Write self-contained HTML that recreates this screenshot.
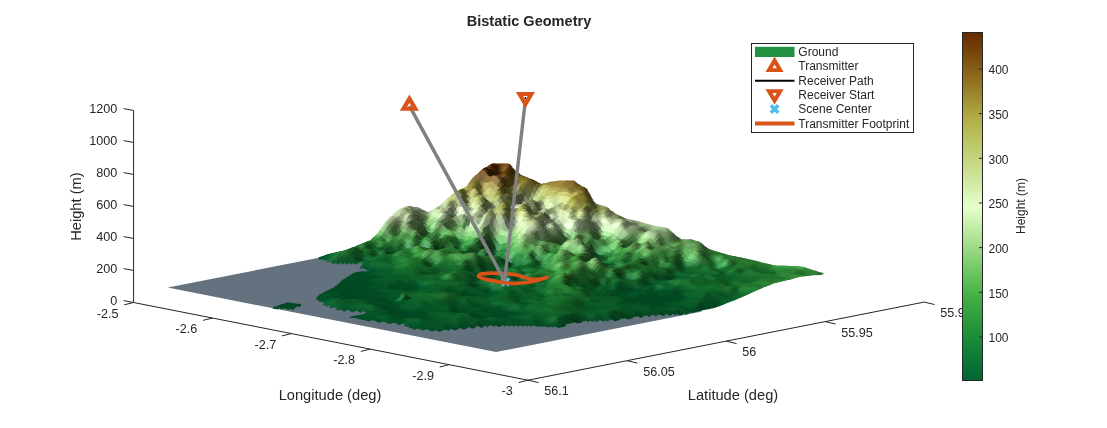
<!DOCTYPE html>
<html><head><meta charset="utf-8"><title>Bistatic Geometry</title>
<style>html,body{margin:0;padding:0;background:#fff}svg{display:block;font-family:"Liberation Sans",sans-serif;will-change:transform;transform:translateZ(0)}</style>
</head><body>
<svg width="1107" height="428" viewBox="0 0 1107 428">
<rect width="1107" height="428" fill="#fff"/>
<g stroke="#262626" stroke-width="1" fill="none">
<path d="M133.6 110.5V302.5"/>
<path d="M133.6 302.5l-10 -1.9"/>
<path d="M133.6 270.5l-10 -1.9"/>
<path d="M133.6 238.5l-10 -1.9"/>
<path d="M133.6 206.5l-10 -1.9"/>
<path d="M133.6 174.5l-10 -1.9"/>
<path d="M133.6 142.5l-10 -1.9"/>
<path d="M133.6 110.5l-10 -1.9"/>
<path d="M133.6 302.5L528.0 380.2"/>
<path d="M133.6 302.5l-9.4 2.3"/>
<path d="M212.48 318.04l-9.4 2.3"/>
<path d="M291.36 333.58l-9.4 2.3"/>
<path d="M370.24 349.12l-9.4 2.3"/>
<path d="M449.12 364.66l-9.4 2.3"/>
<path d="M528 380.2l-9.4 2.3"/>
<path d="M528.0 380.2L924.1 302.1"/>
<path d="M528 380.2l10.5 2.4"/>
<path d="M627.02 360.68l10.5 2.4"/>
<path d="M726.05 341.15l10.5 2.4"/>
<path d="M825.08 321.62l10.5 2.4"/>
<path d="M924.1 302.1l10.5 2.4"/>
</g>
<g font-size="12.6" fill="#262626">
<text x="117.2" y="305.1" text-anchor="end">0</text>
<text x="117.2" y="273.1" text-anchor="end">200</text>
<text x="117.2" y="241.1" text-anchor="end">400</text>
<text x="117.2" y="209.1" text-anchor="end">600</text>
<text x="117.2" y="177.1" text-anchor="end">800</text>
<text x="117.2" y="145.1" text-anchor="end">1000</text>
<text x="117.2" y="113.1" text-anchor="end">1200</text>
<text x="118.4" y="317.6" text-anchor="end">-2.5</text>
<text x="197.28" y="333.14" text-anchor="end">-2.6</text>
<text x="276.16" y="348.68" text-anchor="end">-2.7</text>
<text x="355.04" y="364.22" text-anchor="end">-2.8</text>
<text x="433.92" y="379.76" text-anchor="end">-2.9</text>
<text x="512.8" y="395.3" text-anchor="end">-3</text>
<text x="544.2" y="395.3">56.1</text>
<text x="643.23" y="375.78">56.05</text>
<text x="742.25" y="356.25">56</text>
<text x="841.28" y="336.73">55.95</text>
<text x="940.3" y="317.2">55.9</text>
</g>
<g font-size="14.67" fill="#262626" text-anchor="middle">
<text x="330" y="400.3">Longitude (deg)</text>
<text x="733" y="400.3">Latitude (deg)</text>
<text transform="translate(81.3 206.6) rotate(-90)">Height (m)</text>
</g>
<text x="529" y="25.5" font-size="14.56" font-weight="bold" fill="#262626" text-anchor="middle">Bistatic Geometry</text>
<path d="M167.7 287.6L496.1 352.1L702 311.5L690 305L500 300L380 268L345 258L319 257.8Z" fill="#64717f"/>
<defs><linearGradient id="ul" gradientUnits="userSpaceOnUse" x1="0" y1="163" x2="0" y2="300"><stop offset="0" stop-color="#4a2a10"/><stop offset=".12" stop-color="#6e5a22"/><stop offset=".27" stop-color="#8c8a4a"/><stop offset=".45" stop-color="#8fa07c"/><stop offset=".62" stop-color="#3f8550"/><stop offset=".8" stop-color="#1c6a35"/><stop offset="1" stop-color="#145c2e"/></linearGradient></defs>
<path fill="url(#ul)" d="M319.0 259.5L323.0 257.2L346.7 251.4L370.0 242.1L377.0 236.2L385.3 223.4L398.0 211.7L408.6 207.0L419.0 209.4L428.5 214.1L440.0 207.0L443.4 204.2L455.0 193.8L466.7 187.9L473.7 178.6L483.0 170.4L493.6 164.6L499.4 165.2L510.0 165.2L514.6 171.6L522.8 177.4L532.0 180.9L541.5 185.6L550.8 183.2L560.0 182.1L574.0 182.1L580.0 186.8L586.9 189.8L595.0 204.9L606.7 208.4L616.0 215.5L625.4 220.1L637.0 222.5L653.5 227.2L667.5 229.5L676.8 237.6L681.5 241.2L690.8 240.7L700.0 243.5L708.4 250.5L726.7 256.2L750.0 260.9L773.5 266.8L801.5 267.9L823.7 274.9L796.8 275.5L773.5 281.0L757.0 288.0L738.4 296.5L715.0 305.5L700.0 311.0L689.5 313.2L670.8 314.0L640.5 316.2L610.0 320.2L582.0 321.0L560.0 326.0L527.0 325.0L503.5 325.0L480.0 326.0L456.8 328.6L438.0 330.0L410.0 327.4L405.4 324.0L363.4 319.0L375.0 311.5L340.0 309.5L327.0 305.0L318.5 298.5L322.0 294.6L336.0 287.6L345.4 279.4L357.0 272.6L376.0 272.6L363.0 268.6L365.5 263.5L356.0 263.8L333.0 263.5L325.0 259.5Z"/>
<g transform="scale(.1)">
<path fill="#542e07" d="M4926 1641l27 10 22-1 27 11 22-25-27 0-22-2-27-2z"/>
<path fill="#683e13" d="M4992 1661l32 5 22-30-32 0z"/>
<path fill="#7a4d21" d="M5014 1666l32 3 21-33-31 0z"/>
<path fill="#83552a" d="M5036 1669l32 1 21-34-32 0z"/>
<path fill="#71461f" d="M5058 1670l31-2 22-23-32-9z"/>
<path fill="#46280b" d="M5079 1668l32 1 22 6-32-30z"/>
<path fill="#2c1b05" d="M5101 1669l32 35 22-1-32-28z"/>
<path fill="#39280a" d="M5123 1704l32 31 22-17-32-15z"/>
<path fill="#4e3b10" d="M5145 1735l32 11 22-12-32-16z"/>
<path fill="#564616" d="M5167 1746l27 14 22 6 22 4 27 8 21 0-26-8-22-8-22-13-27-15z"/>
<path fill="#4a4116" d="M5298 1798l27 6 27 11 22 2-27-11-27-10z"/>
<path fill="#4c461a" d="M5364 1825l32 14 22 0-32-11z"/>
<path fill="#686226" d="M5386 1839l32 14 22-18-32 4z"/>
<path fill="#897c2e" d="M5408 1853l27-6 22-7 26 0 22-22-27 6-21 5-27 6z"/>
<path fill="#938035" d="M5473 1840l27 4 27 2 22-34-27 2-27 4z"/>
<path fill="#9d843c" d="M5517 1846l27-4 22-3 27 2 22-36-27 1-22 3-27 3z"/>
<path fill="#a38643" d="M5583 1841l27 2 27 0 22-38-27 0-27 0z"/>
<path fill="#9a7a39" d="M5627 1843l32-4 21-34-31 0z"/>
<path fill="#8b682d" d="M5649 1839l27-5 21 2 27 2 22-32-27-1-22 0-27 0z"/>
<path fill="#7a5b28" d="M5714 1838l32 3 22-18-32-17z"/>
<path fill="#604918" d="M5736 1841l27 18 27 16 22-20-27-15-27-17z"/>
<path fill="#6e5a1f" d="M5780 1875l27 11 27 2 22-14-27-9-27-10z"/>
<path fill="#544415" d="M5824 1888l32 4 22-3-32-15z"/>
<path fill="#363112" d="M5846 1892l27 17 26 41 22 20-27-41-26-40z"/>
<path fill="#38391b" d="M5889 1950l32 45 22 16-32-41z"/>
<path fill="#3e4325" d="M5911 1995l32 40 22 1-32-25z"/>
<path fill="#59623b" d="M5933 2035l32 21 22-13-32-7z"/>
<path fill="#7c8955" d="M5955 2056l32 10 22-17-32-6z"/>
<path fill="#909f65" d="M5977 2066l27 8 22 6 27 4 22-14-27-8-22-6-27-7z"/>
<path fill="#768355" d="M6043 2084l32 7 21-4-31-17z"/>
<path fill="#67735b" d="M6174 2159l27 8 22 11 27 11 22-1-27-8-22-10-27-11z"/>
<path fill="#748466" d="M6240 2189l32 9 21-6-31-4z"/>
<path fill="#809370" d="M6262 2198l32 9 21-10-32-5z"/>
<path fill="#8ba079" d="M6284 2207l26 6 22 4 22 6 27 11 22-17-27-6-22-5-22-5-27-4z"/>
<path fill="#94ad81" d="M6371 2234l32 9 22-20-32-6z"/>
<path fill="#9ab786" d="M6393 2243l27 6 22 5 22 7 22 10 26 8 22-25-27-6-21-6-22-6-22-7-27-6z"/>
<path fill="#a8ca93" d="M6502 2279l27 5 22 4 22 1 27 1 22-21-27-3-22-4-22-3-27-5z"/>
<path fill="#9dbd89" d="M6590 2290l27 3 27 4 22-20-27-4-27-4z"/>
<path fill="#92af7f" d="M6634 2297l32 1 22-12-32-9z"/>
<path fill="#6d845e" d="M6656 2298l32 4 21 3-31-19z"/>
<path fill="#4b5f41" d="M6678 2302l32 18 21 4-32-19z"/>
<path fill="#3e5235" d="M6700 2320l31 17 22 6-32-19z"/>
<path fill="#2d4627" d="M6743 2351l27 22 27 18 22 4-27-17-27-16z"/>
<path fill="#3e6937" d="M6787 2391l32 16 22-12-32 0z"/>
<path fill="#548d4a" d="M6809 2407l32-2 22-11-32 1z"/>
<path fill="#629b55" d="M6831 2405l27 2 22 1 27 0 21-12-26-5-22 2-27 1z"/>
<path fill="#56884b" d="M6897 2408l26 5 22 8 27 6 22-11-27-7-22-7-27-6z"/>
<path fill="#497740" d="M6962 2427l32 5 22-4-32-12z"/>
<path fill="#365c2f" d="M6984 2432l32 10 22 4-32-18z"/>
<path fill="#22451f" d="M7006 2442l27 17 22 18 27 19 22-2-27-11-22-18-27-19z"/>
<path fill="#265d25" d="M7072 2496l32 8 21-4-31-6z"/>
<path fill="#256327" d="M7115 2509l27 7 22 9 22 7 22 6 22 5 22 7 22 7 27 4 21-5-26-4-22-5-22-6-22-7-22-6-22-7-22-7-27-7z"/>
<path fill="#256829" d="M7313 2568l31 3 22-6-32-4z"/>
<path fill="#256728" d="M7356 2573l27 5 22 4 27 9 22-8-27-5-22-4-27-5z"/>
<path fill="#28742e" d="M7422 2591l27 7 22 6 22 7 22 7 21 6 22 5 27 7 22-17-27-6-22-5-22-6-21-5-22-5-22-5-27-4z"/>
<path fill="#297c33" d="M7575 2636l27 7 22 6 22 6 22 5 22 7 27 7 21-22-26-6-22-5-22-6-22-5-22-6-27-5z"/>
<path fill="#338c3f" d="M7707 2674l32 7 21-28-32-1z"/>
<path fill="#409b46" d="M7729 2681l26 2 22 1 22 0 22 0 22 0 22 1 22 1 22 0 22 1 26 2 22-28-27 0-22-1-21-1-22-1-22-1-22-1-22-1-22 0-22-1-27-1z"/>
<path fill="#4ba34c" d="M7947 2689l27 2 22 3 27 2 22-25-27-7-22-2-27-1z"/>
<path fill="#3f913f" d="M8013 2696l32 4 22-22-32-7z"/>
<path fill="#368436" d="M8035 2700l27 3 27 5 22-16-27-7-27-7z"/>
<path fill="#2f7a31" d="M8079 2708l27 5 22 6 26 5 22-12-27-7-21-6-27-7z"/>
<path fill="#296f2c" d="M8144 2724l27 5 22 7 27 7 22-10-27-7-22-7-27-7z"/>
<path fill="#512c06" d="M4904 1653l27-4 27 4 22-11-27 1-27-10z"/>
<path fill="#472705" d="M4948 1653l32 7 22-7-32-11z"/>
<path fill="#52320c" d="M4970 1660l32 21 22-23-32-5z"/>
<path fill="#724e20" d="M4992 1681l32 13 22-33-32-3z"/>
<path fill="#89602d" d="M5014 1694l27 3 27-2 21-35-26 2-27-1z"/>
<path fill="#694216" d="M5058 1695l31-8 22-26-32-1z"/>
<path fill="#402609" d="M5079 1687l32 4 22 5-32-35z"/>
<path fill="#2f1f07" d="M5101 1691l32 35 22 1-32-31z"/>
<path fill="#40310d" d="M5123 1726l32 32 22-20-32-11z"/>
<path fill="#604e1a" d="M5145 1758l32 18 22-24-32-14z"/>
<path fill="#6f5b1e" d="M5167 1776l27 0 27-4 22-10-27-4-27-6z"/>
<path fill="#5d4b16" d="M5211 1772l32 3 22-5-32-8z"/>
<path fill="#514214" d="M5233 1775l27 3 27 10 21 2-27-11-26-9z"/>
<path fill="#483d14" d="M5298 1795l32 9 22 3-32-11z"/>
<path fill="#423a14" d="M5342 1815l32 11 22 5-32-14z"/>
<path fill="#4d471a" d="M5364 1826l32 20 22-1-32-14z"/>
<path fill="#746d2b" d="M5386 1846l32 16 22-23-32 6z"/>
<path fill="#9b9040" d="M5408 1862l32 1 22-31-32 7z"/>
<path fill="#a19444" d="M5430 1863l27-3 27-1 21-23-27-4-26 0z"/>
<path fill="#9c8b3e" d="M5474 1859l26 1 22 3 27 3 22-35-27 3-22 4-27-2z"/>
<path fill="#a28e43" d="M5539 1866l27 1 27-3 22-29-27-2-27-2z"/>
<path fill="#9c843b" d="M5583 1864l27 2 27-5 22-30-27 4-27 0z"/>
<path fill="#8f7332" d="M5627 1861l27-6 22 3 21 6 27 6 22-37-27-3-22-2-21-2-27 5z"/>
<path fill="#7d652c" d="M5714 1870l32 6 22-25-32-18z"/>
<path fill="#715e26" d="M5736 1876l32 18 22-27-32-16z"/>
<path fill="#7d6927" d="M5758 1894l27 10 27-4 22-20-27-2-27-11z"/>
<path fill="#69551b" d="M5802 1900l32-9 22-7-32-4z"/>
<path fill="#483b12" d="M5824 1891l32 12 22-2-32-17z"/>
<path fill="#353113" d="M5846 1903l27 23 27 51 21 10-27-45-26-41z"/>
<path fill="#383b1d" d="M5890 1977l31 38 22 12-32-40z"/>
<path fill="#414628" d="M5911 2015l32 26 22 7-32-21z"/>
<path fill="#565f39" d="M5933 2041l32 25 22-8-32-10z"/>
<path fill="#748151" d="M5955 2066l32 15 22-15-32-8z"/>
<path fill="#8c9c65" d="M5977 2081l32 11 22-20-32-6z"/>
<path fill="#95a76d" d="M5999 2092l32 4 22-20-32-4z"/>
<path fill="#616d53" d="M6174 2157l32 11 22 2-32-11z"/>
<path fill="#738266" d="M6240 2189l32 12 22-2-32-9z"/>
<path fill="#7d906e" d="M6262 2201l27 6 21 5 22 8 22 16 27 17 22-18-27-9-22-11-22-6-22-4-26-6z"/>
<path fill="#8ca97a" d="M6371 2253l32 11 22-23-32-6z"/>
<path fill="#93b27f" d="M6393 2264l27 3 27 1 22-15-27-7-27-5z"/>
<path fill="#86a574" d="M6437 2268l27 14 27 12 21-23-26-8-27-10z"/>
<path fill="#93b87f" d="M6481 2294l32 8 21-26-32-5z"/>
<path fill="#a0c88b" d="M6503 2302l26 5 22 1 27-3 22-23-27-1-22-1-27-4z"/>
<path fill="#97b882" d="M6568 2305l27-3 22 7 27 3 22-22-27-1-22-4-27-3z"/>
<path fill="#8eac7b" d="M6634 2312l32-4 22-14-32-4z"/>
<path fill="#6f8860" d="M6656 2308l32 10 22-6-32-18z"/>
<path fill="#576e4b" d="M6678 2318l32 12 21-1-31-17z"/>
<path fill="#465b3c" d="M6700 2330l31 8 22 5-32-14z"/>
<path fill="#33472b" d="M6721 2338l27 18 27 21 22 6-27-18-27-22z"/>
<path fill="#36552f" d="M6765 2377l32 19 22 3-32-16z"/>
<path fill="#49773f" d="M6787 2396l32 17 22-16-32 2z"/>
<path fill="#5c9751" d="M6809 2413l32 2 22-16-32-2z"/>
<path fill="#65a058" d="M6831 2415l27-1 27-1 22-13-27 0-27-1z"/>
<path fill="#5e9252" d="M6875 2413l32 2 21-10-31-5z"/>
<path fill="#55864a" d="M6897 2415l27 7 21 8 27 4 22-10-27-5-22-6-27-8z"/>
<path fill="#49753f" d="M6962 2434l32 3 22-3-32-10z"/>
<path fill="#375b30" d="M6984 2437l32 9 22 5-32-17z"/>
<path fill="#254521" d="M7006 2446l27 17 27 21 22 4-27-19-27-18z"/>
<path fill="#265424" d="M7050 2484l32 16 22-4-32-8z"/>
<path fill="#2b692b" d="M7072 2500l27 7 22 7 21 11 22 7 27 5 22-7-27-6-22-7-22-9-22-7-26-5z"/>
<path fill="#296d2b" d="M7181 2537l27 9 22 7 22 5 27 4 22-9-27-4-22-7-22-7-27-5z"/>
<path fill="#286e2c" d="M7291 2564l27 2 21 5 22 8 22 10 22 9 27 7 22-15-27-7-22-9-22-4-22-5-22-2-26-3z"/>
<path fill="#26752f" d="M7422 2605l27 9 22 8 22 3 22 3 22 5 21 11 22 9 22 6 22 6 22 8 22 8 27 9 22-24-27-7-22-7-22-5-22-6-22-6-22-7-22-7-22-5-21-6-22-7-22-7-27-6z"/>
<path fill="#2c843b" d="M7685 2690l27 7 27 4 21-26-26-2-27-7z"/>
<path fill="#358f3d" d="M7729 2701l26 2 22 4 22-2 22-5 22-3 22 1 22 0 22 1 22 4 21 2 22 4 22 1 27-3 22-15-27-4-22-2-22-3-22-2-21-2-22-1-22 0-22-1-22-1-22 0-22 0-22 0-27-1z"/>
<path fill="#318033" d="M8013 2707l27 3 22 7 22 4 22 5 22 4 27 3 21-12-27-5-21-5-22-6-22-5-22-5-27-3z"/>
<path fill="#2a702c" d="M8145 2733l26 3 27 9 22-10-27-7-27-7z"/>
<path fill="#371e04" d="M4926 1644l27 11 27 34 22-16-27-21-27-7z"/>
<path fill="#4e3612" d="M4970 1689l32 24 22-27-32-13z"/>
<path fill="#735623" d="M4992 1713l32 12 22-36-32-3z"/>
<path fill="#846126" d="M5014 1725l32-3 22-35-32 2z"/>
<path fill="#7c541b" d="M5036 1722l32-14 21-29-31 8z"/>
<path fill="#5b370d" d="M5058 1708l32-13 21-12-32-4z"/>
<path fill="#332208" d="M5080 1695l26 22 27 44 22-11-27-32-27-35z"/>
<path fill="#524518" d="M5123 1761l32 32 22-25-32-18z"/>
<path fill="#7e6a25" d="M5145 1793l27 1 27-13 22-17-27 4-27 0z"/>
<path fill="#735d1d" d="M5189 1781l32-2 22-12-32-3z"/>
<path fill="#67521a" d="M5211 1779l27 4 27 6 22-9-27-10-27-3z"/>
<path fill="#534314" d="M5277 1787l31 8 22 1-32-9z"/>
<path fill="#453a13" d="M5298 1795l27 9 22 11 27 29 22-6-27-20-22-11-27-11z"/>
<path fill="#625c27" d="M5364 1844l32 34 22-24-32-16z"/>
<path fill="#a9a55a" d="M5386 1878l32 23 22-46-32-1z"/>
<path fill="#ccc771" d="M5408 1901l32-5 22-44-32 3z"/>
<path fill="#bcb45e" d="M5430 1896l32-7 22-38-32 1z"/>
<path fill="#b0a553" d="M5452 1889l27-5 26-2 22-27-27-3-26-1z"/>
<path fill="#a59848" d="M5495 1882l27 5 27-3 22-25-27-1-27-3z"/>
<path fill="#a39244" d="M5539 1884l27 0 22 5 27-3 22-33-27 5-22-2-27 3z"/>
<path fill="#9b8538" d="M5605 1886l32-9 22-30-32 6z"/>
<path fill="#917a36" d="M5627 1877l27-2 22 8 27 5 21-26-27-6-21-6-27-3z"/>
<path fill="#837231" d="M5693 1888l26 13 22 9 27 9 22-23-27-10-22-18-27-6z"/>
<path fill="#5b4916" d="M5802 1890l32 13 22-8-32-12z"/>
<path fill="#433812" d="M5824 1903l32 11 22 4-32-23z"/>
<path fill="#363414" d="M5846 1914l27 35 27 38 21 20-26-38-27-51z"/>
<path fill="#3d4224" d="M5911 2011l32 39 22 8-32-25z"/>
<path fill="#4e5635" d="M5933 2050l32 34 22-11-32-15z"/>
<path fill="#6c784e" d="M5955 2084l32 11 22-11-32-11z"/>
<path fill="#5e6a50" d="M6196 2168l32 10 22 3-32-11z"/>
<path fill="#667259" d="M6218 2178l32 19 22-4-32-12z"/>
<path fill="#7f8d71" d="M6240 2197l32 9 22-7-32-6z"/>
<path fill="#90a180" d="M6262 2206l32 2 21-4-31-5z"/>
<path fill="#879778" d="M6284 2208l32 7 21-3-32-8z"/>
<path fill="#6e7e61" d="M6306 2215l31 19 22-6-32-16z"/>
<path fill="#637556" d="M6327 2234l32 20 22-9-32-17z"/>
<path fill="#708860" d="M6349 2254l32 16 22-14-32-11z"/>
<path fill="#85a473" d="M6371 2270l27 6 27-4 22-12-27-1-27-3z"/>
<path fill="#6f8c60" d="M6415 2272l27 16 27 15 22-17-27-12-27-14z"/>
<path fill="#789d68" d="M6459 2303l32 12 22-21-32-8z"/>
<path fill="#8ab477" d="M6481 2315l32 7 21-23-31-5z"/>
<path fill="#90b47b" d="M6546 2317l32-10 22-13-32 3z"/>
<path fill="#88a975" d="M6568 2307l27 9 27 6 22-18-27-3-27-7z"/>
<path fill="#93b67f" d="M6612 2322l32-2 22-20-32 4z"/>
<path fill="#89a977" d="M6634 2320l32 7 22-17-32-10z"/>
<path fill="#749164" d="M6656 2327l32-2 22-3-32-12z"/>
<path fill="#475a3d" d="M6700 2326l32 19 21 3-32-18z"/>
<path fill="#374e30" d="M6722 2345l26 22 27 23 22-2-27-19-27-21z"/>
<path fill="#3d6035" d="M6765 2390l32 24 22-9-32-17z"/>
<path fill="#508647" d="M6787 2414l32 18 22-25-32-2z"/>
<path fill="#65a258" d="M6809 2432l27-4 22-8 27 2 22-15-27-2-22 1-27 1z"/>
<path fill="#588a4d" d="M6875 2422l27 2 22 9 21 4 27 0 22-8-27-3-22-4-21-8-27-7z"/>
<path fill="#4c7842" d="M6962 2437l32 4 22-3-32-9z"/>
<path fill="#385b31" d="M6984 2441l32 12 22 2-32-17z"/>
<path fill="#284a24" d="M7006 2453l27 20 27 19 22 0-27-16-27-21z"/>
<path fill="#2b5c29" d="M7050 2492l32 14 22-7-32-7z"/>
<path fill="#2d6b2c" d="M7072 2506l27 10 22 13 26 7 22-12-27-7-21-11-27-7z"/>
<path fill="#2c742e" d="M7137 2536l27 9 22 9 22 4 27 1 22-9-27-5-22-7-22-9-27-5z"/>
<path fill="#2b752f" d="M7247 2560l27 4 22 4 22 9 22 10 21 12 22 11 22 6 22 7 27 9 22-18-27-8-22-9-22-7-22-9-22-10-22-8-21-5-22-2-27-2z"/>
<path fill="#297b31" d="M7444 2632l27 3 22 1 27 3 22-14-27-5-22-3-27-3z"/>
<path fill="#216f2d" d="M7510 2639l27 12 21 12 22 7 22 5 22 7 22 9 22 11 27 10 22-23-27-7-22-9-22-8-22-8-22-6-22-6-22-9-26-11z"/>
<path fill="#227934" d="M7685 2712l27 3 27 5 21-25-26-2-27-4z"/>
<path fill="#2b8436" d="M7729 2720l27 5 21-3 22-7 22-8 22-1 22 2 22 3 22 2 27-3 21-13-26-2-22-4-22-1-22 0-22-1-22 3-22 5-22 2-27-4z"/>
<path fill="#2e7b31" d="M7948 2711l26 0 22 1 22 4 22 11 27 8 22-22-27-4-22-7-22-3-22 3-27-1z"/>
<path fill="#318335" d="M8057 2735l27 5 22 3 22-1 27-1 21-13-26-3-22-3-22-4-27-5z"/>
<path fill="#2b732d" d="M8145 2741l31 6 22-10-32-9z"/>
<path fill="#2b1804" d="M4926 1641l27 23 27 31 22 10-27-24-27-34z"/>
<path fill="#45300d" d="M4970 1695l32 29 22-7-32-12z"/>
<path fill="#664b16" d="M4992 1724l32 13 22-23-32 3z"/>
<path fill="#6a440f" d="M5036 1727l32-20 22-20-32 13z"/>
<path fill="#4a2e0a" d="M5058 1707l32 17 21-15-31-22z"/>
<path fill="#302208" d="M5080 1724l31 30 22-1-32-44z"/>
<path fill="#382e0e" d="M5101 1754l32 37 22-6-32-32z"/>
<path fill="#61551e" d="M5123 1791l32 16 22-21-32-1z"/>
<path fill="#846f29" d="M5145 1807l27-5 22-2 22 5 22 2 27-1 22-27-27 2-22-6-22-4-22 2-27 13z"/>
<path fill="#705a1d" d="M5255 1806l32-5 21-14-31-8z"/>
<path fill="#5c4916" d="M5277 1801l32-1 21-4-32-9z"/>
<path fill="#4e4318" d="M5299 1800l26 27 27 43 22-34-27-29-27-11z"/>
<path fill="#64622f" d="M5342 1870l32 45 22-45-32-34z"/>
<path fill="#adb16e" d="M5364 1915l32 29 22-51-32-23z"/>
<path fill="#dbe18f" d="M5386 1944l32-3 22-53-32 5z"/>
<path fill="#d1d378" d="M5408 1941l27-13 27 2 22-54-27 5-27 7z"/>
<path fill="#cbc96f" d="M5452 1930l32-11 21-45-31 2z"/>
<path fill="#b8b05c" d="M5474 1919l27-12 21 0 22 6 27 5 22-37-27-5-22 0-22 3-27-5z"/>
<path fill="#b4a954" d="M5561 1918l32-2 22-38-32 3z"/>
<path fill="#a59543" d="M5583 1916l27-14 27-1 22-34-27 2-27 9z"/>
<path fill="#a08e44" d="M5627 1901l32 3 22-29-32-8z"/>
<path fill="#94823b" d="M5649 1904l32 0 22-24-32-5z"/>
<path fill="#847631" d="M5671 1904l27 7 21 16 27 1 22-17-27-9-22-9-26-13z"/>
<path fill="#745f23" d="M5780 1897l32 18 22-20-32-13z"/>
<path fill="#695924" d="M5802 1915l32 11 22-20-32-11z"/>
<path fill="#53481b" d="M5824 1926l32 3 22 12-32-35z"/>
<path fill="#586348" d="M6152 2146l27 11 22 11 27 21 22 0-27-19-22-10-27-11z"/>
<path fill="#6d7a60" d="M6218 2189l32 24 22-15-32-9z"/>
<path fill="#99ab88" d="M6240 2213l32 16 22-29-32-2z"/>
<path fill="#a8bc95" d="M6262 2229l32 2 22-24-32-7z"/>
<path fill="#869776" d="M6284 2231l32 0 21-5-31-19z"/>
<path fill="#5c6c50" d="M6306 2231l26 14 27 16 22 1-27-16-27-20z"/>
<path fill="#6c855d" d="M6349 2261l32 12 22-5-32-6z"/>
<path fill="#6c845d" d="M6393 2272l32 7 22 1-32-16z"/>
<path fill="#576e4b" d="M6415 2279l32 18 22-2-32-15z"/>
<path fill="#5c7a4f" d="M6437 2297l32 27 22-17-32-12z"/>
<path fill="#749f64" d="M6459 2324l32 15 22-25-32-7z"/>
<path fill="#799768" d="M6546 2304l27 12 27 8 22-10-27-6-27-9z"/>
<path fill="#758d65" d="M6656 2321l32 2 22-5-32-1z"/>
<path fill="#5a6f4e" d="M6678 2323l32 21 22-7-32-19z"/>
<path fill="#465b3c" d="M6700 2344l32 21 21-6-31-22z"/>
<path fill="#3b5733" d="M6722 2365l26 26 27 27 22-12-27-24-27-23z"/>
<path fill="#42713a" d="M6765 2418l32 19 22-13-32-18z"/>
<path fill="#65a458" d="M6809 2441l27-12 27 1 22-16-27-2-27 8z"/>
<path fill="#5f9452" d="M6853 2430l27-2 22 6 22 6 27 2 21-13-27 0-21-4-22-9-27-2z"/>
<path fill="#5c8e50" d="M6941 2442l31 1 22-10-32-4z"/>
<path fill="#4c7642" d="M6962 2443l32 9 22-7-32-12z"/>
<path fill="#375a30" d="M6984 2452l32 12 22 1-32-20z"/>
<path fill="#294d25" d="M7006 2464l27 20 27 17 22-3-27-14-27-19z"/>
<path fill="#2b6029" d="M7050 2501l27 15 27 11 22-6-27-13-27-10z"/>
<path fill="#2b6d2c" d="M7094 2527l27 12 27 12 21-14-27-9-26-7z"/>
<path fill="#2d782f" d="M7138 2551l26 7 27-1 22-7-27-4-27-9z"/>
<path fill="#2e7630" d="M7203 2557l27 2 22 9 22 13 27 12 22-24-27-9-22-4-22-4-27-1z"/>
<path fill="#328036" d="M7291 2593l32 7 22-21-32-10z"/>
<path fill="#2b7630" d="M7313 2600l32 3 21-12-31-12z"/>
<path fill="#26702d" d="M7335 2603l26 17 27 10 22-22-27-6-27-11z"/>
<path fill="#277931" d="M7378 2630l27 3 22 8 22 9 22 4 22-1 27 6 22-16-27-12-22-3-22-1-22-3-22-9-27-7z"/>
<path fill="#1d6628" d="M7510 2659l27 9 27 12 21-18-27-7-26-12z"/>
<path fill="#1f6f2d" d="M7554 2680l26 9 22 5 27 3 22-14-27-9-22-7-27-5z"/>
<path fill="#186629" d="M7619 2697l27 6 22 13 22 6 22 5 27 5 22-15-27-5-22-5-22-3-22-10-27-11z"/>
<path fill="#1b732f" d="M7729 2732l32 1 21-19-31 3z"/>
<path fill="#258033" d="M7751 2733l26-5 22-11 22-3 27 2 22-16-27-2-22 1-22 8-27 7z"/>
<path fill="#2b8234" d="M7838 2716l27 7 22 1 27-10 22-12-27 3-22-2-27-3z"/>
<path fill="#296e2c" d="M7948 2700l26 8 22 14 22 13 27 12 22-20-27-8-22-11-22-4-27-1z"/>
<path fill="#2e8033" d="M8035 2747l27 4 22-3 22-1 22 1 27 2 21-11-26-6-22 1-22 1-22-3-27-5z"/>
<path fill="#241302" d="M4926 1643l32 59 22-15-32-31z"/>
<path fill="#302107" d="M4948 1702l32 26 22-12-32-29z"/>
<path fill="#48340d" d="M4970 1728l32 4 22-3-32-13z"/>
<path fill="#634712" d="M4992 1732l32 5 22-18-32 10z"/>
<path fill="#5a3b0f" d="M5036 1720l32 17 22-21-32-17z"/>
<path fill="#3d2c0b" d="M5058 1737l32 16 21-7-31-30z"/>
<path fill="#32270b" d="M5080 1753l32 25 21 5-32-37z"/>
<path fill="#5e531d" d="M5123 1800l32 10 22-16-32 5z"/>
<path fill="#746526" d="M5145 1810l32 6 22-24-32 2z"/>
<path fill="#847530" d="M5167 1816l32 11 22-30-32-5z"/>
<path fill="#928035" d="M5189 1827l27 2 27-3 22-28-27 1-27-2z"/>
<path fill="#887229" d="M5233 1826l32-10 22-23-32 5z"/>
<path fill="#756024" d="M5255 1816l32 6 22-30-32 1z"/>
<path fill="#5e5627" d="M5277 1822l27 46 26 52 22-58-27-43-26-27z"/>
<path fill="#777b47" d="M5320 1920l32 44 22-57-32-45z"/>
<path fill="#b8c387" d="M5342 1964l32 22 22-50-32-29z"/>
<path fill="#d9e89d" d="M5364 1986l32-11 22-42-32 3z"/>
<path fill="#cbd581" d="M5386 1975l27-16 22 9 27-5 22-52-27 11-22-2-27 13z"/>
<path fill="#c6c76d" d="M5452 1963l27-9 22-8 21-1 27 0 22-35-27-5-22-6-21 0-27 12z"/>
<path fill="#b5b258" d="M5539 1945l32-4 22-33-32 2z"/>
<path fill="#ada74d" d="M5561 1941l32-12 22-35-32 14z"/>
<path fill="#b6ab58" d="M5583 1929l27 1 22-1 27 0 22-33-27 0-22-3-27 1z"/>
<path fill="#a5984e" d="M5649 1929l32-3 22-23-32-7z"/>
<path fill="#998e44" d="M5671 1926l27 17 27 6 21-29-27-1-26-16z"/>
<path fill="#988a37" d="M5715 1949l31-19 22-20-32 10z"/>
<path fill="#948136" d="M5736 1930l32-8 22-33-32 21z"/>
<path fill="#988743" d="M5758 1922l27 25 27 2 22-31-27-11-27-18z"/>
<path fill="#7a6c2a" d="M5802 1949l32-3 22-25-32-3z"/>
<path fill="#544a19" d="M5824 1946l32 5 22-11-32-19z"/>
<path fill="#3c3714" d="M5846 1951l32 14 22 10-32-35z"/>
<path fill="#55603f" d="M6131 2129l31 19 22 1-32-11z"/>
<path fill="#5f6b49" d="M6152 2148l32 12 22 0-32-11z"/>
<path fill="#525b44" d="M6174 2160l27 18 27 35 22-8-27-24-27-21z"/>
<path fill="#6c795f" d="M6284 2224l32 9 21 4-31-14z"/>
<path fill="#55614a" d="M6306 2233l32 17 21 3-32-16z"/>
<path fill="#657858" d="M6328 2250l31 18 22-3-32-12z"/>
<path fill="#6e8460" d="M6371 2269l32 6 22-4-32-7z"/>
<path fill="#4e6044" d="M6393 2275l32 21 22-7-32-18z"/>
<path fill="#425739" d="M6415 2296l32 34 22-14-32-27z"/>
<path fill="#567b4a" d="M6437 2330l32 19 22-18-32-15z"/>
<path fill="#809c6f" d="M6525 2305l31 10 22-7-32-12z"/>
<path fill="#759165" d="M6546 2315l32 7 22-6-32-8z"/>
<path fill="#7f976f" d="M6634 2319l32 11 22-15-32-2z"/>
<path fill="#677d59" d="M6656 2330l32 16 22-10-32-21z"/>
<path fill="#516846" d="M6678 2346l32 23 22-12-32-21z"/>
<path fill="#3f5b36" d="M6700 2369l27 25 27 28 21-12-27-27-26-26z"/>
<path fill="#3e6a37" d="M6744 2422l31 18 22-11-32-19z"/>
<path fill="#5c9750" d="M6787 2439l27-2 27-3 22-12-27-1-27 12z"/>
<path fill="#669d59" d="M6831 2434l27 1 27 15 22-24-27-6-27 2z"/>
<path fill="#68a25b" d="M6875 2450l27 3 22-2 27-4 21-12-26-1-22-2-27-6z"/>
<path fill="#59884d" d="M6941 2447l31 7 22-10-32-9z"/>
<path fill="#476f3e" d="M6962 2454l32 5 22-3-32-12z"/>
<path fill="#35562e" d="M6984 2459l32 11 22 6-32-20z"/>
<path fill="#294d25" d="M7006 2470l27 20 27 21 22-3-27-15-27-17z"/>
<path fill="#285826" d="M7050 2511l32 19 22-11-32-11z"/>
<path fill="#296529" d="M7072 2530l27 12 27 10 22-9-27-12-27-12z"/>
<path fill="#2d762f" d="M7116 2552l32 12 21-14-31-7z"/>
<path fill="#358637" d="M7138 2564l26 1 22-2 27 1 22-13-27-2-22 0-27 1z"/>
<path fill="#317932" d="M7203 2564l32 8 22-12-32-9z"/>
<path fill="#29702e" d="M7225 2572l27 18 22 18 22 9 27-4 22-18-27-3-22-7-22-12-27-13z"/>
<path fill="#206327" d="M7313 2613l27 10 27 16 21-17-27-10-26-17z"/>
<path fill="#22722e" d="M7357 2639l26 8 22 0 22 11 22 7 22-1 27 0 22-13-27-6-22 1-22-4-22-9-22-8-27-3z"/>
<path fill="#186327" d="M7488 2664l27 8 22 13 22 13 21 5 22 2 22 7 22 9 22 5 22 1 22 3 27 6 22-11-27-1-22-5-22-5-22-6-22-13-22-6-22-3-22-5-21-9-22-12-27-9z"/>
<path fill="#1a712d" d="M7729 2736l32 0 21-16-31 5z"/>
<path fill="#258134" d="M7751 2736l27-8 26-2 22-20-27 3-27 11z"/>
<path fill="#2b8435" d="M7794 2726l27 2 22 5 22-2 22-6 27-5 22-24-27 10-22 10-22-1-22-7-27-2z"/>
<path fill="#358a37" d="M7904 2720l32-6 22-22-32 4z"/>
<path fill="#327d32" d="M7926 2714l32-3 21-11-31-8z"/>
<path fill="#256929" d="M7948 2711l27 11 21 16 22 10 27 9 22-14-27-4-22-12-22-13-27-14z"/>
<path fill="#2e8032" d="M8035 2757l27 1 22-9 22 2 27 1 22-10-27-2-22-1-22 1-27 3z"/>
<path fill="#4a2102" d="M4883 1665l32-12 21-18-32 10z"/>
<path fill="#2f1703" d="M4905 1653l31 25 22 16-32-59z"/>
<path fill="#47310b" d="M4970 1715l32 20 22-6-32-5z"/>
<path fill="#654614" d="M4992 1735l27 4 27 3 22-13-27-17-27 17z"/>
<path fill="#4a350d" d="M5036 1742l32 10 22-7-32-16z"/>
<path fill="#3c2e0c" d="M5058 1752l32 22 22-4-32-25z"/>
<path fill="#5b501d" d="M5145 1805l32 27 22-13-32-11z"/>
<path fill="#847832" d="M5167 1832l32 14 22-25-32-2z"/>
<path fill="#928235" d="M5189 1846l27-13 27 4 22-29-27 10-27 3z"/>
<path fill="#827437" d="M5233 1837l32 19 22-42-32-6z"/>
<path fill="#625d2d" d="M5255 1856l32 59 22-55-32-46z"/>
<path fill="#626538" d="M5277 1915l32 61 21-64-31-52z"/>
<path fill="#8f9b6b" d="M5299 1976l32 33 21-53-32-44z"/>
<path fill="#c9daa2" d="M5321 2009l31 7 22-38-32-22z"/>
<path fill="#d1e6a1" d="M5342 2016l32-13 22-36-32 11z"/>
<path fill="#c0d182" d="M5364 2003l27-23 27-2 22-18-27-9-27 16z"/>
<path fill="#b6c474" d="M5408 1978l32-8 22-15-32 5z"/>
<path fill="#b6c06b" d="M5430 1970l27-7 27 1 22-26-27 8-27 9z"/>
<path fill="#c5ca73" d="M5474 1964l27 2 27-5 21-24-27 0-26 1z"/>
<path fill="#babb61" d="M5518 1961l26-8 27 2 22-34-27 12-27 4z"/>
<path fill="#d0ce78" d="M5561 1955l32 8 22-41-32-1z"/>
<path fill="#d7d47f" d="M5583 1963l27 6 22 2 27 3 22-56-27 3-22 0-27 1z"/>
<path fill="#cbc676" d="M5649 1974l32-2 22-37-32-17z"/>
<path fill="#c4c16c" d="M5671 1972l32 10 22-41-32-6z"/>
<path fill="#b7ad58" d="M5693 1982l27-20 26-7 22-41-27 8-26 19z"/>
<path fill="#bdb267" d="M5736 1955l32 20 22-36-32-25z"/>
<path fill="#6b5d20" d="M5802 1940l32 2 22 1-32-5z"/>
<path fill="#514719" d="M5824 1942l32 12 22 3-32-14z"/>
<path fill="#3e3814" d="M5846 1954l32 8 22 19-32-24z"/>
<path fill="#383b1d" d="M5912 2007l32 38 21 21-32-33z"/>
<path fill="#727b44" d="M6021 2084l32 1 22 3-32-5z"/>
<path fill="#4b5331" d="M6087 2096l32 31 22-6-32-16z"/>
<path fill="#5c6642" d="M6109 2127l32 28 21-15-31-19z"/>
<path fill="#738157" d="M6131 2155l31 12 22-15-32-12z"/>
<path fill="#6b7854" d="M6152 2167l32 12 22-9-32-18z"/>
<path fill="#505a43" d="M6174 2179l32 25 22 1-32-35z"/>
<path fill="#6f7c60" d="M6262 2213l32 3 22 9-32-9z"/>
<path fill="#5a6450" d="M6284 2216l32 33 22-7-32-17z"/>
<path fill="#6c7d5e" d="M6306 2249l32 24 21-13-31-18z"/>
<path fill="#879f75" d="M6328 2273l31-4 22-8-32-1z"/>
<path fill="#5a6b4e" d="M6371 2267l32 17 22 4-32-21z"/>
<path fill="#405137" d="M6393 2284l32 27 22 11-32-34z"/>
<path fill="#435c39" d="M6415 2311l32 22 22 8-32-19z"/>
<path fill="#9bbe86" d="M6481 2319l32-3 22-19-32 9z"/>
<path fill="#93b27f" d="M6503 2316l32 7 21-16-31-10z"/>
<path fill="#87a574" d="M6525 2323l32 1 21-10-32-7z"/>
<path fill="#839a72" d="M6612 2318l32 17 22-13-32-11z"/>
<path fill="#728b63" d="M6634 2335l32 18 22-15-32-16z"/>
<path fill="#5f7a52" d="M6656 2353l32 22 22-14-32-23z"/>
<path fill="#4c6841" d="M6678 2375l32 25 22-14-32-25z"/>
<path fill="#406338" d="M6700 2400l32 25 22-11-32-28z"/>
<path fill="#44733c" d="M6722 2425l32 16 21-9-31-18z"/>
<path fill="#5b8e4f" d="M6787 2428l27 5 27 22 22-28-27-1-27 3z"/>
<path fill="#6ba661" d="M6831 2455l32 19 22-32-32-15z"/>
<path fill="#6db262" d="M6853 2474l27-1 27-11 22-19-27 2-27-3z"/>
<path fill="#6ca95d" d="M6897 2462l32-9 22-14-32 4z"/>
<path fill="#669b58" d="M6919 2453l32-1 21-6-31-7z"/>
<path fill="#5c8a4f" d="M6941 2452l32 2 21-3-32-5z"/>
<path fill="#4b7341" d="M6963 2454l31 11 22-3-32-11z"/>
<path fill="#395c31" d="M6984 2465l32 21 22-4-32-20z"/>
<path fill="#295226" d="M7006 2486l27 15 22 21 27 13 22-1-27-12-22-19-27-21z"/>
<path fill="#265f26" d="M7072 2535l32 27 22-18-32-10z"/>
<path fill="#2d7330" d="M7094 2562l32 19 22-25-32-12z"/>
<path fill="#388d3d" d="M7116 2581l32 4 21-28-31-1z"/>
<path fill="#449d47" d="M7138 2585l27-3 26 2 22-28-27-1-27 2z"/>
<path fill="#4b9e4e" d="M7181 2584l32 7 22-27-32-8z"/>
<path fill="#3b873e" d="M7203 2591l32 5 22-14-32-18z"/>
<path fill="#286f2d" d="M7225 2596l32 3 22 1-32-18z"/>
<path fill="#1b5320" d="M7291 2599l27 19 27 23 22-10-27-16-27-10z"/>
<path fill="#1c6227" d="M7335 2641l32 13 21-15-31-8z"/>
<path fill="#21722d" d="M7357 2654l26 3 27-2 22-5-27-11-27 0z"/>
<path fill="#1e6a29" d="M7422 2657l27 5 22 6 27 7 22-11-27-8-22 0-27 1z"/>
<path fill="#185f25" d="M7488 2675l27 11 22 14 27 6 21-11-26-5-22-13-27-13z"/>
<path fill="#186629" d="M7554 2706l27 3 21 5 22 11 27 2 22-9-27-5-22-9-22-7-27-2z"/>
<path fill="#176427" d="M7663 2727l27 4 22 5 27 4 22-12-27 0-22-6-27-3z"/>
<path fill="#1e762f" d="M7729 2740l32 2 22-22-32 8z"/>
<path fill="#288437" d="M7751 2742l27 4 21 1 22-3 27-5 22-16-27 2-22-5-22-2-26 2z"/>
<path fill="#338b37" d="M7860 2733l27-8 22-2 27 2 22-22-27 3-22 6-27 5z"/>
<path fill="#317d33" d="M7926 2725l32 6 22-17-32-11z"/>
<path fill="#256829" d="M7948 2731l27 10 21 7 27 8 22-7-27-9-22-10-26-16z"/>
<path fill="#2f8133" d="M8035 2764l27-3 22-4 27-2 22-11-27-1-22-2-27 9z"/>
<path fill="#5d2d05" d="M4861 1677l32-12 22-20-32 12z"/>
<path fill="#482103" d="M4883 1665l32-8 21 13-31-25z"/>
<path fill="#2e1d06" d="M4948 1702l32 27 22-2-32-20z"/>
<path fill="#49340e" d="M4970 1729l32 23 22-21-32-4z"/>
<path fill="#624613" d="M4992 1752l32 3 22-21-32-3z"/>
<path fill="#563d0f" d="M5014 1755l32-8 22-3-32-10z"/>
<path fill="#43310c" d="M5036 1747l32 24 22-5-32-22z"/>
<path fill="#34280c" d="M5102 1769l32 28 21 0-32-19z"/>
<path fill="#3d3512" d="M5124 1797l31 44 22-17-32-27z"/>
<path fill="#7b7335" d="M5145 1841l32 28 22-31-32-14z"/>
<path fill="#a79d4b" d="M5167 1869l32-14 22-30-32 13z"/>
<path fill="#958a42" d="M5189 1855l32 10 22-36-32-4z"/>
<path fill="#777239" d="M5211 1865l32 41 22-58-32-19z"/>
<path fill="#5d5f32" d="M5233 1906l32 52 22-51-32-59z"/>
<path fill="#626b45" d="M5255 1958l32 63 22-53-32-61z"/>
<path fill="#a1b187" d="M5277 2021l32 20 22-40-32-33z"/>
<path fill="#c7dea1" d="M5321 2037l31-9 22-33-32 13z"/>
<path fill="#c4da94" d="M5342 2028l32-12 22-44-32 23z"/>
<path fill="#bed286" d="M5364 2016l32-14 22-32-32 2z"/>
<path fill="#b2c172" d="M5386 2002l27-11 27-7 22-29-27 7-27 8z"/>
<path fill="#c2ce80" d="M5430 1984l32 8 22-36-32-1z"/>
<path fill="#d9e597" d="M5452 1992l27 15 27-3 22-51-27 5-27-2z"/>
<path fill="#ced582" d="M5496 2004l27-13 26 3 22-47-27-2-26 8z"/>
<path fill="#d1d991" d="M5539 1994l32 35 22-74-32-8z"/>
<path fill="#dce7a0" d="M5561 2029l32 22 22-90-32-6z"/>
<path fill="#e5f0a2" d="M5583 2051l27-15 27 4 22-74-27-3-27-2z"/>
<path fill="#e2ea99" d="M5627 2040l27-13 27 7 22-60-27-10-27 2z"/>
<path fill="#cfd47c" d="M5671 2034l32-20 22-60-32 20z"/>
<path fill="#c8c76d" d="M5693 2014l32-17 21-50-31 7z"/>
<path fill="#c1be66" d="M5715 1997l32 3 21-33-32-20z"/>
<path fill="#7f6e29" d="M5780 1941l32 25 22-32-32-2z"/>
<path fill="#726426" d="M5802 1966l32-16 22-4-32-12z"/>
<path fill="#5d501b" d="M5824 1950l32 10 22-6-32-8z"/>
<path fill="#373415" d="M5868 1953l27 41 27 43 22 0-27-38-27-34z"/>
<path fill="#393c1e" d="M5912 2037l32 36 21-5-31-31z"/>
<path fill="#4d532e" d="M5934 2073l31 17 22-11-32-11z"/>
<path fill="#858e4e" d="M5977 2086l27-1 22 8 27 7 22-22-27-1-22-1-27 3z"/>
<path fill="#767e46" d="M6043 2100l32 7 22-19-32-10z"/>
<path fill="#596139" d="M6065 2107l32 33 22-21-32-31z"/>
<path fill="#626e48" d="M6087 2140l32 31 22-24-32-28z"/>
<path fill="#849468" d="M6109 2171l27 12 27 5 21-17-27-12-26-12z"/>
<path fill="#72805d" d="M6153 2188l31 7 22 1-32-25z"/>
<path fill="#5f6a50" d="M6174 2195l32 7 22 16-32-22z"/>
<path fill="#687456" d="M6240 2205l32 15 22-12-32-3z"/>
<path fill="#555e4a" d="M6262 2220l32 39 22-18-32-33z"/>
<path fill="#657658" d="M6284 2259l32 24 22-18-32-24z"/>
<path fill="#8ea67b" d="M6306 2283l27-7 27-6 21-11-27 2-26 4z"/>
<path fill="#718462" d="M6350 2270l31 27 22-21-32-17z"/>
<path fill="#536948" d="M6371 2297l27 20 27 4 22 4-27-22-27-27z"/>
<path fill="#607e52" d="M6415 2321l32 5 22-2-32 1z"/>
<path fill="#82a66f" d="M6437 2326l32 6 22-21-32 13z"/>
<path fill="#96bb81" d="M6459 2332l27 3 27 2 22-22-27-7-27 3z"/>
<path fill="#859b74" d="M6568 2315l32 17 22-22-32 0z"/>
<path fill="#758e65" d="M6590 2332l27 24 27 23 22-34-27-18-27-17z"/>
<path fill="#698a5b" d="M6634 2379l32 17 22-29-32-22z"/>
<path fill="#5a7e4e" d="M6656 2396l32 17 22-21-32-25z"/>
<path fill="#4e7744" d="M6678 2413l32 25 22-21-32-25z"/>
<path fill="#4f8646" d="M6700 2438l32 13 22-18-32-16z"/>
<path fill="#5c9d51" d="M6722 2451l32-6 21-16-31 4z"/>
<path fill="#66a359" d="M6744 2445l32-11 21-14-32 9z"/>
<path fill="#5b8d50" d="M6766 2434l31 13 22-22-32-5z"/>
<path fill="#4d7e45" d="M6787 2447l32 34 22-34-32-22z"/>
<path fill="#55944f" d="M6809 2481l32 16 22-31-32-19z"/>
<path fill="#60ad57" d="M6831 2497l27-6 27-16 22-21-27 11-27 1z"/>
<path fill="#6cab5e" d="M6875 2475l27-10 27 1 22-22-27 1-27 9z"/>
<path fill="#6ba15d" d="M6919 2466l32 8 22-28-32-2z"/>
<path fill="#609254" d="M6941 2474l32 10 21-27-31-11z"/>
<path fill="#4b7941" d="M6963 2484l31 8 22-14-32-21z"/>
<path fill="#3b6634" d="M6984 2492l32 11 22-10-32-15z"/>
<path fill="#2f582b" d="M7006 2503l32 13 22-2-32-21z"/>
<path fill="#234f22" d="M7028 2516l27 24 27 33 22-19-27-27-27-13z"/>
<path fill="#236028" d="M7072 2573l32 23 22-23-32-19z"/>
<path fill="#2e7e36" d="M7094 2596l32 8 22-27-32-4z"/>
<path fill="#399242" d="M7116 2604l32 2 22-32-32 3z"/>
<path fill="#4ca554" d="M7138 2606l32 12 21-42-31-2z"/>
<path fill="#5ab463" d="M7160 2618l31 6 22-41-32-7z"/>
<path fill="#4ba754" d="M7181 2624l32-4 22-32-32-5z"/>
<path fill="#36903e" d="M7203 2620l32-11 22-18-32-3z"/>
<path fill="#318436" d="M7225 2609l32-7 22-13-32 2z"/>
<path fill="#2f7831" d="M7247 2602l32 2 22-13-32-2z"/>
<path fill="#246127" d="M7269 2604l32 9 22-3-32-19z"/>
<path fill="#195220" d="M7291 2613l27 26 27 18 22-11-27-13-27-23z"/>
<path fill="#1e6c2b" d="M7335 2657l32 11 21-19-31-3z"/>
<path fill="#247931" d="M7357 2668l27 3 21-2 27-5 22-10-27-5-22-2-27 2z"/>
<path fill="#1e692a" d="M7422 2664l27 11 22 12 27 7 22-16-27-11-22-7-27-6z"/>
<path fill="#176227" d="M7488 2694l27 13 22 5 22 5 22 13 21 6 22-3 22-1 22 6 22 2 27 5 22-13-27-4-22-5-22-4-22 0-22-2-22-11-21-5-22-3-22-6-27-14z"/>
<path fill="#19672a" d="M7707 2745l32 9 22-20-32-2z"/>
<path fill="#1f7431" d="M7729 2754l27 8 27-1 21-22-26-1-27-4z"/>
<path fill="#207a31" d="M7773 2761l32-7 21-18-32 3z"/>
<path fill="#2f8234" d="M7838 2741l27-11 22 1 22 8 27 2 22-18-27-6-22-2-22 2-27 8z"/>
<path fill="#28712c" d="M7926 2741l27 7 27 2 21-10-26-7-27-10z"/>
<path fill="#236728" d="M7970 2750l27 7 26 6 22-7-27-8-27-8z"/>
<path fill="#27732d" d="M8013 2763l32 0 22-10-32 3z"/>
<path fill="#2f7d31" d="M8035 2763l27-6 27 0 22-10-27 2-27 4z"/>
<path fill="#693b0d" d="M4817 1703l27-13 22 2 27-3 22-40-27 8-22 12-27 12z"/>
<path fill="#532b0c" d="M4883 1689l32 0 21-32-31-8z"/>
<path fill="#3d2108" d="M4905 1689l32 8 21-3-32-37z"/>
<path fill="#2e1c05" d="M4927 1697l26 19 27 23 22 5-27-23-27-27z"/>
<path fill="#48330c" d="M4970 1739l32 14 22-6-32-3z"/>
<path fill="#5d4110" d="M4992 1753l32 2 22-16-32 8z"/>
<path fill="#46320d" d="M5058 1761l32 19 22-19-32 0z"/>
<path fill="#3c3110" d="M5080 1780l27 26 27 53 21-26-26-44-27-28z"/>
<path fill="#757239" d="M5124 1859l31 37 22-35-32-28z"/>
<path fill="#b8b662" d="M5145 1896l32-6 22-43-32 14z"/>
<path fill="#a19c52" d="M5167 1890l32-5 22-28-32-10z"/>
<path fill="#676735" d="M5189 1885l32 52 22-39-32-41z"/>
<path fill="#515834" d="M5211 1937l32 73 22-60-32-52z"/>
<path fill="#7b8866" d="M5233 2010l32 43 22-40-32-63z"/>
<path fill="#c3d5af" d="M5255 2053l32 5 22-25-32-20z"/>
<path fill="#cce39f" d="M5343 2039l31-13 22-32-32 14z"/>
<path fill="#bcd086" d="M5364 2026l32-17 22-26-32 11z"/>
<path fill="#afbf78" d="M5386 2009l32 2 22-35-32 7z"/>
<path fill="#b7c68a" d="M5408 2011l32 36 22-63-32-8z"/>
<path fill="#dff0b7" d="M5430 2047l32 24 22-72-32-15z"/>
<path fill="#e7fbba" d="M5452 2071l32-12 22-63-32 3z"/>
<path fill="#d7e8a0" d="M5474 2059l27-33 27 22 21-62-26-3-27 13z"/>
<path fill="#c9daa3" d="M5518 2048l27 26 26 11 22-42-27-22-27-35z"/>
<path fill="#e0f4b6" d="M5561 2085l32-10 22-47-32 15z"/>
<path fill="#ecffbd" d="M5605 2097l32-15 22-63-32 13z"/>
<path fill="#e4f6af" d="M5627 2082l32 0 22-56-32-7z"/>
<path fill="#8b7d32" d="M5758 1962l32 21 22-25-32-25z"/>
<path fill="#7e6d26" d="M5802 1963l32 6 22-17-32-10z"/>
<path fill="#6a5b1f" d="M5824 1969l32-6 22-18-32 7z"/>
<path fill="#484017" d="M5846 1963l32 19 22 4-32-41z"/>
<path fill="#363517" d="M5868 1982l27 31 27 34 22 18-27-36-27-43z"/>
<path fill="#444825" d="M5912 2047l32 28 21 7-31-17z"/>
<path fill="#7c8548" d="M5956 2087l31 6 22-16-32 1z"/>
<path fill="#889251" d="M5977 2093l32 15 22-23-32-8z"/>
<path fill="#9ca867" d="M5999 2108l27 13 27 1 22-23-27-7-27-7z"/>
<path fill="#707b4d" d="M6043 2122l32 30 22-20-32-33z"/>
<path fill="#67734d" d="M6065 2152l32 25 22-14-32-31z"/>
<path fill="#7f8f65" d="M6087 2177l32 4 22-6-32-12z"/>
<path fill="#8fa174" d="M6109 2181l27 8 27 13 21-15-26-7-27-5z"/>
<path fill="#95a77b" d="M6153 2202l31-1 22-7-32-7z"/>
<path fill="#7e8d64" d="M6196 2194l32 8 22-5-32-2z"/>
<path fill="#667353" d="M6218 2202l32 15 22-5-32-15z"/>
<path fill="#4f5844" d="M6240 2217l32 31 22 3-32-39z"/>
<path fill="#59674e" d="M6262 2248l32 20 22 7-32-24z"/>
<path fill="#91a87f" d="M6306 2269l32 15 22-22-32 6z"/>
<path fill="#778c67" d="M6328 2284l32 17 21-12-31-27z"/>
<path fill="#637c55" d="M6350 2301l26 10 27 6 22-4-27-4-27-20z"/>
<path fill="#6b885c" d="M6393 2317l32 12 22-11-32-5z"/>
<path fill="#7ca06b" d="M6415 2329l32 15 22-20-32-6z"/>
<path fill="#96ae83" d="M6525 2318l32 7 21-18-31 7z"/>
<path fill="#819771" d="M6547 2325l32 15 21-16-32-17z"/>
<path fill="#637955" d="M6569 2340l31 24 22-16-32-24z"/>
<path fill="#59784d" d="M6590 2364l27 22 27 20 22-18-27-17-27-23z"/>
<path fill="#58864e" d="M6634 2406l27 32 27 20 22-28-27-25-27-17z"/>
<path fill="#589850" d="M6678 2458l32 9 22-24-32-13z"/>
<path fill="#60aa57" d="M6700 2467l32-3 22-27-32 6z"/>
<path fill="#70b664" d="M6722 2464l32-10 22-28-32 11z"/>
<path fill="#659e5a" d="M6744 2454l32 15 21-30-31-13z"/>
<path fill="#43773d" d="M6766 2469l31 22 22-18-32-34z"/>
<path fill="#40813c" d="M6787 2491l32 12 22-14-32-16z"/>
<path fill="#4d9f49" d="M6809 2503l32-1 22-19-32 6z"/>
<path fill="#66a75a" d="M6853 2487l27-15 27 7 22-21-27-1-27 10z"/>
<path fill="#649f58" d="M6897 2479l27 8 27 2 22-13-27-10-27-8z"/>
<path fill="#5a934f" d="M6941 2489l32 1 21-6-31-8z"/>
<path fill="#497c41" d="M6963 2490l32 10 21-5-32-11z"/>
<path fill="#366130" d="M6985 2500l31 17 22-9-32-13z"/>
<path fill="#274e24" d="M7006 2517l32 27 22-12-32-24z"/>
<path fill="#1a481d" d="M7028 2544l27 29 27 24 22-9-27-23-27-33z"/>
<path fill="#1e5e25" d="M7072 2597l32 11 22-12-32-8z"/>
<path fill="#246f2e" d="M7094 2608l32 8 22-18-32-2z"/>
<path fill="#2f7c3b" d="M7116 2616l32 22 22-28-32-12z"/>
<path fill="#3c914b" d="M7138 2638l32 11 21-33-31-6z"/>
<path fill="#40a24d" d="M7160 2649l27-2 21-9 27-8 22-36-27 7-22 11-27 4z"/>
<path fill="#4ea954" d="M7225 2630l32-6 22-28-32-2z"/>
<path fill="#4a994f" d="M7247 2624l32 12 22-31-32-9z"/>
<path fill="#2f7135" d="M7269 2636l32 14 22-19-32-26z"/>
<path fill="#1c5d26" d="M7291 2650l32 21 22-22-32-18z"/>
<path fill="#1d682b" d="M7313 2671l32 9 22-20-32-11z"/>
<path fill="#227931" d="M7335 2680l27 7 22-1 21-7 27 7 22-19-27-11-22 5-21 2-27-3z"/>
<path fill="#1c6a2b" d="M7422 2686l27 14 22 3 22 3 27 1 22-3-27-5-22-13-22-7-27-12z"/>
<path fill="#165b24" d="M7510 2707l32 7 22-5-32-5z"/>
<path fill="#176126" d="M7598 2725l26 4 22 10 22 5 27 2 22-9-27-5-22-2-22-6-27 1z"/>
<path fill="#2d8032" d="M7816 2742l27-8 22 1 27 5 22-9-27-8-22-1-27 11z"/>
<path fill="#2a752e" d="M7882 2740l27 2 22 4 27 3 22-7-27-2-22-7-27-2z"/>
<path fill="#276d2b" d="M7948 2749l32 3 22-3-32-7z"/>
<path fill="#2f7930" d="M8035 2756l32 4 22-11-32 0z"/>
<path fill="#653b10" d="M4839 1706l27-6 27 4 22-23-27 0-27 3z"/>
<path fill="#5a330c" d="M4883 1704l32 10 22-25-32-8z"/>
<path fill="#422405" d="M4905 1714l32-16 21 10-31-19z"/>
<path fill="#2d1c05" d="M4927 1698l26 20 27 29 22-2-27-14-27-23z"/>
<path fill="#4c350d" d="M4970 1747l32 22 22-22-32-2z"/>
<path fill="#755824" d="M4992 1769l27 20 27-13 22-23-27-19-27 13z"/>
<path fill="#4f3a11" d="M5036 1776l32 14 22-18-32-19z"/>
<path fill="#3c3412" d="M5058 1790l27 46 27 43 22-28-27-53-27-26z"/>
<path fill="#656532" d="M5102 1879l32 37 21-28-31-37z"/>
<path fill="#a7ac61" d="M5124 1916l32 10 21-44-32 6z"/>
<path fill="#babd6e" d="M5146 1926l31-4 22-45-32 5z"/>
<path fill="#747847" d="M5167 1922l32 27 22-20-32-52z"/>
<path fill="#434b30" d="M5189 1949l32 99 22-46-32-73z"/>
<path fill="#859278" d="M5211 2048l32 60 22-63-32-43z"/>
<path fill="#94a46a" d="M5364 2024l32 2 22-23-32-2z"/>
<path fill="#75815d" d="M5386 2026l32 49 22-36-32-36z"/>
<path fill="#a8b894" d="M5408 2075l32 31 22-43-32-24z"/>
<path fill="#d7edbd" d="M5430 2106l32-12 22-43-32 12z"/>
<path fill="#e1f8be" d="M5452 2094l32-6 22-70-32 33z"/>
<path fill="#edffcc" d="M5474 2088l32 23 22-71-32-22z"/>
<path fill="#def2c2" d="M5496 2111l32-9 22-36-32-26z"/>
<path fill="#918635" d="M5715 1985l32-15 21-16-31 11z"/>
<path fill="#85782d" d="M5737 1970l27 16 21-1 22-4 27-2 22-24-27 6-22-6-22 20-27-21z"/>
<path fill="#6d6024" d="M5824 1979l32-2 22-3-32-19z"/>
<path fill="#4b441b" d="M5846 1977l32 25 22 3-32-31z"/>
<path fill="#3d3d1b" d="M5868 2002l27 35 27 18 22 12-27-28-27-34z"/>
<path fill="#474a25" d="M5912 2055l32 21 22 3-32-12z"/>
<path fill="#5b6134" d="M5934 2076l32 25 21-16-31-6z"/>
<path fill="#717a47" d="M5956 2101l31 24 22-25-32-15z"/>
<path fill="#94a267" d="M5977 2125l32 20 22-32-32-13z"/>
<path fill="#b2c283" d="M5999 2145l32 5 22-36-32-1z"/>
<path fill="#96a570" d="M6021 2150l32 9 22-15-32-30z"/>
<path fill="#7a885d" d="M6043 2159l32 22 22-12-32-25z"/>
<path fill="#859569" d="M6065 2181l32 1 22-9-32-4z"/>
<path fill="#8d9e72" d="M6087 2182l32 23 22-24-32-8z"/>
<path fill="#a0b288" d="M6109 2205l32 19 22-30-32-13z"/>
<path fill="#c3d8a6" d="M6131 2224l27 12 27-11 21-39-27 7-26 1z"/>
<path fill="#acc08b" d="M6175 2225l31-12 22-19-32-8z"/>
<path fill="#8b9c71" d="M6196 2213l32 5 22-9-32-15z"/>
<path fill="#5f6a4f" d="M6218 2218l32 12 22 10-32-31z"/>
<path fill="#555e4b" d="M6240 2230l32 40 22-10-32-20z"/>
<path fill="#788a69" d="M6262 2270l32 22 22-31-32-1z"/>
<path fill="#8fa87d" d="M6284 2292l32 4 22-20-32-15z"/>
<path fill="#7e966e" d="M6306 2296l32 1 22-4-32-17z"/>
<path fill="#6c855d" d="M6328 2297l27 4 22 19 26 23 22-22-27-12-22-6-26-10z"/>
<path fill="#7fa66e" d="M6393 2343l32 12 22-19-32-15z"/>
<path fill="#92bf7e" d="M6415 2355l32-9 22-13-32 3z"/>
<path fill="#9ab287" d="M6481 2317l32 13 22-20-32 3z"/>
<path fill="#a1bb8e" d="M6503 2330l32 12 22-25-32-7z"/>
<path fill="#93ad81" d="M6525 2342l32 2 22-12-32-15z"/>
<path fill="#6c835d" d="M6547 2344l32 13 21-1-31-24z"/>
<path fill="#4e6543" d="M6569 2357l31 24 22-3-32-22z"/>
<path fill="#425d38" d="M6590 2381l32 44 22-27-32-20z"/>
<path fill="#41683a" d="M6612 2425l32 37 22-32-32-32z"/>
<path fill="#498244" d="M6634 2462l32 18 22-30-32-20z"/>
<path fill="#4f974a" d="M6656 2480l32 4 22-25-32-9z"/>
<path fill="#53a34e" d="M6678 2484l32 1 22-29-32 3z"/>
<path fill="#62b05b" d="M6700 2485l32-6 22-33-32 10z"/>
<path fill="#5c9f54" d="M6722 2479l32 8 22-26-32-15z"/>
<path fill="#3d7638" d="M6744 2487l32 8 21-12-31-22z"/>
<path fill="#347232" d="M6766 2495l32 32 21-32-32-12z"/>
<path fill="#3e903d" d="M6788 2527l31-4 22-29-32 1z"/>
<path fill="#64a65a" d="M6831 2498l27-16 22 8 22 5 27 12 22-26-27-2-22-8-22-7-27 15z"/>
<path fill="#6aac60" d="M6919 2507l32 7 22-32-32-1z"/>
<path fill="#5c9952" d="M6941 2514l32-4 22-18-32-10z"/>
<path fill="#407139" d="M6963 2510l32 8 21-9-31-17z"/>
<path fill="#295125" d="M6985 2518l31 28 22-10-32-27z"/>
<path fill="#1b461c" d="M7006 2546l27 24 27 18 22 1-27-24-27-29z"/>
<path fill="#1a5320" d="M7050 2588l27 13 27 21 22-14-27-8-27-11z"/>
<path fill="#195924" d="M7094 2622l32 21 22-13-32-22z"/>
<path fill="#1f682f" d="M7116 2643l32 19 22-21-32-11z"/>
<path fill="#318946" d="M7138 2662l32 13 22-36-32 2z"/>
<path fill="#41a257" d="M7160 2675l32 0 21-45-31 9z"/>
<path fill="#4db060" d="M7182 2675l31-2 22-51-32 8z"/>
<path fill="#5cb96b" d="M7203 2673l27-2 27 1 22-44-27-12-27 6z"/>
<path fill="#3b8f49" d="M7247 2672l32-4 22-26-32-14z"/>
<path fill="#1c6a2c" d="M7269 2668l27 14 22 9 27 2 22-14-27-7-22-9-27-21z"/>
<path fill="#1e732d" d="M7335 2693l27-3 22-6 27 5 21-11-27-7-21 7-27 1z"/>
<path fill="#195f26" d="M7401 2689l31 19 22-16-32-14z"/>
<path fill="#1e6c2f" d="M7422 2708l32 16 22-29-32-3z"/>
<path fill="#1f7832" d="M7444 2724l27 2 27-10 22-17-27-1-27-3z"/>
<path fill="#165722" d="M7510 2707l27 2 22 7 22 4 22 12 26 9 22-10-27-10-21-4-22 2-22-5-27-8z"/>
<path fill="#176026" d="M7619 2741l32 4 22-9-32-5z"/>
<path fill="#1a5f25" d="M7707 2744l27 1 27 4 22-6-27 2-27 1z"/>
<path fill="#1f6d2a" d="M7751 2749l32 2 22-9-32 1z"/>
<path fill="#25792f" d="M7773 2751l32-3 21-14-31 8z"/>
<path fill="#2f8234" d="M7795 2748l27-3 21 0 22 4 22 2 22 2 22 1 27 1 22-11-27-3-22-3-22-4-22-2-22-5-22-1-27 8z"/>
<path fill="#2d782f" d="M7948 2755l32-2 22-6-32-3z"/>
<path fill="#2f7730" d="M7992 2754l27 3 26 6 22-11-27-4-27-1z"/>
<path fill="#341a02" d="M4905 1698l32 3 21 9-31-20z"/>
<path fill="#261603" d="M4927 1701l32 45 21-7-32-29z"/>
<path fill="#322308" d="M4949 1746l31 29 22-14-32-22z"/>
<path fill="#81692c" d="M4992 1810l32-15 22-27-32 13z"/>
<path fill="#584214" d="M5014 1795l32-9 22-4-32-14z"/>
<path fill="#352f10" d="M5036 1786l27 42 27 61 22-18-27-43-27-46z"/>
<path fill="#4b4d25" d="M5080 1889l32 44 22-25-32-37z"/>
<path fill="#787f46" d="M5102 1933l32 4 22-19-32-10z"/>
<path fill="#a1a964" d="M5124 1937l32 12 21-35-31 4z"/>
<path fill="#727949" d="M5146 1949l31 11 22-19-32-27z"/>
<path fill="#3e452f" d="M5167 1960l32 98 22-18-32-99z"/>
<path fill="#505a3e" d="M5365 2021l31 42 22 4-32-49z"/>
<path fill="#5f6a53" d="M5386 2063l32 38 22-3-32-31z"/>
<path fill="#c0d3ae" d="M5430 2103l32 37 22-60-32 6z"/>
<path fill="#e2fccf" d="M5452 2140l32 24 22-61-32-23z"/>
<path fill="#aaa24a" d="M5693 2008l32-12 22-34-32 15z"/>
<path fill="#918839" d="M5715 1996l32-6 22-12-32-16z"/>
<path fill="#847930" d="M5737 1990l27-4 21 1 22 7 27 21 22-46-27 2-22 2-22 4-26 1z"/>
<path fill="#726b30" d="M5824 2015l32 16 22-37-32-25z"/>
<path fill="#565524" d="M5846 2031l27 12 27 13 22-9-27-18-27-35z"/>
<path fill="#494c25" d="M5890 2056l27 12 27 27 22-2-27-25-27-21z"/>
<path fill="#575f36" d="M5934 2095l32 36 21-14-31-24z"/>
<path fill="#788556" d="M5956 2131l32 29 21-23-32-20z"/>
<path fill="#abbc87" d="M5978 2160l31 17 22-35-32-5z"/>
<path fill="#c3d69e" d="M5999 2177l32 7 22-33-32-9z"/>
<path fill="#b4c69a" d="M6021 2184l27 6 22 18 22 22 27 17 22-31-27-19-22-23-22-1-27-22z"/>
<path fill="#c7ddb3" d="M6109 2247l32 2 22-21-32-12z"/>
<path fill="#d9f0be" d="M6131 2249l27-17 27 6 21-33-26 12-27 11z"/>
<path fill="#d1e6b3" d="M6175 2238l31-1 22-27-32-5z"/>
<path fill="#92a27b" d="M6196 2237l32-2 22-13-32-12z"/>
<path fill="#5b6550" d="M6218 2235l32 42 22-15-32-40z"/>
<path fill="#657659" d="M6240 2277l32 19 22-12-32-22z"/>
<path fill="#87a175" d="M6262 2296l32 0 22-8-32-4z"/>
<path fill="#7c936c" d="M6306 2293l32 24 22-24-32-4z"/>
<path fill="#6d885e" d="M6328 2317l27 19 27 20 21-21-26-23-27-19z"/>
<path fill="#82ad73" d="M6372 2356l31 27 22-36-32-12z"/>
<path fill="#9cd189" d="M6393 2383l32-12 22-33-32 9z"/>
<path fill="#bfdfa9" d="M6437 2347l27-3 27 11 22-33-27-13-27 8z"/>
<path fill="#b1d39c" d="M6481 2355l27 10 27 2 22-31-27-2-27-12z"/>
<path fill="#97b785" d="M6525 2367l32 7 22-25-32-13z"/>
<path fill="#67835a" d="M6547 2374l32 28 21-29-31-24z"/>
<path fill="#3e5a36" d="M6569 2402l32 36 21-21-32-44z"/>
<path fill="#2e5129" d="M6591 2438l31 31 22-15-32-37z"/>
<path fill="#5ba453" d="M6809 2505l32-5 22-26-32 16z"/>
<path fill="#6baf63" d="M6831 2500l27 11 27 16 22-40-27-5-27-8z"/>
<path fill="#71b96a" d="M6875 2527l32 8 22-36-32-12z"/>
<path fill="#65b15d" d="M6897 2535l27-3 27-11 22-19-27 4-27-7z"/>
<path fill="#599851" d="M6941 2521l32 0 22-11-32-8z"/>
<path fill="#3c6d37" d="M6963 2521l32 25 21-8-31-28z"/>
<path fill="#215724" d="M6985 2546l27 23 21 19 22 21 27 27 22-22-27-21-22-13-22-18-27-24z"/>
<path fill="#175625" d="M7072 2636l27 22 27 26 22-30-27-19-27-21z"/>
<path fill="#1e6934" d="M7116 2684l32 14 22-31-32-13z"/>
<path fill="#2a8144" d="M7138 2698l32 4 22-35-32 0z"/>
<path fill="#35944e" d="M7160 2702l27 1 22-4 26-8 22-27-27-1-22 2-26 2z"/>
<path fill="#29863d" d="M7225 2691l32-8 22-23-32 4z"/>
<path fill="#1d6f2e" d="M7247 2683l32 3 22-12-32-14z"/>
<path fill="#176729" d="M7269 2686l27 11 27 2 22-14-27-2-27-9z"/>
<path fill="#1c722d" d="M7313 2699l27-3 27-6 22-14-27 6-27 3z"/>
<path fill="#1c6728" d="M7357 2690l32 5 22-14-32-5z"/>
<path fill="#165824" d="M7379 2695l27 21 26 20 22-20-27-16-26-19z"/>
<path fill="#1a6e30" d="M7422 2736l32 3 22-21-32-2z"/>
<path fill="#1f782f" d="M7466 2724l32-16 22-9-32 9z"/>
<path fill="#1f6d2a" d="M7488 2708l32 3 22-10-32-2z"/>
<path fill="#1a6026" d="M7510 2711l27 5 22 8 22 10 22 7 27 3 21-7-27-4-21-9-22-12-22-4-27-7z"/>
<path fill="#1f6c2a" d="M7663 2744l27 0 22 4 22 5 27 4 22-14-27-2-22-4-22-1-27 0z"/>
<path fill="#287e32" d="M7751 2757l27 0 27 0 22-20-27 3-27 3z"/>
<path fill="#338837" d="M7795 2757l27 3 21 4 22 5 22 1 22-2 22-3 22-2 22 0 22 2 27 1 21-11-26-6-22-3-22-1-22 2-22-1-22-1-22-2-22-2-22-4-26 0z"/>
<path fill="#361801" d="M4883 1696l32 5 22-8-32-3z"/>
<path fill="#271704" d="M4905 1701l27 36 27 31 21-1-26-29-27-45z"/>
<path fill="#342b0e" d="M5014 1778l27 33 27 52 22 18-27-61-27-42z"/>
<path fill="#393a19" d="M5058 1863l32 41 22 21-32-44z"/>
<path fill="#626837" d="M5102 1926l32 20 22-5-32-12z"/>
<path fill="#575f35" d="M5124 1946l32 28 21-22-31-11z"/>
<path fill="#404934" d="M5146 1974l27 66 26 53 22 21-27-64-27-98z"/>
<path fill="#505939" d="M5343 2013l32 19 21 23-31-42z"/>
<path fill="#535c48" d="M5386 2063l32 53 22-21-32-2z"/>
<path fill="#aeb76f" d="M5627 2029l32 37 22-53-32 36z"/>
<path fill="#c4cc78" d="M5649 2066l32-3 22-63-32 13z"/>
<path fill="#bcbf62" d="M5671 2063l32-32 22-43-32 12z"/>
<path fill="#a6a247" d="M5693 2031l32-24 22-25-32 6z"/>
<path fill="#968d3a" d="M5715 2007l32-7 22-22-32 4z"/>
<path fill="#8a8034" d="M5737 2000l32 3 21-24-31-1z"/>
<path fill="#817b36" d="M5759 2003l27 10 21 15 27-4 22-1-27-16-22-21-27-7z"/>
<path fill="#727131" d="M5824 2024l27 18 27 7 22-1-27-13-27-12z"/>
<path fill="#555627" d="M5868 2049l32 18 22-7-32-12z"/>
<path fill="#474b26" d="M5890 2067l32 49 22-29-32-27z"/>
<path fill="#5f6740" d="M5912 2116l32 40 22-33-32-36z"/>
<path fill="#839065" d="M5934 2156l32 23 22-27-32-29z"/>
<path fill="#9dae82" d="M5956 2179l32 19 21-29-31-17z"/>
<path fill="#bfd2a6" d="M5978 2198l31 28 22-50-32-7z"/>
<path fill="#e3f6cc" d="M5999 2226l32 22 22-66-32-6z"/>
<path fill="#f0ffdd" d="M6021 2248l32 16 22-64-32-18z"/>
<path fill="#e5fbd2" d="M6043 2264l32 5 22-47-32-22z"/>
<path fill="#d9f3c4" d="M6065 2269l27-8 27 9 22-29-27-2-27-17z"/>
<path fill="#e7ffd1" d="M6109 2270l32 10 22-56-32 17z"/>
<path fill="#f6ffe0" d="M6131 2280l27 8 27-10 21-49-26 1-27-6z"/>
<path fill="#d3e8bc" d="M6175 2278l32-21 21-30-32 2z"/>
<path fill="#8d9c7d" d="M6197 2257l31 8 22 4-32-42z"/>
<path fill="#627156" d="M6218 2265l32 22 22 1-32-19z"/>
<path fill="#778b68" d="M6240 2287l32 8 22-7-32 0z"/>
<path fill="#89a078" d="M6262 2295l32 14 22-24-32 3z"/>
<path fill="#7d966d" d="M6284 2309l32 24 22-24-32-24z"/>
<path fill="#6c895e" d="M6306 2333l32 18 22-23-32-19z"/>
<path fill="#5f8052" d="M6328 2351l32 27 22-30-32-20z"/>
<path fill="#6e9b62" d="M6350 2378l32 32 21-35-31-27z"/>
<path fill="#89c77b" d="M6372 2410l32 1 21-48-32 12z"/>
<path fill="#a3de90" d="M6394 2411l31-18 22-54-32 24z"/>
<path fill="#c4f5af" d="M6415 2393l32 0 22-57-32 3z"/>
<path fill="#cdfab9" d="M6437 2393l32-7 22-39-32-11z"/>
<path fill="#bdeaaa" d="M6459 2386l32 4 22-33-32-10z"/>
<path fill="#afdc9c" d="M6481 2390l32 4 22-35-32-2z"/>
<path fill="#a3cd92" d="M6503 2394l32 19 22-47-32-7z"/>
<path fill="#81ab74" d="M6525 2413l32 19 22-38-32-28z"/>
<path fill="#4f7846" d="M6547 2432l32 12 22-14-32-36z"/>
<path fill="#2f5329" d="M6569 2444l32 11 21 6-31-31z"/>
<path fill="#4a8744" d="M6788 2498l32 21 21-27-32 5z"/>
<path fill="#5da058" d="M6810 2519l31 20 22-36-32-11z"/>
<path fill="#68b866" d="M6831 2539l27 17 27-2 22-27-27-8-27-16z"/>
<path fill="#5db55a" d="M6875 2554l32-8 22-22-32 3z"/>
<path fill="#6fc26a" d="M6897 2546l32 6 22-39-32 11z"/>
<path fill="#7cc877" d="M6919 2552l32 9 22-48-32 0z"/>
<path fill="#64a861" d="M6941 2561l32 11 22-34-32-25z"/>
<path fill="#428342" d="M6963 2572l32 20 22-31-32-23z"/>
<path fill="#347638" d="M6985 2592l32 21 21-33-31-19z"/>
<path fill="#26672f" d="M7007 2613l26 21 27 27 22-33-27-27-27-21z"/>
<path fill="#1d602c" d="M7050 2661l32 14 22-25-32-22z"/>
<path fill="#125424" d="M7072 2675l32 9 22-8-32-26z"/>
<path fill="#1b742f" d="M7204 2695l26-5 27 2 22-14-27-3-27 8z"/>
<path fill="#196b2c" d="M7247 2692l27 13 27 3 22-17-27-2-27-11z"/>
<path fill="#1d772f" d="M7291 2708l27-6 27-11 22-9-27 6-27 3z"/>
<path fill="#1d692a" d="M7335 2691l32 12 22-16-32-5z"/>
<path fill="#135221" d="M7357 2703l27 18 27 16 21-9-26-20-27-21z"/>
<path fill="#227a31" d="M7444 2730l27-8 22 1 27 2 22-17-27-5-22-3-27 16z"/>
<path fill="#1f6f2c" d="M7510 2725l27 8 22 6 22 3 22 4 22 2 21 2 22 3 22 3 22 4 27 5 22-16-27-4-22-5-22-4-22 0-22 1-21-1-22-3-22-7-22-10-27-8z"/>
<path fill="#277d32" d="M7729 2765l27 1 22 3 27 4 22-21-27-3-22 0-27 0z"/>
<path fill="#2d8536" d="M7795 2773l27 5 22 3 21 0 27-2 22-19-27 2-22-1-22-5-26-4z"/>
<path fill="#358c38" d="M7882 2779l27-2 22-1 22-1 22-2 27-3 22-12-27-1-22-2-22 0-22 2-27 3z"/>
<path fill="#261503" d="M4883 1692l27 32 27 40 22-4-27-31-27-36z"/>
<path fill="#363616" d="M5058 1850l32 59 22 9-32-22z"/>
<path fill="#434724" d="M5080 1909l32 56 22-27-32-20z"/>
<path fill="#505837" d="M5102 1965l27 30 27 19 22 18-27-66-27-28z"/>
<path fill="#424a38" d="M5146 2014l32 33 21 38-31-53z"/>
<path fill="#535b36" d="M5321 1995l32 42 22-13-32-19z"/>
<path fill="#3e452f" d="M5343 2037l32 48 21-30-31-31z"/>
<path fill="#444c3b" d="M5365 2085l32 53 21-30-32-53z"/>
<path fill="#a3af70" d="M5562 2063l32 14 21-50-32 19z"/>
<path fill="#aeba7d" d="M5584 2077l31 33 22-89-32 6z"/>
<path fill="#cedea0" d="M5605 2110l32 18 22-70-32-37z"/>
<path fill="#acac4f" d="M5671 2059l27-22 27-9 22-36-27 7-27 24z"/>
<path fill="#aaa34f" d="M5715 2028l32-15 22-18-32-3z"/>
<path fill="#90893f" d="M5737 2013l32 10 22-18-32-10z"/>
<path fill="#7c7833" d="M5759 2023l27 10 26 9 22-26-27 4-26-15z"/>
<path fill="#82813c" d="M5802 2042l32 29 22-37-32-18z"/>
<path fill="#919247" d="M5824 2071l32 1 22-31-32-7z"/>
<path fill="#65662f" d="M5846 2072l32-8 22-5-32-18z"/>
<path fill="#404424" d="M5868 2064l32 84 22-40-32-49z"/>
<path fill="#5e6847" d="M5890 2148l32 53 22-53-32-40z"/>
<path fill="#9aaa84" d="M5912 2201l32 21 22-51-32-23z"/>
<path fill="#a5b691" d="M5934 2222l32-2 22-30-32-19z"/>
<path fill="#92a183" d="M5956 2220l32 43 21-45-31-28z"/>
<path fill="#a1b991" d="M5978 2263l32 36 21-59-32-22z"/>
<path fill="#c6e9b4" d="M6000 2299l31 22 22-65-32-16z"/>
<path fill="#ddffc9" d="M6021 2321l27 1 22 0 22 8 22 9 27 8 22-67-27-8-22-10-22-9-22 8-27-5z"/>
<path fill="#c9f1b1" d="M6131 2347l27-14 27-29 22-55-27 21-27 10z"/>
<path fill="#bfd8aa" d="M6175 2304l32-25 21-22-31-8z"/>
<path fill="#95a784" d="M6197 2279l31 2 22-2-32-22z"/>
<path fill="#889c79" d="M6218 2281l32 26 22-20-32-8z"/>
<path fill="#90a97f" d="M6240 2307l32 25 22-31-32-14z"/>
<path fill="#84a273" d="M6262 2332l32 17 22-24-32-24z"/>
<path fill="#69895a" d="M6284 2349l32 14 22-20-32-18z"/>
<path fill="#4f7746" d="M6306 2363l27 35 27 29 22-25-27-32-27-27z"/>
<path fill="#6bab63" d="M6350 2427l32 13 22-37-32-1z"/>
<path fill="#94dc89" d="M6372 2440l32 6 21-61-31 18z"/>
<path fill="#a4e695" d="M6394 2446l26-3 22-9 27-11 22-41-27-4-22 7-27 0z"/>
<path fill="#92c881" d="M6459 2423l32-9 22-28-32-4z"/>
<path fill="#7aab6d" d="M6481 2414l32 28 22-37-32-19z"/>
<path fill="#6da362" d="M6503 2442l32 5 22-23-32-19z"/>
<path fill="#5b9150" d="M6525 2447l32-7 22-4-32-12z"/>
<path fill="#497f40" d="M6634 2462l32 14 22-14-32 10z"/>
<path fill="#56914c" d="M6656 2476l32-2 22-18-32 6z"/>
<path fill="#4e7f44" d="M6678 2474l32-4 22-3-32-11z"/>
<path fill="#436f3b" d="M6700 2470l32 23 22-17-32-9z"/>
<path fill="#467a3f" d="M6722 2493l27 8 27 3 22-14-27-9-27-5z"/>
<path fill="#356631" d="M6766 2504l32 33 22-26-32-21z"/>
<path fill="#397438" d="M6788 2537l32 35 21-41-31-20z"/>
<path fill="#4a974e" d="M6810 2572l31 10 22-34-32-17z"/>
<path fill="#53ad58" d="M6831 2582l32-6 22-30-32 2z"/>
<path fill="#66c069" d="M6853 2576l32 16 22-54-32 8z"/>
<path fill="#7ed581" d="M6875 2592l27 3 27 11 22-53-27-9-27-6z"/>
<path fill="#72c577" d="M6919 2606l32 2 22-44-32-11z"/>
<path fill="#5aa861" d="M6941 2608l32 18 22-42-32-20z"/>
<path fill="#448f4e" d="M6963 2626l32 13 22-34-32-21z"/>
<path fill="#2d7339" d="M6985 2639l32 15 21-28-31-21z"/>
<path fill="#1d652f" d="M7007 2654l27 26 26 8 22-21-27-14-27-27z"/>
<path fill="#125f26" d="M7160 2695l32 5 22-13-32 10z"/>
<path fill="#1a6f30" d="M7182 2700l27 7 22 7 21 6 27 3 22-23-27-3-22-13-22-2-26 5z"/>
<path fill="#227d35" d="M7269 2723l27-4 22-9 27 5 22-20-27-12-22 11-27 6z"/>
<path fill="#185f27" d="M7335 2715l32 12 22-14-32-18z"/>
<path fill="#125422" d="M7357 2727l32 7 22-5-32-16z"/>
<path fill="#176a2a" d="M7401 2737l32-1 21-14-31 10z"/>
<path fill="#237c34" d="M7423 2736l26-1 22 1 22 4 27 5 22-20-27-8-22-2-22-1-27 8z"/>
<path fill="#21742e" d="M7510 2745l27 4 22 2 22 1 22 6 22 4 22 3 21 2 22 1 22 2 22 4 22 5 22 4 27 4 22-17-27-5-22-4-22-3-22-1-22-5-22-4-22-3-22-3-21-2-22-2-22-4-22-3-27-6z"/>
<path fill="#247930" d="M7795 2787l27 3 27 1 21-18-26 0-27-3z"/>
<path fill="#2a8334" d="M7839 2791l26 0 27-1 22-21-27 2-27 2z"/>
<path fill="#338b38" d="M7882 2790l27-1 22-3 22-6 27-5 22-13-27 3-22 2-22 1-27 1z"/>
<path fill="#5d2d04" d="M4795 1723l32-19 22-22-32 14z"/>
<path fill="#251302" d="M4861 1678l27 48 27 47 22-17-27-40-27-32z"/>
<path fill="#492c08" d="M4949 1768l32-9 21 12-31-24z"/>
<path fill="#312c0f" d="M5036 1805l32 85 22 11-32-59z"/>
<path fill="#3b3d1e" d="M5058 1890l32 86 22-19-32-56z"/>
<path fill="#59623c" d="M5080 1976l32 29 22-18-32-30z"/>
<path fill="#434b36" d="M5124 1992l27 39 27 38 21 17-26-47-27-33z"/>
<path fill="#6e7847" d="M5299 2001l32 30 22-2-32-42z"/>
<path fill="#464e39" d="M5321 2031l27 35 27 71 22-7-27-53-27-48z"/>
<path fill="#9cab73" d="M5518 2082l32 26 22-53-32 11z"/>
<path fill="#b9ca95" d="M5540 2108l32 31 22-70-32-14z"/>
<path fill="#ccdfae" d="M5562 2139l32 14 21-51-31-33z"/>
<path fill="#bcc06b" d="M5671 2051l32 21 22-52-32 9z"/>
<path fill="#ced178" d="M5693 2072l32-5 22-62-32 15z"/>
<path fill="#b0ad58" d="M5715 2067l32-35 22-17-32-10z"/>
<path fill="#949144" d="M5737 2032l32 19 22-26-32-10z"/>
<path fill="#868643" d="M5759 2051l27 1 27 35 21-24-27-29-26-9z"/>
<path fill="#9aa054" d="M5803 2087l31 0 22-23-32-1z"/>
<path fill="#797c3c" d="M5824 2087l32-7 22-24-32 8z"/>
<path fill="#434827" d="M5846 2080l32 66 22-6-32-84z"/>
<path fill="#474f37" d="M5868 2146l32 52 22-5-32-53z"/>
<path fill="#727f65" d="M5890 2198l32 27 22-11-32-21z"/>
<path fill="#839075" d="M5912 2225l32 4 22-17-32 2z"/>
<path fill="#596d4e" d="M5934 2229l27 53 27 41 22-32-27-36-27-43z"/>
<path fill="#749c68" d="M5978 2323l32 27 21-37-31-22z"/>
<path fill="#9cd590" d="M6000 2350l31 15 22-51-32-1z"/>
<path fill="#baf6ac" d="M6021 2365l27 1 22 1 27 16 22-52-27-9-22-8-27 0z"/>
<path fill="#a5e798" d="M6087 2383l32 2 22-46-32-8z"/>
<path fill="#c6e7af" d="M6153 2331l27-19 27 14 21-53-26-2-27 25z"/>
<path fill="#adcd9c" d="M6197 2326l27 30 26 13 22-45-27-25-27-26z"/>
<path fill="#9ac489" d="M6240 2369l32-4 22-24-32-17z"/>
<path fill="#6d945f" d="M6262 2365l32 23 22-33-32-14z"/>
<path fill="#4c7343" d="M6284 2388l32 28 22-26-32-35z"/>
<path fill="#3e6b37" d="M6306 2416l32 22 22-19-32-29z"/>
<path fill="#508c4c" d="M6328 2438l32 32 22-38-32-13z"/>
<path fill="#6dc065" d="M6394 2476l27-17 26-9 22-35-27 11-27 9z"/>
<path fill="#76b868" d="M6437 2450l32-28 22-16-32 9z"/>
<path fill="#5c8f50" d="M6459 2422l32 16 22-4-32-28z"/>
<path fill="#4c7f43" d="M6481 2438l32 8 22-7-32-5z"/>
<path fill="#5c9250" d="M6503 2446l27-5 27 3 22-14-27 2-27 7z"/>
<path fill="#528048" d="M6547 2444l32 14 22-14-32-14z"/>
<path fill="#497a40" d="M6569 2458l27 8 27 6 21-18-26 3-27-13z"/>
<path fill="#4e8746" d="M6613 2472l31 21 22-25-32-14z"/>
<path fill="#5a9b50" d="M6634 2493l27 1 27-5 22-27-27 4-27 2z"/>
<path fill="#4d8545" d="M6678 2489l32 31 22-35-32-23z"/>
<path fill="#4c8e46" d="M6700 2520l27 3 27-6 22-21-27-3-27-8z"/>
<path fill="#2e5f2b" d="M6744 2517l32 28 22-16-32-33z"/>
<path fill="#1e4d20" d="M6766 2545l32 28 22-9-32-35z"/>
<path fill="#246329" d="M6788 2573l32 18 21-17-31-10z"/>
<path fill="#3b8944" d="M6810 2591l32 19 21-42-32 6z"/>
<path fill="#5aae65" d="M6832 2610l31 19 22-45-32-16z"/>
<path fill="#61bc6f" d="M6853 2629l27 1 27-4 22-28-27-11-27-3z"/>
<path fill="#58b065" d="M6897 2626l32 8 22-34-32-2z"/>
<path fill="#4ea05c" d="M6919 2634l32 17 22-33-32-18z"/>
<path fill="#3a8c4b" d="M6941 2651l32 10 22-30-32-13z"/>
<path fill="#267137" d="M6963 2661l32 3 22-18-32-15z"/>
<path fill="#175d2a" d="M6985 2664l32 31 22-23-32-26z"/>
<path fill="#0f461c" d="M7116 2676l32 17 22-6-32-2z"/>
<path fill="#105321" d="M7138 2693l32 15 22-16-32-5z"/>
<path fill="#146129" d="M7160 2708l27 8 22 4 27 9 21-17-26-6-22-7-27-7z"/>
<path fill="#15682d" d="M7226 2729l31 11 22-25-32-3z"/>
<path fill="#1c7836" d="M7247 2740l32 2 22-31-32 4z"/>
<path fill="#23823a" d="M7269 2742l27-11 27-1 22-23-27-5-27 9z"/>
<path fill="#1a6d2d" d="M7313 2730l32 4 22-15-32-12z"/>
<path fill="#166428" d="M7335 2734l27 1 22 3 27 7 22-17-27 1-22-3-27-7z"/>
<path fill="#1c7330" d="M7401 2745l32 6 21-24-31 1z"/>
<path fill="#207933" d="M7423 2751l27 4 21 1 22 1 22 1 27 1 22-16-27-2-22-4-22-5-22-4-27-1z"/>
<path fill="#1f712d" d="M7532 2759l27 2 22 5 22 6 22 3 22 1 21-1 22 1 22 5 22 6 22 3 22 1 22 1 27 2 22-11-27-1-22-3-22-4-22-4-22-5-22-4-22-2-22-1-21-2-22-3-22-4-22-6-27-1z"/>
<path fill="#25792f" d="M7817 2794l27 2 27 2 21-16-27 1-26 0z"/>
<path fill="#2b8333" d="M7861 2798l26-1 27-4 22-15-27 3-27 1z"/>
<path fill="#368c38" d="M7926 2787l32-7 22-13-32 5z"/>
<path fill="#7f5d19" d="M4730 1782l32-20 22-28-32 20z"/>
<path fill="#4e2202" d="M4817 1704l32-14 22-20-32 12z"/>
<path fill="#2f1502" d="M4839 1690l32 29 22-1-32-48z"/>
<path fill="#231403" d="M4861 1719l32 45 22 1-32-47z"/>
<path fill="#3d2a0a" d="M4883 1764l32 29 22-9-32-19z"/>
<path fill="#5c380a" d="M4927 1785l32-24 22-10-32 9z"/>
<path fill="#472806" d="M4949 1761l32 2 21 1-31-13z"/>
<path fill="#2d2008" d="M4993 1761l26 29 27 82 22 10-27-85-27-29z"/>
<path fill="#38391a" d="M5036 1872l32 91 22 5-32-86z"/>
<path fill="#525b39" d="M5102 1994l32 6 22 23-32-39z"/>
<path fill="#3e4630" d="M5124 2000l32 37 22 24-32-38z"/>
<path fill="#444c3c" d="M5146 2037l32 54 22 15-32-45z"/>
<path fill="#909d5f" d="M5255 2025l32 3 22-35-32 28z"/>
<path fill="#7b8756" d="M5277 2028l32 51 22-56-32-30z"/>
<path fill="#798563" d="M5299 2079l32 33 22-54-32-35z"/>
<path fill="#99aa73" d="M5474 2098l32 5 22-29-32 8z"/>
<path fill="#8d9c6d" d="M5496 2103l32 16 22-19-32-26z"/>
<path fill="#8f9e7a" d="M5518 2119l32 38 22-26-32-31z"/>
<path fill="#959b51" d="M5627 2058l32 9 22-24-32 7z"/>
<path fill="#a2ab6c" d="M5649 2067l32 52 22-55-32-21z"/>
<path fill="#c1ce88" d="M5671 2119l32 11 22-71-32 5z"/>
<path fill="#bec770" d="M5693 2130l32-47 22-59-32 35z"/>
<path fill="#a9ab56" d="M5715 2083l32-12 22-28-32-19z"/>
<path fill="#92964f" d="M5737 2071l27 16 27 13 22-21-27-35-27-1z"/>
<path fill="#9fa85c" d="M5781 2100l32 2 21-23-31 0z"/>
<path fill="#929851" d="M5803 2102l31-8 22-22-32 7z"/>
<path fill="#585e35" d="M5824 2094l32 39 22 5-32-66z"/>
<path fill="#3d442c" d="M5846 2133l32 34 22 23-32-52z"/>
<path fill="#4d5643" d="M5890 2198l32 32 22-9-32-4z"/>
<path fill="#434f3a" d="M5912 2230l32 51 22-7-32-53z"/>
<path fill="#36492e" d="M5934 2281l32 44 22-10-32-41z"/>
<path fill="#375530" d="M5956 2325l32 30 22-13-32-27z"/>
<path fill="#4b7845" d="M5978 2355l32 33 21-31-31-15z"/>
<path fill="#67a664" d="M6000 2388l32 39 21-69-32-1z"/>
<path fill="#7fcc7d" d="M6022 2427l31 21 22-89-32-1z"/>
<path fill="#81d57f" d="M6043 2448l32-21 22-52-32-16z"/>
<path fill="#bdeaaa" d="M6131 2346l27 18 27 5 22-51-27-14-27 19z"/>
<path fill="#9ed190" d="M6175 2369l27 38 27 5 21-51-26-13-27-30z"/>
<path fill="#91cc81" d="M6219 2412l31-26 22-29-32 4z"/>
<path fill="#67975a" d="M6240 2386l32 18 22-24-32-23z"/>
<path fill="#416b3a" d="M6262 2404l32 23 22-19-32-28z"/>
<path fill="#2f5b2b" d="M6284 2427l32 42 22-39-32-22z"/>
<path fill="#4d7b43" d="M6459 2431l27 9 27 13 22-20-27 5-27-8z"/>
<path fill="#568e4c" d="M6503 2453l27 14 22 11 27-2 22-18-27-8-22-14-27-3z"/>
<path fill="#4a8743" d="M6569 2476l27 10 22 14 27 2 21-16-27-1-21-21-27-6z"/>
<path fill="#509048" d="M6635 2502l31-7 22-14-32 5z"/>
<path fill="#417a3b" d="M6656 2495l32 26 22-9-32-31z"/>
<path fill="#458940" d="M6700 2520l32 2 22-13-32 6z"/>
<path fill="#32692f" d="M6722 2522l32 21 22-6-32-28z"/>
<path fill="#19451b" d="M6744 2543l27 22 27 27 22-9-27-18-27-28z"/>
<path fill="#1e5526" d="M6788 2592l32 35 22-25-32-19z"/>
<path fill="#2c733b" d="M6810 2627l32 22 21-28-31-19z"/>
<path fill="#378d4b" d="M6832 2649l31 6 22-33-32-1z"/>
<path fill="#409c54" d="M6853 2655l27 1 27 6 22-36-27-8-27 4z"/>
<path fill="#378c4b" d="M6897 2662l32 10 22-29-32-17z"/>
<path fill="#287c3d" d="M6919 2672l32 1 22-20-32-10z"/>
<path fill="#206f35" d="M6941 2673l32 15 22-32-32-3z"/>
<path fill="#155e2b" d="M6963 2688l32 14 22-15-32-31z"/>
<path fill="#1a6829" d="M7051 2672l31 0 22-10-32 2z"/>
<path fill="#185e25" d="M7072 2672l32 8 22-12-32-6z"/>
<path fill="#115623" d="M7094 2680l27 16 22 12 22 7 22 5 22 11 27 18 21-17-26-11-22-9-22-4-22-8-22-15-27-17z"/>
<path fill="#12662e" d="M7226 2749l32 8 21-23-32-2z"/>
<path fill="#197633" d="M7248 2757l26-10 22-3 27-2 22-16-27-4-22 1-27 11z"/>
<path fill="#186b2c" d="M7313 2742l27 7 22 3 22 2 22 8 27 6 22-21-27-4-22-6-22-7-22-3-27-1z"/>
<path fill="#1c722f" d="M7423 2768l27 1 21-1 22 1 22 1 22-1 27 3 22-14-27-5-22-2-22-1-22-1-22-1-26-1z"/>
<path fill="#1b6d2b" d="M7554 2772l27 5 22 5 27 1 22-15-27-1-22-3-27-6z"/>
<path fill="#1f722d" d="M7620 2783l27-2 22 0 26 4 22-12-27-5-22-1-26 1z"/>
<path fill="#1e6c2a" d="M7685 2785l27 4 22 3 27-1 22-8-27-1-22-3-27-6z"/>
<path fill="#216e2b" d="M7773 2792l27 3 22 4 27 2 22-11-27-2-22-2-27-2z"/>
<path fill="#287b30" d="M7839 2801l27 0 26-3 22-13-27 4-26 1z"/>
<path fill="#358c38" d="M7904 2793l32-7 22-14-32 7z"/>
<path fill="#968530" d="M4686 1840l32-29 22-37-32 29z"/>
<path fill="#603a1f" d="M4817 1704l32 15 22-8-32-29z"/>
<path fill="#472e17" d="M4839 1719l32 32 22 5-32-45z"/>
<path fill="#503817" d="M4861 1751l32 23 22 11-32-29z"/>
<path fill="#714c24" d="M4927 1760l27 11 27 15 22-33-27 2-27-2z"/>
<path fill="#583f1f" d="M4971 1786l32 27 21-31-31-29z"/>
<path fill="#383114" d="M4993 1813l26 50 27 89 22 3-27-91-27-82z"/>
<path fill="#3b4127" d="M5102 1964l32 43 22 22-32-37z"/>
<path fill="#3f4732" d="M5124 2007l32 51 22 25-32-54z"/>
<path fill="#808d56" d="M5233 2024l32 20 22-24-32-3z"/>
<path fill="#5e6848" d="M5255 2044l32 60 22-33-32-51z"/>
<path fill="#95a385" d="M5277 2104l32 44 22-44-32-33z"/>
<path fill="#808f65" d="M5452 2092l27 24 27 25 22-30-27-16-27-5z"/>
<path fill="#869672" d="M5496 2141l32 15 22-7-32-38z"/>
<path fill="#c0d083" d="M5584 2121l32-18 21-53-31 36z"/>
<path fill="#b7c27d" d="M5606 2103l31 9 22-53-32-9z"/>
<path fill="#96a26f" d="M5627 2112l32 35 22-36-32-52z"/>
<path fill="#a2ab58" d="M5693 2107l32-32 22-12-32 12z"/>
<path fill="#8c914a" d="M5715 2075l32 15 22-11-32-16z"/>
<path fill="#8a9254" d="M5737 2090l32 33 22-31-32-13z"/>
<path fill="#b4c078" d="M5759 2123l32 11 22-40-32-2z"/>
<path fill="#c4cf82" d="M5781 2134l32-16 21-32-31 8z"/>
<path fill="#919a61" d="M5803 2118l32 18 21-11-32-39z"/>
<path fill="#59613d" d="M5825 2136l31 17 22 6-32-34z"/>
<path fill="#424b36" d="M5846 2153l27 39 22 45 27 33 22 3-27-51-22-32-27-31z"/>
<path fill="#34442d" d="M5912 2270l32 43 22 4-32-44z"/>
<path fill="#274123" d="M5934 2313l27 32 27 39 22-4-27-33-27-30z"/>
<path fill="#244e24" d="M5978 2384l32 61 22-26-32-39z"/>
<path fill="#87c278" d="M6087 2369l32 14 22-45-32 20z"/>
<path fill="#a0d993" d="M6109 2383l27 17 27 4 22-43-27-5-27-18z"/>
<path fill="#77b06e" d="M6153 2404l32 24 22-29-32-38z"/>
<path fill="#588a4d" d="M6219 2396l32 15 21-15-32-18z"/>
<path fill="#375f30" d="M6241 2411l31 27 22-19-32-23z"/>
<path fill="#265825" d="M6262 2438l27 22 27 22 22 10-27-31-27-42z"/>
<path fill="#5c8c4f" d="M6438 2434l31 5 22-7-32-9z"/>
<path fill="#47703e" d="M6459 2439l32 9 22-3-32-13z"/>
<path fill="#3e6836" d="M6481 2448l27 13 27 13 22-4-27-11-27-14z"/>
<path fill="#488341" d="M6525 2474l27 5 22 7 22 11 22 4 27 0 21-14-26 7-22-2-22-14-22-10-27 2z"/>
<path fill="#3b7436" d="M6635 2501l26 21 27 3 22-13-27 1-27-26z"/>
<path fill="#488b44" d="M6678 2525l32 19 22-30-32-2z"/>
<path fill="#3f803d" d="M6700 2544l32 10 22-19-32-21z"/>
<path fill="#265b26" d="M6722 2554l32 10 22-7-32-22z"/>
<path fill="#13421a" d="M6744 2564l27 36 22 31 27 24 22-14-27-22-22-35-27-27z"/>
<path fill="#17602b" d="M6810 2655l32 14 21-22-31-6z"/>
<path fill="#257a3d" d="M6832 2669l32 8 21-29-32-1z"/>
<path fill="#2d8546" d="M6854 2677l31 5 22-28-32-6z"/>
<path fill="#23793b" d="M6875 2682l32 2 22-20-32-10z"/>
<path fill="#196c32" d="M6897 2684l27 11 27 4 22-19-27-15-27-1z"/>
<path fill="#115e29" d="M6941 2699l32 3 22-8-32-14z"/>
<path fill="#227934" d="M7007 2683l27 9 22-1 26 6 22-25-27-8-21 0-27 1z"/>
<path fill="#17642a" d="M7072 2697l27 13 22 10 22 2 27 6 22-16-27-5-22-7-22-12-27-16z"/>
<path fill="#125a26" d="M7160 2728l32 10 22-15-32-11z"/>
<path fill="#0c5424" d="M7182 2738l27 15 27 11 22-15-27-8-27-18z"/>
<path fill="#156a2c" d="M7226 2764l27-3 21-6 22-4 22 6 22 3 22-2 22 7 22 8 22 4 22 0 27 2 21-18-27-1-21 1-22-1-22-6-22-8-22-2-22-3-22-7-22 2-22 3-26 10z"/>
<path fill="#1a6f2c" d="M7467 2779l26-1 22-3 27 0 22-11-27-3-22 1-27-1z"/>
<path fill="#196728" d="M7532 2775l27 5 27 8 22-14-27-5-27-5z"/>
<path fill="#1e712c" d="M7576 2788l27 3 22-1 22-1 22 1 21 1 27 1 22-8-27-3-22-4-21-4-22 0-22 2-27-1z"/>
<path fill="#216b29" d="M7751 2793l27 2 27 3 22-7-27-4-27-3z"/>
<path fill="#348a36" d="M7883 2798l31-6 22-14-32 7z"/>
<path fill="#885c32" d="M4774 1743l32 24 21-71-31 19z"/>
<path fill="#896840" d="M4796 1767l26 32 27 27 22-83-27-32-27-15z"/>
<path fill="#937845" d="M4839 1826l32 13 22-73-32-23z"/>
<path fill="#9d7d40" d="M4861 1839l27-5 27-12 22-70-27 13-27 1z"/>
<path fill="#a38552" d="M4905 1822l27 4 27 30 22-78-27-15-27-11z"/>
<path fill="#9a8551" d="M4949 1856l32 22 22-73-32-27z"/>
<path fill="#6a5e31" d="M4971 1878l32 5 21-28-31-50z"/>
<path fill="#3e3c19" d="M4993 1883l32 65 21-4-32-89z"/>
<path fill="#424726" d="M5015 1948l31 38 22 8-32-50z"/>
<path fill="#3e4325" d="M5080 1937l27 37 27 48 22 28-27-51-27-43z"/>
<path fill="#a2b17a" d="M5212 2049l31 19 22-32-32-20z"/>
<path fill="#7a885c" d="M5431 2089l31 21 22-2-32-24z"/>
<path fill="#6c7959" d="M5452 2110l32 43 22-20-32-25z"/>
<path fill="#9cad89" d="M5474 2153l32 18 22-23-32-15z"/>
<path fill="#adc18a" d="M5540 2136l32 18 22-41-32 16z"/>
<path fill="#d4e9b0" d="M5562 2154l32 24 22-83-32 18z"/>
<path fill="#e4f8bf" d="M5584 2178l32-7 21-67-31-9z"/>
<path fill="#959c59" d="M5693 2095l32 20 22-33-32-15z"/>
<path fill="#77814e" d="M5715 2115l32 36 22-36-32-33z"/>
<path fill="#aab980" d="M5737 2151l32 23 22-48-32-11z"/>
<path fill="#e2f4af" d="M5759 2174l32-3 22-61-32 16z"/>
<path fill="#d3e3a1" d="M5781 2171l32 5 22-48-32-18z"/>
<path fill="#9dac76" d="M5803 2176l32 7 21-38-31-17z"/>
<path fill="#687450" d="M5825 2183l31 18 22-17-32-39z"/>
<path fill="#49533f" d="M5846 2201l27 39 27 47 22-25-27-33-27-45z"/>
<path fill="#3f5036" d="M5890 2287l32 17 22 1-32-43z"/>
<path fill="#2b4526" d="M5912 2304l27 61 27 47 22-36-27-39-27-32z"/>
<path fill="#1a401b" d="M5956 2412l32 12 22 13-32-61z"/>
<path fill="#79b86d" d="M6065 2386l32 23 22-34-32-14z"/>
<path fill="#80c378" d="M6087 2409l27 15 27 4 22-32-27-4-27-17z"/>
<path fill="#5ca055" d="M6131 2428l32-3 22-5-32-24z"/>
<path fill="#507d45" d="M6197 2397l32 8 22-2-32-15z"/>
<path fill="#2f522a" d="M6219 2405l32 42 21-17-31-27z"/>
<path fill="#265324" d="M6241 2447l31 42 22-37-32-22z"/>
<path fill="#2d6a2f" d="M6262 2489l32 28 22-43-32-22z"/>
<path fill="#659d58" d="M6394 2438l32 12 22-24-32 14z"/>
<path fill="#70aa62" d="M6416 2450l32-3 21-16-31-5z"/>
<path fill="#3b6534" d="M6503 2459l32 37 22-25-32-5z"/>
<path fill="#498541" d="M6525 2496l27 11 22-5 22-1 27 6 22-14-27 0-22-4-22-11-27-7z"/>
<path fill="#386e34" d="M6613 2507l27 13 27 23 21-26-27-3-26-21z"/>
<path fill="#3c7e3b" d="M6657 2543l31 23 22-30-32-19z"/>
<path fill="#3d883d" d="M6678 2566l32 5 22-25-32-10z"/>
<path fill="#2f7330" d="M6700 2571l32 6 22-21-32-10z"/>
<path fill="#1b4d1f" d="M6722 2577l32 25 22-10-32-36z"/>
<path fill="#0f3b17" d="M6744 2602l27 25 27 27 22-7-27-24-27-31z"/>
<path fill="#0d471d" d="M6788 2654l32 20 22-13-32-14z"/>
<path fill="#115827" d="M6810 2674l32 15 22-20-32-8z"/>
<path fill="#13642d" d="M6832 2689l27 6 21-2 27 9 22-15-27-11-22-2-26-5z"/>
<path fill="#0f5d28" d="M6897 2702l32-1 22-10-32-4z"/>
<path fill="#116228" d="M6941 2699l32-4 22-11-32 10z"/>
<path fill="#1b7231" d="M6963 2695l27 3 27 9 22-23-27-9-27 9z"/>
<path fill="#227a38" d="M7007 2707l27 2 27 6 21-26-26-6-27 1z"/>
<path fill="#196b31" d="M7051 2715l27 8 21 8 22 10 22 6 27 2 22-19-27-10-22-6-22-2-22-10-27-13z"/>
<path fill="#0c5525" d="M7160 2749l27 11 27 10 22-14-27-11-27-15z"/>
<path fill="#12682b" d="M7226 2770l27-8 22-3 26-1 22-9-27-6-22 4-26 6z"/>
<path fill="#14652a" d="M7291 2758l27 3 22 11 22 9 22 1 22 0 27 3 22-16-27 0-22-4-22-8-22-7-22 2-27-3z"/>
<path fill="#186b2a" d="M7423 2785l27 1 22-3 21-5 22 0 22 7 22 11 27 5 22-18-27-3-22-8-22-5-22 0-22 3-21 1-27-2z"/>
<path fill="#1f762f" d="M7576 2801l27 0 22-2 22-4 27-2 21-10-26-1-22-1-22 1-27 1z"/>
<path fill="#23702c" d="M7686 2793l26 1 22 2 27 0 22-9-27-2-22-1-27 0z"/>
<path fill="#246c2a" d="M7773 2796l32 2 22-6-32-2z"/>
<path fill="#28752e" d="M7817 2801l32 1 22-9-32 0z"/>
<path fill="#338735" d="M7861 2802l32-4 21-14-31 6z"/>
<path fill="#8a6a23" d="M4708 1811l32-16 22-41-32 20z"/>
<path fill="#977238" d="M4730 1795l32-7 22-53-32 19z"/>
<path fill="#8b6f3f" d="M4752 1788l32 29 22-58-32-24z"/>
<path fill="#715f33" d="M4774 1817l32 34 21-60-31-32z"/>
<path fill="#857944" d="M4796 1851l32 37 21-70-32-27z"/>
<path fill="#b7ae6b" d="M4818 1888l31 27 22-84-32-13z"/>
<path fill="#c9c071" d="M4839 1915l32-6 22-83-32 5z"/>
<path fill="#bdad63" d="M4861 1909l27-21 27-2 22-68-27-4-27 12z"/>
<path fill="#b4a868" d="M4905 1886l32 26 22-64-32-30z"/>
<path fill="#beb770" d="M4927 1912l32 22 22-64-32-22z"/>
<path fill="#b1aa62" d="M4949 1934l32-23 22-36-32-5z"/>
<path fill="#656331" d="M4971 1911l32 23 22 6-32-65z"/>
<path fill="#565727" d="M5058 1939l32 22 22 5-32-37z"/>
<path fill="#393d21" d="M5080 1961l32 48 22 5-32-48z"/>
<path fill="#464e31" d="M5102 2009l32 35 22-4-32-26z"/>
<path fill="#77835d" d="M5124 2044l32 20 22-23-32-1z"/>
<path fill="#afc08e" d="M5146 2064l32 12 22-28-32-7z"/>
<path fill="#cee1ab" d="M5168 2076l32 15 22-50-32 7z"/>
<path fill="#bdcea2" d="M5190 2091l32 32 21-63-31-19z"/>
<path fill="#b4c794" d="M5387 2119l27 17 27 6 21-40-26-21-27 21z"/>
<path fill="#8c9a7a" d="M5431 2142l31 40 22-37-32-43z"/>
<path fill="#abc099" d="M5452 2182l32 12 22-31-32-18z"/>
<path fill="#a3b58a" d="M5518 2144l32 33 22-31-32-18z"/>
<path fill="#aebe9e" d="M5540 2177l32 45 22-52-32-24z"/>
<path fill="#d1e8bc" d="M5562 2222l32-2 22-57-32 7z"/>
<path fill="#c7d390" d="M5649 2113l27 21 27 11 22-38-27-20-27 2z"/>
<path fill="#909d6b" d="M5693 2145l32 19 22-21-32-36z"/>
<path fill="#859468" d="M5715 2164l32 24 22-22-32-23z"/>
<path fill="#b5c794" d="M5737 2188l32 15 22-40-32 3z"/>
<path fill="#c7dba2" d="M5759 2203l32-9 22-26-32-5z"/>
<path fill="#b1c38d" d="M5781 2194l32 3 22-22-32-7z"/>
<path fill="#819067" d="M5803 2197l32 13 21-17-31-18z"/>
<path fill="#525e47" d="M5825 2210l27 42 26 52 22-25-27-47-27-39z"/>
<path fill="#4a5f3f" d="M5868 2304l32 21 22-29-32-17z"/>
<path fill="#31492b" d="M5890 2325l32 44 22-12-32-61z"/>
<path fill="#224420" d="M5912 2369l32 57 22-22-32-47z"/>
<path fill="#5c9b55" d="M6044 2405l31 36 22-40-32-23z"/>
<path fill="#5ca459" d="M6065 2441l32 14 22-39-32-15z"/>
<path fill="#5baf58" d="M6087 2455l32-10 22-25-32-4z"/>
<path fill="#629256" d="M6175 2405l32 11 22-19-32-8z"/>
<path fill="#2f522a" d="M6197 2416l32 40 22-17-32-42z"/>
<path fill="#1a3e19" d="M6219 2456l32 43 21-18-31-42z"/>
<path fill="#54824a" d="M6372 2430l32 41 22-29-32-12z"/>
<path fill="#69a95d" d="M6394 2471l32 1 22-33-32 3z"/>
<path fill="#3e5936" d="M6460 2424l31 38 22-11-32-28z"/>
<path fill="#2d4d28" d="M6481 2462l32 40 22-14-32-37z"/>
<path fill="#3b7236" d="M6503 2502l32 10 22-13-32-11z"/>
<path fill="#47803f" d="M6569 2501l32 10 22-12-32-6z"/>
<path fill="#3c7036" d="M6591 2511l32 16 22-15-32-13z"/>
<path fill="#2b622a" d="M6613 2527l27 24 27 20 21-13-26-23-27-23z"/>
<path fill="#2d7530" d="M6657 2571l26 9 27 5 22-16-27-6-27-5z"/>
<path fill="#246128" d="M6700 2585l32 16 22-7-32-25z"/>
<path fill="#14441b" d="M6722 2601l32 30 22-12-32-25z"/>
<path fill="#0c3e19" d="M6744 2631l27 27 22 12 27 20 22-9-27-15-22-20-27-27z"/>
<path fill="#0b5022" d="M6810 2690l32 9 22-12-32-6z"/>
<path fill="#0e5e27" d="M6832 2699l27 1 22-3 26 1 22-5-27 1-22-9-26 2z"/>
<path fill="#16692d" d="M6919 2699l27 5 22 8 27 7 22-20-27-9-22-3-27 4z"/>
<path fill="#1a6e32" d="M6985 2719l27 2 22 6 27 9 22-21-27-8-22-6-27-2z"/>
<path fill="#13642e" d="M7051 2736l27 11 21 7 22 10 27-3 22-20-27-2-22-6-22-10-26-8z"/>
<path fill="#0c5725" d="M7138 2761l27 6 27 8 22-13-27-10-27-11z"/>
<path fill="#126329" d="M7204 2772l27-7 22-1 22-2 21 4 22 13 22 13 22-1 22-5 22 3 22 1 27-3 22-12-27 3-22-1-22-3-22 0-22-1-22-9-22-11-22-3-21 1-22 3-27 8z"/>
<path fill="#1a6d2b" d="M7445 2787l27-3 22 1 26 8 22-16-27-7-22 0-26 5z"/>
<path fill="#18672a" d="M7510 2793l27 12 27 6 22-18-27-5-27-11z"/>
<path fill="#1f772f" d="M7554 2811l27 0 22-3 22-5 22-4 27-1 22-13-27 0-22 2-22 4-22 2-27 0z"/>
<path fill="#27752e" d="M7664 2798l27 0 21 1 22-1 22 0 22 2 22 3 27 2 22-11-27-1-22-3-22-2-22 0-22 0-22-2-26-1z"/>
<path fill="#2f8133" d="M7817 2805l27 1 27-3 22-13-27 4-27 0z"/>
<path fill="#a0943c" d="M4664 1869l32-14 22-52-32 29z"/>
<path fill="#9b8338" d="M4686 1855l27-22 27-25 22-28-27 7-27 16z"/>
<path fill="#826b33" d="M4730 1808l32 10 22-9-32-29z"/>
<path fill="#544b20" d="M4752 1818l27 25 27 58 22-21-27-37-27-34z"/>
<path fill="#83844d" d="M4796 1901l32 49 21-43-31-27z"/>
<path fill="#bac076" d="M4818 1950l31 2 22-51-32 6z"/>
<path fill="#d5d884" d="M4839 1952l27 2 27 9 22-85-27 2-27 21z"/>
<path fill="#c9cb7a" d="M4883 1963l27-27 27 16 22-26-27-22-27-26z"/>
<path fill="#c7c971" d="M4927 1952l32-6 22-43-32 23z"/>
<path fill="#696a31" d="M5037 1957l31 15 22-19-32-22z"/>
<path fill="#444826" d="M5058 1972l32 47 22-18-32-48z"/>
<path fill="#4c5435" d="M5080 2019l32 57 22-40-32-35z"/>
<path fill="#95a37e" d="M5102 2076l32 43 22-63-32-20z"/>
<path fill="#e3f6cd" d="M5124 2119l32 17 22-68-32-12z"/>
<path fill="#f1ffdd" d="M5146 2136l32 2 22-55-32-15z"/>
<path fill="#616b44" d="M5321 2077l32 11 22 13-32-45z"/>
<path fill="#50593d" d="M5343 2088l32 25 22-2-32-10z"/>
<path fill="#7e8b6b" d="M5365 2113l32 48 22-33-32-17z"/>
<path fill="#d4f4bc" d="M5453 2224l31-17 22-51-32 30z"/>
<path fill="#e8ffd1" d="M5474 2207l32-15 22-56-32 20z"/>
<path fill="#c3d5b0" d="M5496 2192l32 16 22-39-32-33z"/>
<path fill="#819472" d="M5518 2208l32 11 22-5-32-45z"/>
<path fill="#d7e9a9" d="M5606 2161l32 24 21-80-31 0z"/>
<path fill="#e4f7c1" d="M5628 2185l27 29 26-5 22-72-27-11-27-21z"/>
<path fill="#bbcf96" d="M5671 2209l32-32 22-21-32-19z"/>
<path fill="#869668" d="M5693 2177l27 5 27 9 22 4-27-15-27-24z"/>
<path fill="#8fa06f" d="M5759 2187l32 12 22-10-32-3z"/>
<path fill="#75835e" d="M5781 2199l32 26 22-23-32-13z"/>
<path fill="#5f6a54" d="M5803 2225l32 50 22-31-32-42z"/>
<path fill="#4e5f43" d="M5825 2275l32 47 21-26-31-52z"/>
<path fill="#557349" d="M5847 2322l31 16 22-21-32-21z"/>
<path fill="#45653b" d="M5868 2338l32 4 22 19-32-44z"/>
<path fill="#467a3f" d="M6000 2387l32 47 22-37-32-6z"/>
<path fill="#3b7639" d="M6022 2434l32 25 21-26-31-36z"/>
<path fill="#3b893d" d="M6044 2459l32 4 21-16-32-14z"/>
<path fill="#44a044" d="M6066 2463l31-8 22-18-32 10z"/>
<path fill="#74c16b" d="M6109 2442l32-1 22-41-32 16z"/>
<path fill="#91d887" d="M6131 2441l32 7 22-51-32 3z"/>
<path fill="#8bca82" d="M6153 2448l32 1 22-41-32-11z"/>
<path fill="#50844b" d="M6175 2449l32 16 22-17-32-40z"/>
<path fill="#1d461d" d="M6197 2465l32 21 22 5-32-43z"/>
<path fill="#5d8a50" d="M6328 2440l32-5 22-13-32 3z"/>
<path fill="#416839" d="M6350 2435l32 48 22-20-32-41z"/>
<path fill="#4e8c46" d="M6372 2483l32 11 22-30-32-1z"/>
<path fill="#8bc47a" d="M6416 2471l32-19 22-36-32 18z"/>
<path fill="#68905b" d="M6438 2452l32 20 21-18-31-38z"/>
<path fill="#34572e" d="M6460 2472l31 24 22-2-32-40z"/>
<path fill="#366530" d="M6481 2496l32 8 22 0-32-10z"/>
<path fill="#488741" d="M6503 2504l32 6 22-17-32 11z"/>
<path fill="#529349" d="M6525 2510l32 2 22-19-32 0z"/>
<path fill="#4b8543" d="M6547 2512l32 5 22-14-32-10z"/>
<path fill="#3f773a" d="M6569 2517l32 27 22-25-32-16z"/>
<path fill="#326b30" d="M6591 2544l32 8 22-9-32-24z"/>
<path fill="#266428" d="M6613 2552l27 17 22 7 27 30 21-29-27-5-21-9-27-20z"/>
<path fill="#2a6e32" d="M6679 2606l31 23 22-36-32-16z"/>
<path fill="#205f2a" d="M6700 2629l32 8 22-14-32-30z"/>
<path fill="#11461b" d="M6722 2637l32 7 22 6-32-27z"/>
<path fill="#0b3e19" d="M6744 2644l27 20 22 17 27 14 22-4-27-9-22-20-27-12z"/>
<path fill="#0b5122" d="M6810 2695l32 11 22-14-32-1z"/>
<path fill="#10642b" d="M6832 2706l27 6 27 1 21-23-26-1-27 3z"/>
<path fill="#15682f" d="M6876 2713l26 0 22 5 22 7 22 3 22 9 22 11 27 3 22-23-27-9-22-6-22-2-22-7-22-8-22-5-27-1z"/>
<path fill="#0d5927" d="M7029 2751l27 0 27 7 21-12-26-7-27-11z"/>
<path fill="#126128" d="M7204 2766l27 1 22 4 22 4 27 7 21-11-27-13-21-4-22 2-27 1z"/>
<path fill="#0e5624" d="M7292 2782l31 6 22-4-32-13z"/>
<path fill="#136629" d="M7335 2790l27 0 22 1 22 1 27-1 22-12-27 3-22-1-22-3-27 5z"/>
<path fill="#1a6d2c" d="M7423 2791l27 2 22 4 27 8 21-20-26-8-22-1-27 3z"/>
<path fill="#17682a" d="M7489 2805l26 9 22 5 27-1 22-15-27 0-22-6-27-12z"/>
<path fill="#1c762f" d="M7554 2818l27-3 27-3 22-17-27 5-27 3z"/>
<path fill="#267a30" d="M7598 2812l27-2 22-3 22-3 22-1 22 0 21 2 27 2 22-15-27-2-22 0-22 1-21-1-22 0-22 1-27 4z"/>
<path fill="#2c7d31" d="M7751 2807l27 3 22 1 27 0 22-13-27-1-22-2-27-3z"/>
<path fill="#318434" d="M7817 2811l32-2 22-14-32 3z"/>
<path fill="#a6a348" d="M4643 1882l31 6 22-41-32 14z"/>
<path fill="#a3993f" d="M4664 1888l32-28 22-35-32 22z"/>
<path fill="#a08d3c" d="M4686 1860l32-22 22-38-32 25z"/>
<path fill="#917e3d" d="M4708 1838l32 22 22-50-32-10z"/>
<path fill="#6d632f" d="M4730 1860l32 32 22-57-32-25z"/>
<path fill="#4e4e25" d="M4752 1892l27 20 27 40 22-10-27-49-27-58z"/>
<path fill="#757c49" d="M4796 1952l32 12 21-20-31-2z"/>
<path fill="#9da76c" d="M4818 1964l32 27 21-45-32-2z"/>
<path fill="#afbc7f" d="M4840 1991l31 27 22-63-32-9z"/>
<path fill="#c6d48b" d="M4861 2018l32-4 22-86-32 27z"/>
<path fill="#c6d27f" d="M4883 2014l32-32 22-38-32-16z"/>
<path fill="#bec872" d="M4905 1982l32-4 22-40-32 6z"/>
<path fill="#babe63" d="M4927 1978l32-8 22-65-32 33z"/>
<path fill="#939140" d="M4949 1970l32-34 22-22-32-9z"/>
<path fill="#565525" d="M4993 1920l32 48 22-19-32-18z"/>
<path fill="#606333" d="M5015 1968l32 37 21-41-31-15z"/>
<path fill="#515832" d="M5037 2005l31 24 22-18-32-47z"/>
<path fill="#434b33" d="M5058 2029l32 79 22-40-32-57z"/>
<path fill="#738067" d="M5080 2108l32 64 22-61-32-43z"/>
<path fill="#889760" d="M5299 2094l32 2 22-16-32-11z"/>
<path fill="#566140" d="M5321 2096l32 27 22-18-32-25z"/>
<path fill="#4a533e" d="M5343 2123l32 46 22-16-32-48z"/>
<path fill="#d8ecbf" d="M5562 2198l27 6 27 30 22-57-27-24-27 22z"/>
<path fill="#d1e5bf" d="M5606 2234l32 21 22-49-32-29z"/>
<path fill="#daf3c4" d="M5628 2255l32-15 21-39-31 5z"/>
<path fill="#b4c88e" d="M5671 2199l32-12 22-13-32-5z"/>
<path fill="#a9bc88" d="M5693 2187l32 20 22-24-32-9z"/>
<path fill="#b3c691" d="M5715 2207l32 0 22-28-32 4z"/>
<path fill="#97a87a" d="M5737 2207l32 6 22-22-32-12z"/>
<path fill="#707d5f" d="M5759 2213l32 52 22-48-32-26z"/>
<path fill="#627157" d="M5781 2265l32 38 22-36-32-50z"/>
<path fill="#566f4a" d="M5803 2303l32 34 22-23-32-47z"/>
<path fill="#608a53" d="M5825 2337l27 11 27 0 21-14-27-4-26-16z"/>
<path fill="#4d7143" d="M5869 2348l31 2 22 4-32-20z"/>
<path fill="#36532e" d="M5890 2350l32 20 22 3-32-19z"/>
<path fill="#274523" d="M5912 2370l32 28 22 9-32-34z"/>
<path fill="#43793e" d="M5956 2397l27 24 27 35 22-30-27-47-27 23z"/>
<path fill="#3b7d3c" d="M6000 2456l32 8 22-13-32-25z"/>
<path fill="#48994c" d="M6022 2464l32 19 22-28-32-4z"/>
<path fill="#53ae57" d="M6044 2483l32 0 21-36-31 8z"/>
<path fill="#63c064" d="M6066 2483l31-7 22-42-32 13z"/>
<path fill="#7dd27d" d="M6087 2476l32 28 22-71-32 1z"/>
<path fill="#87dc88" d="M6109 2504l32 3 22-67-32-7z"/>
<path fill="#7bd57c" d="M6131 2507l32-5 22-61-32-1z"/>
<path fill="#57aa56" d="M6153 2502l32-23 22-22-32-16z"/>
<path fill="#347733" d="M6175 2479l32 1 22-2-32-21z"/>
<path fill="#265e26" d="M6197 2480l32 3 22 14-32-19z"/>
<path fill="#6ca35e" d="M6306 2461l32-11 22-23-32 5z"/>
<path fill="#446e3c" d="M6328 2450l32 40 22-15-32-48z"/>
<path fill="#3d7738" d="M6350 2490l32 16 22-20-32-11z"/>
<path fill="#5aa852" d="M6372 2506l32-10 22-33-32 23z"/>
<path fill="#86cd79" d="M6394 2496l32-9 22-43-32 19z"/>
<path fill="#80bc74" d="M6416 2487l32 3 22-26-32-20z"/>
<path fill="#528649" d="M6438 2490l32 3 21-5-31-24z"/>
<path fill="#477c3f" d="M6460 2493l32 15 21-12-32-8z"/>
<path fill="#4b8844" d="M6482 2508l31 10 22-16-32-6z"/>
<path fill="#4f9147" d="M6503 2518l32 5 22-19-32-2z"/>
<path fill="#4a8843" d="M6525 2523l32 14 22-28-32-5z"/>
<path fill="#3e7d3b" d="M6547 2537l32 22 22-23-32-27z"/>
<path fill="#327531" d="M6569 2559l27 4 27 18 22-20-27-17-27-8z"/>
<path fill="#29692b" d="M6613 2581l32 3 22-16-32-7z"/>
<path fill="#1e5523" d="M6635 2584l32 36 22-22-32-30z"/>
<path fill="#205e2a" d="M6657 2620l32 26 21-25-31-23z"/>
<path fill="#216b2e" d="M6679 2646l31-9 22-8-32-8z"/>
<path fill="#175822" d="M6700 2637l32 6 22-7-32-7z"/>
<path fill="#0d411a" d="M6722 2643l27 16 22 18 22 11 27 20 22-10-27-11-22-14-22-17-27-20z"/>
<path fill="#0c5224" d="M6810 2708l32 14 22-18-32-6z"/>
<path fill="#10622b" d="M6832 2722l27 6 22 1 22 3 21 3 22-1 27 17 22-22-27-9-22-3-22-7-22-5-21 0-27-1z"/>
<path fill="#105c26" d="M7160 2763l27 4 22 2 22 9 22 5 22 3 22 8 26 3 22-15-27-2-21-6-22-7-22-4-22-4-22-1-27 3z"/>
<path fill="#16682a" d="M7313 2797l27-1 22 1 22 1 22 0 22 4 22 5 22 8 22 6 22 4 26-1 22-14-27 1-22-5-21-9-22-8-22-4-22-2-22 1-22-1-22-1-27 0z"/>
<path fill="#1c742e" d="M7532 2824l27-2 22-1 27-1 22-18-27 2-22 3-27 3z"/>
<path fill="#26792f" d="M7598 2820l27-5 22-5 22-4 22 1 22 4 21 4 27 2 22-15-27-3-22-2-21-2-22 0-22 1-22 3-27 3z"/>
<path fill="#2e8133" d="M7751 2817l27 1 22-2 27-2 22-13-27 2-22 0-27-1z"/>
<path fill="#a3a852" d="M4577 1915l27-11 27-11 22-19-27 11-27 11z"/>
<path fill="#a5a64c" d="M4621 1893l32 1 21-14-31-6z"/>
<path fill="#b5aa54" d="M4664 1886l32-13 22-43-32 22z"/>
<path fill="#9e944d" d="M4686 1873l32 9 22-30-32-22z"/>
<path fill="#706c33" d="M4708 1882l32 18 22-16-32-32z"/>
<path fill="#565628" d="M4730 1900l32 18 22-14-32-20z"/>
<path fill="#414320" d="M4752 1918l32 19 22 7-32-40z"/>
<path fill="#4b512e" d="M4796 1956l32 20 22 7-32-27z"/>
<path fill="#cada89" d="M4883 2013l27 2 27-6 22-47-27 8-27 4z"/>
<path fill="#b9c269" d="M4927 2009l32-18 22-63-32 34z"/>
<path fill="#a7a750" d="M4949 1991l32-28 22-51-32 16z"/>
<path fill="#78783a" d="M4971 1963l32-3 22 0-32-48z"/>
<path fill="#535933" d="M4993 1960l27 61 27 27 21-27-26-24-27-37z"/>
<path fill="#444c36" d="M5037 2048l32 74 21-22-32-79z"/>
<path fill="#879660" d="M5277 2089l32 18 22-19-32-2z"/>
<path fill="#606b49" d="M5299 2107l32 27 22-19-32-27z"/>
<path fill="#4a533f" d="M5321 2134l32 34 22-7-32-46z"/>
<path fill="#7f8e6f" d="M5496 2191l32 7 22-5-32-1z"/>
<path fill="#90a080" d="M5518 2198l32 24 22-32-32 3z"/>
<path fill="#b9cca7" d="M5540 2222l32 16 22-42-32-6z"/>
<path fill="#acc19a" d="M5562 2238l32 14 22-26-32-30z"/>
<path fill="#9cb889" d="M5584 2252l32 5 22-10-32-21z"/>
<path fill="#e2f9c4" d="M5650 2230l32 1 21-52-32 12z"/>
<path fill="#edffd2" d="M5672 2231l26 8 27 4 22-44-27 0-27-20z"/>
<path fill="#cde0b5" d="M5715 2243l32 0 22-38-32-6z"/>
<path fill="#88957b" d="M5737 2243l32 45 22-31-32-52z"/>
<path fill="#5f7553" d="M5759 2288l32 45 22-38-32-38z"/>
<path fill="#5e8051" d="M5781 2333l32 16 22-20-32-34z"/>
<path fill="#5d8951" d="M5803 2349l32 6 22-15-32-11z"/>
<path fill="#689a5a" d="M5825 2355l27 8 27 7 21-28-26-2-27 0z"/>
<path fill="#58854d" d="M5869 2370l31 8 22-16-32-20z"/>
<path fill="#3d6736" d="M5890 2378l27 14 27 25 22-28-27 1-27-28z"/>
<path fill="#457f43" d="M5934 2417l27 32 27 33 22-34-27-35-27-24z"/>
<path fill="#4f9755" d="M5978 2482l32 27 22-53-32-8z"/>
<path fill="#62b46c" d="M6000 2509l32 14 22-48-32-19z"/>
<path fill="#6ac476" d="M6022 2523l27 3 22-4 27 19 21-45-27-28-21 7-27 0z"/>
<path fill="#55b163" d="M6088 2541l31-10 22-32-32-3z"/>
<path fill="#42a44d" d="M6109 2531l32-16 22-21-32 5z"/>
<path fill="#50a651" d="M6153 2498l27 10 27 7 22-40-27-3-27-1z"/>
<path fill="#3f903e" d="M6197 2515l27-6 27-23 22-14-27 13-27-10z"/>
<path fill="#4c9846" d="M6241 2486l32 3 22-20-32 3z"/>
<path fill="#5eac55" d="M6263 2489l32-7 21-29-31 16z"/>
<path fill="#72b667" d="M6285 2482l31-8 22-32-32 11z"/>
<path fill="#53884b" d="M6306 2474l32 23 22-15-32-40z"/>
<path fill="#3b7636" d="M6328 2497l32 12 22-11-32-16z"/>
<path fill="#529e4c" d="M6350 2509l32-7 22-14-32 10z"/>
<path fill="#73bf6b" d="M6372 2502l27 14 27-8 22-26-27-3-27 9z"/>
<path fill="#6aaf63" d="M6416 2508l27 15 22 9 27 2 21-24-26-10-22-15-27-3z"/>
<path fill="#559c4f" d="M6482 2534l31 2 22-21-32-5z"/>
<path fill="#43843f" d="M6503 2536l32 15 22-22-32-14z"/>
<path fill="#317632" d="M6525 2551l27 17 22 3 27 21 22-19-27-18-22-4-27-22z"/>
<path fill="#38813d" d="M6591 2592l32 13 22-29-32-3z"/>
<path fill="#2f7035" d="M6613 2605l32 11 22-4-32-36z"/>
<path fill="#1c5e26" d="M6635 2616l32 23 22-1-32-26z"/>
<path fill="#1f6a2b" d="M6679 2631l32 15 21-11-32-6z"/>
<path fill="#185a24" d="M6701 2646l31 11 22-6-32-16z"/>
<path fill="#104a1e" d="M6722 2657l27 13 27 18 22-8-27-11-27-18z"/>
<path fill="#0a431c" d="M6766 2688l27 20 27 16 22-10-27-14-27-20z"/>
<path fill="#0a4f22" d="M6810 2724l32 6 22-10-32-6z"/>
<path fill="#0c5b27" d="M6832 2730l27 5 22 4 22 1 26-4 22-10-27 1-21-3-22-3-27-1z"/>
<path fill="#0a4d21" d="M6919 2736l32 17 22-10-32-17z"/>
<path fill="#0d5121" d="M7007 2743l32 5 22-3-32-3z"/>
<path fill="#0f5422" d="M7073 2750l32 2 21 0-31-1z"/>
<path fill="#0f5121" d="M7117 2752l26 6 27 11 22-10-27-4-27-3z"/>
<path fill="#105a25" d="M7160 2769l27 4 22 1 22 8 22 9 22 11 27 4 21-17-26-3-22-8-22-3-22-5-22-9-27-2z"/>
<path fill="#15682b" d="M7292 2806l27 0 21 0 22 0 22 0 22 2 22 4 27 6 22-11-27-8-22-5-22-4-22 0-22-1-22-1-27 1z"/>
<path fill="#135f26" d="M7445 2818l27 7 27 4 22-12-27-4-27-6z"/>
<path fill="#166b2b" d="M7489 2829l27 1 26 0 22-16-27 2-26 1z"/>
<path fill="#26762e" d="M7620 2813l27-3 22-1 27 2 22-8-27-4-22-1-27 4z"/>
<path fill="#26702c" d="M7686 2811l27 5 27 5 21-12-27-2-26-4z"/>
<path fill="#2b7c31" d="M7730 2821l26 2 27-2 22-13-27 2-27-1z"/>
<path fill="#308334" d="M7773 2821l32-1 22-14-32 2z"/>
<path fill="#aab867" d="M4533 1941l32-15 22-19-32 10z"/>
<path fill="#a8b25e" d="M4555 1926l32-7 22-23-32 11z"/>
<path fill="#b6bb63" d="M4577 1919l27 2 22-4 27-1 21-38-26 8-22-1-27 11z"/>
<path fill="#bab85b" d="M4643 1916l32-13 21-38-32 13z"/>
<path fill="#a09b47" d="M4665 1903l31-17 22-12-32-9z"/>
<path fill="#3a3e23" d="M4796 1947l32 43 22-1-32-21z"/>
<path fill="#82905f" d="M4840 2015l32 18 21-28-32 8z"/>
<path fill="#adbe81" d="M4862 2033l31 4 22-30-32-2z"/>
<path fill="#b7c984" d="M4883 2037l32-6 22-30-32 6z"/>
<path fill="#b7c87a" d="M4905 2031l32-10 22-38-32 18z"/>
<path fill="#c8d482" d="M4927 2021l32-1 22-65-32 28z"/>
<path fill="#c3cb81" d="M4949 2020l32 1 22-69-32 3z"/>
<path fill="#8d9562" d="M4971 2021l32 20 22-28-32-61z"/>
<path fill="#66714c" d="M4993 2041l32 45 22-46-32-27z"/>
<path fill="#5f6a55" d="M5496 2193l32 35 22-14-32-24z"/>
<path fill="#748666" d="M5518 2228l32 16 22-14-32-16z"/>
<path fill="#7e956e" d="M5540 2244l27 2 27 14 22-11-27-5-27-14z"/>
<path fill="#91ac7e" d="M5584 2260l32-7 22-11-32 7z"/>
<path fill="#bdd7a7" d="M5606 2253l32 14 22-45-32 20z"/>
<path fill="#e3fdce" d="M5628 2267l32 22 22-66-32-1z"/>
<path fill="#f8ffe2" d="M5650 2289l27 10 26-5 22-59-27-4-26-8z"/>
<path fill="#eaffd6" d="M5693 2294l32 10 22-69-32 0z"/>
<path fill="#aac49a" d="M5715 2304l32 23 22-47-32-45z"/>
<path fill="#739565" d="M5737 2327l32 30 22-32-32-45z"/>
<path fill="#4f7644" d="M5803 2350l32 17 22-12-32-8z"/>
<path fill="#5b8b50" d="M5825 2367l32 18 22-23-32-7z"/>
<path fill="#649b58" d="M5847 2385l32 8 21-23-31-8z"/>
<path fill="#508147" d="M5869 2393l32 14 21-23-32-14z"/>
<path fill="#326330" d="M5891 2407l26 39 27 55 22-60-27-32-27-25z"/>
<path fill="#397641" d="M5934 2501l32 42 22-69-32-33z"/>
<path fill="#4f9a5e" d="M5956 2543l32 14 22-56-32-27z"/>
<path fill="#53aa68" d="M5978 2557l32 0 22-42-32-14z"/>
<path fill="#47a55d" d="M6000 2557l27 1 27-8 22-36-27 4-27-3z"/>
<path fill="#3e9952" d="M6044 2550l32 5 22-22-32-19z"/>
<path fill="#3b9844" d="M6109 2523l32 2 22-35-32 17z"/>
<path fill="#57b15f" d="M6131 2525l27 17 27-3 22-32-27-7-27-10z"/>
<path fill="#46a74a" d="M6175 2539l27-14 27-11 22-36-27 23-27 6z"/>
<path fill="#53aa4f" d="M6219 2514l27-7 27-5 22-28-27 7-27-3z"/>
<path fill="#6cba64" d="M6263 2502l32-5 21-31-31 8z"/>
<path fill="#5c9e56" d="M6285 2497l32 10 21-18-32-23z"/>
<path fill="#40813c" d="M6307 2507l31 16 22-22-32-12z"/>
<path fill="#529e4f" d="M6328 2523l32 13 22-42-32 7z"/>
<path fill="#5eb05b" d="M6350 2536l27 1 27-12 22-25-27 8-27-14z"/>
<path fill="#5fa85c" d="M6394 2525l32 32 22-42-32-15z"/>
<path fill="#6abf6a" d="M6416 2557l27 14 27-4 22-41-27-2-27-9z"/>
<path fill="#57ad55" d="M6460 2567l32-13 21-26-31-2z"/>
<path fill="#448e41" d="M6482 2554l32 5 21-16-32-15z"/>
<path fill="#2d6e2d" d="M6504 2559l26 8 27 14 22-18-27-3-27-17z"/>
<path fill="#29682c" d="M6547 2581l32 33 22-30-32-21z"/>
<path fill="#397f41" d="M6569 2614l32 25 22-42-32-13z"/>
<path fill="#469452" d="M6591 2639l32 15 22-46-32-11z"/>
<path fill="#358a45" d="M6613 2654l27 7 22 2 27 6 22-31-27-15-22 8-27-23z"/>
<path fill="#247234" d="M6679 2669l32 10 21-30-31-11z"/>
<path fill="#1a642b" d="M6701 2679l31 11 22-28-32-13z"/>
<path fill="#135724" d="M6722 2690l32 10 22-20-32-18z"/>
<path fill="#0a4b20" d="M6744 2700l27 9 22 9 22 9 22 7 27 5 22-8-27-4-22-5-22-6-22-16-27-20z"/>
<path fill="#0b4e21" d="M6898 2736l32 14 21-5-32-17z"/>
<path fill="#105824" d="M6963 2734l27 4 22 9 27 13 22-19-27-1-22-5-27 1z"/>
<path fill="#13662a" d="M7029 2760l27 4 27-6 22-14-27-2-27-1z"/>
<path fill="#105824" d="M7095 2749l27 10 21 15 22 5 22-2 22 4 22 12 22 14 27 6 22-15-27-4-22-11-22-9-22-8-22-1-22-4-22-11-26-6z"/>
<path fill="#12682c" d="M7270 2813l27 3 22 0 26 1 22-19-27 0-21 0-27 0z"/>
<path fill="#166a2b" d="M7335 2817l27-1 22-2 27 0 22-10-27-4-22-2-27 0z"/>
<path fill="#135c25" d="M7401 2814l27 4 22 6 22 8 27 4 22-14-27-1-22-4-22-7-27-6z"/>
<path fill="#166a2a" d="M7489 2836l32 0 21-14-31 0z"/>
<path fill="#26792f" d="M7598 2816l32-3 22-11-32 3z"/>
<path fill="#27702c" d="M7642 2810l27-1 22 5 22 8 27 5 21-12-26-2-22-5-22-5-27-2z"/>
<path fill="#2e7f32" d="M7730 2827l26-1 27-1 22-13-27 1-27 2z"/>
<path fill="#b9ce85" d="M4489 1980l32-19 22-28-32 20z"/>
<path fill="#9d9a45" d="M4643 1918l27-13 26 15 22-48-27 6-26 17z"/>
<path fill="#9e9a4e" d="M4686 1920l32-5 22-34-32-9z"/>
<path fill="#847f3e" d="M4708 1915l32-20 22 4-32-18z"/>
<path fill="#58572c" d="M4752 1896l32 35 22 8-32-30z"/>
<path fill="#3a3d1f" d="M4774 1931l32 51 22 0-32-43z"/>
<path fill="#8d9c61" d="M4883 2027l32 4 22-18-32 10z"/>
<path fill="#a5b476" d="M4905 2031l32 14 22-33-32 1z"/>
<path fill="#bbca95" d="M4927 2045l27 30 27 30 22-72-27-20-27-1z"/>
<path fill="#b4c49d" d="M4971 2105l32 24 22-51-32-45z"/>
<path fill="#748865" d="M5562 2241l32 25 22-21-32 7z"/>
<path fill="#89a278" d="M5584 2266l32 29 22-36-32-14z"/>
<path fill="#96b686" d="M5606 2295l32 25 22-39-32-22z"/>
<path fill="#b0da9e" d="M5628 2320l32 7 22-36-32-10z"/>
<path fill="#caf8b8" d="M5650 2327l32 10 21-51-31 5z"/>
<path fill="#bce8ac" d="M5672 2337l32 20 21-61-32-10z"/>
<path fill="#a7d79a" d="M5694 2357l31 31 22-69-32-23z"/>
<path fill="#8bc57e" d="M5715 2388l32-20 22-19-32-30z"/>
<path fill="#3f5936" d="M5781 2327l32 30 22 2-32-17z"/>
<path fill="#406438" d="M5803 2357l32 40 22-20-32-18z"/>
<path fill="#568c4e" d="M5825 2397l27 18 27 14 22-30-27-14-27-8z"/>
<path fill="#2a5728" d="M5869 2429l32 41 21-32-31-39z"/>
<path fill="#153d19" d="M5891 2470l31 58 22-35-32-55z"/>
<path fill="#1a4d27" d="M5912 2528l32 40 22-33-32-42z"/>
<path fill="#25783f" d="M5956 2573l32-5 22-19-32 0z"/>
<path fill="#1c7534" d="M5978 2568l27 0 22-4 27-10 22-7-27-5-22 8-27-1z"/>
<path fill="#2b8b3b" d="M6066 2546l32-6 21-25-31 17z"/>
<path fill="#399245" d="M6088 2540l32 3 21-26-32-2z"/>
<path fill="#439a51" d="M6110 2543l26 19 27 9 22-40-27 3-27-17z"/>
<path fill="#3a9e45" d="M6153 2571l27-12 27-19 22-34-27 11-27 14z"/>
<path fill="#46a447" d="M6197 2540l27-14 27-5 22-27-27 5-27 7z"/>
<path fill="#57ad54" d="M6241 2521l32 2 22-34-32 5z"/>
<path fill="#519e4e" d="M6263 2523l32 5 22-29-32-10z"/>
<path fill="#3b823b" d="M6285 2528l27 11 26 14 22-25-27-13-26-16z"/>
<path fill="#489e49" d="M6328 2553l27-1 27-4 22-31-27 12-27-1z"/>
<path fill="#438d46" d="M6372 2548l27 31 27 13 22-29-27-14-27-32z"/>
<path fill="#44a249" d="M6416 2592l27-5 27-7 22-34-27 13-27 4z"/>
<path fill="#429a42" d="M6460 2580l32-11 22-18-32-5z"/>
<path fill="#347d34" d="M6482 2569l32 1 21-11-31-8z"/>
<path fill="#29652a" d="M6504 2570l31 29 22-26-32-14z"/>
<path fill="#215c29" d="M6525 2599l27 34 27 29 22-31-27-25-27-33z"/>
<path fill="#307941" d="M6569 2662l32 18 22-34-32-15z"/>
<path fill="#2e8544" d="M6591 2680l27 7 22 1 27-2 22-25-27-6-22-2-27-7z"/>
<path fill="#1f7334" d="M6657 2686l32 4 22-19-32-10z"/>
<path fill="#17632b" d="M6679 2690l32 7 21-15-31-11z"/>
<path fill="#0f5523" d="M6701 2697l27 5 21 4 27 12 22-8-27-9-22-9-27-10z"/>
<path fill="#0c5021" d="M6766 2718l27 3 22 9 27 5 22-4-27-5-22-7-27-9z"/>
<path fill="#0e5a26" d="M6854 2735l27 8 27 7 22-8-27-14-27 3z"/>
<path fill="#156229" d="M6941 2737l27 11 27 13 22-22-27-9-27-4z"/>
<path fill="#115f28" d="M6985 2761l27 10 27 3 22-18-27-4-27-13z"/>
<path fill="#176e2e" d="M7029 2774l27-5 22-6 27 2 22-14-27-10-22 9-27 6z"/>
<path fill="#105925" d="M7095 2765l27 7 22 6 21 2 22 6 22 13 22 13 22 5 22 4 27 3 22-16-27 0-22-3-22-6-22-14-22-12-22-4-22 2-22-5-26-15z"/>
<path fill="#146a2b" d="M7292 2824l27 3 22-1 21-5 22-4 27 0 22-7-27-4-22 0-22 2-22 1-26-1z"/>
<path fill="#135924" d="M7401 2817l27 6 22 8 27 5 22-8-27-4-22-8-27-6z"/>
<path fill="#25792f" d="M7533 2826l26-5 22-1 22-3 27-3 22-12-27 3-22 3-22 2-27 5z"/>
<path fill="#2a772f" d="M7620 2814l27-2 27 5 22-11-27-5-27 1z"/>
<path fill="#28722d" d="M7664 2817l27 9 27 5 22-12-27-5-27-8z"/>
<path fill="#2d7e32" d="M7708 2831l27 0 27 0 21-14-27 1-26 1z"/>
<path fill="#c9e1a9" d="M4446 2019l32-14 21-33-31 19z"/>
<path fill="#c1d895" d="M4468 2005l31-22 22-30-32 19z"/>
<path fill="#7c7c40" d="M4643 1898l32 49 21-35-31-15z"/>
<path fill="#a7ab68" d="M4665 1947l32 29 21-69-32 5z"/>
<path fill="#ccd07f" d="M4687 1976l26 11 27-3 22-96-27-1-27 20z"/>
<path fill="#a4a761" d="M4730 1984l32-10 22-51-32-35z"/>
<path fill="#73783f" d="M4752 1974l32-13 22 13-32-51z"/>
<path fill="#565e37" d="M4862 2003l32 21 21-1-32-4z"/>
<path fill="#616b43" d="M4884 2024l31 28 22-15-32-14z"/>
<path fill="#697554" d="M4905 2052l32 49 22-34-32-30z"/>
<path fill="#8e9c80" d="M4927 2101l32 63 22-67-32-30z"/>
<path fill="#3d452d" d="M5453 2129l32 74 22-29-32-31z"/>
<path fill="#5a654f" d="M5475 2203l32 50 21-36-31-43z"/>
<path fill="#7c8e6d" d="M5497 2253l31-11 22-4-32-21z"/>
<path fill="#5a704e" d="M5540 2237l27 46 22 22 27 10 22-3-27-25-22-29-27-25z"/>
<path fill="#638757" d="M5606 2315l32 38 22-34-32-7z"/>
<path fill="#83b577" d="M5628 2353l32 24 22-48-32-10z"/>
<path fill="#75a76b" d="M5650 2377l32 5 22-33-32-20z"/>
<path fill="#6ba764" d="M5672 2382l32 48 21-50-31-31z"/>
<path fill="#5c7551" d="M5759 2325l32 24 22 0-32-30z"/>
<path fill="#304b2a" d="M5781 2349l32 63 22-23-32-40z"/>
<path fill="#487a44" d="M5803 2412l32 32 22-37-32-18z"/>
<path fill="#539350" d="M5825 2444l32 12 22-35-32-14z"/>
<path fill="#2d632f" d="M5847 2456l32 26 22-20-32-41z"/>
<path fill="#103716" d="M5869 2482l32 40 21-2-31-58z"/>
<path fill="#146629" d="M6000 2562l32-1 22-15-32 10z"/>
<path fill="#1f7733" d="M6022 2561l32 11 22-34-32 8z"/>
<path fill="#308c42" d="M6044 2572l27-4 27-4 22-29-27-3-27 6z"/>
<path fill="#318142" d="M6088 2564l32 26 21-36-31-19z"/>
<path fill="#34943b" d="M6175 2550l32-9 22-23-32 14z"/>
<path fill="#3f9a41" d="M6197 2541l27-4 27-3 22-19-27-2-27 5z"/>
<path fill="#3d8e3d" d="M6241 2534l32-2 22-12-32-5z"/>
<path fill="#2f722f" d="M6263 2532l32-1 22 0-32-11z"/>
<path fill="#276528" d="M6285 2531l32 23 21-9-31-14z"/>
<path fill="#307c34" d="M6307 2554l32 13 21-23-32 1z"/>
<path fill="#459748" d="M6329 2567l31 6 22-33-32 4z"/>
<path fill="#3c8641" d="M6350 2573l32 18 22-20-32-31z"/>
<path fill="#287631" d="M6372 2591l32 5 22-12-32-13z"/>
<path fill="#2b8234" d="M6394 2596l32-3 22-14-32 5z"/>
<path fill="#35913a" d="M6416 2593l27 3 27-16 22-19-27 11-27 7z"/>
<path fill="#368438" d="M6460 2580l32 12 22-30-32-1z"/>
<path fill="#2a682e" d="M6482 2592l32 32 21-33-31-29z"/>
<path fill="#1b5826" d="M6504 2624l27 29 26 18 22-17-27-29-27-34z"/>
<path fill="#135f28" d="M6547 2671l27 8 27 5 22-5-27-7-27-18z"/>
<path fill="#14672a" d="M6613 2689l27 3 27-2 22-8-27-4-27 2z"/>
<path fill="#125a24" d="M6657 2690l32-2 22 1-32-7z"/>
<path fill="#0f5221" d="M6679 2688l27 11 22 18 26 12 22-19-27-12-21-4-27-5z"/>
<path fill="#11602a" d="M6744 2729l27 4 22 3 22 9 27 7 22-25-27 0-22-5-22-9-27-3z"/>
<path fill="#11642c" d="M6832 2752l27 5 22-1 27-1 22-17-27 4-22-7-27-8z"/>
<path fill="#1b7034" d="M6898 2755l27 5 22 7 26 2 22-16-27-13-22-11-26 9z"/>
<path fill="#106128" d="M6963 2769l27 1 22 3 27 5 22-17-27 5-22-3-27-10z"/>
<path fill="#187030" d="M7029 2778l27 4 22-3 27-6 22-9-27-7-22-2-27 6z"/>
<path fill="#145e26" d="M7095 2773l27-1 22 9 26 12 22-15-27-6-21-2-27-6z"/>
<path fill="#0e5724" d="M7160 2793l27 12 22 12 22 3 22 1 22 5 27 9 22-16-27-3-22-3-22-4-22-5-22-13-27-13z"/>
<path fill="#126b2c" d="M7292 2835l27 2 27-6 21-18-26 5-27 1z"/>
<path fill="#176f2c" d="M7336 2831l26-8 27-2 22-12-27 0-27 4z"/>
<path fill="#155f26" d="M7379 2821l27 3 22 5 22 4 27 1 22-5-27-1-22-5-22-8-27-6z"/>
<path fill="#20762e" d="M7489 2834l27-2 27-3 21-16-26 5-27 6z"/>
<path fill="#287e31" d="M7533 2829l27-3 21-3 27-2 22-15-27 3-22 3-27 1z"/>
<path fill="#2d7e32" d="M7598 2821l27 0 22 6 22 6 22 4 22 0 27-1 22-13-27 0-22 0-22-5-22-9-22-5-27 2z"/>
<path fill="#d1e9b9" d="M4424 2038l32-11 22-30-32 14z"/>
<path fill="#4e4e21" d="M4621 1893l32 36 22 10-32-49z"/>
<path fill="#5b603a" d="M4643 1929l32 64 22-25-32-29z"/>
<path fill="#9fab78" d="M4665 1993l32 43 21-57-31-11z"/>
<path fill="#ccdd9d" d="M4687 2036l31 4 22-64-32 3z"/>
<path fill="#ccdd90" d="M4708 2040l32-31 22-43-32 10z"/>
<path fill="#b3bf6c" d="M4730 2009l32-28 22-28-32 13z"/>
<path fill="#9da358" d="M4752 1981l32 0 22-35-32 7z"/>
<path fill="#858848" d="M4774 1981l32-18 22-1-32-16z"/>
<path fill="#606330" d="M4796 1963l32 4 22 5-32-10z"/>
<path fill="#3f4323" d="M4818 1967l27 16 27 43 22-10-27-21-27-23z"/>
<path fill="#495133" d="M4862 2026l32 44 21-26-31-28z"/>
<path fill="#4a533c" d="M4884 2070l31 48 22-25-32-49z"/>
<path fill="#3d442c" d="M5300 2081l26 50 27 36 22 11-27-27-27-35z"/>
<path fill="#616a3e" d="M5409 2128l32 13 22-20-32 12z"/>
<path fill="#3f472f" d="M5431 2141l32 67 22-13-32-74z"/>
<path fill="#5c6752" d="M5453 2208l32 53 22-16-32-50z"/>
<path fill="#536048" d="M5519 2237l31 49 22-11-32-46z"/>
<path fill="#475b3d" d="M5540 2286l27 10 27 13 22-2-27-10-27-22z"/>
<path fill="#364e2f" d="M5584 2309l32 59 22-23-32-38z"/>
<path fill="#3f6839" d="M5606 2368l27 15 27-5 22-4-27-5-27-24z"/>
<path fill="#2f5c2d" d="M5650 2378l32 53 22-9-32-48z"/>
<path fill="#abe198" d="M5716 2375l31 13 22-71-32 7z"/>
<path fill="#89b17b" d="M5737 2388l32-24 22-23-32-24z"/>
<path fill="#3b5a34" d="M5759 2364l32 76 22-36-32-63z"/>
<path fill="#18612a" d="M6000 2561l32 26 22-23-32-11z"/>
<path fill="#1e7133" d="M6022 2587l27-6 22 3 27 16 22-18-27-26-22 4-27 4z"/>
<path fill="#338e39" d="M6153 2556l27-3 22-3 27-8 22-16-27 3-22 4-27 9z"/>
<path fill="#245a24" d="M6263 2527l32 30 22-11-32-23z"/>
<path fill="#28662b" d="M6285 2557l32 26 22-24-32-13z"/>
<path fill="#378940" d="M6307 2583l27 12 21 12 27-2 22-17-27-5-22-18-26-6z"/>
<path fill="#2c712f" d="M6438 2587l32 26 22-29-32-12z"/>
<path fill="#215e2b" d="M6460 2613l27 36 27 26 22-30-27-29-27-32z"/>
<path fill="#19642d" d="M6504 2675l27 7 26 11 22-22-27-8-26-18z"/>
<path fill="#116128" d="M6547 2693l32 9 22-26-32-5z"/>
<path fill="#0e491e" d="M6657 2690l27 10 22 16 27 16 21-11-26-12-22-18-27-11z"/>
<path fill="#0e5726" d="M6723 2732l32 13 21-20-32-4z"/>
<path fill="#12662f" d="M6745 2745l26 12 22 8 22 4 22-1 22-2 27 2 22-21-27 1-22 1-22-5-22-7-22-9-27-3z"/>
<path fill="#196f36" d="M6876 2768l27 11 22 5 27-3 21-20-26-2-22-7-27-5z"/>
<path fill="#10632a" d="M6942 2781l26 2 22 0 22 0 22 10 27-1 22-21-27 3-22-4-22-5-22-3-27-1z"/>
<path fill="#196e2f" d="M7051 2792l27-6 22 4 22 9 27 3 21-17-26-12-22-9-22 1-27 6z"/>
<path fill="#0e5624" d="M7139 2802l27 7 21 9 22 1 22 1 22 7 22 12 27 5 22-15-27-2-22-9-22-5-22-1-22-3-22-12-27-12z"/>
<path fill="#146e2d" d="M7292 2844l27-4 27-7 21-18-26 8-27 6z"/>
<path fill="#19712d" d="M7336 2833l27-3 26 1 22-15-27-3-27 2z"/>
<path fill="#186829" d="M7379 2831l27 3 22 0 27 1 22-9-27-1-22-4-27-5z"/>
<path fill="#1f742d" d="M7467 2837l27 2 27-2 22-16-27 3-27 2z"/>
<path fill="#288032" d="M7511 2837l27-3 22-2 26 0 22-19-27 2-21 3-27 3z"/>
<path fill="#2e8435" d="M7576 2832l27 3 22 6 22 5 22 2 22-2 27-1 22-17-27 1-22 0-22-4-22-6-22-6-27 0z"/>
<path fill="#c7e2af" d="M4402 2056l32-11 22-26-32 11z"/>
<path fill="#5c5923" d="M4599 1904l32-4 22 21-32-36z"/>
<path fill="#383a1c" d="M4621 1900l32 73 22 12-32-64z"/>
<path fill="#545c3d" d="M4643 1973l32 72 22-17-32-43z"/>
<path fill="#a0b184" d="M4665 2045l32 24 21-37-31-4z"/>
<path fill="#cae0a0" d="M4687 2069l32-17 21-51-32 31z"/>
<path fill="#cbde92" d="M4709 2052l31-21 22-58-32 28z"/>
<path fill="#d8e799" d="M4730 2031l32 11 22-69-32 0z"/>
<path fill="#c7d482" d="M4752 2042l32-27 22-60-32 18z"/>
<path fill="#9ca150" d="M4774 2015l32-48 22-8-32-4z"/>
<path fill="#64662e" d="M4796 1967l32 4 22 4-32-16z"/>
<path fill="#3f4222" d="M4818 1971l32 55 22-8-32-43z"/>
<path fill="#434b31" d="M4840 2026l32 82 22-46-32-44z"/>
<path fill="#4e5743" d="M4862 2108l32 26 21-24-31-48z"/>
<path fill="#828e55" d="M5168 2082l32 26 22-16-32-12z"/>
<path fill="#3e4121" d="M5256 2045l27 42 27 47 21-11-26-50-27-13z"/>
<path fill="#424a30" d="M5300 2134l32 24 21 1-32-36z"/>
<path fill="#7c8750" d="M5387 2142l32 6 22-15-32-13z"/>
<path fill="#49513a" d="M5409 2148l27 34 27 51 22 20-27-53-27-67z"/>
<path fill="#adbf9c" d="M5475 2246l32 0 22-17-32 4z"/>
<path fill="#879778" d="M5497 2246l32 17 21 15-31-49z"/>
<path fill="#31432a" d="M5562 2296l32 29 22 35-32-59z"/>
<path fill="#213b1d" d="M5628 2358l32 37 22 28-32-53z"/>
<path fill="#6aae63" d="M5672 2399l32 26 22-58-32 38z"/>
<path fill="#8dd783" d="M5694 2425l32-4 21-41-31-13z"/>
<path fill="#81bd76" d="M5716 2421l31-9 22-56-32 24z"/>
<path fill="#457340" d="M5737 2412l32 64 22-44-32-76z"/>
<path fill="#125924" d="M6022 2572l27 10 27 10 22 0-27-16-27-3z"/>
<path fill="#2c843c" d="M6088 2573l32 4 22-29-32 31z"/>
<path fill="#379544" d="M6110 2577l32-2 21-27-31 0z"/>
<path fill="#2f8937" d="M6132 2575l26-16 22-1 27-6 22-18-27 8-22 3-27 3z"/>
<path fill="#429742" d="M6197 2552l27 0 27-8 22-25-27 2-27 13z"/>
<path fill="#2d692d" d="M6241 2544l32 26 22-21-32-30z"/>
<path fill="#235d28" d="M6263 2570l32 33 22-28-32-26z"/>
<path fill="#297133" d="M6285 2603l32 9 22-25-32-12z"/>
<path fill="#378845" d="M6307 2612l32 24 21-37-31-12z"/>
<path fill="#389649" d="M6329 2636l32-4 21-35-32 2z"/>
<path fill="#1d5421" d="M6416 2590l32 35 22-20-32-26z"/>
<path fill="#13421b" d="M6438 2625l32 41 22-25-32-36z"/>
<path fill="#175326" d="M6460 2666l32 30 22-29-32-26z"/>
<path fill="#124f1f" d="M6635 2679l32 11 22 2-32-10z"/>
<path fill="#0c441c" d="M6657 2690l27 21 22 24 27 20 22-18-27-13-22-16-27-16z"/>
<path fill="#0d5729" d="M6723 2755l27 13 26 6 22-17-27-8-26-12z"/>
<path fill="#0e602b" d="M6766 2774l27 1 22-1 22 0 22 11 22 8 22 1 22-6 22-3 22 0 21-1 27 7 22-6-27-10-22 0-22 0-21-2-22 3-22-5-22-11-22-2-22 2-22 1-27-4z"/>
<path fill="#166a2f" d="M7029 2790l27 6 22 10 22 11 22 1 27-8 22-9-27-7-22-3-22-9-22-4-27 6z"/>
<path fill="#0f5523" d="M7139 2810l27 1 21 4 22 3 27 10 22-9-27-7-22-1-22-1-26-9z"/>
<path fill="#0d5322" d="M7226 2828l27 13 27 6 22-11-27-5-27-12z"/>
<path fill="#0f6229" d="M7270 2847l32-1 22-14-32 4z"/>
<path fill="#1a712e" d="M7292 2846l27-3 22 0 22 2 21 1 22-2 22-3 22 0 27 1 22-11-27-2-22-2-22-1-22 0-22-3-21-1-22 3-27 7z"/>
<path fill="#20762e" d="M7467 2842l27 1 27 0 22-17-27 3-27 2z"/>
<path fill="#2b8234" d="M7511 2843l27 0 22 1 22 3 21 7 22 5 22 1 22-4 27-2 22-17-27 1-22 2-22-2-22-5-22-6-22-3-21 0-27 2z"/>
<path fill="#99963e" d="M4555 1926l32-11 22-19-32 11z"/>
<path fill="#6e682a" d="M4577 1915l32-6 22-17-32 4z"/>
<path fill="#42421d" d="M4599 1909l32 57 22-1-32-73z"/>
<path fill="#3b4127" d="M4621 1966l32 70 22 1-32-72z"/>
<path fill="#626e51" d="M4643 2036l32 44 22-19-32-24z"/>
<path fill="#a8bb8f" d="M4665 2080l32 6 22-42-32 17z"/>
<path fill="#d1e8ad" d="M4687 2086l32-13 21-50-31 21z"/>
<path fill="#e6fbc1" d="M4709 2073l31 25 22-64-32-11z"/>
<path fill="#d5ebab" d="M4730 2098l32-18 22-73-32 27z"/>
<path fill="#b5c574" d="M4752 2080l32-55 22-66-32 48z"/>
<path fill="#a2a85d" d="M4774 2025l32-24 22-38-32-4z"/>
<path fill="#686e43" d="M4796 2001l32 47 22-30-32-55z"/>
<path fill="#3f4630" d="M4818 2048l32 63 22-11-32-82z"/>
<path fill="#4d5645" d="M4840 2111l32 31 22-16-32-26z"/>
<path fill="#8e9b62" d="M5146 2089l32 57 22-46-32-26z"/>
<path fill="#505126" d="M5234 2039l32 52 22-12-32-42z"/>
<path fill="#3a3f23" d="M5256 2091l32 41 22-6-32-47z"/>
<path fill="#444c30" d="M5278 2132l32 19 22-1-32-24z"/>
<path fill="#9aaa6a" d="M5343 2156l27 5 27-4 22-17-27-6-27 20z"/>
<path fill="#626d44" d="M5387 2157l32 1 22 16-32-34z"/>
<path fill="#404731" d="M5409 2158l32 47 22 20-32-51z"/>
<path fill="#5d6751" d="M5431 2205l32 54 22-21-32-13z"/>
<path fill="#9db28d" d="M5453 2259l32 41 22-62-32 0z"/>
<path fill="#bbd7a8" d="M5475 2300l32 13 22-58-32-17z"/>
<path fill="#9bb988" d="M5497 2313l32-10 21-29-31-19z"/>
<path fill="#2b4025" d="M5584 2317l27 37 27 38 22-5-27-37-27-8z"/>
<path fill="#2b5027" d="M5628 2392l32 35 22-36-32-4z"/>
<path fill="#4f8f4b" d="M5650 2427l32 20 22-30-32-26z"/>
<path fill="#125020" d="M6000 2559l27 19 27 15 22-9-27-10-27-10z"/>
<path fill="#1d6d30" d="M6044 2593l32 8 22-36-32 19z"/>
<path fill="#36954b" d="M6066 2601l27 16 27-13 22-37-27 2-27-4z"/>
<path fill="#2e8434" d="M6132 2566l27-7 26 1 22-16-27 6-27 1z"/>
<path fill="#3c9441" d="M6175 2560l32 16 22-32-32 0z"/>
<path fill="#4ba34e" d="M6197 2576l32-12 22-28-32 8z"/>
<path fill="#357938" d="M6219 2564l32 23 22-25-32-26z"/>
<path fill="#1d5c26" d="M6241 2587l27 32 27 6 22-21-27-9-27-33z"/>
<path fill="#236a32" d="M6285 2625l32 34 22-31-32-24z"/>
<path fill="#2c772f" d="M6372 2601l32-8 22-11-32 4z"/>
<path fill="#1a4a1d" d="M6394 2593l32 34 22-10-32-35z"/>
<path fill="#0d3113" d="M6416 2627l32 42 22-11-32-41z"/>
<path fill="#1a6628" d="M6591 2681l32 5 22-15-32 5z"/>
<path fill="#185c25" d="M6613 2686l32 13 22-17-32-11z"/>
<path fill="#124c1f" d="M6635 2699l32 21 22-17-32-21z"/>
<path fill="#09441d" d="M6657 2720l27 21 22 18 27 11 22-10-27-13-22-20-27-24z"/>
<path fill="#075124" d="M6723 2770l27 6 27 3 21-12-27-1-26-6z"/>
<path fill="#0c5d2b" d="M6767 2779l26 3 22 9 22 6 27 2 22-14-27-8-22-11-22 0-27 1z"/>
<path fill="#105d27" d="M6964 2784l26 5 22 12 27 5 22-18-27-6-22 1-27-7z"/>
<path fill="#116328" d="M7095 2824l27-4 22-4 27-1 21-8-26-4-22-1-27 8z"/>
<path fill="#105623" d="M7161 2815l27 4 26 11 22-10-27-10-27-3z"/>
<path fill="#0d5121" d="M7204 2830l27 12 27 5 22-8-27-6-27-13z"/>
<path fill="#105e27" d="M7248 2847l27 1 27 2 22-15-27 3-27 1z"/>
<path fill="#156a2c" d="M7292 2850l27 3 27 5 22-21-27-2-27 0z"/>
<path fill="#1c732e" d="M7336 2858l27 1 22-3 21-6 22-3 22-1 22 2 27 3 22-16-27 0-22-1-22-1-22 0-22 3-22 2-26-1z"/>
<path fill="#247830" d="M7489 2851l27 2 22 1 22 3 22 6 21 6 27 0 22-17-27-1-22-5-21-7-22-3-22-1-27 0z"/>
<path fill="#2a8333" d="M7620 2869l27-4 27-3 22-16-27 2-27 4z"/>
<path fill="#b0d498" d="M4358 2085l32-4 22-29-32 11z"/>
<path fill="#a6a549" d="M4533 1942l32-16 22-19-32 11z"/>
<path fill="#989448" d="M4555 1926l32 2 22-27-32 6z"/>
<path fill="#676837" d="M4577 1928l32 30 22 0-32-57z"/>
<path fill="#3c4125" d="M4599 1958l32 51 22 19-32-70z"/>
<path fill="#3f4730" d="M4621 2009l32 44 22 19-32-44z"/>
<path fill="#92a27c" d="M4665 2078l32 1 22-14-32 13z"/>
<path fill="#adbe97" d="M4687 2079l32 28 21-17-31-25z"/>
<path fill="#c1d5a9" d="M4709 2107l32-2 21-33-32 18z"/>
<path fill="#cdde93" d="M4752 2076l32-30 22-53-32 24z"/>
<path fill="#a4b079" d="M4774 2046l32 20 22-26-32-47z"/>
<path fill="#596446" d="M4796 2066l32 24 22 13-32-63z"/>
<path fill="#889457" d="M4971 2073l32 7 22-13-32-12z"/>
<path fill="#60693c" d="M5103 2093l32 7 21-19-31 14z"/>
<path fill="#677149" d="M5125 2100l31 50 22-12-32-57z"/>
<path fill="#a8aa57" d="M5190 2077l32-2 22-44-32 24z"/>
<path fill="#7c7f46" d="M5212 2075l32 16 22-8-32-52z"/>
<path fill="#424726" d="M5234 2091l32 24 22 9-32-41z"/>
<path fill="#606a41" d="M5300 2138l32 20 21-10-31 0z"/>
<path fill="#87965f" d="M5322 2158l32 15 21-20-32-5z"/>
<path fill="#a6b875" d="M5344 2173l31-1 22-23-32 4z"/>
<path fill="#829059" d="M5365 2172l32-7 22-15-32-1z"/>
<path fill="#4e5739" d="M5387 2165l32 44 22-12-32-47z"/>
<path fill="#444c3c" d="M5409 2209l32 67 22-25-32-54z"/>
<path fill="#5c6f51" d="M5431 2276l32 53 22-37-32-41z"/>
<path fill="#7a8c6b" d="M5519 2275l32 9 21-9-31-2z"/>
<path fill="#4f5e44" d="M5541 2284l31 45 22-20-32-34z"/>
<path fill="#3b5033" d="M5562 2329l32 33 22-16-32-37z"/>
<path fill="#2d4c28" d="M5584 2362l27 26 27 33 22-2-27-35-27-38z"/>
<path fill="#326b30" d="M5628 2421l32 38 22-20-32-20z"/>
<path fill="#13441a" d="M5957 2541l31 24 22-14-32-5z"/>
<path fill="#135020" d="M5978 2565l27 25 27 9 22-14-27-15-27-19z"/>
<path fill="#195f2b" d="M6022 2599l32 19 22-25-32-8z"/>
<path fill="#217038" d="M6044 2618l32 8 22-17-32-16z"/>
<path fill="#358f3d" d="M6110 2584l27-16 27 7 21-23-26-1-27 7z"/>
<path fill="#3b8f43" d="M6154 2575l31 16 22-23-32-16z"/>
<path fill="#439b4b" d="M6175 2591l32-2 22-33-32 12z"/>
<path fill="#347e3b" d="M6197 2589l32 11 22-21-32-23z"/>
<path fill="#175522" d="M6219 2600l27 26 27 5 22-14-27-6-27-32z"/>
<path fill="#114d1f" d="M6263 2631l32 28 22-8-32-34z"/>
<path fill="#308334" d="M6351 2611l32-8 21-18-32 8z"/>
<path fill="#1e5622" d="M6373 2603l31 19 22-3-32-34z"/>
<path fill="#0e3213" d="M6394 2622l32 31 22 8-32-42z"/>
<path fill="#195f28" d="M6548 2672l27 15 21 12 22 16 27 19 22-22-27-21-22-13-22-5-27 1z"/>
<path fill="#0c4b20" d="M6635 2734l27 13 27 10 22-6-27-18-27-21z"/>
<path fill="#07461f" d="M6679 2757l27 8 27 11 22-8-27-6-27-11z"/>
<path fill="#085024" d="M6723 2776l32 14 22-19-32-3z"/>
<path fill="#0e5f2f" d="M6745 2790l27 9 21 4 27 1 22-15-27-6-22-9-26-3z"/>
<path fill="#116129" d="M6898 2789l27-1 22 8 22 8 27 6 21-17-27-12-21-5-22 2-27 3z"/>
<path fill="#125e26" d="M7095 2817l27 4 22 0 22 2 27 9 21-10-26-11-22-4-22 1-27 4z"/>
<path fill="#0e5121" d="M7183 2832l31 9 22-7-32-12z"/>
<path fill="#115c26" d="M7270 2849l27 8 27 7 22-14-27-5-27-3z"/>
<path fill="#146a2b" d="M7314 2864l27 3 27-3 22-16-27 3-27-1z"/>
<path fill="#1e712c" d="M7358 2864l27-6 21-4 22-1 22 0 22 2 22 2 22 3 22 3 22 5 22 3 27 1 21-11-27 0-21-6-22-6-22-3-22-1-22-2-22-3-22-2-22 1-22 3-26 6z"/>
<path fill="#277d31" d="M7599 2872l26-1 27 0 22-17-27 3-27 4z"/>
<path fill="#a1ca8c" d="M4336 2098l32 2 22-27-32 4z"/>
<path fill="#bbbf67" d="M4512 1961l32 0 21-43-32 16z"/>
<path fill="#c9cc7d" d="M4534 1961l31 19 22-60-32-2z"/>
<path fill="#acb171" d="M4555 1980l32 13 22-43-32-30z"/>
<path fill="#838b58" d="M4577 1993l32 5 22 3-32-51z"/>
<path fill="#656f48" d="M4599 1998l32 23 22 24-32-44z"/>
<path fill="#687457" d="M4665 2073l32 22 22 4-32-28z"/>
<path fill="#8d9d7b" d="M4687 2095l32 14 22-12-32 2z"/>
<path fill="#c7ddac" d="M4709 2109l32 6 21-47-31 29z"/>
<path fill="#e4fbc0" d="M4731 2115l31-4 22-73-32 30z"/>
<path fill="#d3e7ad" d="M4752 2111l32-14 22-39-32-20z"/>
<path fill="#97a77c" d="M4774 2097l32 15 22-30-32-24z"/>
<path fill="#6d7a5b" d="M4796 2112l32 20 22-27-32-23z"/>
<path fill="#748167" d="M4818 2132l32 25 22-26-32-26z"/>
<path fill="#b5c67e" d="M4949 2091l32 25 22-44-32-7z"/>
<path fill="#434a2b" d="M5081 2075l27 23 27 30 21 14-26-50-27-7z"/>
<path fill="#c4cd78" d="M5168 2118l32-7 22-44-32 2z"/>
<path fill="#a5ac61" d="M5190 2111l32-18 22-10-32-16z"/>
<path fill="#6d723a" d="M5212 2093l32 8 22 6-32-24z"/>
<path fill="#4c522f" d="M5256 2104l27 30 27 20 22-4-27-20-27-13z"/>
<path fill="#6d794d" d="M5300 2154l32 31 22-20-32-15z"/>
<path fill="#96a76e" d="M5322 2185l32 1 21-22-31 1z"/>
<path fill="#8b9b63" d="M5344 2186l31-1 22-28-32 7z"/>
<path fill="#596444" d="M5365 2185l32 41 22-25-32-44z"/>
<path fill="#454c3d" d="M5387 2226l32 59 22-17-32-67z"/>
<path fill="#819671" d="M5497 2287l32 35 22-46-32-9z"/>
<path fill="#5c734f" d="M5519 2322l32 34 21-35-31-45z"/>
<path fill="#44603b" d="M5541 2356l32 14 21-16-32-33z"/>
<path fill="#324e2b" d="M5563 2370l31 36 22-26-32-26z"/>
<path fill="#254822" d="M5584 2406l32 52 22-45-32-33z"/>
<path fill="#255c27" d="M5606 2458l32 31 22-38-32-38z"/>
<path fill="#123816" d="M5913 2511l27 24 27 38 21-16-26-24-27-11z"/>
<path fill="#10431b" d="M5957 2573l31 26 22-17-32-25z"/>
<path fill="#105221" d="M5978 2599l27 7 27 4 22 0-27-19-27-9z"/>
<path fill="#389a47" d="M6088 2603l32-3 22-40-32 16z"/>
<path fill="#46a152" d="M6110 2600l32 6 22-39-32-7z"/>
<path fill="#368f43" d="M6132 2606l27 5 27-4 21-26-27 2-26-16z"/>
<path fill="#2f803a" d="M6176 2607l31 5 22-20-32-11z"/>
<path fill="#1d6429" d="M6197 2612l32 17 22-11-32-26z"/>
<path fill="#165a24" d="M6219 2629l32 4 22-10-32-5z"/>
<path fill="#114d1f" d="M6241 2633l32 15 22 3-32-28z"/>
<path fill="#308936" d="M6329 2622l32-8 22-19-32 8z"/>
<path fill="#246729" d="M6351 2614l32 11 21-11-31-19z"/>
<path fill="#144019" d="M6373 2625l31 18 22 2-32-31z"/>
<path fill="#195d27" d="M6504 2663l27 17 22 17 22 14 21 22 27 16 22-23-27-19-22-16-21-12-22-15-27-6z"/>
<path fill="#0d5324" d="M6613 2749l27 5 27 1 22-6-27-10-27-13z"/>
<path fill="#08451f" d="M6657 2755l27 15 22 9 27 24 22-21-27-14-22-11-27-8z"/>
<path fill="#0b532a" d="M6723 2803l32 15 22-27-32-9z"/>
<path fill="#0f5f28" d="M6854 2803l27-10 22 3 22 11 27 9 22-20-27-8-22-8-22 1-27 4z"/>
<path fill="#0f4f1f" d="M7073 2805l32 13 22-5-32-4z"/>
<path fill="#125b25" d="M7095 2818l27 7 22 5 22 4 22 5 27 2 21-5-27-3-21-9-22-9-22-2-27 0z"/>
<path fill="#105321" d="M7226 2841l27 4 22 9 27 10 22-8-27-7-22-8-27-4z"/>
<path fill="#1a702c" d="M7336 2867l27-4 22-2 27 1 21-17-27 1-21 4-27 6z"/>
<path fill="#20722d" d="M7402 2862l26-1 22-1 22 0 22 4 22 4 27 2 22-10-27-5-22-3-22-3-22-2-22-2-27 0z"/>
<path fill="#22702c" d="M7555 2870l27 3 27 4 21-14-26 1-27-1z"/>
<path fill="#277b30" d="M7599 2877l31 3 22-17-32 0z"/>
<path fill="#bcce7e" d="M4446 2025l27-18 27-17 22-37-27 20-27 19z"/>
<path fill="#c7d287" d="M4490 1990l27 7 27 11 21-36-26-19-27 0z"/>
<path fill="#b5c182" d="M4534 2008l31 15 22-38-32-13z"/>
<path fill="#b7c68e" d="M4555 2023l27 42 27 12 22-64-27-23-27-5z"/>
<path fill="#a7b688" d="M4599 2077l32-5 22-31-32-28z"/>
<path fill="#93a279" d="M4621 2072l32 10 22-17-32-24z"/>
<path fill="#7e8d6a" d="M4643 2082l32 19 22-14-32-22z"/>
<path fill="#8c9b7a" d="M4665 2101l32 20 22-20-32-14z"/>
<path fill="#c7d9b4" d="M4687 2121l32 19 22-33-32-6z"/>
<path fill="#eaffd4" d="M4709 2140l32 6 21-43-31 4z"/>
<path fill="#e5fccb" d="M4731 2146l32-20 21-37-32 14z"/>
<path fill="#bcd0a1" d="M4753 2126l31-4 22-18-32-15z"/>
<path fill="#8a9a78" d="M4774 2122l32 21 22-19-32-20z"/>
<path fill="#7d8d6f" d="M4796 2143l32 36 22-30-32-25z"/>
<path fill="#9eba8d" d="M4818 2179l32 23 22-31-32-22z"/>
<path fill="#91a167" d="M4906 2087l32 22 21-26-31 4z"/>
<path fill="#a7ba7f" d="M4928 2109l32 35 21-36-32-25z"/>
<path fill="#42431e" d="M5037 2039l32 15 22 13-32-37z"/>
<path fill="#393d20" d="M5059 2054l27 27 27 20 22 19-27-30-27-23z"/>
<path fill="#96a365" d="M5125 2120l32 12 21-22-31 5z"/>
<path fill="#b7c679" d="M5147 2132l31 0 22-29-32 7z"/>
<path fill="#b3be6d" d="M5168 2132l27-15 27 3 22-27-27-8-27 18z"/>
<path fill="#a6ad6a" d="M5212 2120l32 1 22-25-32-3z"/>
<path fill="#868d57" d="M5234 2121l32 12 22-7-32-30z"/>
<path fill="#636d43" d="M5256 2133l27 26 27 27 22-9-27-31-27-20z"/>
<path fill="#576142" d="M5344 2179l32 41 21-2-32-41z"/>
<path fill="#7c906c" d="M5453 2286l32 17 22-24-32 2z"/>
<path fill="#677c59" d="M5475 2303l32 22 22-11-32-35z"/>
<path fill="#516b46" d="M5497 2325l32 32 22-9-32-34z"/>
<path fill="#435e39" d="M5519 2357l32 2 22 3-32-14z"/>
<path fill="#2c4526" d="M5541 2359l32 50 21-11-31-36z"/>
<path fill="#1c3c1b" d="M5563 2409l31 45 22-4-32-52z"/>
<path fill="#1a471c" d="M5584 2454l32 26 22 1-32-31z"/>
<path fill="#143615" d="M5891 2498l27 18 27 34 22 15-27-38-27-24z"/>
<path fill="#0d3414" d="M5935 2550l32 35 21 6-31-26z"/>
<path fill="#0e421a" d="M5957 2585l32 18 21-5-32-7z"/>
<path fill="#115321" d="M5979 2603l26 6 27 1 22-4-27-4-27-4z"/>
<path fill="#17662a" d="M6022 2610l32 10 22-18-32 4z"/>
<path fill="#247f39" d="M6044 2620l32 4 22-29-32 7z"/>
<path fill="#36954a" d="M6066 2624l27 0 27-2 22-24-27-6-27 3z"/>
<path fill="#2c833c" d="M6110 2622l27-2 22 1 22 11 26 11 22-22-27-17-21-5-22 4-27-5z"/>
<path fill="#287b39" d="M6197 2643l32 2 22-20-32-4z"/>
<path fill="#1e6b2f" d="M6219 2645l32 5 22-10-32-15z"/>
<path fill="#2d8635" d="M6307 2630l32-7 22-17-32 8z"/>
<path fill="#27722d" d="M6329 2623l32 3 22-9-32-11z"/>
<path fill="#1c5621" d="M6351 2626l32 5 21 4-31-18z"/>
<path fill="#16451b" d="M6373 2631l32 5 21 13-32-14z"/>
<path fill="#1b6229" d="M6460 2663l27 17 22 20 22 13 27 12 22-22-27-14-22-17-22-17-27 4z"/>
<path fill="#0f5223" d="M6548 2725l27 17 27 12 21-13-27-16-26-22z"/>
<path fill="#09431c" d="M6635 2751l27 16 27 12 22-8-27-9-27-15z"/>
<path fill="#043f1e" d="M6679 2779l27 32 27 12 22-13-27-15-27-24z"/>
<path fill="#0e6028" d="M6832 2809l27-15 27 6 22-12-27-3-27 10z"/>
<path fill="#125321" d="M7029 2791l27 12 22 16 27 12 22-14-27-7-22-13-27-11z"/>
<path fill="#135f26" d="M7095 2831l27 4 22 0 22 4 27 3 22-9-27-2-22-5-22-4-27-5z"/>
<path fill="#145d25" d="M7205 2842l31 2 22-7-32-4z"/>
<path fill="#115321" d="M7226 2844l27 8 22 10 27 6 22-7-27-5-22-10-27-9z"/>
<path fill="#196c2b" d="M7336 2864l27 2 27 4 22-16-27-1-27 2z"/>
<path fill="#22772f" d="M7380 2870l27 2 21-2 22 0 22 3 22 2 22 0 22 0 22 4 22 7 27 3 21-17-26-3-22-4-22-3-22 0-22-2-22-4-22-4-22 0-22 1-26 1z"/>
<path fill="#c9df9c" d="M4424 2042l32 1 22-44-32 18z"/>
<path fill="#d4e8a0" d="M4446 2043l32-12 22-49-32 17z"/>
<path fill="#cadb90" d="M4468 2031l32-18 22-24-32-7z"/>
<path fill="#a5b372" d="M4490 2013l32 3 22-16-32-11z"/>
<path fill="#7f8b5c" d="M4512 2016l32 43 21-44-31-15z"/>
<path fill="#8b9974" d="M4534 2059l32 49 21-51-32-42z"/>
<path fill="#d6e8c2" d="M4556 2108l31 22 22-61-32-12z"/>
<path fill="#ffffec" d="M4577 2130l32-4 22-62-32 5z"/>
<path fill="#eeffd5" d="M4599 2126l32-7 22-45-32-10z"/>
<path fill="#c9dcb5" d="M4621 2119l32 8 22-34-32-19z"/>
<path fill="#b7caa6" d="M4643 2127l32 33 22-47-32-20z"/>
<path fill="#c1dbae" d="M4665 2160l32 11 22-39-32-19z"/>
<path fill="#c8e8b2" d="M4687 2171l32-8 22-25-32-6z"/>
<path fill="#c8ddb1" d="M4731 2143l32-5 21-24-31 4z"/>
<path fill="#9dad8d" d="M4753 2138l31 25 22-28-32-21z"/>
<path fill="#718564" d="M4774 2163l32 45 22-37-32-36z"/>
<path fill="#95b884" d="M4796 2208l32 28 22-42-32-23z"/>
<path fill="#9bac73" d="M4884 2112l32 18 22-29-32-22z"/>
<path fill="#9eb17e" d="M4906 2130l32 21 22-15-32-35z"/>
<path fill="#b3c472" d="M4950 2131l31-33 22-39-32 14z"/>
<path fill="#3a3a19" d="M5037 2028l32 32 22 13-32-27z"/>
<path fill="#444928" d="M5081 2083l32 43 22-14-32-19z"/>
<path fill="#788452" d="M5103 2126l32 29 22-31-32-12z"/>
<path fill="#a3b36f" d="M5125 2155l32-16 21-15-31 0z"/>
<path fill="#bccb83" d="M5147 2139l32 16 21-46-32 15z"/>
<path fill="#ddeca5" d="M5169 2155l31 14 22-57-32-3z"/>
<path fill="#eaf9b3" d="M5190 2169l32 8 22-64-32-1z"/>
<path fill="#d8e6a4" d="M5212 2177l32 2 22-54-32-12z"/>
<path fill="#aab97d" d="M5234 2179l32 3 22-31-32-26z"/>
<path fill="#84925f" d="M5256 2182l32-1 22-3-32-27z"/>
<path fill="#788555" d="M5300 2174l32 23 22-26-32 8z"/>
<path fill="#64704c" d="M5322 2197l32 25 22-10-32-41z"/>
<path fill="#546349" d="M5431 2266l27 37 27 30 22-16-27-22-27-17z"/>
<path fill="#4a643f" d="M5475 2333l27 21 27 8 22-11-27-2-27-32z"/>
<path fill="#37502f" d="M5519 2362l32 11 22 28-32-50z"/>
<path fill="#223b1e" d="M5541 2373l32 41 21 32-31-45z"/>
<path fill="#173716" d="M5563 2414l32 49 21 9-32-26z"/>
<path fill="#84b074" d="M5738 2405l32 31 21-41-31-13z"/>
<path fill="#1d401c" d="M5847 2454l27 39 22 32 27 7 22 10-27-34-22-18-27-24z"/>
<path fill="#0e3314" d="M5935 2549l32 40 22 6-32-18z"/>
<path fill="#0f4019" d="M5957 2589l32 14 21-2-31-6z"/>
<path fill="#115020" d="M5979 2603l31 18 22-19-32-1z"/>
<path fill="#1a662e" d="M6000 2621l32 21 22-30-32-10z"/>
<path fill="#227d3a" d="M6022 2642l27 1 27-2 22-25-27 0-27-4z"/>
<path fill="#217f36" d="M6066 2641l27-4 27-8 22-17-27 2-27 2z"/>
<path fill="#217632" d="M6110 2629l32 10 22-26-32-1z"/>
<path fill="#2e7e40" d="M6132 2639l32 20 22-35-32-11z"/>
<path fill="#3c9352" d="M6154 2659l27 15 27 2 21-39-27-2-26-11z"/>
<path fill="#298641" d="M6198 2676l31-7 22-27-32-5z"/>
<path fill="#236427" d="M6329 2622l27 6 27 12 22-12-27-5-27-5z"/>
<path fill="#1c5c25" d="M6373 2640l27 10 21 11 22 13 22 19 27 15 22-16-27-20-22-17-22-7-22-9-26-11z"/>
<path fill="#125322" d="M6482 2708l27 9 27 15 22-15-27-12-27-13z"/>
<path fill="#0b481e" d="M6613 2749l32 16 22-6-32-16z"/>
<path fill="#063919" d="M6635 2765l27 22 27 25 22-9-27-32-27-12z"/>
<path fill="#145b25" d="M7008 2793l26 19 22 18 22 8 27 1 22-12-27-4-22-12-22-16-27-12z"/>
<path fill="#156428" d="M7095 2839l27 2 22 2 22 4 22 2 22-2 27 6 21-9-27-8-21-2-22 0-22-3-22-4-27 0z"/>
<path fill="#125723" d="M7227 2853l26 9 27 4 22-6-27-6-27-10z"/>
<path fill="#196729" d="M7314 2864l27 4 22 8 27 7 22-19-27-2-22-4-27-2z"/>
<path fill="#217933" d="M7380 2883l32 4 21-25-31 2z"/>
<path fill="#278035" d="M7402 2887l27 1 21 0 22-2 22 0 22 2 22 5 27 5 22-20-27-7-22-4-22 0-22 0-22-2-22-3-27 0z"/>
<path fill="#247a31" d="M7555 2898l32 1 22-18-32-3z"/>
<path fill="#cae0ab" d="M4402 2057l32 28 22-50-32-1z"/>
<path fill="#d7eeb5" d="M4424 2085l32-11 22-51-32 12z"/>
<path fill="#c7dd98" d="M4446 2074l32-32 22-37-32 18z"/>
<path fill="#9eaf72" d="M4468 2042l32 2 22-36-32-3z"/>
<path fill="#67734f" d="M4490 2044l32 38 22-31-32-43z"/>
<path fill="#5e6953" d="M4512 2082l32 48 22-30-32-49z"/>
<path fill="#93a884" d="M4534 2130l32 34 21-42-31-22z"/>
<path fill="#d2f3be" d="M4556 2164l31 16 22-62-32 4z"/>
<path fill="#e8ffd3" d="M4577 2180l27 1 27 1 22-63-27-8-27 7z"/>
<path fill="#c2e4af" d="M4621 2182l32 18 22-48-32-33z"/>
<path fill="#a7ce93" d="M4643 2200l27-7 27-13 22-25-27 8-27-11z"/>
<path fill="#c3dbae" d="M4709 2162l32 9 22-41-32 5z"/>
<path fill="#98ae88" d="M4731 2171l32 35 21-51-31-25z"/>
<path fill="#6d8960" d="M4753 2206l32 38 21-44-32-45z"/>
<path fill="#aaae51" d="M4972 2094l31-28 22-53-32 38z"/>
<path fill="#8e893c" d="M4993 2066l32-31 22-15-32-7z"/>
<path fill="#64602a" d="M5015 2035l32 2 22 15-32-32z"/>
<path fill="#45451e" d="M5037 2037l32 33 22 5-32-23z"/>
<path fill="#393c1f" d="M5059 2070l32 47 22 1-32-43z"/>
<path fill="#515936" d="M5081 2117l32 37 22-7-32-29z"/>
<path fill="#9dac77" d="M5125 2152l32 43 22-48-32-16z"/>
<path fill="#ccddad" d="M5147 2195l32 31 21-65-31-14z"/>
<path fill="#f3ffd1" d="M5169 2226l26 6 27-11 22-50-27-2-27-8z"/>
<path fill="#d4eaaa" d="M5212 2221l32-20 22-27-32-3z"/>
<path fill="#96a56a" d="M5256 2177l32 14 22-25-32 7z"/>
<path fill="#829162" d="M5278 2191l27 22 27 6 22-5-27-25-27-23z"/>
<path fill="#424e39" d="M5409 2237l27 44 22 41 27 26 22-2-27-21-22-30-27-37z"/>
<path fill="#445c3a" d="M5475 2348l27 6 27 34 22-23-27-11-27-8z"/>
<path fill="#294224" d="M5519 2388l32 48 22-30-32-41z"/>
<path fill="#1b3b1a" d="M5541 2436l32 42 22-23-32-49z"/>
<path fill="#6c975e" d="M5694 2407l32 33 22-43-32-1z"/>
<path fill="#6fa163" d="M5716 2440l32 19 22-31-32-31z"/>
<path fill="#304229" d="M5803 2395l32 42 22 9-32-30z"/>
<path fill="#243d20" d="M5825 2437l32 52 22-4-32-39z"/>
<path fill="#103214" d="M5913 2519l27 47 27 25 22 4-27-14-27-40z"/>
<path fill="#187230" d="M6044 2660l27-8 27-9 22-22-27 8-27 4z"/>
<path fill="#1b642e" d="M6088 2643l27 12 27 29 22-33-27-20-27-10z"/>
<path fill="#32804b" d="M6132 2684l32 18 22-36-32-15z"/>
<path fill="#379256" d="M6154 2702l32-3 22-31-32-2z"/>
<path fill="#2c7d31" d="M6285 2630l32-4 22-12-32 4z"/>
<path fill="#256929" d="M6307 2626l27 9 27 12 22-15-27-12-27-6z"/>
<path fill="#1f6328" d="M6351 2647l27 5 22 13 22 23 26 8 22-11-27-19-22-13-21-11-27-10z"/>
<path fill="#165a23" d="M6438 2696l32 3 22 1-32-15z"/>
<path fill="#104a1d" d="M6460 2699l27 10 27 13 22 2-27-15-27-9z"/>
<path fill="#0d4d20" d="M6570 2741l27 16 27 15 21-15-27-16-26 0z"/>
<path fill="#063f1c" d="M6614 2772l26 19 22 16 27 11 22-4-27-10-22-25-27-22z"/>
<path fill="#105221" d="M6854 2792l32 5 22-2-32-1z"/>
<path fill="#196528" d="M6942 2799l27 5 22-1 27 15 21-14-26-19-22 3-27 7z"/>
<path fill="#125723" d="M7008 2818l27 19 26 6 22-13-27-8-27-18z"/>
<path fill="#166428" d="M7051 2843l27 2 22 4 22-3 22 6 22 3 22-1 22 2 22 7 21 4 22 0 22 1 22 3 27 9 22-12-27-8-22-4-22 2-22 0-22-4-21-9-22-6-22 2-22-2-22-4-22-2-22-2-27-1z"/>
<path fill="#166026" d="M7336 2880l32 12 22-17-32-7z"/>
<path fill="#1b6d2e" d="M7358 2892l32 11 22-24-32-4z"/>
<path fill="#278239" d="M7380 2903l27 5 22-2 21-4 22 0 22 5 22 3 22 0 27-2 22-17-27-1-22-5-22-5-22-2-22 0-22 2-21 0-27-1z"/>
<path fill="#afc299" d="M4380 2072l32 17 22-12-32-28z"/>
<path fill="#b3c78a" d="M4446 2062l32-11 22-15-32-2z"/>
<path fill="#778460" d="M4468 2051l32 29 22-6-32-38z"/>
<path fill="#4c5544" d="M4490 2080l32 59 22-17-32-48z"/>
<path fill="#546749" d="M4512 2139l32 48 22-31-32-34z"/>
<path fill="#85ab77" d="M4534 2187l32 24 21-39-31-16z"/>
<path fill="#8ba679" d="M4665 2165l32 11 22-22-32 18z"/>
<path fill="#9cb78a" d="M4687 2176l32 26 22-39-32-9z"/>
<path fill="#7e9a6f" d="M4709 2202l32 27 22-31-32-35z"/>
<path fill="#b9ce9c" d="M4840 2149l32 27 22-36-32-11z"/>
<path fill="#bcd086" d="M4928 2147l32-10 22-51-32 37z"/>
<path fill="#becd7a" d="M4950 2137l32-14 21-65-31 28z"/>
<path fill="#bdc46a" d="M4972 2123l31-21 22-75-32 31z"/>
<path fill="#abab56" d="M4993 2102l32-20 22-53-32-2z"/>
<path fill="#83833e" d="M5015 2082l32-6 22-14-32-33z"/>
<path fill="#535529" d="M5037 2076l32 4 22 29-32-47z"/>
<path fill="#4c5334" d="M5081 2117l32 56 22-29-32 2z"/>
<path fill="#64704f" d="M5103 2173l32 54 22-40-32-43z"/>
<path fill="#99a789" d="M5125 2227l32 34 22-43-32-31z"/>
<path fill="#d7edc3" d="M5147 2261l32 7 21-44-31-6z"/>
<path fill="#e8ffd2" d="M5169 2268l32-13 21-42-32 11z"/>
<path fill="#d4ecb5" d="M5191 2255l31-25 22-37-32 20z"/>
<path fill="#cee3a4" d="M5212 2230l27-8 27-2 22-37-27-14-27 24z"/>
<path fill="#aec089" d="M5256 2220l32 3 22-18-32-22z"/>
<path fill="#9aac77" d="M5278 2223l32-7 22-5-32-6z"/>
<path fill="#68744a" d="M5322 2196l32 6 22 14-32-20z"/>
<path fill="#464e37" d="M5388 2221l31 23 22 29-32-44z"/>
<path fill="#394b31" d="M5453 2312l27 39 27 51 22-22-27-34-27-6z"/>
<path fill="#274323" d="M5497 2402l32 38 22-12-32-48z"/>
<path fill="#1d411c" d="M5519 2440l32 25 22 5-32-42z"/>
<path fill="#5d8950" d="M5672 2420l32 12 22 0-32-33z"/>
<path fill="#435639" d="M5782 2394l32 42 21-7-32-42z"/>
<path fill="#283f23" d="M5804 2436l31 43 22 2-32-52z"/>
<path fill="#143415" d="M5891 2492l27 48 27 40 22 3-27-25-27-47z"/>
<path fill="#0b2e12" d="M5935 2580l32 43 22-2-32-38z"/>
<path fill="#115020" d="M6066 2641l32 20 22-14-32-12z"/>
<path fill="#0c421d" d="M6088 2661l32 38 22-23-32-29z"/>
<path fill="#2f8735" d="M6263 2638l32-8 22-12-32 4z"/>
<path fill="#2b762f" d="M6285 2630l32 1 22-4-32-9z"/>
<path fill="#226327" d="M6307 2631l27 9 27 11 22-7-27-5-27-12z"/>
<path fill="#1c5b25" d="M6351 2651l27 32 27 21 22-24-27-23-27-13z"/>
<path fill="#1b682a" d="M6395 2704l27 3 26-3 22-13-27-3-26-8z"/>
<path fill="#175c24" d="M6438 2704l32 3 22-6-32-10z"/>
<path fill="#104c1f" d="M6460 2707l27 7 22 9 22 10 22 16 22 13 27 20 22-18-27-15-22-16-22-14-22 1-22-6-27-13z"/>
<path fill="#07461f" d="M6592 2782l27 20 21 15 27 8 22-15-27-11-22-16-26-19z"/>
<path fill="#156026" d="M6833 2794l31 6 22-11-32-5z"/>
<path fill="#156027" d="M6920 2796l27 10 22 9 22 10 22 13 22 9 21 4 27 3 22-13-27-4-22-2-21-6-22-19-22-15-22 1-27-5z"/>
<path fill="#176729" d="M7073 2854l27-1 22 1 22 2 22 0 22 3 22 7 22 6 22 3 21 2 22 1 27 5 22-11-27-9-22-3-22-1-22 0-21-4-22-7-22-2-22 1-22-3-22-6-27 3z"/>
<path fill="#145924" d="M7314 2883l27 13 27 18 22-19-27-11-27-12z"/>
<path fill="#1a6c30" d="M7358 2914l32 10 22-24-32-5z"/>
<path fill="#238038" d="M7380 2924l27 0 22-3 22 0 21 3 22 2 22-4 27-4 22-18-27 2-22 0-22-3-22-5-22 0-21 4-27 2z"/>
<path fill="#a3b68e" d="M4359 2086l32-4 21-1-32-17z"/>
<path fill="#95a782" d="M4381 2082l31 7 22-7-32-1z"/>
<path fill="#cbe1ab" d="M4424 2088l32 5 22-50-32 11z"/>
<path fill="#a2b28c" d="M4446 2093l32 22 22-43-32-29z"/>
<path fill="#5d6952" d="M4468 2115l32 37 22-21-32-59z"/>
<path fill="#3d4e35" d="M4490 2152l32 34 22-7-32-48z"/>
<path fill="#647957" d="M4643 2148l27 40 27 52 22-46-27-26-27-11z"/>
<path fill="#5b7d50" d="M4687 2240l32 28 22-47-32-27z"/>
<path fill="#d3e8bf" d="M4818 2201l32-3 22-30-32-27z"/>
<path fill="#c2d792" d="M4928 2162l32 1 22-48-32 14z"/>
<path fill="#c1d488" d="M4950 2163l32-18 21-51-31 21z"/>
<path fill="#bfcc77" d="M4972 2145l32-23 21-48-32 20z"/>
<path fill="#b3bb62" d="M4994 2122l31-20 22-34-32 6z"/>
<path fill="#7b7e3b" d="M5015 2102l32-16 22-14-32-4z"/>
<path fill="#404425" d="M5037 2086l27 45 27 62 22-28-27-56-27-37z"/>
<path fill="#47503b" d="M5081 2193l32 48 22-22-32-54z"/>
<path fill="#707f64" d="M5103 2241l32 28 22-16-32-34z"/>
<path fill="#a8c595" d="M5125 2269l32 16 22-25-32-7z"/>
<path fill="#c6e8af" d="M5147 2285l32-4 22-34-32 13z"/>
<path fill="#daf5c2" d="M5169 2281l32-7 21-52-31 25z"/>
<path fill="#efffd5" d="M5191 2274l31-8 22-52-32 8z"/>
<path fill="#e9ffca" d="M5212 2266l32-14 22-40-32 2z"/>
<path fill="#cee5ab" d="M5234 2252l32-18 22-19-32-3z"/>
<path fill="#bad092" d="M5256 2234l32-10 22-16-32 7z"/>
<path fill="#b7cb88" d="M5278 2224l32-5 22-31-32 20z"/>
<path fill="#a0b071" d="M5300 2219l32-9 22-16-32-6z"/>
<path fill="#7e8c57" d="M5322 2210l32 2 22-7-32-11z"/>
<path fill="#6d794d" d="M5344 2212l32 12 22-11-32-8z"/>
<path fill="#5a6544" d="M5366 2224l32 28 21-16-31-23z"/>
<path fill="#4c5641" d="M5388 2252l27 39 26 41 22-28-27-34-27-34z"/>
<path fill="#425139" d="M5431 2332l32 34 22-23-32-39z"/>
<path fill="#344a2d" d="M5453 2366l32 35 22-7-32-51z"/>
<path fill="#2a4725" d="M5475 2401l32 40 22-9-32-38z"/>
<path fill="#3d7a38" d="M5585 2456l32 8 21-6-31 1z"/>
<path fill="#4f9647" d="M5607 2464l31 0 22-18-32 12z"/>
<path fill="#87ab75" d="M5716 2398l32 20 22-28-32 16z"/>
<path fill="#92b580" d="M5738 2418l32 4 22-36-32 4z"/>
<path fill="#68865b" d="M5760 2422l32 28 22-22-32-42z"/>
<path fill="#3f5d36" d="M5782 2450l32 10 21 11-31-43z"/>
<path fill="#2e4828" d="M5847 2468l32 19 22-3-32-13z"/>
<path fill="#203b1d" d="M5869 2487l32 28 22 17-32-48z"/>
<path fill="#113214" d="M5891 2515l27 52 27 52 22-4-27-43-27-40z"/>
<path fill="#135321" d="M6023 2631l31 6 22-4-32 5z"/>
<path fill="#0e421a" d="M6044 2637l32 28 22-12-32-20z"/>
<path fill="#308e38" d="M6241 2652l32-9 22-21-32 8z"/>
<path fill="#2f8233" d="M6263 2643l32-3 22-17-32-1z"/>
<path fill="#286e2b" d="M6285 2640l32 9 22-17-32-9z"/>
<path fill="#205c24" d="M6307 2649l32 20 22-26-32-11z"/>
<path fill="#175020" d="M6329 2669l27 23 27 12 22-8-27-21-27-32z"/>
<path fill="#175b24" d="M6439 2705l26 12 27 5 22-7-27-9-27-7z"/>
<path fill="#114e1f" d="M6482 2722l27 11 27 18 22-10-27-16-27-10z"/>
<path fill="#09421d" d="M6526 2751l27 11 22 26 22 22 27 12 21-13-26-15-22-20-22-20-27-13z"/>
<path fill="#176d2c" d="M6789 2813l27-5 27-4 21-12-26-6-27 1z"/>
<path fill="#145f26" d="M6898 2793l27 14 22 17 22 15 22 11 22 5 22 2 27 4 21-15-27-3-21-4-22-9-22-13-22-10-22-9-27-10z"/>
<path fill="#15692a" d="M7052 2861l26-1 27-3 22-11-27-1-27 1z"/>
<path fill="#176428" d="M7117 2855l27 3 22 6 22 7 22 9 27 6 22-19-27-3-22-6-22-7-22-3-27 0z"/>
<path fill="#1b712e" d="M7227 2886l27 3 21 0 27 1 22-15-27-5-22-1-26-2z"/>
<path fill="#155c25" d="M7292 2890l32 12 22-14-32-13z"/>
<path fill="#115222" d="M7314 2902l32 20 22-16-32-18z"/>
<path fill="#125b28" d="M7336 2922l32 15 22-21-32-10z"/>
<path fill="#166c31" d="M7358 2937l32 3 22-24-32 0z"/>
<path fill="#1d7934" d="M7380 2940l27-1 22-1 22 1 21-1 22-5 27-6 22-17-27 4-22 4-22-2-21-3-22 0-27 3z"/>
<path fill="#8f9f7a" d="M4381 2083l31 14 22-17-32 1z"/>
<path fill="#a3b490" d="M4402 2097l32 20 22-32-32-5z"/>
<path fill="#99a98a" d="M4424 2117l32 24 22-34-32-22z"/>
<path fill="#6b7e5e" d="M4446 2141l32 20 22-17-32-37z"/>
<path fill="#9aad89" d="M4600 2150l31 32 22-42-32 2z"/>
<path fill="#718564" d="M4621 2182l32 29 22-31-32-40z"/>
<path fill="#4a6240" d="M4643 2211l32 30 22-9-32-52z"/>
<path fill="#6c7040" d="M5015 2086l32 49 22-12-32-45z"/>
<path fill="#3c4329" d="M5037 2135l32 58 22-8-32-62z"/>
<path fill="#424a38" d="M5059 2193l32 44 22-4-32-48z"/>
<path fill="#5a684f" d="M5081 2237l32 67 22-43-32-28z"/>
<path fill="#84a473" d="M5103 2304l32 9 22-36-32-16z"/>
<path fill="#abd496" d="M5125 2313l32-11 22-29-32 4z"/>
<path fill="#caefb2" d="M5147 2302l32 2 22-38-32 7z"/>
<path fill="#ddfdc5" d="M5169 2304l27 2 27-20 21-42-27 14-26 8z"/>
<path fill="#e7fece" d="M5213 2286l31-5 22-55-32 18z"/>
<path fill="#def6bf" d="M5234 2281l32-12 22-53-32 10z"/>
<path fill="#d1e9aa" d="M5256 2269l32-19 22-39-32 5z"/>
<path fill="#c3d995" d="M5278 2250l32-17 22-31-32 9z"/>
<path fill="#b6c987" d="M5300 2233l32 0 22-29-32-2z"/>
<path fill="#a0b07a" d="M5322 2233l32 15 22-32-32-12z"/>
<path fill="#7e8b64" d="M5344 2248l32 28 22-32-32-28z"/>
<path fill="#647056" d="M5366 2276l32 33 22-26-32-39z"/>
<path fill="#5a684f" d="M5388 2309l32 30 21-15-31-41z"/>
<path fill="#4e6243" d="M5410 2339l31 34 22-15-32-34z"/>
<path fill="#3a5432" d="M5431 2373l32 51 22-31-32-35z"/>
<path fill="#2e5129" d="M5453 2424l32 28 22-19-32-40z"/>
<path fill="#3f7238" d="M5563 2443l32 16 22-3-32-8z"/>
<path fill="#4e9046" d="M5585 2459l32 10 21-13-31 0z"/>
<path fill="#99c887" d="M5650 2426l32 6 22-29-32 1z"/>
<path fill="#a2cc90" d="M5672 2432l27-5 27 9 22-26-27-20-27 13z"/>
<path fill="#98c187" d="M5716 2436l32 8 22-30-32-4z"/>
<path fill="#8ab67b" d="M5738 2444l32 21 22-23-32-28z"/>
<path fill="#6d9d5f" d="M5760 2465l32-4 22-9-32-10z"/>
<path fill="#4d6d42" d="M5804 2442l32 19 21-1-32-10z"/>
<path fill="#3d5a34" d="M5826 2461l31 11 22 7-32-19z"/>
<path fill="#2c4726" d="M5847 2472l32 21 22 14-32-28z"/>
<path fill="#1c391a" d="M5869 2493l32 58 22 8-32-52z"/>
<path fill="#103113" d="M5891 2551l32 62 22-2-32-52z"/>
<path fill="#175823" d="M6001 2631l32 16 21-18-31-6z"/>
<path fill="#0f431b" d="M6023 2647l31 27 22-17-32-28z"/>
<path fill="#2e8334" d="M6242 2651l31-7 22-12-32 3z"/>
<path fill="#266b2a" d="M6263 2644l32 8 22-11-32-9z"/>
<path fill="#185220" d="M6285 2652l27 15 22 17 22 7 27 6 22 2-27-3-22-12-22-23-27-20z"/>
<path fill="#1a6226" d="M6373 2697l27 4 22 6 22 16 26 3 22-12-27-5-21-12-22 5-27-3z"/>
<path fill="#165722" d="M6460 2726l32-1 22 0-32-11z"/>
<path fill="#0e431b" d="M6482 2725l27 23 27 14 22-8-27-11-27-18z"/>
<path fill="#073919" d="M6526 2762l27 26 22 18 27 8 22 0-27-12-22-22-27-26z"/>
<path fill="#1b6a2a" d="M6811 2804l27-2 22-1 21 0 27 13 22-15-27-14-22 4-22 3-26 4z"/>
<path fill="#135a25" d="M6898 2814l27 20 22 14 22 7 27 3 22-11-27-5-22-11-22-15-27-17z"/>
<path fill="#126329" d="M6986 2858l27 4 22 3 27 0 21-13-26 1-22-4-27-2z"/>
<path fill="#18692a" d="M7052 2865l26-1 22-3 22 2 22 8 27 8 22-16-27-7-22-6-22-3-22 2-27 3z"/>
<path fill="#166429" d="M7161 2879l27 9 27 9 22-19-27-6-27-9z"/>
<path fill="#1b6f2f" d="M7205 2897l27 4 22 1 22 2 26 11 22-21-27-12-22-1-21 0-27-3z"/>
<path fill="#105927" d="M7292 2915l27 17 22 13 27 5 22-18-27-3-22-15-27-20z"/>
<path fill="#146d2f" d="M7358 2950l27 0 22 0 22 0 27-3 21-17-26 1-22-1-22 1-27 1z"/>
<path fill="#19762f" d="M7446 2947l27-5 26-5 22-18-27 6-27 5z"/>
<path fill="#536348" d="M4205 2096l32 11 22 3-32-11z"/>
<path fill="#9ebf89" d="M4271 2129l32-3 22-22-32 14z"/>
<path fill="#cee5b8" d="M4315 2113l32-14 22-21-32 13z"/>
<path fill="#b4c99a" d="M4337 2099l32-13 22-11-32 3z"/>
<path fill="#8a9b75" d="M4359 2086l32 2 21 1-31-14z"/>
<path fill="#69755b" d="M4381 2088l32 23 21-2-32-20z"/>
<path fill="#9aba86" d="M4534 2185l32-12 22-10-32 0z"/>
<path fill="#a7c294" d="M4556 2173l27 18 27 37 21-54-26-32-27 21z"/>
<path fill="#91b581" d="M4600 2228l31 16 22-41-32-29z"/>
<path fill="#759e67" d="M4621 2244l32-7 22-4-32-30z"/>
<path fill="#4e7145" d="M4687 2238l32 33 22-2-32-18z"/>
<path fill="#cdd88b" d="M4972 2139l32 10 21-71-31 32z"/>
<path fill="#a4ad75" d="M4994 2149l32 21 21-43-32-49z"/>
<path fill="#646e4d" d="M5016 2170l31 46 22-31-32-58z"/>
<path fill="#59634e" d="M5037 2216l32 62 22-49-32-44z"/>
<path fill="#5a6e4e" d="M5059 2278l32 33 22-15-32-67z"/>
<path fill="#6f925f" d="M5081 2311l32-5 22-1-32-9z"/>
<path fill="#92bb7f" d="M5103 2306l32 17 22-29-32 11z"/>
<path fill="#b6e1a2" d="M5125 2323l32 14 22-41-32-2z"/>
<path fill="#caf5b4" d="M5147 2337l27 2 22-8 27-13 21-45-26 5-22 20-27-2z"/>
<path fill="#d5f0bc" d="M5213 2318l26-19 27-23 22-34-27 19-27 12z"/>
<path fill="#cee4a9" d="M5256 2276l27-16 27 5 22-40-27 0-27 17z"/>
<path fill="#c2d4a3" d="M5300 2265l32 17 22-42-32-15z"/>
<path fill="#a3b48d" d="M5322 2282l32 18 22-32-32-28z"/>
<path fill="#7a876d" d="M5344 2300l32 14 22-13-32-33z"/>
<path fill="#546949" d="M5366 2314l27 59 27 41 21-49-26-34-27-30z"/>
<path fill="#43673b" d="M5410 2414l32 20 21-18-32-51z"/>
<path fill="#45773d" d="M5519 2437l27 20 27 25 22-31-27-16-27-2z"/>
<path fill="#4e9549" d="M5563 2482l32 13 22-34-32-10z"/>
<path fill="#66b65d" d="M5585 2495l32-19 22-39-32 24z"/>
<path fill="#91d683" d="M5607 2476l32 3 21-61-31 19z"/>
<path fill="#afee9f" d="M5629 2479l26 7 27-13 22-54-27 5-27-6z"/>
<path fill="#a2db91" d="M5672 2473l32-14 22-31-32-9z"/>
<path fill="#96cf87" d="M5694 2459l27 21 22 14 27-10 22-31-27 4-22-21-27-8z"/>
<path fill="#8ec77c" d="M5760 2484l32-16 22-34-32 19z"/>
<path fill="#87b477" d="M5782 2468l32-4 22-11-32-19z"/>
<path fill="#6b915e" d="M5804 2464l32 17 21-17-31-11z"/>
<path fill="#46693e" d="M5826 2481l31 23 22-19-32-21z"/>
<path fill="#254421" d="M5847 2504l32 37 22 2-32-58z"/>
<path fill="#133314" d="M5869 2541l32 51 22 13-32-62z"/>
<path fill="#1b4e1e" d="M6263 2639l27 15 27 31 22-9-27-17-27-15z"/>
<path fill="#1c5c25" d="M6307 2685l32 15 22-17-32-7z"/>
<path fill="#1f6a2b" d="M6329 2700l27 5 22 6 27 8 22-20-27-6-22-4-27-6z"/>
<path fill="#196327" d="M6395 2719l27 8 27 1 21-10-26-3-27-16z"/>
<path fill="#12491d" d="M6461 2725l31 16 22-1-32-23z"/>
<path fill="#093c19" d="M6482 2741l27 21 22 21 22 11 27 7 22 5-27-8-22-18-22-26-27-14z"/>
<path fill="#084b20" d="M6570 2801l27 10 27 5 22-7-27-3-27 0z"/>
<path fill="#1b6c2b" d="M6789 2799l27 4 27 7 22-17-27 1-27 2z"/>
<path fill="#227632" d="M6833 2810l32 5 21-22-31 0z"/>
<path fill="#206c2e" d="M6855 2815l31 11 22-20-32-13z"/>
<path fill="#135f27" d="M6876 2826l27 18 22 8 22 2 22 7 22 6 27 5 22-15-27-3-22-4-22-3-22-7-22-14-27-20z"/>
<path fill="#176a2d" d="M7008 2872l27 2 22-1 22-3 21 5 22 8 22 6 22 8 22 8 22 6 22 5 22 7 27 9 21-25-26-11-22-2-22-1-22-4-22-9-22-9-22-8-22-8-22-2-22 3-21 1-27 0z"/>
<path fill="#0f5e29" d="M7271 2932l26 11 22 9 22 4 22 1 27 1 22-16-27 0-22 0-22-5-22-13-27-17z"/>
<path fill="#136b2c" d="M7380 2958l27-1 22-2 27-4 22-17-27 5-22 3-27 0z"/>
<path fill="#19752f" d="M7446 2951l32-4 21-18-31 5z"/>
<path fill="#6c7b5f" d="M4162 2081l32 5 21 2-31-10z"/>
<path fill="#627555" d="M4227 2108l32 11 22 2-32-11z"/>
<path fill="#829d71" d="M4249 2119l32 21 22-22-32 3z"/>
<path fill="#adce97" d="M4271 2140l32 5 22-40-32 13z"/>
<path fill="#cbe9b2" d="M4293 2145l32-13 22-41-32 14z"/>
<path fill="#d8efc1" d="M4315 2132l32-19 22-35-32 13z"/>
<path fill="#b9ce9e" d="M4337 2113l32-13 22-20-32-2z"/>
<path fill="#8fa07a" d="M4359 2100l32-2 22 5-32-23z"/>
<path fill="#657158" d="M4381 2098l32 6 21 26-31-27z"/>
<path fill="#424d39" d="M4468 2121l32 50 22 8-32-37z"/>
<path fill="#5c724f" d="M4490 2171l32 16 22-10-32 2z"/>
<path fill="#81a272" d="M4512 2187l27 17 22 31 27 25 22-40-27-37-22-18-27 12z"/>
<path fill="#86bd76" d="M4578 2260l27 8 27-15 21-24-27 7-26-16z"/>
<path fill="#5e7d52" d="M4643 2221l32 68 22-59-32-13z"/>
<path fill="#527e4b" d="M4665 2289l32 68 22-94-32-33z"/>
<path fill="#7a8456" d="M4928 2117l32 67 22-53-32 3z"/>
<path fill="#b5c591" d="M4950 2184l32 43 22-86-32-10z"/>
<path fill="#bccca2" d="M4972 2227l32 40 22-105-32-21z"/>
<path fill="#b1c0a1" d="M4994 2267l32 33 21-92-31-46z"/>
<path fill="#99b789" d="M5016 2300l26 18 27 6 22-21-27-33-27-62z"/>
<path fill="#96c086" d="M5059 2324l27 5 27 23 22-37-27-17-27 5z"/>
<path fill="#9dce8e" d="M5103 2352l32 19 22-42-32-14z"/>
<path fill="#a9e498" d="M5125 2371l27 6 27-11 22-43-27 8-27-2z"/>
<path fill="#a6da90" d="M5169 2366l32-26 22-30-32 13z"/>
<path fill="#e1f8c6" d="M5235 2290l31-7 22-31-32 16z"/>
<path fill="#d9efbd" d="M5256 2283l32 3 22-29-32-5z"/>
<path fill="#bdcfa7" d="M5278 2286l32 19 22-31-32-17z"/>
<path fill="#a8b997" d="M5300 2305l32 11 22-24-32-18z"/>
<path fill="#728164" d="M5322 2316l32 21 22-31-32-14z"/>
<path fill="#415138" d="M5344 2337l32 63 22-35-32-59z"/>
<path fill="#3f5d37" d="M5366 2400l32 28 22-22-32-41z"/>
<path fill="#45713d" d="M5388 2428l32 1 22-3-32-20z"/>
<path fill="#446d3b" d="M5453 2418l32 23 22-16-32-4z"/>
<path fill="#518448" d="M5475 2441l27 16 27 11 22-19-27-20-27-4z"/>
<path fill="#40773b" d="M5519 2468l32 26 22-20-32-25z"/>
<path fill="#3d833b" d="M5541 2494l32 14 22-21-32-13z"/>
<path fill="#52a34e" d="M5563 2508l32-10 22-30-32 19z"/>
<path fill="#73c06e" d="M5585 2498l32 23 22-50-32-3z"/>
<path fill="#80d17d" d="M5607 2521l32 9 21-52-31-7z"/>
<path fill="#75ca6f" d="M5629 2530l32-21 21-44-32 13z"/>
<path fill="#86cf7b" d="M5651 2509l31-24 22-34-32 14z"/>
<path fill="#84c47c" d="M5672 2485l27 29 27 29 22-57-27-14-27-21z"/>
<path fill="#85d37c" d="M5716 2543l27-9 27-15 22-59-27 16-27 10z"/>
<path fill="#9cde8d" d="M5760 2519l32-7 22-56-32 4z"/>
<path fill="#97d18a" d="M5782 2512l32 7 22-46-32-17z"/>
<path fill="#71a767" d="M5804 2519l32 7 21-30-31-23z"/>
<path fill="#3e6a38" d="M5826 2526l32 10 21-3-32-37z"/>
<path fill="#1a3d19" d="M5848 2536l31 31 22 17-32-51z"/>
<path fill="#113213" d="M5869 2567l32 28 22 15-32-26z"/>
<path fill="#339039" d="M6198 2685l27-24 27-14 21-16-26 4-27 15z"/>
<path fill="#266328" d="M6242 2647l32 16 21-17-32-15z"/>
<path fill="#17481c" d="M6264 2663l31 38 22-24-32-31z"/>
<path fill="#1a5a24" d="M6285 2701l32 19 22-28-32-15z"/>
<path fill="#1e6f2d" d="M6307 2720l27 3 27-2 22-18-27-6-27-5z"/>
<path fill="#16511f" d="M6439 2727l32 9 21-3-31-16z"/>
<path fill="#0d431b" d="M6461 2736l26 26 22 20 27 10 22-6-27-11-22-21-27-21z"/>
<path fill="#0b4d21" d="M6526 2792l27 16 27 11 22-16-27-10-27-7z"/>
<path fill="#0b5a27" d="M6570 2819l27 4 27 0 22-15-27 0-27-5z"/>
<path fill="#116329" d="M6614 2823l27-3 22-5 21-3 27 2 22-16-27 2-22 3-21 3-27 2z"/>
<path fill="#1f7232" d="M6701 2814l27 2 22 0 22-2 22 2 22 9 22 9 22 9 27 12 21-19-27-18-21-11-22-5-22-7-22-4-22 0-22 3-27 4z"/>
<path fill="#166a2e" d="M6877 2855l26 7 22 9 22 5 22 3 22 5 27 1 22-19-27-2-22-5-22-6-22-7-22-2-27-8z"/>
<path fill="#176d2d" d="M7008 2885l27-2 22-1 22 6 21 6 27 5 22-18-27-6-22-8-21-5-22 3-27 1z"/>
<path fill="#126029" d="M7117 2899l27 5 22 8 22 7 22 8 22 8 22 9 27 8 21-17-26-11-22-9-22-7-22-5-22-6-22-8-27-8z"/>
<path fill="#0c5b27" d="M7271 2952l27 6 21 5 27 3 22-17-27-1-22-4-27-9z"/>
<path fill="#11682c" d="M7336 2966l27 1 22-2 22-2 27-3 22-17-27 4-22 2-22 1-27-1z"/>
<path fill="#17722e" d="M7424 2960l32-3 22-18-32 4z"/>
<path fill="#7c8a6e" d="M4140 2076l27 5 27 5 22 3-27-11-27-5z"/>
<path fill="#637257" d="M4184 2086l27 11 26 29 22-15-27-11-26-11z"/>
<path fill="#6f8660" d="M4227 2126l32 26 22-20-32-21z"/>
<path fill="#89aa77" d="M4249 2152l32 6 22-21-32-5z"/>
<path fill="#acd296" d="M4271 2158l32 9 22-43-32 13z"/>
<path fill="#c9ecb1" d="M4293 2167l32-14 22-48-32 19z"/>
<path fill="#d8f0c0" d="M4315 2153l27-24 27 7 22-46-27 2-27 13z"/>
<path fill="#b2c69b" d="M4359 2136l32-27 22-13-32-6z"/>
<path fill="#45503d" d="M4446 2112l27 44 27 24 22-1-27-16-27-50z"/>
<path fill="#4f6644" d="M4490 2180l27 25 27 36 22-14-27-31-27-17z"/>
<path fill="#517847" d="M4534 2241l32 28 22-17-32-25z"/>
<path fill="#629c56" d="M4556 2269l32 8 22-17-32-8z"/>
<path fill="#80b071" d="M4600 2255l32 25 21-67-31 32z"/>
<path fill="#4d7545" d="M4622 2280l31 72 22-71-32-68z"/>
<path fill="#b4c996" d="M4797 2181l32 11 21-25-31 15z"/>
<path fill="#9fa75e" d="M4862 2137l32-14 22-43-32 12z"/>
<path fill="#707849" d="M4884 2123l32 64 22-78-32-29z"/>
<path fill="#626c4d" d="M4906 2187l32 74 22-85-32-67z"/>
<path fill="#8f9e82" d="M4928 2261l32 46 22-88-32-43z"/>
<path fill="#a0bd91" d="M4950 2307l32 34 22-82-32-40z"/>
<path fill="#abd49c" d="M4972 2341l32 21 22-70-32-33z"/>
<path fill="#b6eca7" d="M4994 2362l27-5 22 11 26 9 22-56-27-5-22-6-26-18z"/>
<path fill="#a7df9b" d="M5059 2377l32 12 22-45-32-23z"/>
<path fill="#92cf88" d="M5081 2389l32 8 22-34-32-19z"/>
<path fill="#83c979" d="M5103 2397l32 8 22-36-32-6z"/>
<path fill="#7ac36d" d="M5125 2405l32-8 22-39-32 11z"/>
<path fill="#84c572" d="M5147 2397l32-26 22-39-32 26z"/>
<path fill="#cdf1b5" d="M5191 2339l32 5 22-62-32 23z"/>
<path fill="#e1fbca" d="M5213 2344l27 0 26-35 22-31-27-3-26 7z"/>
<path fill="#bcd0a9" d="M5256 2309l32 5 22-17-32-19z"/>
<path fill="#9fb38d" d="M5278 2314l32 9 22-15-32-11z"/>
<path fill="#748566" d="M5300 2323l32 0 22 6-32-21z"/>
<path fill="#3f4f36" d="M5322 2323l32 54 22 15-32-63z"/>
<path fill="#334b2c" d="M5344 2377l32 29 22 14-32-28z"/>
<path fill="#608e54" d="M5410 2418l32 7 21-15-31 3z"/>
<path fill="#517b47" d="M5432 2425l32 20 21-12-32-23z"/>
<path fill="#45753e" d="M5454 2445l31 31 22-27-32-16z"/>
<path fill="#50904c" d="M5475 2476l27 23 27 2 22-15-27-26-27-11z"/>
<path fill="#3d863b" d="M5519 2501l27 3 27 8 22-22-27 10-27-14z"/>
<path fill="#448c44" d="M5563 2512l32 27 22-26-32-23z"/>
<path fill="#71c66c" d="M5629 2531l32-6 21-48-31 24z"/>
<path fill="#6db369" d="M5651 2525l31 24 22-43-32-29z"/>
<path fill="#519b52" d="M5672 2549l32 19 22-33-32-29z"/>
<path fill="#56b156" d="M5694 2568l27-10 27-10 22-37-27 15-27 9z"/>
<path fill="#70c46a" d="M5738 2548l32-6 22-38-32 7z"/>
<path fill="#7ecb77" d="M5760 2542l32 7 22-38-32-7z"/>
<path fill="#71be6b" d="M5782 2549l32 2 22-33-32-7z"/>
<path fill="#50924a" d="M5804 2551l32-9 22-14-32-10z"/>
<path fill="#295526" d="M5826 2542l32 7 21 10-31-31z"/>
<path fill="#133515" d="M5848 2549l26 33 27 31 22 2-27-28-27-28z"/>
<path fill="#34953c" d="M6198 2687l32-19 22-29-32 14z"/>
<path fill="#2b742f" d="M6220 2668l32 2 22-15-32-16z"/>
<path fill="#17471c" d="M6242 2670l32 30 21-7-31-38z"/>
<path fill="#195621" d="M6395 2713l27 11 27 16 22-12-27-9-27-3z"/>
<path fill="#0f451c" d="M6439 2740l27 27 27 30 21-23-27-20-26-26z"/>
<path fill="#0e5828" d="M6483 2797l26 14 22 6 22 11 27 6 22-19-27-4-22-11-22-16-27-10z"/>
<path fill="#0d642c" d="M6570 2834l27 1 27-3 22-20-27 3-27 0z"/>
<path fill="#146d2f" d="M6614 2832l27-5 22-1 27 8 21-28-27-2-21 3-27 5z"/>
<path fill="#1f7b38" d="M6680 2834l26 3 22-5 27 1 22-27-27 2-22 0-27-2z"/>
<path fill="#257d3a" d="M6745 2833l27 2 27 3 22-21-27-9-27-2z"/>
<path fill="#1b6e34" d="M6789 2838l27 9 22 13 22 12 22 10 21 7 22 5 27 1 22-24-27-3-22-5-22-9-21-7-22-12-22-9-27-9z"/>
<path fill="#146a2d" d="M6942 2895l27 1 22-1 22-1 22 0 22 4 22 4 27 4 21-15-27-5-21-6-22-6-22 1-22 2-22-1-27-5z"/>
<path fill="#105d27" d="M7096 2906l26 5 22 8 22 7 27 6 22-13-27-8-22-7-22-8-27-5z"/>
<path fill="#0c5625" d="M7183 2932l27 6 22 9 22 8 22 9 22 8 26 5 22-19-27-3-21-5-22-6-22-8-22-9-27-8z"/>
<path fill="#0f672c" d="M7314 2977l27 1 22-4 22-3 27-3 22-16-27 3-22 2-22 2-27-1z"/>
<path fill="#156f2e" d="M7402 2968l32-1 22-18-32 3z"/>
<path fill="#808f70" d="M4118 2071l27 12 27 8 22-13-27-5-27-5z"/>
<path fill="#758267" d="M4162 2091l32 13 22-15-32-11z"/>
<path fill="#5a684f" d="M4184 2104l32 35 21-21-31-29z"/>
<path fill="#647b56" d="M4206 2139l32 27 21-22-32-26z"/>
<path fill="#7c9e6c" d="M4249 2151l32 35 22-27-32-9z"/>
<path fill="#9cc888" d="M4271 2186l32 1 22-42-32 14z"/>
<path fill="#c6edae" d="M4293 2187l32-28 22-38-32 24z"/>
<path fill="#dcfcc5" d="M4315 2159l27 24 27-6 22-76-27 27-27-7z"/>
<path fill="#dbf2c2" d="M4359 2177l32-28 22-72-32 24z"/>
<path fill="#c4daa4" d="M4381 2149l32-11 22-83-32 22z"/>
<path fill="#a8b98f" d="M4403 2138l32 1 21-35-31-49z"/>
<path fill="#7b886e" d="M4425 2139l31 20 22-11-32-44z"/>
<path fill="#536049" d="M4446 2159l32 8 22 5-32-24z"/>
<path fill="#45543c" d="M4468 2167l32 40 22-10-32-25z"/>
<path fill="#3c5133" d="M4490 2207l32 39 22-13-32-36z"/>
<path fill="#3e6036" d="M4512 2246l32 28 22-13-32-28z"/>
<path fill="#548b4b" d="M4534 2274l32 18 22-23-32-8z"/>
<path fill="#6fad64" d="M4556 2292l32 4 22-49-32 22z"/>
<path fill="#598d51" d="M4578 2296l32 45 22-69-32-25z"/>
<path fill="#275627" d="M4600 2341l32 44 21-41-31-72z"/>
<path fill="#809067" d="M4753 2153l32 47 22-27-32-6z"/>
<path fill="#a5b692" d="M4775 2200l32 47 22-63-32-11z"/>
<path fill="#d7edbf" d="M4797 2247l32-6 22-76-32 19z"/>
<path fill="#c8e0a0" d="M4819 2241l32-43 21-69-31 36z"/>
<path fill="#bbcc8b" d="M4841 2198l31-22 22-61-32 14z"/>
<path fill="#87936d" d="M4862 2176l32 71 22-68-32-64z"/>
<path fill="#58654e" d="M4884 2247l32 73 22-67-32-74z"/>
<path fill="#5c7951" d="M4906 2320l32 47 22-68-32-46z"/>
<path fill="#70a068" d="M4928 2367l32 34 22-68-32-34z"/>
<path fill="#84c47e" d="M4950 2401l32 22 22-69-32-21z"/>
<path fill="#87d485" d="M4972 2423l27 24 22 4 27-17 21-65-26-9-22-11-27 5z"/>
<path fill="#8bdc88" d="M5038 2434l31 9 22-62-32-12z"/>
<path fill="#76ca73" d="M5059 2443l32-19 22-35-32-8z"/>
<path fill="#60b159" d="M5081 2424l27-11 27-6 22-18-27 8-27-8z"/>
<path fill="#a3df92" d="M5147 2389l32 4 22-62-32 32z"/>
<path fill="#c1f7af" d="M5169 2393l32 13 22-70-32-5z"/>
<path fill="#b3e9a0" d="M5191 2406l32-12 22-58-32 0z"/>
<path fill="#bddaa5" d="M5235 2345l32-13 21-26-32-5z"/>
<path fill="#a8c193" d="M5257 2332l31 7 22-24-32-9z"/>
<path fill="#8ba17a" d="M5278 2339l32 17 22-41-32 0z"/>
<path fill="#5f7453" d="M5300 2356l32 21 22-8-32-54z"/>
<path fill="#405837" d="M5322 2377l32 26 22-5-32-29z"/>
<path fill="#4b6f41" d="M5344 2403l32 30 22-27-32-8z"/>
<path fill="#649758" d="M5366 2433l32 9 22-32-32-4z"/>
<path fill="#72aa66" d="M5388 2442l32 15 22-40-32-7z"/>
<path fill="#5f9556" d="M5410 2457l32 12 22-32-32-20z"/>
<path fill="#366733" d="M5432 2469l27 18 26 33 22-29-27-23-26-31z"/>
<path fill="#39863a" d="M5475 2520l27 10 22-4 27 6 22-28-27-8-22-3-27-2z"/>
<path fill="#2c702f" d="M5541 2532l32 15 22-16-32-27z"/>
<path fill="#469644" d="M5716 2559l27-7 27 10 22-21-27-7-27 6z"/>
<path fill="#1e401c" d="M5826 2540l32 35 21-1-31-33z"/>
<path fill="#113414" d="M5848 2575l27 37 26 16 22 0-27-23-27-31z"/>
<path fill="#1a501f" d="M6220 2670l32 20 22 2-32-30z"/>
<path fill="#14451b" d="M6242 2690l32 13 21 5-31-16z"/>
<path fill="#1b5d24" d="M6286 2700l31 16 22-16-32 6z"/>
<path fill="#1f6b2a" d="M6307 2716l32 8 22-21-32-3z"/>
<path fill="#267830" d="M6329 2724l27 0 27-7 22-12-27-6-27 4z"/>
<path fill="#22682a" d="M6373 2717l32 8 22-9-32-11z"/>
<path fill="#195522" d="M6395 2725l32 25 22-18-32-16z"/>
<path fill="#0e431b" d="M6417 2750l27 31 27 29 22-21-27-30-27-27z"/>
<path fill="#0d4f24" d="M6461 2810l32 15 21-22-31-14z"/>
<path fill="#0b5b2a" d="M6483 2825l26 7 22 5 22 5 27 4 22-19-27-1-22-6-22-11-27-6z"/>
<path fill="#10672d" d="M6570 2846l27-3 22-5 22-3 22 11 27 4 21-21-26-3-22-8-22 1-22 5-27 3z"/>
<path fill="#187334" d="M6680 2850l26-5 27 8 22-28-27-1-27 5z"/>
<path fill="#217a3b" d="M6723 2853l27-1 27 9 22-31-27-3-27-2z"/>
<path fill="#1c6f34" d="M6767 2861l32 1 22-23-32-9z"/>
<path fill="#13662f" d="M6789 2862l27 12 22 14 22 9 22 5 22 6 21 1 22-1 22-2 27 0 22-20-27 1-22 1-22-1-22-1-22-5-21-7-22-10-22-12-27-13z"/>
<path fill="#136a2d" d="M6986 2906l27-1 22 1 27 3 22-15-27-4-22-4-27 0z"/>
<path fill="#116028" d="M7052 2909l27 4 22 5 26 6 22-13-27-8-21-5-27-4z"/>
<path fill="#0d5624" d="M7117 2924l27 7 22 4 22 4 27 7 22-7-27-9-22-6-22-6-27-7z"/>
<path fill="#0a4f22" d="M7205 2946l27 12 22 11 27 10 22-15-27-8-22-9-27-8z"/>
<path fill="#0a5a28" d="M7271 2979l27 7 27 0 21-16-27-1-26-5z"/>
<path fill="#0f672c" d="M7315 2986l26-3 22-4 27-2 22-17-27 3-22 3-27 4z"/>
<path fill="#136c2d" d="M7380 2977l32 0 22-18-32 1z"/>
<path fill="#707e5f" d="M4096 2066l32 14 22-5-32-12z"/>
<path fill="#79876a" d="M4118 2080l27 11 27 15 22-10-27-13-27-8z"/>
<path fill="#526247" d="M4162 2106l27 26 27 24 22 2-27-27-27-35z"/>
<path fill="#57714b" d="M4228 2150l31 37 22-9-32-35z"/>
<path fill="#6c945d" d="M4249 2187l32 20 22-28-32-1z"/>
<path fill="#addc98" d="M4271 2207l32-15 22-41-32 28z"/>
<path fill="#bde8a9" d="M4293 2192l32 14 22-31-32-24z"/>
<path fill="#addb99" d="M4315 2206l32 1 22-38-32 6z"/>
<path fill="#bde7a6" d="M4337 2207l32-13 22-53-32 28z"/>
<path fill="#dbfbc3" d="M4359 2194l32-8 22-56-32 11z"/>
<path fill="#e4ffce" d="M4381 2186l32-10 22-45-32-1z"/>
<path fill="#bbd0a7" d="M4403 2176l32-20 21-5-31-20z"/>
<path fill="#78896a" d="M4425 2156l32 27 21-24-32-8z"/>
<path fill="#4e5f43" d="M4447 2183l31 40 22-24-32-40z"/>
<path fill="#3d5434" d="M4468 2223l32 38 22-23-32-39z"/>
<path fill="#3d6035" d="M4490 2261l32 33 22-28-32-28z"/>
<path fill="#4b8244" d="M4512 2294l32 22 22-32-32-18z"/>
<path fill="#52904d" d="M4534 2316l32 2 22-30-32-4z"/>
<path fill="#adbe97" d="M4731 2204l32 27 22-39-32-47z"/>
<path fill="#95a885" d="M4753 2231l32 20 22-12-32-47z"/>
<path fill="#bfd3a0" d="M4819 2214l32 2 21-48-31 22z"/>
<path fill="#818d73" d="M4841 2216l32 54 21-31-32-71z"/>
<path fill="#354c2e" d="M4863 2270l26 63 27 53 22-27-27-47-27-73z"/>
<path fill="#346233" d="M4906 2386l32 50 22-43-32-34z"/>
<path fill="#417c46" d="M4928 2436l32 56 22-77-32-22z"/>
<path fill="#539c61" d="M4950 2492l32 34 22-87-32-24z"/>
<path fill="#56ac6a" d="M4972 2526l32 6 22-89-32-4z"/>
<path fill="#4cac5a" d="M4994 2532l27-28 27-43 21-26-26-9-27 17z"/>
<path fill="#4eaf50" d="M5038 2461l27-11 26-13 22-32-27 11-27 19z"/>
<path fill="#6bc166" d="M5081 2437l32-5 22-33-32 6z"/>
<path fill="#85d57d" d="M5103 2432l32 2 22-53-32 18z"/>
<path fill="#93de89" d="M5125 2434l27 2 27-9 22-29-27-13-27-4z"/>
<path fill="#b1d999" d="M5213 2373l32-23 22-26-32 13z"/>
<path fill="#a5c390" d="M5235 2350l32-4 21-15-31-7z"/>
<path fill="#87a176" d="M5257 2346l31 20 22-18-32-17z"/>
<path fill="#6c885e" d="M5278 2366l32 29 22-26-32-21z"/>
<path fill="#507445" d="M5300 2395l27 31 27 21 22-22-27-30-27-26z"/>
<path fill="#54884b" d="M5344 2447l32 14 22-27-32-9z"/>
<path fill="#579450" d="M5366 2461l27 14 27 5 22-19-27-12-27-15z"/>
<path fill="#21481f" d="M5432 2476l32 13 21 23-31-33z"/>
<path fill="#2e7630" d="M5497 2525l32 9 22-10-32-6z"/>
<path fill="#256528" d="M5519 2534l32 12 22-7-32-15z"/>
<path fill="#4a8843" d="M5782 2546l32-4 22-10-32 3z"/>
<path fill="#2b5327" d="M5804 2542l32 22 22 3-32-35z"/>
<path fill="#143615" d="M5826 2564l27 30 27 38 21-12-26-16-27-37z"/>
<path fill="#2c8032" d="M6176 2682l32-6 22-14-32 8z"/>
<path fill="#236327" d="M6198 2676l32 5 22 1-32-20z"/>
<path fill="#194f1f" d="M6220 2681l32 16 22-2-32-13z"/>
<path fill="#1e5f25" d="M6242 2697l27 7 27 9 21-5-26-16-27 3z"/>
<path fill="#1e6729" d="M6286 2713l31 16 22-13-32-8z"/>
<path fill="#267933" d="M6307 2729l32 10 22-23-32 0z"/>
<path fill="#378e44" d="M6329 2739l27 4 27 8 22-34-27-8-27 7z"/>
<path fill="#2a6f36" d="M6373 2751l32 19 22-28-32-25z"/>
<path fill="#144d21" d="M6395 2770l32 17 22-14-32-31z"/>
<path fill="#093d1a" d="M6417 2787l27 21 27 17 22-8-27-15-27-29z"/>
<path fill="#074820" d="M6461 2825l32 12 21-13-31-7z"/>
<path fill="#085326" d="M6483 2837l27 10 26 6 22-19-27-5-27-5z"/>
<path fill="#0c5e29" d="M6526 2853l27 0 22-1 22-6 22-6 22 7 22 7 27 2 21-19-26 5-22-4-22-11-22 3-22 5-22 3-27-4z"/>
<path fill="#156a31" d="M6680 2856l27 10 21 1 22 5 27-1 22-17-27-1-22-9-22 1-27-8z"/>
<path fill="#0d5e2b" d="M6767 2871l27 17 22 14 22 5 22 7 22 5 22-2 21-1 27 1 22-19-27 2-22 1-21-1-22-6-22-5-22-9-22-14-27-12z"/>
<path fill="#11672c" d="M6942 2917l27 2 22 0 22-2 22 1 22 3 27 3 22-14-27-5-22-4-22-3-22-1-22 1-27 0z"/>
<path fill="#0e5925" d="M7074 2924l27 4 22 6 21 4 22 5 27 7 22-12-27-7-22-4-22-4-22-7-26-6z"/>
<path fill="#094f22" d="M7183 2950l27 11 22 12 22 9 22 6 27 2 22-12-27 0-22-7-22-10-22-11-27-12z"/>
<path fill="#0c602a" d="M7293 2990l27-1 26-2 22-16-27 4-26 3z"/>
<path fill="#11682c" d="M7336 2987l27-1 27 0 22-17-27 0-27 2z"/>
<path fill="#707e60" d="M4074 2065l27 12 22 17 27 13 22-9-27-15-22-11-27-14z"/>
<path fill="#5b6751" d="M4140 2107l32 8 22 9-32-26z"/>
<path fill="#4d5f42" d="M4184 2134l27 19 27 30 21-4-26-37-27 6z"/>
<path fill="#517045" d="M4228 2183l32 28 21-12-32-20z"/>
<path fill="#87b877" d="M4250 2211l31 11 22-38-32 15z"/>
<path fill="#a1d58e" d="M4271 2222l27-5 22 1 27-1 22-31-27 13-22-1-27-14z"/>
<path fill="#b8e4a1" d="M4337 2217l27-6 27-14 22-29-27 10-27 8z"/>
<path fill="#c1e0aa" d="M4381 2197l32-13 22-36-32 20z"/>
<path fill="#91a880" d="M4403 2184l32 20 22-29-32-27z"/>
<path fill="#4f6444" d="M4425 2204l32 34 21-23-31-40z"/>
<path fill="#35532e" d="M4447 2238l26 38 27 33 22-23-27-33-27-38z"/>
<path fill="#376c33" d="M4490 2309l32 15 22-16-32-22z"/>
<path fill="#abd196" d="M4666 2265l31 10 22-78-32 73z"/>
<path fill="#dbf8c6" d="M4687 2275l27 0 27-14 22-38-27-27-27 1z"/>
<path fill="#c3e2ad" d="M4731 2261l27 7 27-7 22-29-27 11-27-20z"/>
<path fill="#d8efc1" d="M4775 2261l27-11 27 0 22-42-27-2-27 26z"/>
<path fill="#8a9a7d" d="M4819 2250l32 23 22-11-32-54z"/>
<path fill="#384a30" d="M4841 2273l32 67 21-15-31-63z"/>
<path fill="#223c1e" d="M4863 2340l31 62 22-24-32-53z"/>
<path fill="#133918" d="M4884 2402l27 52 27 70 22-40-27-56-27-50z"/>
<path fill="#225a36" d="M4928 2524l32 48 22-54-32-34z"/>
<path fill="#1d8337" d="M4994 2561l32-48 22-60-32 43z"/>
<path fill="#32983f" d="M5016 2513l32-42 22-29-32 11z"/>
<path fill="#55b55c" d="M5038 2471l32 18 21-60-31 13z"/>
<path fill="#6ecb73" d="M5060 2489l26 6 27-15 22-54-27-2-27 5z"/>
<path fill="#61ba5d" d="M5103 2480l27-27 22 3 27-3 22-61-27 27-22 9-27-2z"/>
<path fill="#79c06a" d="M5169 2453l32-34 22-54-32 27z"/>
<path fill="#99ce84" d="M5191 2419l32-44 22-33-32 23z"/>
<path fill="#a7cc91" d="M5213 2375l32-14 22-23-32 4z"/>
<path fill="#82a072" d="M5235 2361l32 31 21-34-31-20z"/>
<path fill="#5f7f52" d="M5257 2392l32 34 21-39-32-29z"/>
<path fill="#537b49" d="M5279 2426l31 17 22-25-32-31z"/>
<path fill="#44733c" d="M5300 2443l27 7 27 10 22-7-27-14-27-21z"/>
<path fill="#3e7238" d="M5344 2460l32 11 22-4-32-14z"/>
<path fill="#22411f" d="M5432 2453l32 41 22 10-32-23z"/>
<path fill="#204b1f" d="M5454 2494l32 38 21-15-31-13z"/>
<path fill="#296a2a" d="M5476 2532l26 7 27-3 22 2-27-12-27-9z"/>
<path fill="#205923" d="M5519 2536l32 11 22 9-32-18z"/>
<path fill="#336830" d="M5716 2536l32 31 22-25-32 2z"/>
<path fill="#479042" d="M5738 2567l32 5 22-34-32 4z"/>
<path fill="#539e4c" d="M5760 2572l32-17 22-21-32 4z"/>
<path fill="#3a6e35" d="M5782 2555l32 6 22-5-32-22z"/>
<path fill="#173b18" d="M5804 2561l27 43 27 36 22-16-27-38-27-30z"/>
<path fill="#236a2a" d="M6132 2675l32 13 22-14-32-2z"/>
<path fill="#2b8032" d="M6154 2688l32 0 22-20-32 6z"/>
<path fill="#2a762e" d="M6176 2688l32-7 22-8-32-5z"/>
<path fill="#1e5923" d="M6198 2681l27 14 27 20 22-19-27-7-27-16z"/>
<path fill="#256c2e" d="M6242 2715l32 17 22-27-32-9z"/>
<path fill="#2b7737" d="M6264 2732l32 13 21-24-31-16z"/>
<path fill="#30803f" d="M6286 2745l32 10 21-24-32-10z"/>
<path fill="#3d924e" d="M6308 2755l31 13 22-33-32-4z"/>
<path fill="#499d5b" d="M6329 2768l32 13 22-38-32-8z"/>
<path fill="#37894b" d="M6351 2781l32 8 22-27-32-19z"/>
<path fill="#1a632d" d="M6373 2789l32 1 22-11-32-17z"/>
<path fill="#0c471d" d="M6395 2790l32 11 22-1-32-21z"/>
<path fill="#073b19" d="M6417 2801l27 13 22 17 27 18 22-10-27-10-22-12-27-17z"/>
<path fill="#064a22" d="M6483 2849l32 12 21-16-31-6z"/>
<path fill="#075a29" d="M6505 2861l26 3 27-7 22-13-27 1-27 0z"/>
<path fill="#0d5f28" d="M6570 2851l27-7 27 3 22-8-27-7-27 6z"/>
<path fill="#0d5826" d="M6614 2847l27 9 22 10 27 9 22-17-27-10-22-2-27-7z"/>
<path fill="#0f622c" d="M6680 2875l27 4 21 1 27 2 22-19-27 1-22-5-26-1z"/>
<path fill="#0a5628" d="M6745 2882l27 17 22 14 22 1 22 12 27 2 22-17-27-5-22-7-22-5-22-14-27-17z"/>
<path fill="#0c612c" d="M6855 2928l27-5 22 2 22 3 26 4 22-21-27-2-22-1-21 1-27 2z"/>
<path fill="#10662c" d="M6942 2932l27-2 22-2 22 0 22 1 27 2 22-15-27-3-22-3-22-1-22 2-27 0z"/>
<path fill="#0e5925" d="M7052 2931l27 0 22 4 22 6 21 8 27 9 22-16-27-7-22-5-21-4-22-6-27-4z"/>
<path fill="#0a5324" d="M7161 2958l27 9 22 9 22 7 22 6 22 2 27 2 22-12-27 1-22-2-22-6-22-9-22-12-27-11z"/>
<path fill="#0e632a" d="M7293 2993l27 1 22 1 26 0 22-17-27 0-22 1-26 2z"/>
<path fill="#5a644e" d="M4118 2095l32 11 22 1-32-8z"/>
<path fill="#4b5642" d="M4140 2106l27 16 27 29 22-6-27-19-27-19z"/>
<path fill="#405537" d="M4184 2151l27 42 27 25 22-15-27-28-27-30z"/>
<path fill="#5c8651" d="M4228 2218l32 23 21-27-31-11z"/>
<path fill="#87c17a" d="M4250 2241l31 18 22-50-32 5z"/>
<path fill="#9ad487" d="M4271 2259l27-2 22-12 22-12 27-12 22-32-27 14-22 6-22 1-27-1z"/>
<path fill="#b1d99a" d="M4359 2221l32-15 22-30-32 13z"/>
<path fill="#8fad7d" d="M4381 2206l32 7 22-17-32-20z"/>
<path fill="#4e6643" d="M4403 2213l32 30 22-13-32-34z"/>
<path fill="#32492b" d="M4425 2243l32 30 21-5-31-38z"/>
<path fill="#284624" d="M4447 2273l32 24 21 4-32-33z"/>
<path fill="#2b5528" d="M4469 2297l31 14 22 5-32-15z"/>
<path fill="#739e65" d="M4622 2288l32 29 22-60-32 30z"/>
<path fill="#a8dd98" d="M4644 2317l32 22 21-72-31-10z"/>
<path fill="#b9f0a8" d="M4666 2339l26-6 27-20 22-60-27 14-27 0z"/>
<path fill="#cdfdb8" d="M4709 2313l32 8 22-61-32-7z"/>
<path fill="#c6f1af" d="M4731 2321l27-15 27-31 22-33-27 11-27 7z"/>
<path fill="#d9f6c4" d="M4775 2275l32 7 22-40-32 0z"/>
<path fill="#98b189" d="M4797 2282l32 38 22-55-32-23z"/>
<path fill="#415a39" d="M4819 2320l32 42 22-30-32-67z"/>
<path fill="#203c1d" d="M4841 2362l32 50 21-18-31-62z"/>
<path fill="#113214" d="M4863 2412l32 65 21-31-32-52z"/>
<path fill="#072b14" d="M4885 2477l26 61 27 33 22-7-27-48-27-70z"/>
<path fill="#419d51" d="M5016 2503l27 17 27-4 21-29-26-6-27-18z"/>
<path fill="#4daa4e" d="M5103 2471l32 5 22-28-32-3z"/>
<path fill="#addc98" d="M5191 2403l32-14 22-36-32 14z"/>
<path fill="#8fb47f" d="M5213 2389l32 27 22-32-32-31z"/>
<path fill="#59804e" d="M5235 2416l32 20 22-18-32-34z"/>
<path fill="#508046" d="M5257 2436l27-1 26 13 22-6-27-7-26-17z"/>
<path fill="#41713a" d="M5322 2446l32 22 22-5-32-11z"/>
<path fill="#467e3f" d="M5344 2468l32 3 22-7-32-1z"/>
<path fill="#538249" d="M5388 2458l32 20 22-33-32 8z"/>
<path fill="#385f32" d="M5410 2478l32 30 22-22-32-41z"/>
<path fill="#265424" d="M5432 2508l32 27 22-11-32-38z"/>
<path fill="#2b6f2d" d="M5454 2535l32 13 21-17-31-7z"/>
<path fill="#318033" d="M5476 2548l32-1 21-19-32 3z"/>
<path fill="#2b6e2c" d="M5498 2547l31-8 22 0-32-11z"/>
<path fill="#2e5429" d="M5673 2514l27 24 26 31 22-10-27-31-26-6z"/>
<path fill="#367633" d="M5716 2569l32 9 22-14-32-5z"/>
<path fill="#42803d" d="M5760 2567l32 3 22-17-32-6z"/>
<path fill="#20481f" d="M5782 2570l32 34 22-8-32-43z"/>
<path fill="#133816" d="M5804 2604l32 30 22-2-32-36z"/>
<path fill="#236327" d="M6067 2662l27 6 22 15 26 13 22-16-27-13-22-14-26-3z"/>
<path fill="#236126" d="M6176 2682l32 6 22-1-32-14z"/>
<path fill="#184a1d" d="M6198 2688l32 35 22-16-32-20z"/>
<path fill="#1d5827" d="M6220 2723l32 32 22-31-32-17z"/>
<path fill="#2c763c" d="M6242 2755l32 19 22-37-32-13z"/>
<path fill="#3a8c4f" d="M6264 2774l27 12 27 12 21-38-26-13-27-10z"/>
<path fill="#3c9155" d="M6308 2798l31 9 22-34-32-13z"/>
<path fill="#2c8647" d="M6329 2807l32 1 22-27-32-8z"/>
<path fill="#197132" d="M6351 2808l32-10 22-16-32-1z"/>
<path fill="#105924" d="M6373 2798l32 2 22-7-32-11z"/>
<path fill="#0b441c" d="M6395 2800l32 11 22-5-32-13z"/>
<path fill="#063919" d="M6417 2811l27 14 22 16 27 19 22-7-27-12-22-18-27-17z"/>
<path fill="#054b22" d="M6483 2860l32 8 21-12-31-3z"/>
<path fill="#0c632b" d="M6527 2861l26-5 27-2 22-18-27 7-27 6z"/>
<path fill="#14652f" d="M6570 2854l27 3 22 9 27 8 22-16-27-10-22-9-27-3z"/>
<path fill="#0d5e2b" d="M6636 2874l27 10 22 6 22 1 27 2 21-19-27-2-21-1-22-4-27-9z"/>
<path fill="#085126" d="M6724 2893l26 12 22 14 22 7 22 12 27 1 22-19-27-2-22-12-22-1-22-14-27-17z"/>
<path fill="#0e632d" d="M6833 2939l27-2 22 5 22 0 22 2 21-4 22-5 22 0 22 1 22 0 27-3 22-10-27 0-22-2-22-1-22 0-22 2-22 2-21-4-22-3-22-2-27 5z"/>
<path fill="#0c5926" d="M7052 2933l27 1 22 9 22 12 22 11 21 9 22 8 22 7 22 5 22 2 22 1 22 2 22 3 27 1 21-17-26 0-22-1-22-1-22-2-22-2-22-6-22-7-22-9-22-9-22-9-21-8-22-6-27-4z"/>
<path fill="#a6ba89" d="M4031 2084l32-5 21-11-31-1z"/>
<path fill="#495240" d="M4118 2087l27 32 27 30 22-6-27-29-27-16z"/>
<path fill="#384930" d="M4162 2149l27 35 27 30 22-4-27-25-27-42z"/>
<path fill="#3a5932" d="M4206 2214l32 38 22-19-32-23z"/>
<path fill="#53864c" d="M4228 2252l32 26 21-27-31-18z"/>
<path fill="#6ab062" d="M4250 2278l32 1 21-30-32 2z"/>
<path fill="#74bd67" d="M4272 2279l31-11 22-31-32 12z"/>
<path fill="#80c470" d="M4293 2268l32-11 22-32-32 12z"/>
<path fill="#8dc879" d="M4315 2257l32-21 22-23-32 12z"/>
<path fill="#8caf79" d="M4359 2214l32 6 22-15-32-7z"/>
<path fill="#607d53" d="M4381 2220l32 23 22-8-32-30z"/>
<path fill="#49673f" d="M4403 2243l32 18 22 4-32-30z"/>
<path fill="#3d6436" d="M4425 2261l27 23 27 13 21 6-26-14-27-24z"/>
<path fill="#407239" d="M4469 2297l26 8 27 8 22-8-27-1-27-1z"/>
<path fill="#487f40" d="M4512 2313l32 5 22-14-32 1z"/>
<path fill="#629e57" d="M4534 2318l32 3 22-38-32 21z"/>
<path fill="#87c179" d="M4556 2321l32 7 22-67-32 22z"/>
<path fill="#8fc482" d="M4578 2328l32 7 22-55-32-19z"/>
<path fill="#85ba7b" d="M4600 2335l32 17 22-43-32-29z"/>
<path fill="#8bcd84" d="M4622 2352l32 24 22-45-32-22z"/>
<path fill="#8cda86" d="M4644 2376l32-4 21-47-31 6z"/>
<path fill="#9de592" d="M4666 2372l27-6 26 8 22-61-27-8-27 20z"/>
<path fill="#94d885" d="M4709 2374l32-29 22-47-32 15z"/>
<path fill="#abe398" d="M4731 2345l32-8 22-70-32 31z"/>
<path fill="#c4f1b1" d="M4753 2337l32 11 22-74-32-7z"/>
<path fill="#a0cb91" d="M4775 2348l32 10 22-46-32-38z"/>
<path fill="#557b4c" d="M4797 2358l32 16 22-20-32-42z"/>
<path fill="#20411d" d="M4819 2374l32 58 22-28-32-50z"/>
<path fill="#0b2e13" d="M4841 2432l27 70 27 36 21-8-26-61-27-65z"/>
<path fill="#43a14a" d="M5060 2492l27 14 26-24 22-14-27-5-26 13z"/>
<path fill="#85cc77" d="M5147 2439l32 0 22-44-32 30z"/>
<path fill="#ace99b" d="M5169 2439l32-6 22-52-32 14z"/>
<path fill="#9ad08b" d="M5191 2433l32 2 22-27-32-27z"/>
<path fill="#679b5b" d="M5213 2435l32-1 22-6-32-20z"/>
<path fill="#56884c" d="M5235 2434l27 7 27 29 21-30-26-13-27 1z"/>
<path fill="#63a059" d="M5279 2470l27 8 26-9 22-9-27-22-27 2z"/>
<path fill="#57954e" d="M5322 2469l32 11 22-17-32-3z"/>
<path fill="#73b069" d="M5344 2480l27 2 27 23 22-35-27-20-27 13z"/>
<path fill="#528a4e" d="M5388 2505l32 21 22-26-32-30z"/>
<path fill="#3b7a3b" d="M5410 2526l32 29 22-28-32-27z"/>
<path fill="#3d8b41" d="M5432 2555l32 5 22-20-32-13z"/>
<path fill="#3d843b" d="M5498 2535l26 6 27 12 22-12-27-12-27 2z"/>
<path fill="#466c3d" d="M5629 2499l32 26 22-19-32-6z"/>
<path fill="#396032" d="M5651 2525l32 14 22-9-32-24z"/>
<path fill="#2d5529" d="M5673 2539l32 17 21 5-31-31z"/>
<path fill="#336b30" d="M5695 2556l32 20 21-6-32-9z"/>
<path fill="#468f42" d="M5717 2576l26 0 27 0 22-14-27-3-27 11z"/>
<path fill="#2d5e2a" d="M5760 2576l32 16 22 4-32-34z"/>
<path fill="#173b18" d="M5782 2592l32 22 22 12-32-30z"/>
<path fill="#226226" d="M6045 2657l27 14 22 18 27 11 21-12-26-13-22-15-27-6z"/>
<path fill="#2d7d31" d="M6132 2695l32-11 22-10-32 12z"/>
<path fill="#266729" d="M6154 2684l32 9 22-13-32-6z"/>
<path fill="#14431b" d="M6176 2693l27 32 27 40 22-18-27-32-27-35z"/>
<path fill="#19582a" d="M6220 2765l32 26 22-25-32-19z"/>
<path fill="#22713c" d="M6242 2791l27 14 22 12 27 8 21-26-26-9-22-12-27-12z"/>
<path fill="#126f2f" d="M6330 2822l31-15 22-17-32 10z"/>
<path fill="#126529" d="M6351 2807l32-6 22-9-32-2z"/>
<path fill="#0f5221" d="M6373 2801l32 6 22-4-32-11z"/>
<path fill="#07401b" d="M6395 2807l27 15 22 19 22 16 27 9 22-6-27-8-22-19-22-16-27-14z"/>
<path fill="#085928" d="M6483 2866l27 0 27-2 21-16-26 5-27 7z"/>
<path fill="#10642e" d="M6527 2864l31 7 22-25-32 2z"/>
<path fill="#1f733e" d="M6548 2871l27 13 22 9 27 3 22-30-27-8-22-9-27-3z"/>
<path fill="#0d602d" d="M6614 2896l27-2 22 7 22 5 27-3 22-18-27-2-22-1-22-6-27-10z"/>
<path fill="#095325" d="M6702 2903l32 4 21-10-31-12z"/>
<path fill="#054721" d="M6724 2907l26 13 22 13 27 15 22-18-27-12-22-7-27-14z"/>
<path fill="#055228" d="M6789 2948l32 3 22-20-32-1z"/>
<path fill="#0d622c" d="M6811 2951l27 7 22 4 22-2 22-5 22-6 22-7 21-2 22 1 22-2 22-3 27 0 22-10-27-1-22 3-22 0-22-1-22 0-22 5-21 4-22-2-22 0-22-5-27 2z"/>
<path fill="#0b5525" d="M7052 2936l27 9 22 15 22 13 22 11 21 9 22 9 22 5 27 0 22-18-27-2-22-5-22-7-22-8-21-9-22-11-22-12-27-9z"/>
<path fill="#0c5f29" d="M7227 3007l27-1 22 1 22 4 27 1 22-16-27-1-22-3-22-2-27-1z"/>
<path fill="#b5cb97" d="M4009 2094l32-6 22-17-32 5z"/>
<path fill="#8e9f6e" d="M4053 2075l32 3 21-18-31-1z"/>
<path fill="#73805b" d="M4075 2078l31 20 22-19-32-19z"/>
<path fill="#5f6a50" d="M4096 2098l32 19 22-6-32-32z"/>
<path fill="#4e5846" d="M4118 2117l32 26 22-2-32-30z"/>
<path fill="#3c4834" d="M4140 2143l32 36 22-3-32-35z"/>
<path fill="#2f4329" d="M4162 2179l27 35 27 39 22-9-27-38-27-30z"/>
<path fill="#2f532a" d="M4206 2253l32 23 22-6-32-26z"/>
<path fill="#54994c" d="M4250 2277l32 12 21-29-31 11z"/>
<path fill="#68b35d" d="M4272 2289l31-11 22-29-32 11z"/>
<path fill="#a4d390" d="M4315 2252l27-13 27 4 22-31-27-6-27 22z"/>
<path fill="#789c69" d="M4359 2243l32 30 22-38-32-23z"/>
<path fill="#5f8854" d="M4381 2273l32 34 22-54-32-18z"/>
<path fill="#6da264" d="M4403 2307l32 16 22-47-32-23z"/>
<path fill="#6ead65" d="M4425 2323l32 2 22-36-32-13z"/>
<path fill="#61a358" d="M4447 2325l32-11 21-17-31-8z"/>
<path fill="#5c9a53" d="M4469 2314l27 4 26 12 22-20-27-5-27-8z"/>
<path fill="#66a85e" d="M4512 2330l32 9 22-26-32-3z"/>
<path fill="#6eae67" d="M4534 2339l32 28 22-47-32-7z"/>
<path fill="#75bd72" d="M4556 2367l27 26 27 5 22-54-27-17-27-7z"/>
<path fill="#6bbf6c" d="M4600 2398l27 2 27 18 22-54-27 4-27-24z"/>
<path fill="#78d279" d="M4644 2418l32-6 22-54-32 6z"/>
<path fill="#6bc568" d="M4666 2412l27-1 26-29 22-45-27 29-26-8z"/>
<path fill="#91da87" d="M4709 2382l27 13 27-4 22-51-27-11-27 8z"/>
<path fill="#80c376" d="M4753 2391l32-9 22-32-32-10z"/>
<path fill="#508449" d="M4775 2382l32 18 22-34-32-16z"/>
<path fill="#1b411b" d="M4797 2400l32 64 22-40-32-58z"/>
<path fill="#0c2e12" d="M4819 2464l32 49 22-19-32-70z"/>
<path fill="#2a7b36" d="M5016 2498l32 26 22-40-32 15z"/>
<path fill="#359042" d="M5038 2524l32 4 22-30-32-14z"/>
<path fill="#4aa84c" d="M5082 2492l32 1 21-52-32 33z"/>
<path fill="#6bc468" d="M5104 2493l31 0 22-62-32 10z"/>
<path fill="#7dd277" d="M5125 2493l32-12 22-50-32 0z"/>
<path fill="#89d67f" d="M5147 2481l27-9 27-12 22-33-27-2-27 6z"/>
<path fill="#7bbe6e" d="M5191 2460l32-9 22-25-32 1z"/>
<path fill="#629856" d="M5213 2451l32 6 22-24-32-7z"/>
<path fill="#487a41" d="M5235 2457l32 36 22-31-32-29z"/>
<path fill="#52944d" d="M5257 2493l32 11 22-34-32-8z"/>
<path fill="#64ae5d" d="M5279 2504l27-9 26 13 22-36-27-11-26 9z"/>
<path fill="#5fa05a" d="M5322 2508l32 20 22-54-32-2z"/>
<path fill="#6ab16a" d="M5344 2528l27 40 27-6 22-44-27-21-27-23z"/>
<path fill="#4fa057" d="M5388 2562l27 30 27 4 22-44-27-5-27-29z"/>
<path fill="#49ab51" d="M5432 2596l32-18 22-41-32 15z"/>
<path fill="#56b359" d="M5454 2578l27-1 27-5 21-39-26-6-27 10z"/>
<path fill="#439b43" d="M5498 2572l27-2 26-11 22-25-27 11-27-12z"/>
<path fill="#4fa34a" d="M5541 2559l32-10 22-26-32 11z"/>
<path fill="#71a963" d="M5585 2520l32-11 22-18-32 7z"/>
<path fill="#5a894f" d="M5607 2509l32 23 22-15-32-26z"/>
<path fill="#406a38" d="M5629 2532l32 4 22-5-32-14z"/>
<path fill="#335d2e" d="M5651 2536l32 38 22-26-32-17z"/>
<path fill="#367134" d="M5673 2574l32 25 22-31-32-20z"/>
<path fill="#479644" d="M5695 2599l32-6 21-25-31 0z"/>
<path fill="#51a24d" d="M5717 2593l31 6 22-31-32 0z"/>
<path fill="#42873f" d="M5738 2599l32-6 22-9-32-16z"/>
<path fill="#295e28" d="M5760 2593l32 10 22 3-32-22z"/>
<path fill="#1f4d1f" d="M5782 2603l32 6 22 8-32-11z"/>
<path fill="#1b471c" d="M6023 2641l27 23 27 22 22-5-27-18-27-14z"/>
<path fill="#266428" d="M6133 2686l31 13 22-14-32-9z"/>
<path fill="#154119" d="M6154 2699l32 44 22-26-32-32z"/>
<path fill="#0d3716" d="M6176 2743l32 42 22-28-32-40z"/>
<path fill="#0d441e" d="M6198 2785l32 23 22-25-32-26z"/>
<path fill="#0d5125" d="M6220 2808l32 6 22-17-32-14z"/>
<path fill="#12662a" d="M6330 2812l31-7 22-12-32 6z"/>
<path fill="#115a24" d="M6351 2805l32 4 22-10-32-6z"/>
<path fill="#0d491e" d="M6373 2809l32 13 22-8-32-15z"/>
<path fill="#08401b" d="M6395 2822l27 22 27 18 22-13-27-16-27-19z"/>
<path fill="#064a21" d="M6439 2862l32 10 22-14-32-9z"/>
<path fill="#0a5828" d="M6461 2872l27 0 22 0 27 16 21-25-26-7-22 2-27 0z"/>
<path fill="#135d32" d="M6527 2888l32 15 21-27-32-13z"/>
<path fill="#16673a" d="M6549 2903l26 9 27 1 22-25-27-3-27-9z"/>
<path fill="#0a5e2d" d="M6592 2913l27-5 27 2 22-17-27-7-27 2z"/>
<path fill="#085929" d="M6636 2910l27 6 22-4 27 0 22-13-27-4-22 3-27-5z"/>
<path fill="#074a21" d="M6702 2912l32 10 21-10-31-13z"/>
<path fill="#034420" d="M6724 2922l27 14 21 17 27 5 22-15-27-3-22-15-27-13z"/>
<path fill="#045229" d="M6789 2958l27 6 22 4 27 2 22-18-27 2-22-4-27-7z"/>
<path fill="#075f2c" d="M6855 2970l27-6 22-7 27-4 22-19-27 7-22 6-27 5z"/>
<path fill="#0f662b" d="M6921 2953l27-3 21-2 22-2 22-4 27 0 22-14-27 0-22 3-22 2-22-1-26 2z"/>
<path fill="#115b26" d="M7030 2942l32 8 22-13-32-9z"/>
<path fill="#094f23" d="M7052 2950l27 14 22 14 22 12 22 11 22 10 26 6 22-18-27-5-22-9-21-9-22-11-22-13-27-15z"/>
<path fill="#0b5e2a" d="M7183 3017l27 0 22-2 22 1 22 3 27 2 22-17-27-1-22-4-22-1-22 1-27 0z"/>
<path fill="#bad09c" d="M3987 2104l27-5 27-7 22-25-27 13-27 6z"/>
<path fill="#b1c590" d="M4031 2092l32 8 22-30-32-3z"/>
<path fill="#9bac81" d="M4053 2100l32 14 21-24-31-20z"/>
<path fill="#879673" d="M4075 2114l32 14 21-19-32-19z"/>
<path fill="#636e56" d="M4097 2128l31-3 22 10-32-26z"/>
<path fill="#404a38" d="M4118 2125l32 48 22-2-32-36z"/>
<path fill="#35452e" d="M4140 2173l32 40 22-7-32-35z"/>
<path fill="#3c6e36" d="M4228 2270l32 23 22-12-32-12z"/>
<path fill="#509448" d="M4250 2293l32-4 21-19-31 11z"/>
<path fill="#76bd6a" d="M4272 2289l32 7 21-52-32 26z"/>
<path fill="#a3e594" d="M4294 2296l31-4 22-61-32 13z"/>
<path fill="#b2eca3" d="M4315 2292l32-1 22-56-32-4z"/>
<path fill="#87b97b" d="M4337 2291l32 2 22-28-32-30z"/>
<path fill="#53834c" d="M4359 2293l32 35 22-29-32-34z"/>
<path fill="#62a25f" d="M4381 2328l32 30 22-43-32-16z"/>
<path fill="#74c66f" d="M4403 2358l27 0 22-10 27 3 22-41-27-4-22 11-27-2z"/>
<path fill="#6cb566" d="M4469 2351l32 11 21-40-31-12z"/>
<path fill="#5da659" d="M4491 2362l31 6 22-37-32-9z"/>
<path fill="#428440" d="M4512 2368l32 4 22-13-32-28z"/>
<path fill="#337134" d="M4534 2372l32 16 22-3-32-26z"/>
<path fill="#3c803f" d="M4556 2388l32 19 22-17-32-5z"/>
<path fill="#408d46" d="M4578 2407l32 16 22-31-32-2z"/>
<path fill="#469a4f" d="M4600 2423l32 13 22-26-32-18z"/>
<path fill="#4ca855" d="M4622 2436l32-6 22-26-32 6z"/>
<path fill="#48a94d" d="M4644 2430l27-3 27-10 21-43-26 29-27 1z"/>
<path fill="#65c163" d="M4688 2417l32-15 21-15-32-13z"/>
<path fill="#396e35" d="M4753 2384l32 37 22-29-32-18z"/>
<path fill="#173d19" d="M4775 2421l32 42 22-7-32-64z"/>
<path fill="#0c2e12" d="M4797 2463l32 34 22 8-32-49z"/>
<path fill="#318840" d="M4972 2523l27 1 27 8 22-16-27-26-27 14z"/>
<path fill="#257f36" d="M5016 2532l32-6 22-6-32-4z"/>
<path fill="#49a951" d="M5060 2516l32 0 22-31-32-1z"/>
<path fill="#5bb961" d="M5082 2516l27 1 26 0 22-44-27 12-26 0z"/>
<path fill="#68c567" d="M5125 2517l27-4 27-14 22-47-27 12-27 9z"/>
<path fill="#75c86e" d="M5169 2499l32-14 22-42-32 9z"/>
<path fill="#76bb6c" d="M5191 2485l32-12 22-24-32-6z"/>
<path fill="#54904e" d="M5213 2473l32 18 22-6-32-36z"/>
<path fill="#3f7f3b" d="M5235 2491l32 0 22 5-32-11z"/>
<path fill="#549d51" d="M5257 2491l27 29 27 3 21-23-26-13-27 9z"/>
<path fill="#346f37" d="M5301 2523l27 14 26 60 22-37-27-40-27-20z"/>
<path fill="#509c5b" d="M5344 2597l32-3 22-40-32 6z"/>
<path fill="#469654" d="M5366 2594l32 19 22-29-32-30z"/>
<path fill="#368b48" d="M5388 2613l32 13 22-38-32-4z"/>
<path fill="#47a859" d="M5410 2626l32-4 22-52-32 18z"/>
<path fill="#50b35f" d="M5432 2622l32-5 22-48-32 1z"/>
<path fill="#49ac54" d="M5454 2617l32-20 22-33-32 5z"/>
<path fill="#3d9a40" d="M5476 2597l27-23 27-2 21-21-26 11-27 2z"/>
<path fill="#4eaa4c" d="M5520 2572l31-10 22-21-32 10z"/>
<path fill="#69bd61" d="M5541 2562l32-12 22-38-32 29z"/>
<path fill="#80c773" d="M5563 2550l32-9 22-40-32 11z"/>
<path fill="#71ae65" d="M5585 2541l32-6 22-11-32-23z"/>
<path fill="#4f8146" d="M5607 2535l32 12 22-19-32-4z"/>
<path fill="#30622d" d="M5629 2547l27 38 27 23 22-17-27-25-27-38z"/>
<path fill="#3e8d3f" d="M5673 2608l32 7 22-30-32 6z"/>
<path fill="#48a148" d="M5695 2615l27 2 27-7 21-25-27 6-26-6z"/>
<path fill="#3d883a" d="M5739 2610l31-3 22-12-32-10z"/>
<path fill="#337331" d="M5760 2607l32 3 22-9-32-6z"/>
<path fill="#2b662a" d="M5782 2610l32 9 22-6-32-12z"/>
<path fill="#225723" d="M5804 2619l27 5 27 6 22 1-27-2-27-16z"/>
<path fill="#1a3a19" d="M6001 2617l27 30 27 25 22 6-27-22-27-23z"/>
<path fill="#1b4a1d" d="M6045 2672l32 14 22 2-32-10z"/>
<path fill="#256528" d="M6067 2686l32 2 22-4-32 4z"/>
<path fill="#2d772f" d="M6089 2688l32 1 22-11-32 6z"/>
<path fill="#256227" d="M6111 2689l32 18 21-16-31-13z"/>
<path fill="#133c17" d="M6133 2707l31 35 22-7-32-44z"/>
<path fill="#093214" d="M6154 2742l27 39 27 19 22 0-27-23-27-42z"/>
<path fill="#135f26" d="M6330 2804l32 7 21-10-32-4z"/>
<path fill="#0f5121" d="M6352 2811l31 16 22-13-32-13z"/>
<path fill="#08471f" d="M6373 2827l27 21 22 20 27 10 22-14-27-10-22-18-27-22z"/>
<path fill="#095929" d="M6439 2878l27 3 27 0 22-17-27 0-27 0z"/>
<path fill="#065126" d="M6483 2881l27 12 22 17 22 8 21 2 22-6 22 1 22 3 27-2 22-12-27 4-22-6-22-2-22 5-22-1-21-9-22-15-27-16z"/>
<path fill="#085426" d="M6658 2916l27 6 27 7 22-15-27-10-27 0z"/>
<path fill="#024722" d="M6702 2929l27 9 22 18 21 6 22 6 22 4 27 2 22-12-27-2-22-4-22-6-22-5-21-17-27-14z"/>
<path fill="#05592a" d="M6833 2974l27-4 27-2 22-19-27 7-27 6z"/>
<path fill="#0e682e" d="M6877 2968l27-4 22-2 22-4 22-4 26-2 22-18-27 4-22 2-21 2-22 3-27 4z"/>
<path fill="#13672b" d="M6986 2952l27 2 27 5 22-17-27-8-27 0z"/>
<path fill="#0e5524" d="M7030 2959l32 9 22-12-32-14z"/>
<path fill="#074c22" d="M7052 2968l27 12 22 13 22 12 22 8 22 6 26 4 22-14-27 0-21-6-22-10-22-11-22-12-27-14z"/>
<path fill="#0a5d2a" d="M7183 3023l27 2 22 2 22 2 27 1 22-17-27-2-22-3-22-1-27 2z"/>
<path fill="#c0d6a5" d="M3965 2118l27-7 22 0 27 8 22-27-27-8-22 7-27 5z"/>
<path fill="#474f3f" d="M4097 2114l31 40 22 11-32-48z"/>
<path fill="#2e4f28" d="M4206 2249l32 40 22-4-32-23z"/>
<path fill="#3a6b34" d="M4228 2289l32 2 22-10-32 4z"/>
<path fill="#4e8749" d="M4250 2291l32 32 22-35-32-7z"/>
<path fill="#69ae64" d="M4272 2323l32 15 21-54-31 4z"/>
<path fill="#7ece78" d="M4294 2338l31-4 22-51-32 1z"/>
<path fill="#79c271" d="M4315 2334l32-10 22-39-32-2z"/>
<path fill="#4b8546" d="M4337 2324l32 19 22-23-32-35z"/>
<path fill="#387539" d="M4359 2343l32 38 22-31-32-30z"/>
<path fill="#54a659" d="M4381 2381l32 8 22-39-32 0z"/>
<path fill="#65c469" d="M4403 2389l32-2 22-47-32 10z"/>
<path fill="#5fba60" d="M4425 2387l32-13 22-31-32-3z"/>
<path fill="#4fa24f" d="M4447 2374l32 4 22-24-32-11z"/>
<path fill="#439343" d="M4469 2378l32-3 21-15-31-6z"/>
<path fill="#377e36" d="M4491 2375l32 0 21-11-32-4z"/>
<path fill="#265e26" d="M4513 2375l31 6 22-1-32-16z"/>
<path fill="#1e5020" d="M4534 2381l32 30 22-12-32-19z"/>
<path fill="#205c26" d="M4556 2411l32 23 22-19-32-16z"/>
<path fill="#246e2e" d="M4578 2434l32 13 22-19-32-13z"/>
<path fill="#308a3d" d="M4600 2447l32 5 22-30-32 6z"/>
<path fill="#3fa04b" d="M4622 2452l32-8 22-25-32 3z"/>
<path fill="#49a951" d="M4644 2444l32-3 22-32-32 10z"/>
<path fill="#56b258" d="M4666 2441l27 15 22-7 26-31 22-42-27 1-21 17-27 15z"/>
<path fill="#3e7d3d" d="M4731 2418l32 17 22-22-32-37z"/>
<path fill="#1a481d" d="M4753 2435l32 32 22-12-32-42z"/>
<path fill="#103a17" d="M4775 2467l32 34 22-12-32-34z"/>
<path fill="#11461e" d="M4797 2501l32 25 22-19-32-18z"/>
<path fill="#1f6c31" d="M4929 2527l31 24 22-36-32 5z"/>
<path fill="#39954e" d="M4950 2551l27 5 27-5 22-27-27-8-27-1z"/>
<path fill="#2a893e" d="M4994 2551l32 4 22-37-32 6z"/>
<path fill="#369846" d="M5016 2555l27-10 27-14 22-23-27 0-27 10z"/>
<path fill="#47a553" d="M5060 2531l32 10 22-32-32-1z"/>
<path fill="#5fbb6a" d="M5082 2541l32 5 21-37-31 0z"/>
<path fill="#68c573" d="M5104 2546l32 10 21-51-32 4z"/>
<path fill="#60c069" d="M5126 2556l31-3 22-62-32 14z"/>
<path fill="#58b95c" d="M5147 2553l32-17 22-59-32 14z"/>
<path fill="#6ac568" d="M5169 2536l32-20 22-51-32 12z"/>
<path fill="#67b864" d="M5191 2516l32 5 22-38-32-18z"/>
<path fill="#55a255" d="M5213 2521l27 13 27 9 22-31-27-29-27 0z"/>
<path fill="#499d4b" d="M5257 2543l32-7 22-21-32-3z"/>
<path fill="#2d6b2e" d="M5279 2536l32 1 22-8-32-14z"/>
<path fill="#143d18" d="M5301 2537l32 62 21-10-31-60z"/>
<path fill="#215f2d" d="M5323 2599l31 16 22-29-32 3z"/>
<path fill="#236b32" d="M5344 2615l32 1 22-11-32-19z"/>
<path fill="#195e2a" d="M5366 2616l32 23 22-21-32-13z"/>
<path fill="#297d40" d="M5388 2639l32 13 22-38-32 4z"/>
<path fill="#2d8f45" d="M5410 2652l32-13 22-30-32 5z"/>
<path fill="#3c9540" d="M5476 2583l32 10 22-29-32 2z"/>
<path fill="#50a954" d="M5498 2593l32 20 21-59-31 10z"/>
<path fill="#60bc5e" d="M5520 2613l27-7 26-36 22-37-27 9-27 12z"/>
<path fill="#6ebb65" d="M5563 2570l32-4 22-39-32 6z"/>
<path fill="#64a55d" d="M5585 2566l32 12 22-39-32-12z"/>
<path fill="#427a3e" d="M5607 2578l32 15 22-16-32-38z"/>
<path fill="#286228" d="M5629 2593l32 19 22-12-32-23z"/>
<path fill="#398e3a" d="M5695 2633l27-10 27-5 21-19-26 3-27 7z"/>
<path fill="#378236" d="M5739 2618l26 5 27 3 22-15-27-9-27-3z"/>
<path fill="#2f6c2d" d="M5804 2623l32 5 22-6-32-6z"/>
<path fill="#1e3d1c" d="M5979 2599l27 31 22 26 27 18 22 4-27-14-22-25-27-30z"/>
<path fill="#245c25" d="M6045 2674l32 17 22-11-32-2z"/>
<path fill="#337936" d="M6067 2691l27 15 27 13 22-20-27-18-27-1z"/>
<path fill="#1f5625" d="M6111 2719l32 21 21-6-31-35z"/>
<path fill="#0e3916" d="M6133 2740l32 21 21 12-32-39z"/>
<path fill="#093d19" d="M6198 2794l32 12 22 4-32-12z"/>
<path fill="#105824" d="M6264 2802l32 6 22-9-32 8z"/>
<path fill="#16612a" d="M6286 2808l27 7 22 10 27 18 21-24-26-16-22-7-27 3z"/>
<path fill="#0c5026" d="M6352 2843l26 19 22 15 27 11 22-18-27-10-22-20-27-21z"/>
<path fill="#085628" d="M6417 2888l27 5 22 2 27 2 22-12-27-12-22 0-27-3z"/>
<path fill="#03401e" d="M6483 2897l27 11 27 11 22-9-27-8-27-17z"/>
<path fill="#065125" d="M6549 2919l27-2 21 2 22-1 22 6 22 7 22 6 27 9 22-16-27-9-22-7-22-6-22 2-22-3-22-1-27 6z"/>
<path fill="#024622" d="M6702 2946l27 14 22 7 22 5 26 4 22-12-27-4-22-6-21-6-27-18z"/>
<path fill="#024f26" d="M6789 2976l27 1 27 2 22-17-27 4-27-2z"/>
<path fill="#085e2e" d="M6833 2979l27 4 27 0 22-27-27 4-27 2z"/>
<path fill="#0f692f" d="M6877 2983l27-6 22-6 22-5 22-2 21 3 27 3 22-19-27-5-22-2-21 2-22 4-22 4-27 2z"/>
<path fill="#0f5d28" d="M7008 2970l32 3 22-13-32-9z"/>
<path fill="#074c21" d="M7030 2973l27 10 22 12 22 11 22 6 22 6 22 9 27 7 21-17-27-2-21-4-22-6-22-8-22-12-22-13-27-12z"/>
<path fill="#095c2a" d="M7184 3034l26 4 22 0 27 0 22-16-27-1-22-2-27-2z"/>
<path fill="#cbe1b4" d="M3943 2138l27-11 27 4 22-28-27 0-27 7z"/>
<path fill="#c4d9ad" d="M3987 2131l32 1 22-21-32-8z"/>
<path fill="#48513b" d="M4075 2092l32 26 21 28-31-40z"/>
<path fill="#35442d" d="M4162 2184l32 40 22 17-32-32z"/>
<path fill="#2c4326" d="M4184 2224l32 58 22-1-32-40z"/>
<path fill="#2c582a" d="M4250 2293l32 38 22-1-32-15z"/>
<path fill="#3d833c" d="M4272 2331l32 12 21-17-31 4z"/>
<path fill="#57a654" d="M4294 2343l32-5 21-22-32 10z"/>
<path fill="#478a46" d="M4316 2338l31 27 22-30-32-19z"/>
<path fill="#26602a" d="M4337 2365l32 31 22-23-32-38z"/>
<path fill="#3a8443" d="M4359 2396l32 22 22-37-32-8z"/>
<path fill="#295e28" d="M4491 2364l32 24 21-15-31-6z"/>
<path fill="#1a5120" d="M4513 2388l26 30 22 17 27 17 22-13-27-13-22-23-27-30z"/>
<path fill="#297537" d="M4578 2452l32 27 22-35-32-5z"/>
<path fill="#44a056" d="M4600 2479l32 11 22-54-32 8z"/>
<path fill="#4baa59" d="M4622 2490l27-21 27-5 22-16-27-15-27 3z"/>
<path fill="#3c9a48" d="M4666 2464l32 6 22-29-32 7z"/>
<path fill="#409043" d="M4710 2448l32 7 21-28-32-17z"/>
<path fill="#215a27" d="M4732 2455l31 33 22-29-32-32z"/>
<path fill="#15491f" d="M4753 2488l32 38 22-33-32-34z"/>
<path fill="#1b5a2c" d="M4775 2526l32 27 22-35-32-25z"/>
<path fill="#0f3a17" d="M4885 2491l32 31 22-3-32-10z"/>
<path fill="#144820" d="M4907 2522l32 43 21-22-31-24z"/>
<path fill="#27743e" d="M4929 2565l31 18 22-35-32-5z"/>
<path fill="#2c8b47" d="M4950 2583l27-14 27 11 22-33-27-4-27 5z"/>
<path fill="#26893f" d="M4994 2580l32-16 22-27-32 10z"/>
<path fill="#349547" d="M5016 2564l32-6 22-35-32 14z"/>
<path fill="#4ba45d" d="M5038 2558l32 21 22-46-32-10z"/>
<path fill="#60b673" d="M5060 2579l32 13 22-54-32-5z"/>
<path fill="#68c37d" d="M5082 2592l32 4 22-48-32-10z"/>
<path fill="#57b76c" d="M5104 2596l32-8 21-43-31 3z"/>
<path fill="#47aa54" d="M5126 2588l26-14 27-25 22-41-27 20-27 17z"/>
<path fill="#55b159" d="M5169 2549l32-11 22-25-32-5z"/>
<path fill="#4ba251" d="M5191 2538l27 16 22 11 27-4 22-33-27 7-22-9-27-13z"/>
<path fill="#429045" d="M5257 2561l32-12 22-20-32-1z"/>
<path fill="#215025" d="M5279 2549l32 36 22 6-32-62z"/>
<path fill="#103f19" d="M5301 2585l32 23 21-1-31-16z"/>
<path fill="#0e4019" d="M5345 2609l31 21 22 1-32-23z"/>
<path fill="#0f491f" d="M5366 2630l32 24 22-10-32-13z"/>
<path fill="#146a2d" d="M5388 2654l32-1 22-22-32 13z"/>
<path fill="#379b44" d="M5432 2625l32-11 22-39-32 25z"/>
<path fill="#49a052" d="M5454 2614l27-2 27 15 22-22-27-20-27-10z"/>
<path fill="#5db45a" d="M5542 2590l31-8 22-24-32 4z"/>
<path fill="#5faa5b" d="M5563 2582l32 15 22-27-32-12z"/>
<path fill="#488f47" d="M5585 2597l32 16 22-28-32-15z"/>
<path fill="#387f3a" d="M5607 2613l32 12 22-21-32-19z"/>
<path fill="#327631" d="M5717 2615l32 8 21-8-31-5z"/>
<path fill="#6e9f5e" d="M5914 2596l32-11 21-12-31 12z"/>
<path fill="#557949" d="M5936 2585l32 11 21-5-32-18z"/>
<path fill="#33502d" d="M5958 2596l31 25 22 1-32-31z"/>
<path fill="#254722" d="M5979 2621l27 24 27 24 22-3-27-18-27-26z"/>
<path fill="#235422" d="M6023 2669l32 33 22-19-32-17z"/>
<path fill="#307034" d="M6045 2702l32 30 22-34-32-15z"/>
<path fill="#428d4a" d="M6067 2732l32 19 22-40-32-13z"/>
<path fill="#388443" d="M6089 2751l32 9 22-28-32-21z"/>
<path fill="#1e622a" d="M6111 2760l32 4 22-11-32-21z"/>
<path fill="#10471c" d="M6133 2764l27 6 21 19 27 6 22 3-27-12-22-18-26-15z"/>
<path fill="#115623" d="M6220 2796l27 10 27 12 22-18-27-6-27 4z"/>
<path fill="#155e2e" d="M6264 2818l27 11 22 15 22 22 22 15 27 12 21-24-27-15-21-19-22-18-22-10-27-7z"/>
<path fill="#075529" d="M6374 2893l26 6 22 0 22 3 27 0 22-13-27-2-22-2-22-5-27-11z"/>
<path fill="#054a22" d="M6461 2902l32-1 22-1-32-11z"/>
<path fill="#04411e" d="M6483 2901l27 8 27 3 22-1-27 0-27-11z"/>
<path fill="#054e24" d="M6527 2912l27 6 22 4 26 3 22-15-27 1-21-2-27 2z"/>
<path fill="#065126" d="M6592 2925l27 7 22 5 22 6 27 11 22-16-27-9-22-6-22-7-27-6z"/>
<path fill="#024a24" d="M6680 2954l27 11 22 7 22 5 22 4 21 3 27 4 22-17-27-2-22-1-21-4-22-5-22-7-27-14z"/>
<path fill="#05552a" d="M6811 2988l27 5 27 3 22-21-27 0-27-4z"/>
<path fill="#0d642d" d="M6855 2996l27-4 22-8 22-6 22-3 22 2 22 3 26 1 22-16-27-3-22-3-21-3-22 2-22 5-22 6-27 6z"/>
<path fill="#0c5725" d="M7008 2981l32 7 22-13-32-10z"/>
<path fill="#074c22" d="M7030 2988l27 10 22 9 22 6 22 7 22 10 22 11 27 5 21-16-26-4-22-7-22-9-22-6-22-6-22-11-27-12z"/>
<path fill="#075a29" d="M7184 3046l26 0 27 1 22-17-27 0-27 0z"/>
<path fill="#c5e1ae" d="M3922 2158l26-10 27 0 22-25-27-4-27 11z"/>
<path fill="#5e6946" d="M4053 2080l32 17 22 13-32-26z"/>
<path fill="#3e4936" d="M4140 2158l32 41 22 17-32-40z"/>
<path fill="#304229" d="M4162 2199l32 66 22 9-32-58z"/>
<path fill="#274a23" d="M4228 2268l27 26 27 46 22-5-27-12-27-38z"/>
<path fill="#428644" d="M4272 2340l27 33 27 17 21-33-26-27-27 5z"/>
<path fill="#235e29" d="M4316 2390l31 16 22-18-32-31z"/>
<path fill="#359640" d="M4381 2459l27-16 27-53 22-32-27 8-27 41z"/>
<path fill="#387234" d="M4447 2353l32 16 22-13-32 4z"/>
<path fill="#275925" d="M4469 2369l32 34 22-23-32-24z"/>
<path fill="#194f20" d="M4491 2403l27 23 22 5 21 30 27 42 22-32-27-27-22-17-22-17-26-30z"/>
<path fill="#2d7943" d="M4578 2503l32 26 22-47-32-11z"/>
<path fill="#32924d" d="M4600 2529l32-10 22-58-32 21z"/>
<path fill="#278738" d="M4622 2519l27-37 27-17 22-3-27-6-27 5z"/>
<path fill="#307f38" d="M4688 2465l32 10 22-28-32-7z"/>
<path fill="#1c5525" d="M4710 2475l32 39 21-34-31-33z"/>
<path fill="#11451f" d="M4732 2514l31 39 22-35-32-38z"/>
<path fill="#165a2d" d="M4753 2553l32 20 22-28-32-27z"/>
<path fill="#133d18" d="M4863 2480l32 40 22-6-32-31z"/>
<path fill="#0a2f13" d="M4885 2520l32 50 22-13-32-43z"/>
<path fill="#104b24" d="M4907 2570l32 28 21-23-31-18z"/>
<path fill="#197736" d="M4951 2598l26-14 27 3 22-31-27 16-27-11z"/>
<path fill="#2c8744" d="M4994 2587l32-1 22-36-32 6z"/>
<path fill="#36844c" d="M5016 2586l32 21 22-36-32-21z"/>
<path fill="#3c8655" d="M5038 2607l32 31 22-54-32-13z"/>
<path fill="#4c9e6b" d="M5060 2638l32 17 22-67-32-4z"/>
<path fill="#429f64" d="M5082 2655l32-2 22-73-32 8z"/>
<path fill="#2c8f4b" d="M5104 2653l32-21 21-66-31 14z"/>
<path fill="#2a8f41" d="M5126 2632l32-32 21-59-32 25z"/>
<path fill="#3b9845" d="M5148 2600l26-35 27-7 22-12-27-16-27 11z"/>
<path fill="#378740" d="M5191 2558l32 27 22-28-32-11z"/>
<path fill="#469f52" d="M5213 2585l32 10 22-42-32 4z"/>
<path fill="#54b15e" d="M5235 2595l32-8 22-46-32 12z"/>
<path fill="#37813f" d="M5257 2587l32-8 22-2-32-36z"/>
<path fill="#174e1e" d="M5279 2579l32 13 22 8-32-23z"/>
<path fill="#103f18" d="M5323 2602l32 12 21 8-31-21z"/>
<path fill="#0b3515" d="M5345 2614l31 26 22 6-32-24z"/>
<path fill="#0e4f20" d="M5366 2640l32 17 22-12-32 1z"/>
<path fill="#1c7834" d="M5388 2657l32 1 22-41-32 28z"/>
<path fill="#379b4c" d="M5410 2658l32-7 22-45-32 11z"/>
<path fill="#48a959" d="M5432 2651l32-3 22-44-32 2z"/>
<path fill="#379445" d="M5454 2648l32-17 22-12-32-15z"/>
<path fill="#3b9541" d="M5498 2611l32 3 22-32-32 31z"/>
<path fill="#5db95e" d="M5520 2614l32 3 21-43-31 8z"/>
<path fill="#58aa59" d="M5542 2617l32-7 21-21-32-15z"/>
<path fill="#459048" d="M5564 2610l31 30 22-35-32-16z"/>
<path fill="#327030" d="M5695 2610l27 8 27 7 22-5-27-5-27-8z"/>
<path fill="#82bf72" d="M5892 2615l32-8 22-30-32 11z"/>
<path fill="#7fb170" d="M5914 2607l32 3 22-22-32-11z"/>
<path fill="#5b8450" d="M5936 2610l32 20 21-17-31-25z"/>
<path fill="#3b6334" d="M5958 2630l31 29 22-22-32-24z"/>
<path fill="#2b5628" d="M5979 2659l32 31 22-29-32-24z"/>
<path fill="#205121" d="M6001 2690l32 37 22-33-32-33z"/>
<path fill="#235d2a" d="M6023 2727l32 35 22-38-32-30z"/>
<path fill="#357e42" d="M6045 2762l32 18 22-37-32-19z"/>
<path fill="#358c47" d="M6067 2780l32 0 22-28-32-9z"/>
<path fill="#237a35" d="M6089 2780l32-4 22-20-32-4z"/>
<path fill="#1a692b" d="M6111 2776l32 11 22-25-32-6z"/>
<path fill="#155d25" d="M6133 2787l27 6 27 2 21-8-27-6-26-19z"/>
<path fill="#115526" d="M6198 2797l27 15 22 15 22 16 22 19 27 22 22-26-27-22-22-15-22-11-22-12-27-10z"/>
<path fill="#0a532b" d="M6308 2884l27 14 22 8 27 4 21-19-26-6-22-12-27-15z"/>
<path fill="#055326" d="M6374 2910l26-6 22 3 22 2 22-1 27 1 22-8-27-8-22 1-22 0-22-3-27 0z"/>
<path fill="#064b22" d="M6483 2909l27 4 22 6 22 6 27 10 21-18-26-3-22-4-22-6-27-3z"/>
<path fill="#065127" d="M6571 2935l27 5 21 7 22 8 27 8 22-17-27-11-22-6-22-5-27-7z"/>
<path fill="#024a25" d="M6658 2963l27 9 22 5 22 4 22 5 22 4 22 4 21 4 27 4 22-14-27-3-22-5-22-4-21-3-22-4-22-5-22-7-27-11z"/>
<path fill="#055a2b" d="M6833 3002l27 0 27-7 22-19-27 8-27 4z"/>
<path fill="#0c602a" d="M6877 2995l27-6 22-4 22 0 22 2 22 3 26 5 22-15-27-7-21-1-22-3-22-2-22 3-27 6z"/>
<path fill="#094d21" d="M7008 2995l27 6 22 6 22 7 27 8 22-10-27-7-22-6-22-9-27-10z"/>
<path fill="#054921" d="M7096 3022l27 11 22 12 27 6 22-13-27-5-22-11-27-10z"/>
<path fill="#065527" d="M7162 3051l27 1 27 4 21-17-27-1-26 0z"/>
<path fill="#b6db9e" d="M3900 2178l32-11 21-27-31 10z"/>
<path fill="#869561" d="M4031 2089l32 21 22-21-32-17z"/>
<path fill="#6e7b55" d="M4053 2110l27 15 27-1 22 2-27-23-27-14z"/>
<path fill="#515b42" d="M4097 2124l32 18 21 8-31-24z"/>
<path fill="#454c3d" d="M4119 2142l32 41 21 8-32-41z"/>
<path fill="#394631" d="M4141 2183l31 44 22 30-32-66z"/>
<path fill="#385230" d="M4184 2250l32 25 22-15-32 11z"/>
<path fill="#2e4a28" d="M4206 2275l32 42 22-31-32-26z"/>
<path fill="#1f401d" d="M4228 2317l32 58 22-43-32-46z"/>
<path fill="#2d6531" d="M4250 2375l32 36 22-46-32-33z"/>
<path fill="#35803e" d="M4272 2411l32-5 22-24-32-17z"/>
<path fill="#3f873c" d="M4425 2383l32 5 22-27-32-16z"/>
<path fill="#275e26" d="M4447 2388l32 16 22-9-32-34z"/>
<path fill="#1d5422" d="M4469 2404l27 15 22 25 27 36 21-27-26-30-22-5-27-23z"/>
<path fill="#0d3d19" d="M4535 2480l31 32 22-17-32-42z"/>
<path fill="#2b8637" d="M4644 2482l32-4 22-21-32 0z"/>
<path fill="#236c2d" d="M4666 2478l32 11 22-22-32-10z"/>
<path fill="#11421b" d="M4688 2489l32 33 22-16-32-39z"/>
<path fill="#093416" d="M4710 2522l32 38 21-15-31-39z"/>
<path fill="#1f5425" d="M4841 2492l32 39 22-19-32-40z"/>
<path fill="#0a2f13" d="M4863 2531l32 43 22-12-32-50z"/>
<path fill="#175b2e" d="M4994 2600l32 28 22-29-32-21z"/>
<path fill="#107132" d="M5104 2658l32-21 22-45-32 32z"/>
<path fill="#21873a" d="M5126 2637l32-21 21-59-31 35z"/>
<path fill="#3d9e4e" d="M5148 2616l31-18 22-48-32 7z"/>
<path fill="#3e914e" d="M5169 2598l27 10 27 21 22-42-27-10-27-27z"/>
<path fill="#47a75b" d="M5213 2629l32-7 22-43-32 8z"/>
<path fill="#359645" d="M5235 2622l32-18 22-33-32 8z"/>
<path fill="#2a7e35" d="M5257 2604l32-6 22-14-32-13z"/>
<path fill="#236b2d" d="M5279 2598l32 6 22-10-32-10z"/>
<path fill="#1a5823" d="M5301 2604l32 8 22-6-32-12z"/>
<path fill="#0e411a" d="M5323 2612l27 27 27 24 21-14-27-17-26-26z"/>
<path fill="#145e29" d="M5367 2663l31 6 22-19-32-1z"/>
<path fill="#237c3b" d="M5388 2669l32 6 22-32-32 7z"/>
<path fill="#26883d" d="M5410 2675l27-1 27-21 22-30-27 17-27 3z"/>
<path fill="#42994a" d="M5476 2620l32 21 22-35-32-3z"/>
<path fill="#57b160" d="M5498 2641l27 12 27-12 22-39-27 7-27-3z"/>
<path fill="#3b7c37" d="M5651 2608l27 5 22 7 27 6 22-9-27-7-22-8-27-2z"/>
<path fill="#447d3d" d="M5826 2624l32 5 22-11-32 9z"/>
<path fill="#5d9f53" d="M5848 2629l32 5 22-27-32 11z"/>
<path fill="#7ec271" d="M5870 2634l32 2 22-37-32 8z"/>
<path fill="#92d085" d="M5892 2636l32 12 22-46-32-3z"/>
<path fill="#7bb572" d="M5914 2648l32 17 22-43-32-20z"/>
<path fill="#51894c" d="M5936 2665l32 20 21-34-31-29z"/>
<path fill="#316830" d="M5958 2685l32 25 21-28-32-31z"/>
<path fill="#1b4f21" d="M5980 2710l26 32 27 33 22-21-27-35-27-37z"/>
<path fill="#1a5d2a" d="M6023 2775l32 16 22-19-32-18z"/>
<path fill="#1a6d2d" d="M6045 2791l27-2 22-3 22 7 22 10 22 3 27 0 21-17-26-2-22-2-22-6-22-11-22 4-27 0z"/>
<path fill="#135a25" d="M6177 2806l31 12 22-14-32-15z"/>
<path fill="#0d4d22" d="M6198 2818l27 18 22 20 27 19 22-21-27-19-22-16-27-15z"/>
<path fill="#044723" d="M6264 2875l27 17 22 12 22 6 27 3 22-11-27-4-22-8-22-14-27-22z"/>
<path fill="#055025" d="M6352 2913l27-4 22 3 21 4 22 1 22 0 22 0 22 4 22 8 22 14 22 7 22 9 21 7 27 5 22-16-27-8-22-8-21-7-22-5-22-10-22-6-22-6-22-4-22-1-22 1-22-2-22-3-26 6z"/>
<path fill="#014a24" d="M6636 2971l27 6 22 5 22 4 22 4 22 5 22 4 22 4 21 3 27 2 22-14-27 0-22-4-21-4-22-4-22-4-22-5-22-4-22-5-27-9z"/>
<path fill="#055b2b" d="M6833 3008l27-3 27-7 22-17-27 6-27 7z"/>
<path fill="#0b5d28" d="M6877 2998l27-6 22-2 22 2 22 6 27 3 21-14-26-5-22-3-22-2-22 0-27 4z"/>
<path fill="#0a5323" d="M6987 3001l27 1 26 4 22-7-27-6-27-6z"/>
<path fill="#064a21" d="M7030 3006l27 7 22 10 22 11 22 11 22 8 22 5 27 6 22-16-27-4-22-1-22-6-22-12-22-11-22-8-27-7z"/>
<path fill="#bed495" d="M3987 2128l32-13 22-34-32 25z"/>
<path fill="#a6b980" d="M4009 2115l32 10 22-23-32-21z"/>
<path fill="#96a877" d="M4031 2125l27 12 27 2 22-23-27 1-27-15z"/>
<path fill="#7f8e65" d="M4075 2139l32 4 22-9-32-18z"/>
<path fill="#555f47" d="M4097 2143l32 15 22 17-32-41z"/>
<path fill="#434b3b" d="M4119 2158l32 29 21 32-31-44z"/>
<path fill="#36452e" d="M4141 2187l26 45 27 39 22-4-27-25-27-23z"/>
<path fill="#273f22" d="M4184 2271l32 57 22-19-32-42z"/>
<path fill="#183918" d="M4206 2328l32 56 22-17-32-58z"/>
<path fill="#3c8b3a" d="M4403 2390l32-7 22-3-32-5z"/>
<path fill="#2d6b2d" d="M4425 2383l32 19 22-6-32-16z"/>
<path fill="#265d28" d="M4447 2402l32 40 22-31-32-15z"/>
<path fill="#2b6733" d="M4469 2442l32 42 22-48-32-25z"/>
<path fill="#357743" d="M4491 2484l32 21 22-33-32-36z"/>
<path fill="#226434" d="M4513 2505l32 2 21-3-31-32z"/>
<path fill="#2b8d3c" d="M4622 2509l32-17 22-22-32 4z"/>
<path fill="#287a35" d="M4644 2492l32-3 22-8-32-11z"/>
<path fill="#15491e" d="M4666 2489l32 19 22 6-32-33z"/>
<path fill="#072a11" d="M4688 2508l32 45 22-1-32-38z"/>
<path fill="#3b9145" d="M4797 2512l32 14 22-42-32 7z"/>
<path fill="#30703b" d="M4819 2526l32 29 22-32-32-39z"/>
<path fill="#11441e" d="M4841 2555l32 24 22-13-32-43z"/>
<path fill="#136c30" d="M5104 2638l32 1 22-31-32 21z"/>
<path fill="#2d8f49" d="M5126 2639l32-5 21-44-31 18z"/>
<path fill="#3a9450" d="M5148 2634l32-7 21-27-32-10z"/>
<path fill="#338c4c" d="M5170 2627l26 23 27-6 22-30-27 7-27-21z"/>
<path fill="#2a8f42" d="M5213 2644l32-11 22-37-32 18z"/>
<path fill="#39984a" d="M5235 2633l27-5 27 0 22-32-27-6-27 6z"/>
<path fill="#2f813e" d="M5279 2628l32 6 22-30-32-8z"/>
<path fill="#1a5d28" d="M5301 2634l32 13 22-16-32-27z"/>
<path fill="#0e4a1e" d="M5323 2647l27 9 27 6 21-1-26-6-27-24z"/>
<path fill="#115a26" d="M5367 2662l31 18 22-13-32-6z"/>
<path fill="#379647" d="M5432 2657l32-4 22-41-32 33z"/>
<path fill="#4ca359" d="M5454 2653l32 16 22-36-32-21z"/>
<path fill="#409950" d="M5476 2669l32 4 22-28-32-12z"/>
<path fill="#3f913d" d="M5586 2626l31-13 22-11-32 7z"/>
<path fill="#3f833b" d="M5607 2613l27 1 27 8 22-17-27-5-27 2z"/>
<path fill="#3c8138" d="M5651 2622l27 10 27 6 22-20-27-6-27-7z"/>
<path fill="#418c3d" d="M5695 2638l32-5 22-15-32 0z"/>
<path fill="#3e6936" d="M5804 2609l32 15 22-3-32-5z"/>
<path fill="#467a3e" d="M5826 2624l32 22 22-20-32-5z"/>
<path fill="#5c9a55" d="M5848 2646l32 17 22-35-32-2z"/>
<path fill="#6aaf66" d="M5870 2663l27 19 27 14 22-39-27-17-27-12z"/>
<path fill="#4d934c" d="M5914 2696l32 13 22-32-32-20z"/>
<path fill="#306f33" d="M5936 2709l32 23 22-30-32-25z"/>
<path fill="#1e5826" d="M5958 2732l32 29 21-27-31-32z"/>
<path fill="#135221" d="M5980 2761l26 15 27 7 22 0-27-16-27-33z"/>
<path fill="#145e26" d="M6023 2783l27 2 22 4 27 17 22-21-27-7-22 3-27 2z"/>
<path fill="#1a682f" d="M6089 2806l32 17 22-28-32-10z"/>
<path fill="#1d7635" d="M6111 2823l27-2 27-3 22-20-27 0-27-3z"/>
<path fill="#156129" d="M6155 2818l32 6 21-14-31-12z"/>
<path fill="#0a471f" d="M6177 2824l27 20 21 23 27 16 22-16-27-19-22-20-27-18z"/>
<path fill="#03411f" d="M6242 2883l27 9 22 7 22 7 27 4 22-5-27-3-22-6-22-12-27-17z"/>
<path fill="#045026" d="M6330 2910l27 5 22 3 27 0 21-10-26-4-22-3-27 4z"/>
<path fill="#065024" d="M6417 2918l27-1 22 2 27 5 22-11-27-4-22 0-27 0z"/>
<path fill="#024923" d="M6483 2924l27 9 22 15 22 11 22 6 22 6 22 6 21 4 22 5 22 4 22 5 22 4 22 4 27 4 22-12-27-4-22-4-22-5-22-4-22-4-22-5-22-6-22-5-21-7-22-9-22-7-22-14-27-8z"/>
<path fill="#024d26" d="M6768 3007l27 3 22 1 26 0 22-14-27 3-22-2-26-3z"/>
<path fill="#055b2a" d="M6833 3011l32-4 22-17-32 7z"/>
<path fill="#0b5b27" d="M6877 2998l27-4 22 3 22 6 27 3 22-13-27-3-22-6-22-2-27 2z"/>
<path fill="#0b5022" d="M6987 3003l27 0 26 8 22-6-27-7-26-4z"/>
<path fill="#064720" d="M7030 3011l27 11 22 11 22 10 22 11 22 10 27 9 22-17-27-6-22-5-22-8-22-11-22-11-27-10z"/>
<path fill="#c1d6a9" d="M3922 2159l32-16 21-16-31 14z"/>
<path fill="#bdd3a0" d="M3944 2143l31-3 22-20-32 7z"/>
<path fill="#c7dea5" d="M3965 2140l32-1 22-32-32 13z"/>
<path fill="#bbd098" d="M3987 2139l32-6 22-16-32-10z"/>
<path fill="#9aac7c" d="M4009 2133l32 7 22-11-32-12z"/>
<path fill="#a3b686" d="M4031 2140l32 14 22-23-32-2z"/>
<path fill="#b5ca97" d="M4053 2154l32 0 22-19-32-4z"/>
<path fill="#82916b" d="M4075 2154l32-6 22 2-32-15z"/>
<path fill="#4d5642" d="M4097 2148l32 57 22-26-32-29z"/>
<path fill="#3a4b32" d="M4119 2205l27 58 27 34 21-34-27-39-26-45z"/>
<path fill="#284323" d="M4163 2297l31 32 22-9-32-57z"/>
<path fill="#173617" d="M4184 2329l32 38 22 9-32-56z"/>
<path fill="#397f37" d="M4381 2392l32 6 22-23-32 7z"/>
<path fill="#2c662d" d="M4403 2398l32 49 22-53-32-19z"/>
<path fill="#205427" d="M4425 2447l32 56 22-69-32-40z"/>
<path fill="#2a673a" d="M4447 2503l32 41 22-68-32-42z"/>
<path fill="#309246" d="M4600 2527l27 4 27-8 22-42-27 3-27 17z"/>
<path fill="#216a2f" d="M4644 2523l32-11 22-12-32-19z"/>
<path fill="#0c3817" d="M4666 2512l32 34 22-1-32-45z"/>
<path fill="#39904a" d="M4776 2542l31 21 22-45-32-14z"/>
<path fill="#37814a" d="M4797 2563l32 20 22-36-32-29z"/>
<path fill="#1c6532" d="M4819 2583l32 4 22-16-32-24z"/>
<path fill="#0b4a20" d="M5082 2624l32 19 22-12-32-1z"/>
<path fill="#166831" d="M5104 2643l32 11 22-28-32 5z"/>
<path fill="#30874c" d="M5126 2654l27 1 27 18 21-31-26-23-27 7z"/>
<path fill="#1e7d3d" d="M5170 2673l26-4 27-10 22-34-27 11-27 6z"/>
<path fill="#2e9049" d="M5213 2659l32-2 22-37-32 5z"/>
<path fill="#399951" d="M5235 2657l32 1 22-38-32 0z"/>
<path fill="#2f8c45" d="M5257 2658l32-7 22-25-32-6z"/>
<path fill="#1c6c2f" d="M5279 2651l32-3 22-9-32-13z"/>
<path fill="#105121" d="M5301 2648l27 0 22 19 27 14 21-9-26-18-22-6-27-9z"/>
<path fill="#388f4a" d="M5410 2666l32 21 22-42-32 4z"/>
<path fill="#429a56" d="M5432 2687l32 5 22-31-32-16z"/>
<path fill="#41893d" d="M5586 2620l31-4 22-10-32-1z"/>
<path fill="#387534" d="M5607 2616l27 6 27 10 22-8-27-10-27-8z"/>
<path fill="#4b9245" d="M5695 2630l32 6 22-22-32 11z"/>
<path fill="#5ca553" d="M5717 2636l27 4 27-13 22-20-27 4-27 3z"/>
<path fill="#497640" d="M5783 2611l32 13 21-8-32-15z"/>
<path fill="#366531" d="M5805 2624l26 29 27 22 22-20-27-17-27-22z"/>
<path fill="#357436" d="M5848 2675l27 21 22 14 27 11 22-20-27-13-22-14-27-19z"/>
<path fill="#215b26" d="M5914 2721l32 26 22-23-32-23z"/>
<path fill="#155322" d="M5936 2747l27 28 22 10 27 2 21-12-27-7-21-15-27-29z"/>
<path fill="#165f26" d="M6002 2787l26-1 27 3 22-8-27-4-27-2z"/>
<path fill="#135525" d="M6045 2789l27 24 27 25 22-23-27-17-27-17z"/>
<path fill="#186e34" d="M6089 2838l32 5 22-30-32 2z"/>
<path fill="#1a7735" d="M6111 2843l32-11 22-22-32 3z"/>
<path fill="#16692d" d="M6133 2832l32 1 22-17-32-6z"/>
<path fill="#0e4f21" d="M6155 2833l32 17 22-14-32-20z"/>
<path fill="#05411e" d="M6177 2850l27 21 21 12 22 5 22 5 22 12 27 12 22-15-27-4-22-7-22-7-22-9-22-16-26-23z"/>
<path fill="#045026" d="M6308 2917l27 6 22 2 27-3 22-12-27 0-22-3-27-5z"/>
<path fill="#074c22" d="M6418 2916l26 3 22 6 27 9 22-9-27-9-22-5-27-2z"/>
<path fill="#024723" d="M6483 2934l27 17 22 13 22 6 22 7 22 4 22 5 21 4 22 5 22 4 22 4 22 4 27 4 22-12-27-4-22-4-22-4-22-5-22-4-22-5-21-4-22-6-22-6-22-6-22-11-27-15z"/>
<path fill="#024c25" d="M6746 3011l27 1 22 1 27 3 21-13-26 0-22-1-27-3z"/>
<path fill="#0b5c28" d="M6855 3005l27-6 22 4 22 6 22 1 22-4 27-1 22-10-27 0-22 3-22-3-22-6-22-3-27 4z"/>
<path fill="#0c5323" d="M6987 3005l32 6 21-8-31-8z"/>
<path fill="#074720" d="M7009 3011l27 11 21 12 22 12 22 13 22 13 27 9 22-16-27-9-22-10-22-11-22-10-22-11-27-11z"/>
<path fill="#b8dda0" d="M3878 2203l32-21 22-31-32 21z"/>
<path fill="#cde6b5" d="M3900 2182l27-13 27-8 21-29-26 3-27 16z"/>
<path fill="#c7deaa" d="M3944 2161l27-3 26 1 22-34-27 6-27 1z"/>
<path fill="#acc08e" d="M3987 2159l32-15 22-12-32-7z"/>
<path fill="#9eb086" d="M4009 2144l32 36 22-34-32-14z"/>
<path fill="#cadeb2" d="M4031 2180l27 14 27-18 22-36-27 6-27 0z"/>
<path fill="#76826a" d="M4075 2176l32 42 22-21-32-57z"/>
<path fill="#374b2f" d="M4097 2218l27 53 27 26 22-8-27-34-27-58z"/>
<path fill="#2a4725" d="M4141 2297l32 22 21 2-31-32z"/>
<path fill="#1d3a1b" d="M4163 2319l31 22 22 18-32-38z"/>
<path fill="#327732" d="M4228 2376l27 1 27 4 22-11-27-12-27 10z"/>
<path fill="#235923" d="M4272 2381l32 1 22 8-32-20z"/>
<path fill="#2b652b" d="M4338 2381l27 16 26 37 22-44-27-6-26-3z"/>
<path fill="#1e5023" d="M4381 2434l32 49 22-44-32-49z"/>
<path fill="#103e1c" d="M4403 2483l32 44 22-32-32-56z"/>
<path fill="#207b35" d="M4622 2547l32-21 22-22-32 11z"/>
<path fill="#135222" d="M4644 2526l32 18 22-6-32-34z"/>
<path fill="#25733a" d="M4754 2558l32 30 21-33-31-21z"/>
<path fill="#0a3415" d="M5038 2598l27 14 27 22 22 1-27-19-27-13z"/>
<path fill="#0a401c" d="M5082 2634l32 27 22-15-32-11z"/>
<path fill="#1f673a" d="M5104 2661l32 23 22-37-32-1z"/>
<path fill="#247846" d="M5126 2684l32 5 22-24-32-18z"/>
<path fill="#147135" d="M5148 2689l27-12 22-7 26 3 22-24-27 2-22 10-26 4z"/>
<path fill="#1d7939" d="M5213 2673l32 0 22-23-32-1z"/>
<path fill="#155a23" d="M5279 2639l32 14 22-13-32 0z"/>
<path fill="#105221" d="M5301 2653l27 22 27 13 22-15-27-14-27-19z"/>
<path fill="#15662a" d="M5345 2688l27-10 27 7 21-27-26 8-27 7z"/>
<path fill="#207136" d="M5389 2685l26 19 27 1 22-21-27-5-27-21z"/>
<path fill="#3a7536" d="M5586 2608l27 14 26 5 22-3-27-10-27-6z"/>
<path fill="#3b7636" d="M5651 2627l32 6 22-11-32 7z"/>
<path fill="#41823c" d="M5673 2633l32 19 22-24-32-6z"/>
<path fill="#4b9746" d="M5695 2652l32 4 22-24-32-4z"/>
<path fill="#58a951" d="M5717 2656l32-14 22-23-32 13z"/>
<path fill="#5e9553" d="M5761 2625l32 15 22-24-32-13z"/>
<path fill="#3e6e38" d="M5783 2640l32 20 21-15-31-29z"/>
<path fill="#2e5d2a" d="M5805 2660l31 12 22-5-32-22z"/>
<path fill="#225623" d="M5826 2672l27 13 22 15 27 20 22-7-27-11-22-14-27-21z"/>
<path fill="#16491d" d="M5892 2720l27 24 27 15 22 8-27-28-27-26z"/>
<path fill="#165c25" d="M5980 2778l32 16 21-16-31 1z"/>
<path fill="#216933" d="M6002 2794l26 18 27 14 22-21-27-24-27-3z"/>
<path fill="#115225" d="M6045 2826l32 21 22-17-32-25z"/>
<path fill="#0e5b29" d="M6067 2847l32 6 22-18-32-5z"/>
<path fill="#146f31" d="M6089 2853l27-3 27-3 22-22-27-1-27 11z"/>
<path fill="#105927" d="M6133 2847l32 7 22-12-32-17z"/>
<path fill="#05441f" d="M6155 2854l27 10 22 12 22 12 21 9 22 12 22 11 27 8 22-13-27-6-22-12-22-12-22-5-22-5-21-12-27-21z"/>
<path fill="#035227" d="M6308 2928l27 3 27-2 22-15-27 3-27-2z"/>
<path fill="#085425" d="M6374 2924l27-5 22-1 26 10 22-11-27-6-21-3-27 2z"/>
<path fill="#064821" d="M6439 2928l27 13 27 13 22-11-27-17-27-9z"/>
<path fill="#014723" d="M6483 2954l27 9 22 12 22 6 22 5 22 4 22 5 22 4 21 4 22 4 27 4 22-12-27-4-22-4-22-4-22-5-21-4-22-5-22-4-22-7-22-6-27-13z"/>
<path fill="#024c25" d="M6702 3011l27 3 22 1 22 1 27 4 22-12-27-3-22-1-22-1-27-4z"/>
<path fill="#055829" d="M6790 3020l27 0 27-7 21-16-27 9-26 2z"/>
<path fill="#0c5e29" d="M6834 3013l26-4 22 1 22 4 22 1 22-1 22-1 27 3 22-13-27-6-22 1-22 4-22-1-22-6-22-4-27 6z"/>
<path fill="#0a4d20" d="M6987 3016l27 7 27 14 21-11-26-12-27-11z"/>
<path fill="#054721" d="M7031 3037l26 16 22 14 22 10 27 8 22-12-27-9-22-13-22-13-27-12z"/>
<path fill="#c6e0af" d="M3900 2193l32-20 22-20-32 8z"/>
<path fill="#bdd1a5" d="M3922 2173l27-4 22 10 26-11 22-32-27 15-21-1-27 3z"/>
<path fill="#97a785" d="M3987 2168l32 35 22-31-32-36z"/>
<path fill="#adc49b" d="M4009 2203l32 25 22-42-32-14z"/>
<path fill="#e2fbcc" d="M4031 2228l32-20 22-40-32 18z"/>
<path fill="#98aa88" d="M4053 2208l32 17 22-15-32-42z"/>
<path fill="#3f5036" d="M4075 2225l32 39 22-1-32-53z"/>
<path fill="#354f2e" d="M4097 2264l27 22 27 23 22 2-27-22-27-26z"/>
<path fill="#2b4826" d="M4141 2309l32 4 21 20-31-22z"/>
<path fill="#1f3b1c" d="M4163 2313l32 32 21 14-32-26z"/>
<path fill="#1f471e" d="M4185 2345l31 33 22-10-32-9z"/>
<path fill="#307430" d="M4206 2378l32 17 22-26-32-1z"/>
<path fill="#3c913c" d="M4228 2395l32-6 22-16-32-4z"/>
<path fill="#387b35" d="M4272 2376l27 14 27-3 22-14-27-1-27 2z"/>
<path fill="#2a6029" d="M4316 2387l32 26 22-24-32-16z"/>
<path fill="#19461c" d="M4338 2413l32 46 21-33-31-37z"/>
<path fill="#0d3a18" d="M4360 2459l27 42 26 27 22-9-27-44-27-49z"/>
<path fill="#155f27" d="M4622 2543l32-5 22-2-32-18z"/>
<path fill="#0f3d18" d="M5016 2591l32 9 22 4-32-14z"/>
<path fill="#082d12" d="M5038 2600l27 22 27 38 22-7-27-27-27-22z"/>
<path fill="#0b3e20" d="M5082 2660l32 40 22-24-32-23z"/>
<path fill="#0c6a30" d="M5148 2702l32-23 22-17-32 7z"/>
<path fill="#186227" d="M5257 2648l32 10 22-13-32-14z"/>
<path fill="#0f4f20" d="M5279 2658l27 22 27 12 22-12-27-13-27-22z"/>
<path fill="#125f27" d="M5323 2692l27-9 27 6 22-12-27-7-27 10z"/>
<path fill="#0f5222" d="M5367 2689l32 15 21-8-31-19z"/>
<path fill="#43813d" d="M5564 2607l27 21 22 5 26-4 22-10-27 0-21-5-27-14z"/>
<path fill="#377233" d="M5629 2629l27 9 22 16 27 8 22-14-27-4-22-19-27-6z"/>
<path fill="#499844" d="M5695 2662l32-5 22-23-32 14z"/>
<path fill="#64b05b" d="M5717 2657l32-7 22-33-32 17z"/>
<path fill="#64a75b" d="M5739 2650l32 11 22-29-32-15z"/>
<path fill="#4a8844" d="M5761 2661l32 6 22-15-32-20z"/>
<path fill="#387134" d="M5783 2667l32-2 21-1-31-12z"/>
<path fill="#295626" d="M5805 2665l32 12 21 0-32-13z"/>
<path fill="#1c5120" d="M5827 2677l26 37 22 16 22 18 27 17 22-14-27-15-22-24-22-20-27-15z"/>
<path fill="#144f1f" d="M5914 2765l27 5 22 8 27 36 22-28-27-16-22-10-27-9z"/>
<path fill="#1e6131" d="M5980 2814l32 30 21-40-31-18z"/>
<path fill="#25723e" d="M6002 2844l32 9 21-35-32-14z"/>
<path fill="#166431" d="M6024 2853l31-5 22-9-32-21z"/>
<path fill="#0b5726" d="M6045 2848l32 10 22-13-32-6z"/>
<path fill="#0d602b" d="M6067 2858l32 6 22-22-32 3z"/>
<path fill="#10672d" d="M6089 2864l27-2 27-6 22-10-27-7-27 3z"/>
<path fill="#0c5021" d="M6133 2856l32 1 22-1-32-10z"/>
<path fill="#05441f" d="M6155 2857l27 14 22 19 22 16 21 10 22 8 27 7 22-11-27-8-22-11-22-12-21-9-22-12-27-12z"/>
<path fill="#034d25" d="M6286 2931l32 3 22-11-32-3z"/>
<path fill="#085527" d="M6330 2933l27-3 22-5 22 6 22 13 27 10 21-21-27-13-21-10-22 1-22 5-27 5z"/>
<path fill="#054922" d="M6440 2954l26 6 27 5 22-10-27-9-27-13z"/>
<path fill="#014823" d="M6483 2965l27 14 22 6 22 5 22 5 22 4 22 4 22 5 21 4 22 3 27 3 22-12-27-3-22-4-22-4-21-4-22-4-22-5-22-4-22-5-22-6-27-12z"/>
<path fill="#034e26" d="M6702 3018l27 1 22 3 22 3 27 0 22-13-27 0-22-4-22-1-27-1z"/>
<path fill="#095d29" d="M6790 3025l27-3 22-1 21-1 22 1 22-1 27 3 22-17-27 1-22-1-22-4-22-1-21 4-27 7z"/>
<path fill="#0e632a" d="M6921 3023l27 1 27 0 22-16-27-3-27 1z"/>
<path fill="#0d5826" d="M6965 3024l32 5 22-14-32-7z"/>
<path fill="#064720" d="M6987 3029l27 14 22 19 22 13 21 7 27 7 22-12-27-8-22-10-22-14-21-16-27-14z"/>
<path fill="#a8ba95" d="M3922 2169l27 18 27-4 21-23-26 11-27-10z"/>
<path fill="#7f9370" d="M3966 2183l27 27 26 31 22-21-27-25-27-35z"/>
<path fill="#a9c496" d="M4031 2231l32 6 22-20-32-17z"/>
<path fill="#637a56" d="M4053 2237l32 32 22-13-32-39z"/>
<path fill="#49653f" d="M4075 2269l32 28 22-19-32-22z"/>
<path fill="#4d7743" d="M4097 2297l27 16 27 0 22-8-27-4-27-23z"/>
<path fill="#203d1d" d="M4163 2312l32 48 21 10-31-33z"/>
<path fill="#235523" d="M4185 2360l31 44 22-17-32-17z"/>
<path fill="#368738" d="M4206 2404l32 3 22-26-32 6z"/>
<path fill="#459d44" d="M4228 2407l32-22 22-17-32 13z"/>
<path fill="#408c3e" d="M4250 2385l32 14 22-17-32-14z"/>
<path fill="#3b8239" d="M4272 2399l32 3 22-23-32 3z"/>
<path fill="#2b662b" d="M4294 2402l32 20 22-17-32-26z"/>
<path fill="#143d18" d="M4316 2422l32 38 22-9-32-46z"/>
<path fill="#093215" d="M4338 2460l27 44 27 42 21-26-26-27-27-42z"/>
<path fill="#124019" d="M4995 2572l32 19 21 1-32-9z"/>
<path fill="#0d3414" d="M5017 2591l31 29 22-6-32-22z"/>
<path fill="#062911" d="M5038 2620l27 32 27 39 22 1-27-40-27-38z"/>
<path fill="#1b712f" d="M5214 2664l26-2 27 8 22-20-27-10-27 14z"/>
<path fill="#145825" d="M5257 2670l32 9 22-7-32-22z"/>
<path fill="#125c25" d="M5301 2680l27 2 27 4 22-5-27-6-27 9z"/>
<path fill="#0f5121" d="M5345 2686l27 6 27 6 22 1-27-3-27-15z"/>
<path fill="#5dae58" d="M5520 2633l32 1 22-35-32 22z"/>
<path fill="#59a253" d="M5542 2634l32 8 22-22-32-21z"/>
<path fill="#2f5e2b" d="M5630 2628l26 14 27 15 22-3-27-8-27-16z"/>
<path fill="#3b7d38" d="M5673 2657l32 7 22-15-32 5z"/>
<path fill="#539e4e" d="M5695 2664l27 3 27 6 22-20-27-11-27 7z"/>
<path fill="#4b9345" d="M5739 2673l32-1 22-13-32-6z"/>
<path fill="#33622e" d="M5783 2664l32 13 22-8-32-12z"/>
<path fill="#1c471d" d="M5805 2677l27 33 26 18 22-6-27-16-26-37z"/>
<path fill="#1a5521" d="M5848 2728l27 25 27 13 22-9-27-17-27-18z"/>
<path fill="#1b5f25" d="M5892 2766l32 1 22-5-32-5z"/>
<path fill="#175521" d="M5914 2767l32 22 22-19-32-8z"/>
<path fill="#0e411c" d="M5936 2789l27 35 27 29 22-17-27-30-27-36z"/>
<path fill="#12582c" d="M5980 2853l32 14 22-22-32-9z"/>
<path fill="#0e622d" d="M6002 2867l27 1 26-5 22-13-27-10-26 5z"/>
<path fill="#0b5b28" d="M6045 2863l27 6 27 0 22-15-27 2-27-6z"/>
<path fill="#0f642b" d="M6089 2869l27-5 27 0 22-15-27-1-27 6z"/>
<path fill="#0d5022" d="M6133 2864l32 6 22-7-32-14z"/>
<path fill="#05411e" d="M6155 2870l27 21 22 18 22 12 27 9 21-14-27-8-21-10-22-16-27-19z"/>
<path fill="#034b24" d="M6243 2930l26 8 27 2 22-14-27-3-27-7z"/>
<path fill="#065326" d="M6286 2940l27-5 22-3 22-1 22 5 27 13 22-13-27-13-22-6-22 5-22 3-27 1z"/>
<path fill="#024923" d="M6396 2949l27 12 22 8 21 1 22 12 22 8 22 4 22 5 22 4 22 5 22 4 22 4 22 3 26 3 22-12-27-3-22-3-21-4-22-5-22-4-22-4-22-5-22-5-22-6-22-14-22-5-21-6-27-10z"/>
<path fill="#034f26" d="M6680 3022l27 3 22 3 22 1 22 0 27-1 22-14-27 3-22 0-22-3-22-3-27-1z"/>
<path fill="#0a5c29" d="M6790 3028l27 1 22-1 22-2 21-2 22 5 22 3 22 1 27 5 22-17-27-5-22 0-22-1-22-3-22 1-22-1-21 1-27 1z"/>
<path fill="#0a4f22" d="M6965 3038l32 11 22-14-32-14z"/>
<path fill="#04431f" d="M6987 3049l27 14 22 13 22 9 26 9 22-13-27-7-21-7-22-13-27-19z"/>
<path fill="#bfd6a9" d="M3878 2199l32-20 22-18-32 10z"/>
<path fill="#a3b590" d="M3900 2179l32 5 22-5-32-18z"/>
<path fill="#92a281" d="M3922 2184l32 6 22-15-32 4z"/>
<path fill="#728165" d="M3944 2190l32 18 22-6-32-27z"/>
<path fill="#596b4d" d="M3966 2208l32 30 21-5-31-31z"/>
<path fill="#829f72" d="M3988 2238l31 17 22-32-32 10z"/>
<path fill="#a4c692" d="M4009 2255l32 25 22-51-32-6z"/>
<path fill="#8db17e" d="M4031 2280l32 23 22-42-32-32z"/>
<path fill="#69985d" d="M4053 2303l27 13 27 13 22-24-27-16-27-28z"/>
<path fill="#6fa863" d="M4097 2329l27 3 27 1 22-29-27 1-27 0z"/>
<path fill="#40653a" d="M4141 2333l32 12 22 7-32-48z"/>
<path fill="#1c401b" d="M4163 2345l32 66 21-15-31-44z"/>
<path fill="#2b7030" d="M4185 2411l32 25 21-37-32-3z"/>
<path fill="#45a147" d="M4207 2436l26-20 27-12 22-13-27-14-27 22z"/>
<path fill="#479548" d="M4250 2404l32 16 22-26-32-3z"/>
<path fill="#408543" d="M4272 2420l32 18 22-24-32-20z"/>
<path fill="#235728" d="M4294 2438l32 18 22-4-32-38z"/>
<path fill="#092e13" d="M4316 2456l27 37 27 45 22 0-27-42-27-44z"/>
<path fill="#12451b" d="M4622 2511l27 21 27 29 22-18-27-27-27 6z"/>
<path fill="#1f5e25" d="M4951 2567l32 4 22-7-32 0z"/>
<path fill="#174a1d" d="M4973 2571l32 22 22-10-32-19z"/>
<path fill="#0d3917" d="M4995 2593l27 32 26 22 22-3-27-32-26-29z"/>
<path fill="#062d13" d="M5038 2647l32 17 22 19-32-39z"/>
<path fill="#16662a" d="M5170 2676l27-7 22 7 21 10 22-7 22 3 22 7 22 3 22 10 27 0 22-12-27-6-22-6-22-4-22-2-22-1-22-9-22-8-21 2-27 14z"/>
<path fill="#34963e" d="M5454 2684l32-4 22-34-32 15z"/>
<path fill="#46a74a" d="M5476 2680l32-7 22-48-32 21z"/>
<path fill="#56b456" d="M5498 2673l32-9 22-38-32-1z"/>
<path fill="#51a850" d="M5520 2664l32-9 22-21-32-8z"/>
<path fill="#489a44" d="M5542 2655l32-13 22-13-32 5z"/>
<path fill="#407139" d="M5608 2626l32 6 21 2-31-14z"/>
<path fill="#32612d" d="M5630 2632l26 17 27 17 22-10-27-7-27-15z"/>
<path fill="#3d7e39" d="M5673 2666l32 14 22-21-32-3z"/>
<path fill="#479443" d="M5695 2680l27 3 27-5 22-14-27 1-27-6z"/>
<path fill="#4f9848" d="M5739 2678l32-6 22-16-32 8z"/>
<path fill="#417b3b" d="M5761 2672l32 5 22-8-32-13z"/>
<path fill="#254f23" d="M5783 2677l32 22 22 3-32-33z"/>
<path fill="#19421a" d="M5805 2699l32 33 21-12-31-18z"/>
<path fill="#194d1e" d="M5827 2732l32 25 21-12-32-25z"/>
<path fill="#195823" d="M5849 2757l26 6 22 22 27 21 22-25-27-22-22-1-27-13z"/>
<path fill="#0d401a" d="M5914 2806l32 19 22-9-32-35z"/>
<path fill="#083617" d="M5936 2825l32 27 22-7-32-29z"/>
<path fill="#06421d" d="M5958 2852l32 15 22-8-32-14z"/>
<path fill="#085326" d="M5980 2867l32 8 22-15-32-1z"/>
<path fill="#0a5b28" d="M6002 2875l27-3 27-5 21-6-27-6-26 5z"/>
<path fill="#0d5f29" d="M6067 2868l32 9 22-21-32 5z"/>
<path fill="#146830" d="M6089 2877l27 5 27 1 22-21-27-6-27 0z"/>
<path fill="#0b4e22" d="M6133 2883l32 8 22-8-32-21z"/>
<path fill="#04401e" d="M6155 2891l27 16 22 14 22 10 27 8 21-9-26-8-22-9-22-12-27-18z"/>
<path fill="#034e25" d="M6243 2939l26 4 27-2 22-14-27 5-27-2z"/>
<path fill="#075727" d="M6286 2941l27-4 22 1 27-1 22-9-27-5-22 1-27 3z"/>
<path fill="#024823" d="M6352 2937l27 10 22 16 22 14 22 5 22 1 21 10 22 5 22 5 22 4 22 5 22 4 22 4 27 4 22-13-27-3-22-4-22-4-22-5-22-4-22-5-22-4-22-8-22-12-21-1-22-8-22-12-27-13z"/>
<path fill="#034e25" d="M6637 3024l27 3 21 2 22 2 22 0 22 1 27 0 22-12-27 1-22 0-22-1-22-3-22-3-26-3z"/>
<path fill="#0a5927" d="M6768 3032l27 1 22 0 22-1 22-3 21 3 22 5 22 5 22 5 27 6 22-12-27-11-22-5-22-1-22-3-22-5-21 2-22 2-22 1-27-1z"/>
<path fill="#05411d" d="M6965 3053l27 7 22 11 22 14 27 13 21-12-26-9-22-9-22-13-27-14z"/>
<path fill="#b8cda4" d="M3878 2199l32-14 22-9-32-5z"/>
<path fill="#9aab88" d="M3900 2185l32 10 22-13-32-6z"/>
<path fill="#79896b" d="M3922 2195l32 14 22-9-32-18z"/>
<path fill="#546349" d="M3944 2209l32 27 22-6-32-30z"/>
<path fill="#576d4b" d="M3966 2236l32 45 21-34-31-17z"/>
<path fill="#779c6a" d="M3988 2281l32 44 21-53-32-25z"/>
<path fill="#8bc07f" d="M4010 2325l31 9 22-39-32-23z"/>
<path fill="#7bb670" d="M4031 2334l32 3 22-29-32-13z"/>
<path fill="#61a058" d="M4053 2337l27 12 27 11 22-36-27-3-27-13z"/>
<path fill="#78bd6f" d="M4097 2360l32 4 22-39-32-1z"/>
<path fill="#5c9455" d="M4119 2364l32 12 22-39-32-12z"/>
<path fill="#224921" d="M4141 2376l32 36 22-9-32-66z"/>
<path fill="#1e5323" d="M4163 2412l32 33 22-17-32-25z"/>
<path fill="#33893c" d="M4185 2445l32-2 21-35-31 20z"/>
<path fill="#54b15a" d="M4207 2443l31-2 22-45-32 12z"/>
<path fill="#64b46b" d="M4228 2441l27 17 27 19 22-47-27-18-27-16z"/>
<path fill="#509b5b" d="M4272 2477l32 4 22-33-32-18z"/>
<path fill="#266231" d="M4294 2481l32 9 22-5-32-37z"/>
<path fill="#0a3214" d="M4316 2490l32 27 22 13-32-45z"/>
<path fill="#1b5320" d="M4579 2498l32 16 21-11-31-1z"/>
<path fill="#14431a" d="M4601 2514l32 12 21-2-32-21z"/>
<path fill="#0e3615" d="M4623 2526l31 26 22 1-32-29z"/>
<path fill="#13491d" d="M4798 2562l32 13 21 11-31-25z"/>
<path fill="#256d2b" d="M4907 2569l27 5 27 5 22-16-27-4-27 1z"/>
<path fill="#1b5421" d="M4951 2579l32 23 22-17-32-22z"/>
<path fill="#10481e" d="M4973 2602l27 34 22 24 27 2 21-6-27-17-21-22-27-32z"/>
<path fill="#083b19" d="M5039 2662l31 5 22 9-32-20z"/>
<path fill="#14652a" d="M5148 2676l27 0 22 6 27 15 21-19-26-10-22-7-27 7z"/>
<path fill="#1e7435" d="M5214 2697l27-4 21 7 22 4 22 5 27 9 22-24-27-10-22-3-22-7-22-3-27 7z"/>
<path fill="#1e712c" d="M5389 2695l32 0 22-14-32 6z"/>
<path fill="#257e33" d="M5411 2695l32 4 21-23-31 5z"/>
<path fill="#2d8b3b" d="M5433 2699l31 2 22-29-32 4z"/>
<path fill="#469b43" d="M5520 2659l32-4 22-21-32 13z"/>
<path fill="#5bac54" d="M5542 2655l32-8 22-28-32 15z"/>
<path fill="#6ab461" d="M5564 2647l32 2 22-31-32 1z"/>
<path fill="#65a75c" d="M5586 2649l32-2 22-23-32-6z"/>
<path fill="#4c8445" d="M5608 2647l32 4 21-10-31-17z"/>
<path fill="#346930" d="M5630 2651l27 15 26 15 22-9-27-14-27-17z"/>
<path fill="#387d35" d="M5673 2681l32 13 22-19-32-3z"/>
<path fill="#41903e" d="M5695 2694l32 5 22-29-32 5z"/>
<path fill="#4c9d47" d="M5717 2699l32-10 22-25-32 6z"/>
<path fill="#498e43" d="M5739 2689l32 2 22-22-32-5z"/>
<path fill="#2f642d" d="M5761 2691l32 20 22-20-32-22z"/>
<path fill="#184c1e" d="M5783 2711l27 25 22 21 22 15 26 22 22-17-27-22-21-6-22-25-27-33z"/>
<path fill="#124a1e" d="M5870 2794l32 15 22-11-32-21z"/>
<path fill="#0d411a" d="M5892 2809l32 13 22-5-32-19z"/>
<path fill="#073818" d="M5914 2822l27 34 27 16 22-13-27-15-27-27z"/>
<path fill="#064a21" d="M5958 2872l32 3 22-8-32-8z"/>
<path fill="#085626" d="M5980 2875l32 0 22-11-32 3z"/>
<path fill="#0c5625" d="M6024 2865l27 9 26 15 22-20-27-9-26-1z"/>
<path fill="#10622e" d="M6067 2889l27 10 22 0 27-3 22-13-27-8-22-1-27-5z"/>
<path fill="#044721" d="M6133 2896l27 14 22 14 22 5 22 10 22 5 27 1 21-12-27 2-21-4-22-8-22-10-22-14-27-16z"/>
<path fill="#075627" d="M6265 2945l26-1 22 1 22 5 27 2 22-13-27-10-22 1-22-1-27 4z"/>
<path fill="#024723" d="M6352 2952l27 15 22 15 22 6 22 3 22 5 21 6 22 5 22 4 22 5 22 4 22 4 22 4 27 3 22-12-27-3-22-4-22-4-22-4-22-5-22-4-22-5-22-5-21-10-22-1-22-5-22-14-27-16z"/>
<path fill="#045026" d="M6637 3031l27 3 22 2 21 0 22-1 22 1 27 3 22-14-27-1-22 0-22-1-22 0-22-2-26-2z"/>
<path fill="#0a5927" d="M6768 3039l27 0 22-2 22-1 22 4 22 5 21 6 22 4 22 1 27 3 22-7-27-7-22-6-22-5-22-5-22-5-21-3-22 3-22 1-27 0z"/>
<path fill="#05401d" d="M6965 3059l27 11 22 17 27 15 22-12-27-13-22-14-27-11z"/>
<path fill="#288e39" d="M3725 2388l32-13 22-32-32 18z"/>
<path fill="#c2ddaa" d="M3856 2219l32-16 22-26-32 14z"/>
<path fill="#b0c49c" d="M3878 2203l32 3 22-19-32-10z"/>
<path fill="#8c9e7b" d="M3900 2206l32 16 22-21-32-14z"/>
<path fill="#5e6f52" d="M3922 2222l32 28 22-22-32-27z"/>
<path fill="#405537" d="M3944 2250l32 63 22-40-32-45z"/>
<path fill="#4c7545" d="M3966 2313l32 41 22-37-32-44z"/>
<path fill="#64a95c" d="M3988 2354l27 2 26-10 22-17-27-3-26-9z"/>
<path fill="#4b8944" d="M4031 2346l27 3 27 17 22-14-27-11-27-12z"/>
<path fill="#549950" d="M4075 2366l27 17 27 10 22-25-27-12-27-4z"/>
<path fill="#2d652d" d="M4119 2393l32 13 22-2-32-36z"/>
<path fill="#18451b" d="M4141 2406l32 30 22 1-32-33z"/>
<path fill="#206029" d="M4163 2436l32 22 22-23-32 2z"/>
<path fill="#418e4d" d="M4185 2458l32 28 21-53-31 2z"/>
<path fill="#59a568" d="M4207 2486l32 33 21-69-32-17z"/>
<path fill="#62b377" d="M4229 2519l31 18 22-68-32-19z"/>
<path fill="#57b370" d="M4250 2537l32-11 22-53-32-4z"/>
<path fill="#318946" d="M4272 2526l32-18 22-26-32-9z"/>
<path fill="#226126" d="M4557 2498l32 7 22 1-32-16z"/>
<path fill="#0c2d12" d="M4623 2521l31 34 22 15-32-26z"/>
<path fill="#206e2b" d="M4776 2578l32-9 22-2-32-13z"/>
<path fill="#246a2a" d="M4863 2567l27-3 22 13 27 13 22-19-27-5-22-5-27-3z"/>
<path fill="#1b5623" d="M4929 2590l32 25 22-21-32-23z"/>
<path fill="#11451d" d="M4951 2615l32 41 22-28-32-34z"/>
<path fill="#115224" d="M4973 2656l32 18 22-22-32-24z"/>
<path fill="#116029" d="M4995 2674l27-1 27-1 21-13-26-5-27-2z"/>
<path fill="#0c4d21" d="M5039 2672l26 7 27 2 22 8-27-16-27-14z"/>
<path fill="#126028" d="M5104 2676l27 2 22 5 22 7 27 19 22-20-27-15-22-6-22 0-27 12z"/>
<path fill="#186c32" d="M5192 2709l32 7 22-31-32 4z"/>
<path fill="#237d3f" d="M5214 2716l27 3 21 7 22 6 27-8 22-14-27-9-22-5-22-4-26-7z"/>
<path fill="#1a6829" d="M5345 2692l32 10 22-15-32 2z"/>
<path fill="#1f722e" d="M5367 2702l32 8 22-23-32 0z"/>
<path fill="#237c33" d="M5389 2710l32 2 22-21-32-4z"/>
<path fill="#499d47" d="M5498 2662l32 12 22-27-32 4z"/>
<path fill="#5eb45c" d="M5520 2674l32 3 22-38-32 8z"/>
<path fill="#72c76e" d="M5542 2677l27 2 27-2 22-38-27 2-27-2z"/>
<path fill="#62af5b" d="M5586 2677l32-10 22-24-32-4z"/>
<path fill="#45843f" d="M5608 2667l32 1 22-10-32-15z"/>
<path fill="#336f30" d="M5630 2668l27 20 26 8 22-10-27-13-26-15z"/>
<path fill="#398437" d="M5673 2696l32 0 22-5-32-5z"/>
<path fill="#438f3f" d="M5695 2696l27 1 27 2 22-16-27-2-27 10z"/>
<path fill="#347232" d="M5739 2699l32 12 22-8-32-20z"/>
<path fill="#215321" d="M5761 2711l32 19 22-2-32-25z"/>
<path fill="#15471c" d="M5783 2730l27 20 22 14 22 15 27 21 21 1-27-15-21-22-22-15-27-21z"/>
<path fill="#0a3a18" d="M5871 2800l26 26 22 22 27 14 22 2-27-16-22-34-27-13z"/>
<path fill="#074820" d="M5936 2862l32 11 22-6-32-3z"/>
<path fill="#0a5727" d="M5958 2873l27 2 22 0 22 9 22 15 22 10 21-1 22-2 27 13 22-17-27-14-22 3-22 0-22-10-21-15-22-9-22 10-27 0z"/>
<path fill="#044a22" d="M6133 2919l27 11 22 4 22 6 22 6 27 1 22-10-27-1-22-5-22-10-22-5-27-14z"/>
<path fill="#075327" d="M6243 2947l27-1 21 6 22 8 22 6 27 7 22-14-27-15-22-2-22-5-22-1-26 1z"/>
<path fill="#024823" d="M6352 2973l27 9 22 8 22 6 22 6 22 3 22 2 21 7 22 5 22 4 22 5 22 4 22 3 27 5 22-14-27-3-22-3-22-4-22-4-22-4-22-5-22-4-22-5-21-6-22-5-22-3-22-6-27-15z"/>
<path fill="#045227" d="M6637 3040l27 3 22-1 21-2 22 1 27 5 22-15-27-3-22-1-22 1-21 0-27-2z"/>
<path fill="#0a5b29" d="M6746 3046l27 0 22-2 22 2 22 6 22 6 22 2 21 0 22 1 27 4 22-14-27-3-22-1-22-4-21-6-22-5-22-4-22 1-22 2-27 0z"/>
<path fill="#084d22" d="M6943 3065l32 11 22-14-32-11z"/>
<path fill="#04401e" d="M6965 3076l27 16 27 15 22-13-27-15-27-17z"/>
<path fill="#218637" d="M3703 2406l32-11 22-28-32 13z"/>
<path fill="#b8d2a2" d="M3856 2220l32 3 22-25-32-3z"/>
<path fill="#90a67f" d="M3878 2223l32 21 22-30-32-16z"/>
<path fill="#5c7150" d="M3900 2244l32 35 22-37-32-28z"/>
<path fill="#364f2f" d="M3922 2279l32 60 22-34-32-63z"/>
<path fill="#346030" d="M3944 2339l32 31 22-24-32-41z"/>
<path fill="#448c40" d="M3966 2370l32-4 22-18-32-2z"/>
<path fill="#52a04c" d="M3988 2366l32-15 21-13-31 10z"/>
<path fill="#54954c" d="M4010 2351l32 8 21-18-32-3z"/>
<path fill="#4b8746" d="M4032 2359l31 26 22-27-32-17z"/>
<path fill="#529750" d="M4053 2385l32 18 22-28-32-17z"/>
<path fill="#56a456" d="M4075 2403l32 7 22-25-32-10z"/>
<path fill="#438a44" d="M4097 2410l32 13 22-25-32-13z"/>
<path fill="#28612c" d="M4119 2423l32 20 22-15-32-30z"/>
<path fill="#194f23" d="M4141 2443l27 32 27 45 22-42-27-28-27-22z"/>
<path fill="#2e7a30" d="M4469 2490l32 6 22-30-32-1z"/>
<path fill="#29702c" d="M4491 2496l27 6 22 3 22 10 27 2 22-21-27 1-22-7-22-13-27-11z"/>
<path fill="#225f26" d="M4579 2517l32 1 22-5-32-17z"/>
<path fill="#133d18" d="M4601 2518l32 20 21 9-31-34z"/>
<path fill="#28722d" d="M4842 2566l31 2 22-12-32 3z"/>
<path fill="#246829" d="M4863 2568l32 15 22-14-32-13z"/>
<path fill="#205f27" d="M4885 2583l32 25 22-26-32-13z"/>
<path fill="#185122" d="M4907 2608l32 28 22-29-32-25z"/>
<path fill="#0e421c" d="M4929 2636l32 32 22-20-32-41z"/>
<path fill="#0c4c21" d="M4951 2668l32 17 22-19-32-18z"/>
<path fill="#10632c" d="M4973 2685l32 3 22-23-32 1z"/>
<path fill="#13692e" d="M4995 2688l27-3 22 14 22 7 21-7 22-15 27 2 22-11-27-5-22-2-22 5-22-2-21-7-27 1z"/>
<path fill="#0e5223" d="M5126 2686l27 16 22 19 27 4 22-17-27-7-22-19-27-7z"/>
<path fill="#156230" d="M5192 2725l32 19 22-33-32-3z"/>
<path fill="#186c37" d="M5214 2744l27 3 27 2 21-25-27-6-26-7z"/>
<path fill="#1c752e" d="M5301 2718l32-24 22-10-32 13z"/>
<path fill="#1c6b2c" d="M5323 2694l27 18 27 11 22-21-27-8-27-10z"/>
<path fill="#207a33" d="M5367 2723l32 0 22-19-32-2z"/>
<path fill="#318d38" d="M5433 2699l32-8 21-27-31 18z"/>
<path fill="#439c46" d="M5455 2691l26-2 27 9 22-32-27-12-27 10z"/>
<path fill="#4fa553" d="M5498 2698l32 7 22-36-32-3z"/>
<path fill="#5ab65d" d="M5520 2705l27 6 27-2 22-40-27 2-27-2z"/>
<path fill="#52b051" d="M5564 2709l32-17 22-33-32 10z"/>
<path fill="#4e9c49" d="M5586 2692l32-19 22-13-32-1z"/>
<path fill="#367533" d="M5608 2673l27 19 27 13 21-17-26-8-27-20z"/>
<path fill="#3c873a" d="M5652 2705l27 3 21-6 27 9 22-20-27-2-22-1-27 0z"/>
<path fill="#347632" d="M5717 2711l32 12 22-20-32-12z"/>
<path fill="#286428" d="M5739 2723l32 11 22-12-32-19z"/>
<path fill="#1a4e1e" d="M5761 2734l27 9 22 24 27 23 22-19-27-15-22-14-27-20z"/>
<path fill="#12491d" d="M5827 2790l27 21 27 18 21-11-26-26-27-21z"/>
<path fill="#09421c" d="M5871 2829l26 16 22 22 27 14 22-16-27-11-22-14-27-22z"/>
<path fill="#095526" d="M5936 2881l32 5 22-19-32-2z"/>
<path fill="#0e5f2c" d="M5958 2886l27 2 27 6 22-18-27-9-27 0z"/>
<path fill="#085125" d="M6002 2894l27 10 22 7 22 2 21 3 27 8 22-13-27-13-22 2-21 1-22-10-27-15z"/>
<path fill="#044a22" d="M6111 2924l27 10 22 4 22 2 22 8 27 2 22-11-27-1-22-6-22-6-22-4-27-11z"/>
<path fill="#065026" d="M6221 2950l27 0 22 9 22 11 21 10 22 3 27 8 22-17-27-9-22-7-22-6-22-8-21-6-27 1z"/>
<path fill="#024823" d="M6352 2991l27 4 22 3 22 8 22 4 22 2 22 3 21 6 22 5 22 4 22 3 22 5 22 6 27 4 22-13-27-3-22-5-22-3-22-4-22-5-22-4-22-5-21-7-22-2-22-3-22-6-22-6-27-8z"/>
<path fill="#045327" d="M6637 3048l27 0 22-2 22 3 21 7 27-2 22-16-27 0-22-5-22-1-21 2-27 1z"/>
<path fill="#095a29" d="M6746 3054l27-2 22 4 22 8 22 6 22-1 22-3 22 2 26 7 22-18-27-4-22-1-21 0-22-2-22-6-22-6-22-2-27 2z"/>
<path fill="#095125" d="M6921 3075l32 11 22-18-32-11z"/>
<path fill="#054420" d="M6943 3086l27 13 27 12 22-12-27-15-27-16z"/>
<path fill="#bcdea6" d="M3835 2248l31-2 22-31-32-3z"/>
<path fill="#94b083" d="M3856 2246l32 15 22-25-32-21z"/>
<path fill="#56704b" d="M3878 2261l32 42 22-32-32-35z"/>
<path fill="#2f542a" d="M3900 2303l27 41 27 24 22-6-27-31-27-60z"/>
<path fill="#397e37" d="M3944 2368l32 1 22-11-32 4z"/>
<path fill="#559e50" d="M3966 2369l27 5 27 19 22-42-27-8-27 15z"/>
<path fill="#478946" d="M4010 2393l32 30 21-46-31-26z"/>
<path fill="#549e58" d="M4032 2423l31 21 22-49-32-18z"/>
<path fill="#66ba6c" d="M4053 2444l32-1 22-41-32-7z"/>
<path fill="#5eb065" d="M4075 2443l32 13 22-41-32-13z"/>
<path fill="#458c4e" d="M4097 2456l32 17 22-38-32-20z"/>
<path fill="#256030" d="M4119 2473l32 29 22-35-32-32z"/>
<path fill="#29742e" d="M4469 2485l27 15 22 10 22 9 22 7 27 1 22-17-27-1-22-2-22-10-22-3-27-6z"/>
<path fill="#205d25" d="M4579 2527l32 6 22-3-32-20z"/>
<path fill="#123c17" d="M4601 2533l32 22 22 2-32-27z"/>
<path fill="#286f2c" d="M4820 2561l32 17 21-18-31-2z"/>
<path fill="#236429" d="M4842 2578l32 23 21-26-32-15z"/>
<path fill="#1c5925" d="M4864 2601l31 22 22-23-32-25z"/>
<path fill="#144c1f" d="M4885 2623l32 23 22-18-32-28z"/>
<path fill="#0a401b" d="M4907 2646l27 22 27 20 22-11-27-17-27-32z"/>
<path fill="#0c5627" d="M4951 2688l32 14 22-22-32-3z"/>
<path fill="#126a31" d="M4973 2702l27 2 22 7 22 4 22-2 21-8 27-9 22-18-27-2-22 15-21 7-22-7-22-14-27 3z"/>
<path fill="#1f7230" d="M5301 2713l32 9 22-18-32-18z"/>
<path fill="#19662b" d="M5323 2722l32 16 22-23-32-11z"/>
<path fill="#1b7431" d="M5345 2738l32 2 22-25-32 0z"/>
<path fill="#298836" d="M5389 2726l27-14 27-7 22-22-27 8-27 13z"/>
<path fill="#368d3d" d="M5433 2705l27-1 27 4 21-18-27-9-26 2z"/>
<path fill="#34853b" d="M5477 2708l26 9 27 8 22-22-27-6-27-7z"/>
<path fill="#37923f" d="M5520 2725l32 0 22-24-32 2z"/>
<path fill="#3b9c40" d="M5542 2725l32-12 22-29-32 17z"/>
<path fill="#49a648" d="M5564 2713l32-18 22-30-32 19z"/>
<path fill="#489344" d="M5586 2695l32 0 22-11-32-19z"/>
<path fill="#357e35" d="M5608 2695l27 14 27 7 22-16-27-3-27-13z"/>
<path fill="#3d8f3c" d="M5652 2716l32-4 21-18-31 6z"/>
<path fill="#3a8338" d="M5674 2712l31 0 22-9-32-9z"/>
<path fill="#2c6b2c" d="M5695 2712l27 12 27 11 22-9-27-11-27-12z"/>
<path fill="#246026" d="M5739 2735l32 13 22-13-32-9z"/>
<path fill="#1a4e1f" d="M5761 2748l27 19 27 29 22-14-27-23-27-24z"/>
<path fill="#0f4c20" d="M5805 2796l27 26 22 20 22 17 27 11 21-11-27-22-21-16-22-18-27-21z"/>
<path fill="#084c21" d="M5893 2870l26 11 27 14 22-17-27-5-27-14z"/>
<path fill="#0c5c2c" d="M5936 2895l27 8 22 6 27 2 22-15-27-10-22-6-27-2z"/>
<path fill="#075125" d="M6002 2911l32 0 22-8-32-7z"/>
<path fill="#074b21" d="M6046 2911l27 5 27 7 21-7-27-8-26-3z"/>
<path fill="#054620" d="M6090 2923l26 9 27 5 22-7-27-4-27-10z"/>
<path fill="#054922" d="M6155 2938l27 10 27 6 22-12-27-2-27-8z"/>
<path fill="#044c25" d="M6199 2954l27 7 22 7 22 14 22 6 21-3 22 11 22 4 27-2 22-8-27-3-22-4-22-8-22-3-21-10-22-11-22-9-27 0z"/>
<path fill="#024722" d="M6374 2998l27 8 22 6 22 4 22 5 22 4 22 3 21 2 22 5 22 5 22 6 27 4 22-10-27-4-22-6-22-5-22-3-22-4-22-5-21-6-22-3-22-2-22-4-27-8z"/>
<path fill="#055327" d="M6637 3050l27 1 22 6 22 5 21-2 22-1 22 4 22 8 22 6 27 0 22-16-27 1-22-6-22-8-22-4-22 2-22 2-21-7-22-3-27 2z"/>
<path fill="#095b29" d="M6834 3077l27-1 22 3 27 6 21-18-26-7-22-2-27 3z"/>
<path fill="#074d24" d="M6900 3085l26 9 27 10 22-13-27-13-27-11z"/>
<path fill="#034420" d="M6943 3104l32 11 22-12-32-12z"/>
<path fill="#15712f" d="M3659 2427l32-1 22-20-32 4z"/>
<path fill="#bae8a5" d="M3813 2282l32-3 21-41-31 2z"/>
<path fill="#a2c791" d="M3835 2279l31 16 22-42-32-15z"/>
<path fill="#618556" d="M3856 2295l32 38 22-38-32-42z"/>
<path fill="#436d3c" d="M3878 2333l32 20 22-17-32-41z"/>
<path fill="#356831" d="M3900 2353l32 17 22-10-32-24z"/>
<path fill="#367634" d="M3922 2370l32 18 22-27-32-1z"/>
<path fill="#4a9249" d="M3944 2388l27 12 27 15 22-30-27-19-27-5z"/>
<path fill="#34763a" d="M3988 2415l27 24 27 24 21-27-26-21-27-30z"/>
<path fill="#50a15e" d="M4032 2463l32 16 21-44-32 1z"/>
<path fill="#5fb26f" d="M4054 2479l31 14 22-45-32-13z"/>
<path fill="#54a165" d="M4075 2493l32 20 22-48-32-17z"/>
<path fill="#367e4a" d="M4097 2513l32 16 22-35-32-29z"/>
<path fill="#338336" d="M4426 2491l32 16 21-30-31 5z"/>
<path fill="#2d7731" d="M4448 2507l31 4 22-19-32-15z"/>
<path fill="#266e2b" d="M4469 2511l27 1 22 6 22 11 22 11 27 5 22-20-27-6-22-1-22-7-22-9-27-10z"/>
<path fill="#1e5e25" d="M4579 2545l32 6 22-4-32-22z"/>
<path fill="#236227" d="M4776 2562l27 10 27 20 22-22-27-17-27 9z"/>
<path fill="#1a5522" d="M4820 2592l27 22 27 19 21-18-26-22-27-23z"/>
<path fill="#124e20" d="M4864 2633l31 15 22-10-32-23z"/>
<path fill="#0a431c" d="M4885 2648l27 18 22 23 27 23 22-18-27-14-22-20-27-22z"/>
<path fill="#0c5e2c" d="M4951 2712l27 9 22-3 22 1 27 0 22-14-27 2-22-4-22-7-27-2z"/>
<path fill="#0b4c20" d="M5214 2729l32 5 22-2-32 1z"/>
<path fill="#106128" d="M5236 2734l32 3 21-22-31 17z"/>
<path fill="#1d7733" d="M5258 2737l27-5 26 3 22-21-27-9-27 10z"/>
<path fill="#16632a" d="M5301 2735l32 13 22-18-32-16z"/>
<path fill="#298333" d="M5389 2719l27-9 27-1 22-13-27 1-27 7z"/>
<path fill="#28782f" d="M5433 2709l32 1 22-10-32-4z"/>
<path fill="#236e2b" d="M5455 2710l27 8 21 7 27 4 22-12-27 0-22-8-26-9z"/>
<path fill="#2f8936" d="M5520 2729l32 0 22-24-32 12z"/>
<path fill="#43a247" d="M5542 2729l32-6 22-36-32 18z"/>
<path fill="#4fab50" d="M5564 2723l32 0 22-36-32 0z"/>
<path fill="#449744" d="M5586 2723l32-5 22-17-32-14z"/>
<path fill="#3c8e3c" d="M5608 2718l27 6 22-2 27-9 21-9-26 0-22 4-27-7z"/>
<path fill="#357632" d="M5674 2713l32 9 21-6-32-12z"/>
<path fill="#286128" d="M5696 2722l31 12 22-7-32-11z"/>
<path fill="#1f5421" d="M5717 2734l27 20 27 30 22-25-27-19-27-13z"/>
<path fill="#154d1f" d="M5761 2784l27 24 27 15 22-9-27-26-27-29z"/>
<path fill="#0a4a20" d="M5805 2823l27 26 22 20 22 11 22 7 21 13 27 16 22-21-27-8-22-14-21-11-22-11-22-17-27-20z"/>
<path fill="#09592b" d="M5936 2916l27 6 27-4 22-15-27-2-27-6z"/>
<path fill="#084b21" d="M6024 2910l27 3 27 6 22-4-27-7-27-5z"/>
<path fill="#06461f" d="M6068 2919l27 8 21 7 22 3 22 12 27 10 22-13-27-6-22-10-22-1-22-5-26-9z"/>
<path fill="#054b24" d="M6177 2959l27 9 22 11 27 8 22-13-27-14-22-7-27-7z"/>
<path fill="#024420" d="M6287 2987l27 8 26 6 22-9-27-4-27-11z"/>
<path fill="#024822" d="M6352 3001l27 1 22 10 22 9 22 5 22 3 27 1 22-10-27-3-22-4-22-5-22-4-22-6-27-8z"/>
<path fill="#034a23" d="M6506 3030l26 7 22 4 22 2 22 4 22 4 22 6 22 6 27 3 22-12-27-5-22-6-22-1-22 0-22-4-22-6-22-5-27-5z"/>
<path fill="#065326" d="M6681 3066l27 0 22 1 21 2 22 5 22 5 22 4 22 3 22 3 22 5 27 6 21-14-26-9-22-6-22-3-22 1-22 0-22-6-22-8-22-4-22 1-26 2z"/>
<path fill="#044822" d="M6900 3100l27 10 26 11 22-14-27-11-27-10z"/>
<path fill="#116b2c" d="M3638 2436l31-4 22-14-32 1z"/>
<path fill="#76c169" d="M3769 2349l32-27 22-48-32 33z"/>
<path fill="#a8e597" d="M3791 2322l32-4 22-47-32 3z"/>
<path fill="#9dd090" d="M3813 2318l32 15 21-46-31-16z"/>
<path fill="#689a5f" d="M3835 2333l32 31 21-39-32-38z"/>
<path fill="#5a9b56" d="M3857 2364l26 17 27 5 22-24-27-17-27-20z"/>
<path fill="#3c823e" d="M3900 2386l27 10 22 23 27 16 22-28-27-15-22-12-27-18z"/>
<path fill="#2d6f34" d="M3966 2435l32 16 22-20-32-24z"/>
<path fill="#1d5b28" d="M3988 2451l32 31 22-27-32-24z"/>
<path fill="#2b6f3b" d="M4010 2482l32 27 22-38-32-16z"/>
<path fill="#428f5a" d="M4032 2509l27 24 26 14 22-42-27-20-26-14z"/>
<path fill="#1a5220" d="M4273 2489l31 8 22-10-32-3z"/>
<path fill="#16451b" d="M4316 2485l32 19 22 4-32-15z"/>
<path fill="#1a5822" d="M4338 2504l32 23 22-12-32-7z"/>
<path fill="#318837" d="M4382 2522l27-15 27 10 22-18-27-16-27 16z"/>
<path fill="#236428" d="M4470 2509l26 7 22 12 22 16 27 14 22-21-27-5-22-11-22-11-27-6z"/>
<path fill="#1e4e1f" d="M4754 2549l32 14 22 1-32-10z"/>
<path fill="#14451b" d="M4776 2563l27 23 22 27 22 24 27 23 21-20-26-15-22-19-22-22-27-20z"/>
<path fill="#0e4b21" d="M4864 2660l27 22 26 18 22-19-27-23-27-18z"/>
<path fill="#074721" d="M4907 2700l27 17 27 12 22-16-27-9-27-23z"/>
<path fill="#0a5f2c" d="M4951 2729l27 1 22 1 27-3 22-17-27 0-22-1-27 3z"/>
<path fill="#0c652d" d="M5017 2728l32-3 22-16-32 2z"/>
<path fill="#176b2b" d="M5083 2697l31-5 22-13-32 10z"/>
<path fill="#186228" d="M5104 2692l32 0 22-10-32-3z"/>
<path fill="#145221" d="M5126 2692l32 1 22 11-32-22z"/>
<path fill="#0c421b" d="M5192 2717l32 14 22-5-32-5z"/>
<path fill="#0e5422" d="M5214 2731l32 8 22-10-32-3z"/>
<path fill="#15682c" d="M5236 2739l27 5 22 1 26-1 22-4-27-13-21-3-27 5z"/>
<path fill="#288333" d="M5367 2732l27-16 27 1 22-16-27 1-27 9z"/>
<path fill="#287a30" d="M5411 2717l32-3 22-12-32-1z"/>
<path fill="#256f2c" d="M5433 2714l27 1 22 6 22 10 26 9 22-19-27 0-22-4-21-7-27-8z"/>
<path fill="#368f3e" d="M5520 2740l32 4 22-29-32 6z"/>
<path fill="#45a14a" d="M5542 2744l27 3 22-4 27-1 22-26-27-6-22 5-27 0z"/>
<path fill="#439942" d="M5608 2742l27-3 22-7 27-4 22-14-27-9-22 9-27 2z"/>
<path fill="#367834" d="M5674 2728l32 4 21-6-31-12z"/>
<path fill="#215322" d="M5696 2732l31 16 22-2-32-20z"/>
<path fill="#14421a" d="M5717 2748l27 42 27 32 22-22-27-24-27-30z"/>
<path fill="#114c1f" d="M5761 2822l27 15 27 6 22-2-27-26-27-15z"/>
<path fill="#093f1b" d="M5805 2843l27 21 27 16 22-8-27-11-27-20z"/>
<path fill="#06451f" d="M5849 2880l27 12 22 9 27 18 21-11-27-16-21-13-27-7z"/>
<path fill="#085827" d="M5936 2925l27-2 22-8 22 0 22 1 27 1 22-6-27-6-22-3-22 2-22 6-27 4z"/>
<path fill="#064720" d="M6046 2917l27 8 22 7 22 6 21 13 22 14 22 11 27 7 22-12-27-11-22-9-22-10-22-12-22-3-21-7-27-8z"/>
<path fill="#03421f" d="M6265 2983l32 5 22-1-32-8z"/>
<path fill="#034822" d="M6330 2999l27 6 22 13 22 8 22 4 22 2 22 0 22 4 27 6 21-13-26-7-22 0-22-1-22-3-22-5-22-9-22-10-27-1z"/>
<path fill="#034923" d="M6549 3042l27 6 22 8 22 8 22 5 27 4 22-15-27-3-22-6-22-6-22-4-27-4z"/>
<path fill="#045227" d="M6659 3073l27 1 22 1 27 1 21-15-26-2-22-1-27 0z"/>
<path fill="#044821" d="M6812 3090l27 4 22 5 22 9 22 10 27 10 21-15-26-11-22-10-22-6-22-5-27-3z"/>
<path fill="#116b2c" d="M3616 2445l32-9 21-12-31 4z"/>
<path fill="#5db658" d="M3747 2370l32-10 22-46-32 27z"/>
<path fill="#87d47e" d="M3769 2360l32-3 22-47-32 4z"/>
<path fill="#81c37a" d="M3791 2357l32 6 22-38-32-15z"/>
<path fill="#50924f" d="M3813 2363l27 31 27 21 21-42-26-17-27-31z"/>
<path fill="#5eb362" d="M3857 2415l31 7 22-44-32-5z"/>
<path fill="#4ea051" d="M3878 2422l32-8 22-26-32-10z"/>
<path fill="#32783a" d="M3900 2414l27 23 22 26 27 10 22-30-27-16-22-16-27-23z"/>
<path fill="#1a572a" d="M3966 2473l27 32 27 28 22-32-27-27-27-31z"/>
<path fill="#216126" d="M4251 2480l32 17 21-8-31-8z"/>
<path fill="#26702c" d="M4273 2497l31-5 22-15-32 12z"/>
<path fill="#1f5a23" d="M4294 2492l32 8 22-4-32-19z"/>
<path fill="#184f1f" d="M4316 2500l32 39 22-20-32-23z"/>
<path fill="#276628" d="M4426 2497l27 8 27 11 21-8-26-7-27-3z"/>
<path fill="#205a23" d="M4470 2516l26 15 27 11 22-6-27-16-27-12z"/>
<path fill="#153716" d="M4754 2543l27 24 27 33 22 5-27-27-27-23z"/>
<path fill="#0e3816" d="M4798 2600l27 37 27 34 22-19-27-23-27-24z"/>
<path fill="#094a22" d="M4842 2671l27 28 22 15 21 6 22 11 27 12 22-21-27-1-22-12-22-17-21-18-27-22z"/>
<path fill="#0b6130" d="M4951 2743l27 6 27-3 22-26-27 3-27-1z"/>
<path fill="#0b672f" d="M4995 2746l32-11 22-18-32 3z"/>
<path fill="#177430" d="M5039 2722l27-14 27-3 21-21-26 5-27 16z"/>
<path fill="#247b38" d="M5083 2705l27 11 21 7 27-7 22-23-27-8-22-1-27 0z"/>
<path fill="#175e27" d="M5148 2716l32-10 22 3-32-16z"/>
<path fill="#104d1f" d="M5170 2706l27 17 27 16 22-8-27-8-27-14z"/>
<path fill="#105925" d="M5214 2739l32 10 22-13-32-5z"/>
<path fill="#12652a" d="M5236 2749l32 4 22-16-32-1z"/>
<path fill="#186c2c" d="M5302 2743l31 15 22-24-32 3z"/>
<path fill="#298132" d="M5367 2730l27-6 27-6 22-12-27 3-27-1z"/>
<path fill="#2a7a32" d="M5411 2718l27 6 22 13 22 2 22 9 26 6 22-18-27-4-21-9-22-10-22-6-27-1z"/>
<path fill="#368e40" d="M5520 2754l32 8 22-23-32-3z"/>
<path fill="#3c9a46" d="M5542 2762l27 3 27-4 22-27-27 1-27 4z"/>
<path fill="#49a64b" d="M5630 2757l32-1 22-36-32 4z"/>
<path fill="#419742" d="M5652 2756l32-5 22-27-32-4z"/>
<path fill="#2c6b2c" d="M5674 2751l32-1 21-10-31-16z"/>
<path fill="#163f19" d="M5696 2750l32 26 21 6-32-42z"/>
<path fill="#0f3414" d="M5718 2776l31 36 22 2-32-32z"/>
<path fill="#0e4019" d="M5739 2812l32 23 22-6-32-15z"/>
<path fill="#0e491e" d="M5761 2835l27 13 27 8 22 0-27-21-27-6z"/>
<path fill="#073e1b" d="M5805 2856l27 14 22 21 22 12 27 7 22 1-27-18-22-9-22-12-27-16z"/>
<path fill="#0a5c29" d="M5936 2922l27 6 22 1 22-1 22-2 27-1 22-8-27-8-22-1-22-1-22 0-27 8z"/>
<path fill="#084b21" d="M6046 2925l27 8 22 8 27 13 21-11-26-13-22-6-27-7z"/>
<path fill="#04431f" d="M6112 2954l26 15 27 10 22-11-27-11-27-14z"/>
<path fill="#034620" d="M6243 2977l27 6 22 7 22 4 22 10 21 12 22 8 22 4 22 3 22 3 22 5 27 3 22-8-27-6-22-4-22 0-22-2-22-4-22-8-22-13-22-6-21-3-22-8-27-5z"/>
<path fill="#044a23" d="M6528 3041l26 7 22 8 22 7 22 7 22 4 22 1 27 0 22-8-27-1-22-1-22-4-22-5-22-8-22-8-27-6z"/>
<path fill="#05441e" d="M6747 3070l26 2 22 3 22 4 22 8 22 13 22 12 27 9 22-1-27-10-22-10-22-9-22-5-22-4-22-5-27-5z"/>
<path fill="#49a94a" d="M3725 2389l32-11 22-26-32 10z"/>
<path fill="#5db65b" d="M3747 2378l32 2 22-31-32 3z"/>
<path fill="#5aa758" d="M3769 2380l32 4 22-29-32-6z"/>
<path fill="#397a39" d="M3791 2384l32 19 22-17-32-31z"/>
<path fill="#2a672e" d="M3813 2403l32 25 22-21-32-21z"/>
<path fill="#35813d" d="M3835 2428l32 13 21-27-31-7z"/>
<path fill="#3c9244" d="M3857 2441l32-4 21-31-32 8z"/>
<path fill="#2d7635" d="M3879 2437l31 16 22-24-32-23z"/>
<path fill="#256933" d="M3900 2453l27 32 27 12 22-32-27-10-27-26z"/>
<path fill="#1b5b2d" d="M3944 2497l32 30 22-30-32-32z"/>
<path fill="#114f27" d="M3966 2527l32 24 22-26-32-28z"/>
<path fill="#266729" d="M4207 2473l32 4 22-5-32-3z"/>
<path fill="#215d24" d="M4229 2477l32 19 22-7-32-17z"/>
<path fill="#236628" d="M4251 2496l27 6 27 6 21-16-27-8-26 5z"/>
<path fill="#30722f" d="M4404 2496l32 7 22-6-32-8z"/>
<path fill="#256127" d="M4426 2503l27 16 27 9 21-5-26-15-27-11z"/>
<path fill="#1f5822" d="M4470 2528l32 12 21-6-32-11z"/>
<path fill="#43853e" d="M4667 2539l27-3 26 3 22-16-27 1-26 3z"/>
<path fill="#397035" d="M4710 2539l32 14 22-18-32-12z"/>
<path fill="#275625" d="M4732 2553l32 18 22-12-32-24z"/>
<path fill="#183f19" d="M4754 2571l32 24 22-3-32-33z"/>
<path fill="#0b3315" d="M4776 2595l27 42 22 40 27 29 22-15-27-28-22-34-27-37z"/>
<path fill="#064721" d="M4842 2706l27 12 22 4 22 13 26 17 22-17-27-12-22-11-21-6-27-15z"/>
<path fill="#055028" d="M4929 2752l32 8 22-19-32-6z"/>
<path fill="#065b2d" d="M4951 2760l32-1 22-21-32 3z"/>
<path fill="#177532" d="M5017 2732l27-10 27 1 22-26-27 3-27 14z"/>
<path fill="#207638" d="M5061 2723l27 12 22 9 26-2 22-34-27 7-21-7-27-11z"/>
<path fill="#1f7e37" d="M5126 2742l32-7 22-37-32 10z"/>
<path fill="#1f7132" d="M5148 2735l32 1 22-21-32-17z"/>
<path fill="#14612a" d="M5170 2736l27 10 22 10 27 7 22-18-27-4-22-10-27-16z"/>
<path fill="#15662a" d="M5258 2765l27-10 27 15 21-20-26-15-27 8z"/>
<path fill="#298333" d="M5345 2740l27-12 27-1 22-17-27 6-27 6z"/>
<path fill="#2a7a33" d="M5389 2727l27 10 22 14 22 5 27 9 22-25-27-9-22-2-22-13-27-6z"/>
<path fill="#2d843b" d="M5477 2765l27 13 22 4 26-1 22-24-27-3-22-8-26-6z"/>
<path fill="#1b481c" d="M5674 2747l32 26 22-5-32-26z"/>
<path fill="#0f3715" d="M5696 2773l27 33 26 19 22 2-27-23-26-36z"/>
<path fill="#0c441c" d="M5739 2825l27 23 22 16 22 7 27 10 22 2-27-21-22-14-22-8-27-13z"/>
<path fill="#0a5827" d="M5958 2936l27-3 22-2 22 0 27 7 22-13-27-8-22 1-22 2-27 1z"/>
<path fill="#084c21" d="M6046 2938l27 10 27 9 22-11-27-13-27-8z"/>
<path fill="#04421e" d="M6090 2957l27 13 27 10 21-9-27-10-26-15z"/>
<path fill="#074c22" d="M6199 2983l27-4 27 4 22-8-27-6-27-1z"/>
<path fill="#044821" d="M6243 2983l27 11 22 6 22 6 22 8 21 8 22 5 22 8 22 5 22 2 22 0 22 0 22 2 27 8 21-12-26-7-22-1-22 2-22-3-22-5-22-3-22-3-22-4-22-8-21-12-22-10-22-4-27-7z"/>
<path fill="#044922" d="M6528 3052l27 8 21 8 22 7 22 5 27 2 22-15-27-1-22-4-22-7-22-7-27-8z"/>
<path fill="#085024" d="M6637 3082l27-1 22-3 22-2 22-1 22 0 21 2 22 10 22 12 22 12 22 15 27 10 22-23-27-9-22-12-22-13-22-8-22-4-22-3-21-2-22 0-22 3-22 2-27 0z"/>
<path fill="#3b9c41" d="M3703 2407l32-5 22-32-32 11z"/>
<path fill="#44a147" d="M3725 2402l32-11 22-19-32-2z"/>
<path fill="#429644" d="M3747 2391l32 9 22-24-32-4z"/>
<path fill="#38823b" d="M3769 2400l32 10 22-15-32-19z"/>
<path fill="#24692c" d="M3791 2410l27 6 22 18 22 12 27 24 21-25-26-16-22 4-22-13-27-25z"/>
<path fill="#165527" d="M3879 2470l26 29 22 17 27 30 22-27-27-30-22-12-27-32z"/>
<path fill="#0b4a24" d="M3944 2546l32 18 22-21-32-24z"/>
<path fill="#246227" d="M4185 2465l27 15 22 12 22 2 27 19 22-13-27-6-22-6-22-19-27-4z"/>
<path fill="#368035" d="M4382 2507l32-1 22-11-32-7z"/>
<path fill="#286629" d="M4404 2506l27 15 27 9 22-10-27-9-27-16z"/>
<path fill="#225c24" d="M4448 2530l32 9 22-7-32-12z"/>
<path fill="#1b4e1e" d="M4470 2539l32 13 21-1-31-19z"/>
<path fill="#3e893b" d="M4623 2543l32 3 22-15-32 8z"/>
<path fill="#4b9447" d="M4645 2546l27 5 22 6 27 11 21-23-27-14-21-3-27 3z"/>
<path fill="#387837" d="M4711 2568l31 13 22-18-32-18z"/>
<path fill="#235925" d="M4732 2581l32 25 22-19-32-24z"/>
<path fill="#133d18" d="M4754 2606l32 32 22-9-32-42z"/>
<path fill="#082e13" d="M4776 2638l27 35 27 28 22-3-27-29-27-40z"/>
<path fill="#063a19" d="M4820 2701l32 11 22-2-32-12z"/>
<path fill="#044420" d="M4842 2712l27 18 22 14 22 13 26 6 22-11-27-8-21-17-22-13-27-4z"/>
<path fill="#0b672e" d="M4973 2755l32-10 22-21-32 14z"/>
<path fill="#177535" d="M4995 2745l27-6 27-1 22-23-27-1-27 10z"/>
<path fill="#15692e" d="M5039 2738l32-2 22-9-32-12z"/>
<path fill="#11632a" d="M5083 2737l32 6 21-9-31 2z"/>
<path fill="#1b7034" d="M5105 2743l27 8 21 6 22 10 22 6 27 3 22-21-27-7-22-10-22-10-22-1-27 7z"/>
<path fill="#2a8535" d="M5324 2744l26-4 27 1 22-22-27 1-27 12z"/>
<path fill="#26752f" d="M5367 2741l32 1 22-13-32-10z"/>
<path fill="#20682a" d="M5389 2742l27 14 27 15 22-23-27-5-27-14z"/>
<path fill="#257b35" d="M5433 2771l27 13 22 6 22-4 27 7 21-20-26 1-22-4-22-13-27-9z"/>
<path fill="#1e491e" d="M5652 2731l32 36 22-2-32-26z"/>
<path fill="#123615" d="M5674 2767l32 43 22-12-32-33z"/>
<path fill="#12431a" d="M5696 2810l32 30 21-23-31-19z"/>
<path fill="#0e491e" d="M5718 2840l27 4 21 12 22 10 27 6 22 1-27-10-22-7-22-16-27-23z"/>
<path fill="#0a3d19" d="M5805 2872l32 10 22 6-32-15z"/>
<path fill="#095023" d="M5980 2927l27 8 22 11 22 8 27 4 22-9-27-9-22-10-22-7-27 0z"/>
<path fill="#05421e" d="M6068 2958l27 8 27 10 22-4-27-10-27-13z"/>
<path fill="#054620" d="M6221 2976l27 14 22 10 22 9 22 7 22 6 22 5 21 8 22 5 27 3 22-9-27-2-22-5-22-8-22-5-21-8-22-8-22-6-22-6-27-11z"/>
<path fill="#044922" d="M6484 3043l27 8 22 11 22 9 21 6 22 4 22 1 27-1 22-8-27 1-22-2-22-5-22-7-21-8-22-8-27-8z"/>
<path fill="#095427" d="M6637 3081l27 0 22-1 22 0 22 1 22 5 22 11 21 14 22 14 22 11 27 14 22-22-27-10-22-15-22-12-22-12-22-10-21-2-22 0-22 1-22 2-27 3z"/>
<path fill="#2c8a37" d="M3660 2428l27-9 26-4 22-21-27 5-26 12z"/>
<path fill="#38903d" d="M3703 2415l27 1 27-2 22-22-27-9-27 11z"/>
<path fill="#3a8740" d="M3747 2414l32 29 22-41-32-10z"/>
<path fill="#3f8f49" d="M3769 2443l27 11 27 3 22-31-27-18-27-6z"/>
<path fill="#2a7435" d="M3813 2457l32 7 22-26-32-12z"/>
<path fill="#1d5e29" d="M3835 2464l32 24 22-26-32-24z"/>
<path fill="#124f23" d="M3857 2488l27 28 27 20 21-28-27-17-26-29z"/>
<path fill="#0a4520" d="M3901 2536l31 17 22-15-32-30z"/>
<path fill="#3d8b3c" d="M4141 2474l32-7 22-10-32-2z"/>
<path fill="#317431" d="M4163 2467l32 12 22-7-32-15z"/>
<path fill="#246628" d="M4185 2479l27 15 22 14 22 9 27-4 22 3-27-11-22-19-22-2-27-12z"/>
<path fill="#338034" d="M4338 2518l27-3 27-4 22-13-27 1-27 9z"/>
<path fill="#2e702e" d="M4382 2511l32 10 22-8-32-15z"/>
<path fill="#266126" d="M4404 2521l27 5 27 6 22-1-27-9-27-9z"/>
<path fill="#1f5421" d="M4448 2532l27 9 27 5 21 8-26-10-27-13z"/>
<path fill="#3a7e37" d="M4579 2541l32 3 22-9-32 5z"/>
<path fill="#40883d" d="M4601 2544l32 13 22-19-32-3z"/>
<path fill="#499648" d="M4623 2557l27 11 22 8 27 16 22-32-27-11-22-6-27-5z"/>
<path fill="#3a813c" d="M4689 2592l32 15 21-34-31-13z"/>
<path fill="#2a6a2f" d="M4711 2607l31 21 22-30-32-25z"/>
<path fill="#1a5222" d="M4732 2628l32 19 22-17-32-32z"/>
<path fill="#0f3e19" d="M4754 2647l32 21 22-3-32-35z"/>
<path fill="#073818" d="M4776 2668l27 23 22 22 27 23 22-14-27-18-22-11-27-28z"/>
<path fill="#054f25" d="M4930 2756l31 3 22-12-32 8z"/>
<path fill="#0c632f" d="M4951 2759l32 6 22-28-32 10z"/>
<path fill="#137236" d="M4973 2765l27-3 27-12 22-20-27 1-27 6z"/>
<path fill="#12652d" d="M5017 2750l27-3 22 7 22 3 22 5 22 10 21 11 22 3 27-2 22-16-27-3-22-6-22-10-21-6-22-8-22-6-22-1-27 2z"/>
<path fill="#1e6b2b" d="M5280 2739l32 12 22-15-32 10z"/>
<path fill="#288035" d="M5302 2751l27 10 21-8 27-9 22-10-27-1-22-1-26 4z"/>
<path fill="#1c6027" d="M5367 2744l27 12 22 26 27 16 22-22-27-13-22-15-27-14z"/>
<path fill="#1e7331" d="M5433 2798l27 0 27 8 22-28-27 4-27-6z"/>
<path fill="#227a35" d="M5477 2806l32 3 22-24-32-7z"/>
<path fill="#3e7e3a" d="M5608 2739l32 1 22-17-32 14z"/>
<path fill="#295627" d="M5630 2740l32 21 22-2-32-36z"/>
<path fill="#123314" d="M5652 2761l32 50 22-9-32-43z"/>
<path fill="#103c18" d="M5674 2811l32 35 22-14-32-30z"/>
<path fill="#115020" d="M5696 2846l27 8 22-4 21 11 22 9 27 10 22-6-27-10-22-6-22-10-21-12-27-4z"/>
<path fill="#094c21" d="M5937 2914l27 8 21 15 22 12 22 7 22 3 22 2 27 8 22-1-27-10-22-8-22-4-22-8-22-11-22-8-27-1z"/>
<path fill="#0a5022" d="M6177 2973l32 2 22-7-32 1z"/>
<path fill="#06461f" d="M6199 2975l27 9 22 14 22 11 22 7 22 5 22 7 22 7 26 6 22-9-27-5-21-8-22-5-22-6-22-7-22-9-22-10-27-14z"/>
<path fill="#074e23" d="M6440 3041l27 6 27 6 22-10-27-8-27-1z"/>
<path fill="#044821" d="M6484 3053l27 9 22 10 22 4 22 4 26 1 22-7-27-1-22-4-21-6-22-9-27-11z"/>
<path fill="#0a5828" d="M6637 3084l27 1 22 2 22 3 22 7 27 10 22-18-27-11-22-5-22-1-22 0-27 1z"/>
<path fill="#064923" d="M6747 3107l27 12 21 15 27 16 22-22-27-11-22-14-26-14z"/>
<path fill="#19772f" d="M3594 2454l32-9 22-16-32 8z"/>
<path fill="#2a8133" d="M3660 2428l27-8 27 1 21-13-27-1-26 4z"/>
<path fill="#2a7631" d="M3704 2421l31 10 22-25-32 2z"/>
<path fill="#286c31" d="M3725 2431l32 31 22-27-32-29z"/>
<path fill="#348042" d="M3747 2462l32 16 22-32-32-11z"/>
<path fill="#39914a" d="M3769 2478l32 1 22-30-32-3z"/>
<path fill="#287a38" d="M3791 2479l32 1 22-24-32-7z"/>
<path fill="#195a28" d="M3813 2480l32 29 22-29-32-24z"/>
<path fill="#0d4a21" d="M3835 2509l27 22 27 7 22-10-27-20-27-28z"/>
<path fill="#073e1b" d="M3879 2538l32 5 21 2-31-17z"/>
<path fill="#3a933f" d="M4098 2496l32 6 21-36-32 6z"/>
<path fill="#4da54f" d="M4120 2502l26-3 27-1 22-27-27-12-27 7z"/>
<path fill="#3e8b41" d="M4163 2498l32 4 22-16-32-15z"/>
<path fill="#317d35" d="M4185 2502l32 3 22-5-32-14z"/>
<path fill="#29712d" d="M4207 2505l32 7 22-3-32-9z"/>
<path fill="#2c6a2b" d="M4295 2498l32 3 21 9-31-11z"/>
<path fill="#235723" d="M4426 2522l32 13 22-2-32-9z"/>
<path fill="#266127" d="M4448 2535l32 12 22-9-32-5z"/>
<path fill="#2e742f" d="M4470 2547l32 0 22-13-32 4z"/>
<path fill="#398137" d="M4492 2547l27-3 26 5 22-16-27-1-26 2z"/>
<path fill="#458f43" d="M4535 2549l32 5 22-21-32 0z"/>
<path fill="#4d9b4d" d="M4557 2554l27 13 22 12 22 9 27 10 22-30-27-8-22-11-22-13-27-3z"/>
<path fill="#3b883f" d="M4645 2598l32 8 22-22-32-16z"/>
<path fill="#2b6f30" d="M4667 2606l32 11 22-18-32-15z"/>
<path fill="#1e5c27" d="M4689 2617l27 23 27 21 21-22-27-19-26-21z"/>
<path fill="#145123" d="M4733 2661l26 21 27 17 22-16-27-23-27-21z"/>
<path fill="#08441f" d="M4776 2699l27 23 22 14 27 5 22 0-27-13-22-23-27-22z"/>
<path fill="#05441f" d="M4908 2747l32 23 21-19-31-3z"/>
<path fill="#09562b" d="M4930 2770l31 11 22-24-32-6z"/>
<path fill="#0c6532" d="M4951 2781l32-4 22-23-32 3z"/>
<path fill="#10662d" d="M4995 2761l27 0 22 4 27 2 22-18-27-3-22-7-27 3z"/>
<path fill="#177531" d="M5192 2781l32-5 22-26-32 16z"/>
<path fill="#26873c" d="M5214 2776l32-7 22-33-32 14z"/>
<path fill="#358e46" d="M5236 2769l27-2 27 4 22-28-27-12-27 5z"/>
<path fill="#2a843c" d="M5280 2771l32 1 22-19-32-10z"/>
<path fill="#257d31" d="M5324 2763l32-12 21-15-32 9z"/>
<path fill="#1f6527" d="M5346 2751l31 14 22-17-32-12z"/>
<path fill="#165523" d="M5367 2765l27 27 27 16 22-18-27-16-27-26z"/>
<path fill="#196a2d" d="M5411 2808l27 0 27 12 22-22-27-8-27 0z"/>
<path fill="#1c7432" d="M5455 2820l32 0 22-19-32-3z"/>
<path fill="#439541" d="M5564 2756l32-5 22-20-32 12z"/>
<path fill="#4f9a4b" d="M5586 2751l32 10 22-29-32-1z"/>
<path fill="#397537" d="M5608 2761l32 7 22-15-32-21z"/>
<path fill="#173f19" d="M5630 2768l32 33 22 2-32-50z"/>
<path fill="#0e3213" d="M5652 2801l32 28 22 9-32-35z"/>
<path fill="#135924" d="M5696 2845l27 8 22 15 22 8 26 4 22-8-27-10-22-9-21-11-27 4z"/>
<path fill="#0a4e21" d="M5893 2905l27 9 22 10 22 18 21 14 22 6 22 2 22 2 27 3 22-8-27-8-22-2-22-3-22-7-22-12-21-15-22-8-27 0z"/>
<path fill="#0b5524" d="M6112 2971l32 1 22-7-32-1z"/>
<path fill="#0b5122" d="M6156 2973l26 4 27 8 22-9-27-9-27-2z"/>
<path fill="#064720" d="M6199 2985l27 13 22 12 22 5 22 4 22 8 22 10 27 4 21-8-26-6-22-7-22-7-22-5-22-7-22-11-27-14z"/>
<path fill="#064e23" d="M6396 3040l27 4 22 9 22 7 22 6 22 7 22 4 22 4 22 2 21 3 22 5 27 2 22-16-27-1-22-2-22-1-21-1-22-4-22-4-22-10-22-9-22-6-22-6-27 2z"/>
<path fill="#095728" d="M6637 3093l27 2 22 6 22 7 27 8 22-17-27-10-22-7-22-3-27-2z"/>
<path fill="#054923" d="M6725 3116l27 13 27 9 21-12-26-15-27-12z"/>
<path fill="#024321" d="M6769 3138l32 16 21-12-32-16z"/>
<path fill="#15722f" d="M3550 2471l27-8 27-9 22-17-27 9-27 8z"/>
<path fill="#278333" d="M3638 2437l32-9 22-16-32 8z"/>
<path fill="#27772f" d="M3660 2428l32-8 22-7-32-1z"/>
<path fill="#206127" d="M3682 2420l32 24 21-21-31-10z"/>
<path fill="#185925" d="M3704 2444l26 26 27 14 22-14-27-16-27-31z"/>
<path fill="#1b6c2d" d="M3747 2484l27 4 27-1 22-15-27-1-27-1z"/>
<path fill="#114e21" d="M3791 2487l32 31 22-17-32-29z"/>
<path fill="#062e13" d="M3879 2526l32 20 21 6-31-17z"/>
<path fill="#28752f" d="M4054 2493l32 9 22-14-32-2z"/>
<path fill="#32833a" d="M4076 2502l32 15 22-23-32-6z"/>
<path fill="#449c4d" d="M4098 2517l32 9 21-35-31 3z"/>
<path fill="#50ac59" d="M4120 2526l26 6 27 3 22-41-27-4-27 1z"/>
<path fill="#3b9643" d="M4163 2535l32-5 22-33-32-3z"/>
<path fill="#2e8234" d="M4185 2530l32-11 22-15-32-7z"/>
<path fill="#3b8839" d="M4273 2518l32-16 22-9-32-3z"/>
<path fill="#326e30" d="M4317 2499l27 10 26 7 22-6-27-6-27-4z"/>
<path fill="#295e27" d="M4404 2512l27 18 27 21 22-12-27-12-27-13z"/>
<path fill="#307a31" d="M4448 2551l32 10 22-22-32 0z"/>
<path fill="#3d913e" d="M4470 2561l32 5 22-30-32 3z"/>
<path fill="#479a47" d="M4492 2566l32 7 21-32-31-5z"/>
<path fill="#51a352" d="M4514 2573l32 12 21-39-32-5z"/>
<path fill="#56a85a" d="M4536 2585l26 12 27 7 22-33-27-12-27-13z"/>
<path fill="#4ca053" d="M4579 2604l32 12 22-36-32-9z"/>
<path fill="#409647" d="M4601 2616l32-2 22-24-32-10z"/>
<path fill="#2e7f35" d="M4623 2614l32-8 22-8-32-8z"/>
<path fill="#206026" d="M4645 2606l32 9 22-6-32-11z"/>
<path fill="#154d20" d="M4667 2615l27 29 22 32 27 29 21-31-26-21-22-21-27-23z"/>
<path fill="#13572a" d="M4733 2705l26 21 27 14 22-26-27-23-27-17z"/>
<path fill="#085125" d="M4776 2740l27 6 27-3 22-10-27-5-27-14z"/>
<path fill="#05411e" d="M4864 2729l27 22 22 26 27 11 21-15-26-11-22-23-27-8z"/>
<path fill="#0b602b" d="M4952 2784l26-12 22-2 22 0 27 3 22-14-27-2-22-4-22 0-27 16z"/>
<path fill="#0c4f21" d="M5149 2771l31 15 22-13-32 0z"/>
<path fill="#13652c" d="M5170 2786l32 11 22-29-32 5z"/>
<path fill="#268241" d="M5192 2797l32 6 22-42-32 7z"/>
<path fill="#379751" d="M5214 2803l27 0 27-4 22-36-27-4-27 2z"/>
<path fill="#25853d" d="M5258 2799l32-10 22-25-32-1z"/>
<path fill="#237b30" d="M5302 2772l32-17 22-12-32 12z"/>
<path fill="#1e6528" d="M5324 2755l32 23 21-21-31-14z"/>
<path fill="#135221" d="M5346 2778l26 21 27 12 22-11-27-16-27-27z"/>
<path fill="#136027" d="M5389 2811l27 3 27 13 22-15-27-12-27 0z"/>
<path fill="#14692b" d="M5433 2827l32-1 22-14-32 0z"/>
<path fill="#218133" d="M5477 2814l32-6 22-22-32 16z"/>
<path fill="#4fa74f" d="M5543 2776l27-2 26 9 22-30-27-10-27 5z"/>
<path fill="#429043" d="M5586 2783l32 1 22-24-32-7z"/>
<path fill="#256027" d="M5608 2784l32 5 22 4-32-33z"/>
<path fill="#133a17" d="M5630 2789l32 18 22 14-32-28z"/>
<path fill="#11421a" d="M5674 2830l32 32 22-17-32-8z"/>
<path fill="#125322" d="M5696 2862l32 17 22-19-32-15z"/>
<path fill="#146228" d="M5718 2879l27 8 27 2 21-17-26-4-27-8z"/>
<path fill="#0e471c" d="M5827 2882l27 12 27 16 22-13-27-5-27-4z"/>
<path fill="#0e5222" d="M5871 2910l27 14 22 10 27 8 22-8-27-18-22-10-27-9z"/>
<path fill="#094d21" d="M5937 2942l27 12 22 6 26 6 22-10-27-2-22-6-26-14z"/>
<path fill="#0a5324" d="M6024 2966l32 2 22-7-32-3z"/>
<path fill="#0b5725" d="M6068 2970l27 3 27 9 22-18-27-1-27-1z"/>
<path fill="#0d5d27" d="M6112 2982l27-1 27-1 21-11-26-4-27-1z"/>
<path fill="#0b4f21" d="M6156 2980l27 7 26 13 22-10-27-13-27-8z"/>
<path fill="#074a21" d="M6199 3000l27 11 22 2 22 5 22 9 22 13 27 5 22-12-27-4-22-10-22-8-22-4-22-5-27-12z"/>
<path fill="#074f23" d="M6331 3045l27-3 22-1 21 8 22 9 22 6 22 4 27 3 22-6-27-7-22-6-22-7-22-9-22-4-21 1-27 0z"/>
<path fill="#064b22" d="M6484 3071l27 4 22 5 22 6 27 7 21-15-26-3-22-2-22-4-27-4z"/>
<path fill="#075226" d="M6572 3093l27 6 21 2 22 2 22 4 22 8 22 11 27 10 22-15-27-13-22-8-22-7-22-6-22-2-22-2-27-5z"/>
<path fill="#054924" d="M6725 3136l32 18 22-24-32-9z"/>
<path fill="#287c30" d="M3638 2437l32-9 22-16-32 8z"/>
<path fill="#1d5b24" d="M3660 2428l32 23 22-15-32-24z"/>
<path fill="#134a1d" d="M3682 2451l32 31 21-20-31-26z"/>
<path fill="#135522" d="M3704 2482l32 6 21-12-32-14z"/>
<path fill="#17652a" d="M3726 2488l26 8 27 3 22-20-27 1-27-4z"/>
<path fill="#125323" d="M3769 2499l32 11 22 0-32-31z"/>
<path fill="#072f14" d="M3857 2512l27 24 27 29 22-3-27-24-27-20z"/>
<path fill="#277f32" d="M3988 2522l27-13 27-8 22-16-27 8-27 11z"/>
<path fill="#277331" d="M4032 2501l27 17 22 16 27 9 22-25-27-9-22-15-27-9z"/>
<path fill="#348c42" d="M4098 2543l27 8 27-2 21-22-27-3-26-6z"/>
<path fill="#438d3f" d="M4273 2510l32-4 22-15-32 3z"/>
<path fill="#3a7636" d="M4295 2506l27-2 27 9 21-5-26-7-27-10z"/>
<path fill="#468540" d="M4360 2512l32 5 22-13-32 0z"/>
<path fill="#397035" d="M4382 2517l32 20 22-15-32-18z"/>
<path fill="#2b642a" d="M4404 2537l32 21 22-15-32-21z"/>
<path fill="#2c702d" d="M4426 2558l32 12 22-17-32-10z"/>
<path fill="#348137" d="M4448 2570l32 11 22-23-32-5z"/>
<path fill="#419247" d="M4470 2581l27 12 27 13 22-29-27-12-27-7z"/>
<path fill="#41944a" d="M4514 2606l27 10 26 9 22-29-27-7-26-12z"/>
<path fill="#328c3e" d="M4557 2625l27 4 27-11 22-12-27 2-27-12z"/>
<path fill="#246628" d="M4623 2603l32 12 22-8-32-9z"/>
<path fill="#15441b" d="M4645 2615l32 39 22-18-32-29z"/>
<path fill="#0d3d1a" d="M4667 2654l27 39 27 27 22-23-27-29-27-32z"/>
<path fill="#0a4c24" d="M4711 2720l27 16 22 10 26 2 22-10-27-6-22-14-26-21z"/>
<path fill="#065326" d="M4776 2748l32 5 22-18-32 3z"/>
<path fill="#0c5f2b" d="M4798 2753l27-4 27-4 22-24-27 3-27 11z"/>
<path fill="#0c4f24" d="M4842 2745l32 15 22-17-32-22z"/>
<path fill="#04401e" d="M4864 2760l27 21 27 10 22-11-27-11-27-26z"/>
<path fill="#095e2a" d="M4930 2789l27-5 21-5 22-6 27 2 22-10-27-3-22 0-22 2-26 12z"/>
<path fill="#0d471d" d="M5105 2754l27 13 22 19 27 17 21-14-27-11-21-15-27-7z"/>
<path fill="#156430" d="M5171 2803l31 10 22-18-32-6z"/>
<path fill="#1b743a" d="M5192 2813l32 2 22-20-32 0z"/>
<path fill="#1d6528" d="M5302 2764l32 25 22-19-32-23z"/>
<path fill="#135522" d="M5324 2789l27 12 22 7 26 11 22-13-27-3-22-12-26-21z"/>
<path fill="#126027" d="M5389 2819l27 10 27-1 22-10-27 1-27-13z"/>
<path fill="#18702d" d="M5433 2828l32 1 22-23-32 12z"/>
<path fill="#1e7d32" d="M5455 2829l32-2 22-27-32 6z"/>
<path fill="#278b38" d="M5477 2827l32-9 22-34-32 16z"/>
<path fill="#379c43" d="M5499 2818l32-11 22-39-32 16z"/>
<path fill="#48a54e" d="M5521 2807l27-8 27 2 21-26-26-9-27 2z"/>
<path fill="#3c9540" d="M5565 2801l31-3 22-22-32-1z"/>
<path fill="#328235" d="M5586 2798l32-6 22-11-32-5z"/>
<path fill="#225b24" d="M5608 2792l32 11 22-4-32-18z"/>
<path fill="#103b17" d="M5630 2803l27 27 22 32 27 16 22-7-27-17-22-32-27-23z"/>
<path fill="#0f5121" d="M5696 2878l32 16 22-15-32-8z"/>
<path fill="#126027" d="M5718 2894l32 0 22-13-32-2z"/>
<path fill="#134e1f" d="M5805 2877l32 12 22-3-32-12z"/>
<path fill="#0e471d" d="M5827 2889l27 23 27 20 22-16-27-14-27-16z"/>
<path fill="#0b5324" d="M5871 2932l27 12 22 6 22 5 22 7 27 6 21-10-26-6-22-6-22-12-22-8-27-10z"/>
<path fill="#0b5524" d="M6024 2967l27 3 22 6 22 9 22 1 22 0 22 7 22 11 26 7 22-8-27-11-21-13-22-7-22 1-22 1-22-9-22-3-27-2z"/>
<path fill="#074b21" d="M6221 3013l27 8 22 9 22 12 27 7 22-12-27-5-22-13-22-9-27-5z"/>
<path fill="#085626" d="M6309 3049l27-1 22 1 27 3 21-11-26-8-22 1-27 3z"/>
<path fill="#064d22" d="M6375 3052l27 7 21 6 22 4 22 2 22 3 22 4 22 8 22 9 22 7 22 3 21 3 22 3 27 7 22-11-27-8-22-4-22-2-21-2-22-6-22-7-22-6-22-5-22-4-22-3-22-4-22-6-27-9z"/>
<path fill="#054622" d="M6659 3118l27 16 27 20 22-26-27-10-27-11z"/>
<path fill="#0c672d" d="M3485 2497l32-8 22-17-32 8z"/>
<path fill="#287f32" d="M3616 2446l32-9 22-17-32 9z"/>
<path fill="#1c5a23" d="M3638 2437l32 11 22-5-32-23z"/>
<path fill="#103e18" d="M3660 2448l32 32 22-6-32-31z"/>
<path fill="#10491d" d="M3682 2480l32 9 22-9-32-6z"/>
<path fill="#135a25" d="M3704 2489l32 18 21-19-31-8z"/>
<path fill="#15652a" d="M3726 2507l26 6 27-3 22-8-27-11-27-3z"/>
<path fill="#145823" d="M3813 2507l32 5 22-8-32-3z"/>
<path fill="#0d3f1a" d="M3835 2512l32 18 22-2-32-24z"/>
<path fill="#072f14" d="M3857 2530l32 27 22 0-32-29z"/>
<path fill="#268233" d="M3966 2531l27-13 27-6 22-19-27 8-27 13z"/>
<path fill="#25712d" d="M4010 2512l32 16 22-18-32-17z"/>
<path fill="#1c6528" d="M4032 2528l27 11 22 1 27 12 22-9-27-8-22-9-27-16z"/>
<path fill="#3c8a3a" d="M4229 2511l32 5 22-14-32 8z"/>
<path fill="#469542" d="M4251 2516l32-5 22-13-32 4z"/>
<path fill="#3e7b39" d="M4295 2501l32 20 22-16-32-9z"/>
<path fill="#488b43" d="M4317 2521l32 14 21-31-31 1z"/>
<path fill="#58a154" d="M4339 2535l32 11 21-37-32-5z"/>
<path fill="#50974e" d="M4361 2546l31 14 22-31-32-20z"/>
<path fill="#3b823c" d="M4382 2560l32 11 22-21-32-21z"/>
<path fill="#2e7a35" d="M4404 2571l27 7 22 14 22 18 22 13 27 8 22-23-27-10-22-13-22-12-22-11-27-12z"/>
<path fill="#277d34" d="M4514 2631l27 4 27 2 21-16-27-4-26-9z"/>
<path fill="#288635" d="M4558 2637l31-6 22-21-32 11z"/>
<path fill="#389440" d="M4579 2631l32-7 22-29-32 15z"/>
<path fill="#36813c" d="M4601 2624l32 17 22-34-32-12z"/>
<path fill="#1c5324" d="M4623 2641l32 24 22-19-32-39z"/>
<path fill="#093717" d="M4645 2665l27 24 22 22 27 19 22-2-27-16-22-27-27-39z"/>
<path fill="#074f23" d="M4776 2746l32 9 22-14-32 4z"/>
<path fill="#0c5829" d="M4798 2755l27 7 27 10 22-20-27-15-27 4z"/>
<path fill="#044520" d="M4842 2772l27 13 27 7 22-9-27-10-27-21z"/>
<path fill="#065b2a" d="M4908 2794l27-2 27-3 21-18-26 5-27 5z"/>
<path fill="#0b5f29" d="M4952 2789l27-8 26-5 22-9-27-2-27 6z"/>
<path fill="#156428" d="M5061 2761l32-6 22-9-32 6z"/>
<path fill="#125321" d="M5083 2755l32 12 22-8-32-13z"/>
<path fill="#0b3f1a" d="M5105 2767l27 15 27 22 22-9-27-17-27-19z"/>
<path fill="#0a4a20" d="M5149 2804l32 21 21-20-31-10z"/>
<path fill="#238034" d="M5258 2793l32-15 22-22-32 13z"/>
<path fill="#1e6a2b" d="M5280 2778l32 16 22-13-32-25z"/>
<path fill="#145c25" d="M5302 2794l27 7 22 16 22 10 26 6 22-12-27-10-21-11-22-7-27-12z"/>
<path fill="#14672a" d="M5389 2833l27 2 27-1 22-13-27-1-27 1z"/>
<path fill="#19722e" d="M5433 2834l32 0 22-15-32 2z"/>
<path fill="#207e33" d="M5455 2834l32-1 22-23-32 9z"/>
<path fill="#2b8d3c" d="M5477 2833l32-4 22-30-32 11z"/>
<path fill="#36943f" d="M5499 2829l27-9 22-7 22-3 27 2 21-28-27 6-21 3-22-2-27 8z"/>
<path fill="#338238" d="M5587 2812l31 3 22-20-32-11z"/>
<path fill="#1e5723" d="M5608 2815l32 11 22-4-32-27z"/>
<path fill="#0e3715" d="M5630 2826l27 24 27 14 22 6-27-16-27-32z"/>
<path fill="#1c712d" d="M5740 2888l27 5 27 0 21-24-26 0-27 3z"/>
<path fill="#196327" d="M5784 2893l31 1 22-13-32-12z"/>
<path fill="#10481d" d="M5805 2894l32 14 22-4-32-23z"/>
<path fill="#0b421b" d="M5827 2908l27 24 27 17 22-13-27-12-27-20z"/>
<path fill="#0b5524" d="M5871 2949l27 11 22 5 22 1 27-1 22-5-27-6-22-7-22-5-27-6z"/>
<path fill="#0c5424" d="M5981 2966l27 4 21 5 22 4 22 3 22 3 22 5 22 8 22 7 22 5 27 3 21-8-27-2-21-7-22-11-22-7-22 0-22-1-22-9-22-6-22-3-27-2z"/>
<path fill="#074c21" d="M6200 3013l26 7 22 12 22 12 22 9 27 3 22-16-27 1-22-7-22-12-22-9-27-8z"/>
<path fill="#085928" d="M6309 3056l27 2 27-2 22-12-27-3-27-1z"/>
<path fill="#084d22" d="M6353 3056l27-1 22 6 21 8 22 4 22 2 22 3 27 7 22-7-27-8-22-4-22-3-22-2-22-4-21-6-27-7z"/>
<path fill="#064921" d="M6506 3085l27 8 22 7 22 5 22 5 22 6 21 10 22 10 27 23 22-13-27-20-22-16-22-7-22-3-21-3-22-3-22-7-27-9z"/>
<path fill="#08612b" d="M3441 2511l27-5 27-9 22-16-27 8-27 9z"/>
<path fill="#10421a" d="M3638 2437l27 27 22 23 27 28 22-16-27-18-22-9-27-32z"/>
<path fill="#105824" d="M3704 2515l32 3 21-13-31-6z"/>
<path fill="#156428" d="M3748 2511l31 1 22-15-32 5z"/>
<path fill="#1d6e30" d="M3769 2512l32 12 22-25-32-2z"/>
<path fill="#26793a" d="M3791 2524l32 8 22-28-32-5z"/>
<path fill="#1d652e" d="M3813 2532l32-3 22-7-32-18z"/>
<path fill="#0b431c" d="M3835 2529l27 20 27 8 22 2-27-10-27-27z"/>
<path fill="#268335" d="M3945 2539l26-10 27-7 22-18-27 6-27 13z"/>
<path fill="#277732" d="M3988 2522l32 17 22-19-32-16z"/>
<path fill="#1f6d2b" d="M4010 2539l27 5 27-4 22-8-27-1-27-11z"/>
<path fill="#1b6226" d="M4054 2540l27 8 27 7 22-14-27 3-27-12z"/>
<path fill="#1f722d" d="M4098 2555l32 11 22-25-32 0z"/>
<path fill="#35923a" d="M4142 2549l27-13 26 2 22-32-27 6-27 13z"/>
<path fill="#40953f" d="M4185 2538l27-12 27 4 22-22-27-5-27 3z"/>
<path fill="#479c44" d="M4229 2530l32-11 22-16-32 5z"/>
<path fill="#539d4d" d="M4251 2519l32-6 22-20-32 10z"/>
<path fill="#458642" d="M4273 2513l27 23 27 20 22-29-27-14-27-20z"/>
<path fill="#58a65a" d="M4317 2556l27 16 27 12 21-32-26-14-27-11z"/>
<path fill="#4c9f52" d="M4361 2584l31 8 22-29-32-11z"/>
<path fill="#439549" d="M4382 2592l32 8 22-30-32-7z"/>
<path fill="#35823c" d="M4404 2600l32 12 22-28-32-14z"/>
<path fill="#227330" d="M4426 2612l27 12 22 9 22 4 22 11 27 4 22-23-27-2-22-4-22-8-22-13-27-18z"/>
<path fill="#258134" d="M4536 2652l32-2 21-27-31 6z"/>
<path fill="#388f45" d="M4558 2650l26 3 27 10 22-30-27-17-27 7z"/>
<path fill="#21672e" d="M4601 2663l32 10 22-16-32-24z"/>
<path fill="#11491d" d="M4623 2673l32 11 22-3-32-24z"/>
<path fill="#093c19" d="M4645 2684l27 21 22 17 27 8 22 2-27-10-22-19-27-22z"/>
<path fill="#06431e" d="M4755 2738l27 13 21 12 22 16 27 9 22-11-27-13-22-10-22-7-27-9z"/>
<path fill="#17712e" d="M5017 2777l27-7 27-10 22-13-27 6-27 10z"/>
<path fill="#176428" d="M5061 2760l32 10 22-11-32-12z"/>
<path fill="#104c1f" d="M5083 2770l32 7 22-3-32-15z"/>
<path fill="#093a18" d="M5105 2777l27 22 27 22 22-4-27-21-27-22z"/>
<path fill="#12662a" d="M5193 2801l31 16 22-21-32 3z"/>
<path fill="#177530" d="M5214 2817l32-7 22-25-32 11z"/>
<path fill="#218235" d="M5236 2810l32-20 22-20-32 15z"/>
<path fill="#1f712e" d="M5258 2790l32 10 22-14-32-16z"/>
<path fill="#156128" d="M5280 2800l27 17 22 16 22 1 27 2 21-11-26-6-22-10-22-16-27-7z"/>
<path fill="#166c2c" d="M5368 2836l27 3 21 3 27 0 22-16-27 0-22 1-27-2z"/>
<path fill="#1a732f" d="M5433 2842l32 2 22-19-32 1z"/>
<path fill="#207d34" d="M5455 2844l32 0 22-23-32 4z"/>
<path fill="#2a8c3a" d="M5477 2844l27-6 27-8 22-25-27 7-27 9z"/>
<path fill="#35903e" d="M5521 2830l27-1 22 3 27-1 21-24-26-3-22-2-27 3z"/>
<path fill="#297530" d="M5587 2831l31-4 22-9-32-11z"/>
<path fill="#19511f" d="M5608 2827l32 11 22 4-32-24z"/>
<path fill="#113c17" d="M5630 2838l32 13 22 5-32-14z"/>
<path fill="#155c25" d="M5718 2888l32 12 22-15-32-5z"/>
<path fill="#19682a" d="M5740 2900l27 1 27-1 21-14-26-1-27 0z"/>
<path fill="#135421" d="M5784 2900l32 8 21-8-32-14z"/>
<path fill="#0c3d19" d="M5806 2908l31 17 22-1-32-24z"/>
<path fill="#0c5423" d="M5937 2958l27 6 22 12 22 7 21-2 22-1 22 5 22 8 22 8 22 5 22 3 22 4 27 9 21-10-26-7-22-3-22-5-22-7-22-8-22-5-22-3-22-3-22-4-21-5-22-4-27-1z"/>
<path fill="#074920" d="M6200 3022l26 12 22 12 22 9 27 5 22-12-27-3-22-9-22-12-27-12z"/>
<path fill="#075426" d="M6287 3060l32 2 22-12-32-2z"/>
<path fill="#095424" d="M6331 3059l27-3 27 3 22-6-27-6-27 1z"/>
<path fill="#074c22" d="M6375 3059l27 10 22 7 21 2 22 3 22 4 22 6 22 5 22 7 22 8 22 9 22 15 26 24 22-31-27-10-21-10-22-6-22-5-22-5-22-7-22-8-22-7-22-3-22-2-22-4-26-8z"/>
<path fill="#308338" d="M3594 2455l32-9 22-17-32 9z"/>
<path fill="#26652d" d="M3616 2446l32 26 22-16-32-27z"/>
<path fill="#12471d" d="M3638 2472l27 18 27 15 22 2-27-28-27-23z"/>
<path fill="#145a24" d="M3726 2508l32 15 21-19-31-1z"/>
<path fill="#1c652f" d="M3748 2523l31 25 22-32-32-12z"/>
<path fill="#277e41" d="M3769 2548l27 12 27-8 22-31-27 3-27-8z"/>
<path fill="#14632b" d="M3813 2552l32 3 22-14-32-20z"/>
<path fill="#0e5423" d="M3835 2555l32 1 22-7-32-8z"/>
<path fill="#19702c" d="M3901 2547l32 1 22-17-32 7z"/>
<path fill="#228035" d="M3923 2548l32-1 21-26-31 10z"/>
<path fill="#339043" d="M3945 2547l32-1 21-32-32 7z"/>
<path fill="#30863f" d="M3967 2546l31 9 22-24-32-17z"/>
<path fill="#227830" d="M3988 2555l27 4 22-9 27 3 22-13-27-8-22 4-27-5z"/>
<path fill="#1d6728" d="M4054 2553l27-5 27 13 22-3-27-11-27-7z"/>
<path fill="#237a30" d="M4098 2561l32 1 22-21-32 17z"/>
<path fill="#309039" d="M4120 2562l32-13 22-21-32 13z"/>
<path fill="#3a9940" d="M4142 2549l32-3 21-16-31-2z"/>
<path fill="#47a449" d="M4164 2546l26 0 22 2 27-9 22-28-27 11-22-4-27 12z"/>
<path fill="#62b65f" d="M4229 2539l32 6 22-40-32 6z"/>
<path fill="#569f55" d="M4251 2545l32 14 22-31-32-23z"/>
<path fill="#3d8240" d="M4273 2559l32 22 22-33-32-20z"/>
<path fill="#4d9b54" d="M4295 2581l27 23 27 2 22-30-27-12-27-16z"/>
<path fill="#4fa65b" d="M4339 2606l27 17 27-1 21-30-27-8-26-8z"/>
<path fill="#3a9047" d="M4383 2622l31 5 22-23-32-12z"/>
<path fill="#247531" d="M4404 2627l32 2 22-13-32-12z"/>
<path fill="#1e6b2c" d="M4426 2629l27 7 27 20 22-27-27-4-27-9z"/>
<path fill="#227733" d="M4470 2656l27 6 22-2 22-3 22 7 27 10 21-19-27-10-21-3-22 2-22-4-27-11z"/>
<path fill="#1d6b2d" d="M4580 2674l31 9 22-18-32-10z"/>
<path fill="#155b25" d="M4601 2683l32 6 22-13-32-11z"/>
<path fill="#0c451c" d="M4623 2689l27 20 27 26 22-21-27-17-27-21z"/>
<path fill="#0b5123" d="M4667 2735l32 5 22-18-32-8z"/>
<path fill="#083d1a" d="M4733 2733l27 6 27 14 21 2-26-12-27-13z"/>
<path fill="#043a1a" d="M4777 2753l26 20 27 15 22-8-27-9-27-16z"/>
<path fill="#0f652b" d="M4930 2785l27 1 22 2 27 0 21-19-27-1-21 0-27 8z"/>
<path fill="#146f2e" d="M4996 2788l31-3 22-23-32 7z"/>
<path fill="#1c7733" d="M5017 2785l27-4 27 1 22-20-27-10-27 10z"/>
<path fill="#166429" d="M5061 2782l32-2 22-11-32-7z"/>
<path fill="#0f4c1f" d="M5083 2780l32 11 22 0-32-22z"/>
<path fill="#0a3c19" d="M5105 2791l32 14 22 8-32-22z"/>
<path fill="#116028" d="M5171 2812l32 11 21-14-31-16z"/>
<path fill="#136a2c" d="M5193 2823l31-1 22-20-32 7z"/>
<path fill="#1f7b34" d="M5214 2822l27-13 27 6 22-23-27-10-27 20z"/>
<path fill="#146129" d="M5258 2815l27 12 22 11 22 6 27 7 22-23-27-2-22-1-22-16-27-17z"/>
<path fill="#18702f" d="M5346 2851l27 6 22 0 21-4 22 0 27 2 22-19-27 0-22-2-22 0-21-3-27-3z"/>
<path fill="#1f7d34" d="M5455 2855l32-1 22-24-32 6z"/>
<path fill="#2c893a" d="M5477 2854l27-3 22-4 22-6 22 0 27-2 21-20-26 4-22 1-22-3-22 1-27 8z"/>
<path fill="#26722d" d="M5587 2839l32-2 21-7-32-11z"/>
<path fill="#1b5722" d="M5609 2837l31 6 22 0-32-13z"/>
<path fill="#14461b" d="M5630 2843l27 14 22 7 27 13 22 3-27-15-22-4-27-18z"/>
<path fill="#145321" d="M5762 2896l32 9 22-5-32-8z"/>
<path fill="#0f451b" d="M5784 2905l32 13 21-1-31-17z"/>
<path fill="#0d5222" d="M5893 2950l27 13 22 8 22 2 27 9 22-7-27-7-22-12-22-6-27 4z"/>
<path fill="#0d5825" d="M6003 2983l27 1 21 5 22 8 22 7 22 4 27 2 22-9-27-3-22-5-22-8-22-8-22-5-27 1z"/>
<path fill="#0c5122" d="M6134 3010l27 3 27 9 22-8-27-9-27-4z"/>
<path fill="#08471f" d="M6178 3022l27 12 22 13 26 7 22-7-27-9-22-12-26-12z"/>
<path fill="#0a5626" d="M6309 3060l27 4 22 3 22 6 22 5 22 5 21 4 22 2 27 2 22-8-27-6-22-4-22-3-21-2-22-7-22-10-22-3-27 3z"/>
<path fill="#084c21" d="M6484 3091l27 3 22 11 22 8 27 9 22-10-27-9-22-8-22-7-27-5z"/>
<path fill="#043e1e" d="M6572 3122l27 17 27 24 21-12-26-24-27-15z"/>
<path fill="#237d31" d="M3551 2472l32-9 21-16-32 8z"/>
<path fill="#32833f" d="M3573 2463l26 20 27 13 22-32-27-26-27 9z"/>
<path fill="#196329" d="M3616 2496l27 4 27 3 22-6-27-15-27-18z"/>
<path fill="#145722" d="M3682 2499l32 5 22-4-32 0z"/>
<path fill="#0f491f" d="M3704 2504l27 29 27 28 21-21-26-25-27-15z"/>
<path fill="#145d2d" d="M3748 2561l32 13 21-22-32-12z"/>
<path fill="#156d32" d="M3770 2574l26-7 27-7 22-13-27-3-27 8z"/>
<path fill="#156729" d="M3835 2557l27-4 22-2 27 6 22-17-27-1-22 1-27 8z"/>
<path fill="#207634" d="M3901 2557l32 9 22-27-32 1z"/>
<path fill="#308b44" d="M3923 2566l27 5 27-1 21-23-26-9-27 1z"/>
<path fill="#217c33" d="M3967 2570l26 3 22-11 27-2 22-15-27-3-22 9-27-4z"/>
<path fill="#21722d" d="M4032 2560l27 1 22 8 27-2 22-13-27-1-22-13-27 5z"/>
<path fill="#2c8738" d="M4098 2567l32 6 22-32-32 13z"/>
<path fill="#3d9b47" d="M4120 2573l32 3 22-38-32 3z"/>
<path fill="#44a14b" d="M4142 2576l27-1 22-9 26 0 22-35-27 9-22-2-26 0z"/>
<path fill="#5db461" d="M4207 2566l32 13 22-42-32-6z"/>
<path fill="#53a258" d="M4229 2579l32 1 22-29-32-14z"/>
<path fill="#327a3c" d="M4251 2580l27 29 27 21 22-34-27-23-27-22z"/>
<path fill="#378947" d="M4295 2630l27-6 27 30 22-39-27-17-27-2z"/>
<path fill="#439e58" d="M4339 2654l32 0 22-40-32 1z"/>
<path fill="#329145" d="M4361 2654l32-15 21-20-31-5z"/>
<path fill="#237a33" d="M4383 2639l31-1 22-17-32-2z"/>
<path fill="#1d6e2e" d="M4404 2638l27 17 22 16 22 2 27-8 22-13-27 2-22-6-22-20-27-7z"/>
<path fill="#1f7530" d="M4492 2665l27 3 27 5 22-17-27-7-27 3z"/>
<path fill="#19662a" d="M4536 2673l27 8 22 14 26 6 22-20-27-6-21-9-27-10z"/>
<path fill="#104e20" d="M4601 2701l32 10 22-10-32-20z"/>
<path fill="#0a401b" d="M4623 2711l32 30 22-14-32-26z"/>
<path fill="#0c491e" d="M4711 2727l32 10 22-6-32-6z"/>
<path fill="#073b19" d="M4733 2737l27 14 22 17 27 17 21-5-27-15-21-20-27-14z"/>
<path fill="#0c5d28" d="M4886 2787l27 4 22 5 27 3 22-19-27-2-22-1-27 4z"/>
<path fill="#10672c" d="M4952 2799l27-4 27-3 21-15-26 3-27 0z"/>
<path fill="#187130" d="M4996 2792l26 3 22 2 27 1 22-26-27 2-22-1-27 4z"/>
<path fill="#146329" d="M5061 2798l32 2 22-17-32-11z"/>
<path fill="#0e5121" d="M5083 2800l27 6 27 5 22-7-27-7-27-14z"/>
<path fill="#0f5b25" d="M5149 2814l27 8 27 7 21-15-26 1-27-11z"/>
<path fill="#196f2f" d="M5193 2829l27-2 21 4 27 5 22-17-27-12-22-6-27 13z"/>
<path fill="#105925" d="M5258 2836l27 0 22 11 22 13 27 10 22-21-27-6-22-7-22-6-27-11z"/>
<path fill="#166d2d" d="M5346 2870l27-1 22-8 22 1 21 1 27 5 22-22-27 1-22-2-22 0-21 4-27 0z"/>
<path fill="#248235" d="M5455 2868l27 2 22-8 22-6 22 2 27-5 22-22-27 2-22 0-22 6-22 4-27 3z"/>
<path fill="#2a8334" d="M5565 2853l32-6 22-18-32 2z"/>
<path fill="#28772f" d="M5587 2847l32 2 21-14-31-6z"/>
<path fill="#216729" d="M5609 2849l31 4 22-4-32-14z"/>
<path fill="#1d5d24" d="M5630 2853l32 5 22-2-32-7z"/>
<path fill="#195220" d="M5652 2858l32 6 22 5-32-13z"/>
<path fill="#15481c" d="M5674 2864l32 7 22 9-32-11z"/>
<path fill="#15501f" d="M5718 2879l27 10 27 12 22-4-27-9-27-4z"/>
<path fill="#0d461c" d="M5871 2945l32 21 22-11-32-13z"/>
<path fill="#0d5122" d="M5893 2966l32 8 22-11-32-8z"/>
<path fill="#0d5523" d="M5937 2971l27 8 27 6 22-10-27-1-27-9z"/>
<path fill="#0e5a26" d="M5981 2985l27 6 22 6 21 4 22 6 22 4 22 3 27 1 22-10-27-3-22-2-22-4-22-7-22-8-21-5-27-1z"/>
<path fill="#094b20" d="M6134 3015l27 12 22 10 22 9 27 5 21-5-26-7-22-13-22-12-27-9z"/>
<path fill="#094f22" d="M6243 3051l27 4 22 6 27 11 22-16-27-4-22-1-27-3z"/>
<path fill="#0a5827" d="M6309 3072l27 7 22 3 22 4 22 6 22 3 22 0 21 0 27 4 22-13-27-3-22-2-22-2-21-4-22-5-22-5-22-6-27-3z"/>
<path fill="#084c23" d="M6484 3099l27 12 22 11 22 12 27 9 22-12-27-17-22-9-22-8-27-11z"/>
<path fill="#055929" d="M3376 2527l31-5 22-13-32 5z"/>
<path fill="#20772f" d="M3529 2481l32-9 22-17-32 9z"/>
<path fill="#1d692d" d="M3551 2472l27 22 21 13 22 2 27 12 22-26-27-3-22-4-22-13-26-20z"/>
<path fill="#1d7531" d="M3638 2521l32-2 22-28-32 4z"/>
<path fill="#1b6b2c" d="M3660 2519l32-5 22-18-32-5z"/>
<path fill="#114c1f" d="M3682 2514l32 24 22-13-32-29z"/>
<path fill="#0a3d19" d="M3704 2538l32 21 22-6-32-28z"/>
<path fill="#09471f" d="M3726 2559l32 10 22-3-32-13z"/>
<path fill="#0f662b" d="M3770 2568l31-1 22-15-32 7z"/>
<path fill="#16672a" d="M3813 2560l27-6 22 1 22 12 27 13 22-22-27-9-22-6-22 2-27 4z"/>
<path fill="#1e7836" d="M3901 2580l27 8 22 0 27-7 21-16-26-3-22 1-27-5z"/>
<path fill="#20762f" d="M3989 2570l26-8 27 8 22-17-27-1-27 2z"/>
<path fill="#20722e" d="M4032 2570l27 9 22-4 27 11 22-21-27-6-22 2-27-8z"/>
<path fill="#2d823b" d="M4098 2586l32 9 22-27-32-3z"/>
<path fill="#308c3c" d="M4120 2595l27-3 22-13 27 1 21-22-26 0-22 9-27 1z"/>
<path fill="#3a8c44" d="M4186 2580l26 20 27-4 22-24-27-1-27-13z"/>
<path fill="#21632a" d="M4229 2596l32 17 22-12-32-29z"/>
<path fill="#185624" d="M4251 2613l32 22 22-13-32-21z"/>
<path fill="#1b612b" d="M4273 2635l27 0 27 39 22-28-27-30-27 6z"/>
<path fill="#217439" d="M4317 2674l32 3 22-31-32 0z"/>
<path fill="#218037" d="M4339 2677l27-16 27-6 21-25-26 1-27 15z"/>
<path fill="#1c6a2d" d="M4383 2655l32 12 21-20-32-17z"/>
<path fill="#156128" d="M4405 2667l26 12 27 0 22-14-27-2-27-16z"/>
<path fill="#1b6f2f" d="M4448 2679l27-4 22 13 22 1 22 3 27 14 22-19-27-14-22-8-22-5-22-3-27 8z"/>
<path fill="#16652b" d="M4558 2706l32 4 21-17-31-6z"/>
<path fill="#115724" d="M4580 2710l32 2 21-9-32-10z"/>
<path fill="#0f5422" d="M4667 2723l27 2 27 13 22-9-27-10-27 5z"/>
<path fill="#0a461d" d="M4711 2738l27 15 27 17 22-10-27-17-27-14z"/>
<path fill="#063e1b" d="M4755 2770l32 9 22-2-32-17z"/>
<path fill="#095324" d="M4820 2786l27 2 27 5 22-14-27 0-27 3z"/>
<path fill="#0b5b28" d="M4864 2793l27 8 27-2 22-11-27-5-27-4z"/>
<path fill="#105f27" d="M4930 2797l27 3 22 2 22 1 22 0 21 0 22 3 22 3 22 5 22 4 22 3 22 6 22 6 27 4 21-14-26-4-22 2-22-7-22-8-22-3-22-5-22-6-22-2-22-1-22-2-21-3-22 3-27 4z"/>
<path fill="#126228" d="M5215 2837l26 6 27-1 22-14-27 0-27-5z"/>
<path fill="#105623" d="M5258 2842l32-2 22-1-32-11z"/>
<path fill="#0c491e" d="M5280 2840l27 12 27 9 22 1-27-10-27-13z"/>
<path fill="#0d5624" d="M5324 2861l32 6 22-6-32 1z"/>
<path fill="#156a2c" d="M5346 2867l27 6 22-3 22-2 21 7 27 5 22-18-27-2-22-5-21-1-22-1-27 8z"/>
<path fill="#207c31" d="M5455 2880l27-6 22-12 22-1 27-2 22-14-27 5-22-2-22 6-27 8z"/>
<path fill="#2a8034" d="M5543 2859l27 2 22 5 22 3 27-2 21-17-27-5-21-4-22-2-27 6z"/>
<path fill="#24702c" d="M5631 2867l31-4 22-7-32-6z"/>
<path fill="#1d5e25" d="M5652 2863l27 7 22 9 27 11 22-9-27-10-22-8-27-7z"/>
<path fill="#175421" d="M5718 2890l27 8 22 6 27 3 22 2-27-5-22-11-27-12z"/>
<path fill="#13491d" d="M5784 2907l27 8 27 8 21 1-26-7-27-8z"/>
<path fill="#0d431b" d="M5828 2923l26 17 22 20 27 10 22-4-27-8-22-21-27-13z"/>
<path fill="#0e5925" d="M5893 2970l27 4 22 12 22 6 22 5 22 7 22 3 22 4 21 4 22 3 22 1 22 12 27 8 22-10-27-10-22-12-22-1-22-3-22-4-22-6-21-4-22-6-22-6-22-6-22-8-27 3z"/>
<path fill="#0a4d21" d="M6156 3039l32 5 22-6-32-9z"/>
<path fill="#095224" d="M6200 3047l27 3 22 6 21 11 22 10 22 7 22 3 22 4 22 5 27 4 22-13-27-3-22-6-22-4-22-3-22-7-22-11-22-6-22-4-26 0z"/>
<path fill="#0a5927" d="M6397 3100l27 1 22 0 21 8 27 9 22-15-27-12-22-4-21 0-27 0z"/>
<path fill="#074a23" d="M6484 3118l27 11 22 16 27 22 22-32-27-9-22-12-27-11z"/>
<path fill="#055829" d="M3354 2533l32-6 21-13-31 5z"/>
<path fill="#136f2d" d="M3441 2512l27-5 27-9 22-17-27 9-27 8z"/>
<path fill="#1d7830" d="M3485 2498l27-9 27-8 22-17-27 9-27 8z"/>
<path fill="#195f25" d="M3529 2481l32-2 22 7-32-22z"/>
<path fill="#11491d" d="M3551 2479l27 19 27 10 21-7-27-2-26-13z"/>
<path fill="#135623" d="M3595 2508l31 22 22-17-32-12z"/>
<path fill="#196e2e" d="M3616 2530l27 2 27-5 22-21-27 5-27 2z"/>
<path fill="#145925" d="M3660 2527l32 13 22-10-32-24z"/>
<path fill="#0b461d" d="M3682 2540l27 16 27 14 22-9-27-10-27-21z"/>
<path fill="#0b5624" d="M3726 2570l32 5 22-15-32 1z"/>
<path fill="#10652a" d="M3748 2575l27-1 27-7 21-15-27 7-26 1z"/>
<path fill="#166c2c" d="M3792 2567l26-6 27 4 22-18-27-1-27 6z"/>
<path fill="#135f28" d="M3835 2565l27 11 22 13 27 8 22-17-27-8-22-13-27-12z"/>
<path fill="#156f2f" d="M3901 2597l27 2 27-8 22-18-27 7-27 0z"/>
<path fill="#207931" d="M3945 2591l27-11 22-3 21-2 27 4 22-8-27-9-22-8-21 8-27 11z"/>
<path fill="#1b6527" d="M4054 2576l32 11 22-9-32-11z"/>
<path fill="#25762e" d="M4142 2585l32 1 22-14-32-1z"/>
<path fill="#22702d" d="M4164 2586l27 22 27-3 21-17-27 4-26-20z"/>
<path fill="#1d6227" d="M4208 2605l31-2 22 2-32-17z"/>
<path fill="#10431b" d="M4229 2603l27 20 22 18 27 36 22-11-27-39-22 0-27-22z"/>
<path fill="#0d5223" d="M4295 2677l32 9 22-17-32-3z"/>
<path fill="#1a7832" d="M4339 2675l32-9 22-19-32 6z"/>
<path fill="#18692b" d="M4361 2666l32 1 22-8-32-12z"/>
<path fill="#135d25" d="M4383 2667l27 6 26 4 22-6-27 0-26-12z"/>
<path fill="#17692c" d="M4426 2677l27 12 22 7 22 2 22 10 22 9 22-1 27-3 22-9-27-2-22-4-22-14-22-3-22-1-22-13-27 4z"/>
<path fill="#0e5022" d="M4645 2711l27 23 22 15 22 18 27 4 22-9-27-17-22-15-22-13-27-2z"/>
<path fill="#094a20" d="M4733 2771l27 3 22 5 22 4 27 11 21-14-27-2-21-3-22-4-27-9z"/>
<path fill="#0b5a28" d="M4821 2794l26 12 27 2 22-15-27-8-27-5z"/>
<path fill="#105924" d="M5018 2800l31 2 22-4-32-3z"/>
<path fill="#105824" d="M5061 2809l27 7 22 4 22 4 22 4 22 2 22 7 27 5 21-7-26-6-22-4-22-6-22-6-22-3-22-4-27-5z"/>
<path fill="#115221" d="M5258 2839l32 3 22 2-32-12z"/>
<path fill="#0d4a1e" d="M5280 2842l27 14 27 18 22-15-27-6-27-9z"/>
<path fill="#0f5c26" d="M5324 2874l32 8 22-17-32-6z"/>
<path fill="#166c2e" d="M5346 2882l27-3 22 0 22 4 27 3 21-14-27-5-21-7-22 2-27 3z"/>
<path fill="#18732f" d="M5434 2886l31-1 22-19-32 6z"/>
<path fill="#237d33" d="M5455 2885l27-6 22-7 22-4 22 4 27 8 22-22-27-5-22-2-22 2-22 1-27 12z"/>
<path fill="#298134" d="M5565 2880l27 2 22-2 22-3 26 6 22-21-27-7-21 4-22 2-27-3z"/>
<path fill="#25722e" d="M5652 2883l27 6 27 6 22-13-27-11-27-9z"/>
<path fill="#1c6226" d="M5696 2895l27 2 22 6 22 9 27 4 22-9-27-8-22-3-22-6-27-8z"/>
<path fill="#175522" d="M5784 2916l27 10 27 17 21-11-26-17-27-8z"/>
<path fill="#0f491d" d="M5828 2943l27 11 26 14 22-6-27-10-27-20z"/>
<path fill="#0e5624" d="M5871 2968l27 16 22 9 22 3 22 4 22 7 27 5 22-13-27-3-22-7-22-5-22-6-22-12-27-4z"/>
<path fill="#0e5a26" d="M6003 3012l27 4 22 4 21 3 22 5 22 7 27 5 22-9-27-8-22-12-22-1-22-3-21-4-27-4z"/>
<path fill="#0a5224" d="M6134 3040l27 3 22 4 22 8 22 11 22 7 21 6 22 5 22 5 22 5 22 4 22 4 22 4 27 6 22-19-27 0-22-1-22-4-22-5-22-4-22-3-22-7-22-10-21-11-22-6-22-3-22-3-27-5z"/>
<path fill="#0a5627" d="M6419 3112l27 8 27 8 21-18-27-9-26-8z"/>
<path fill="#074b23" d="M6463 3128l26 12 27 10 22-13-27-16-27-11z"/>
<path fill="#10682b" d="M3419 2517l32-5 22-13-32 5z"/>
<path fill="#1f712c" d="M3507 2489l32-8 22-10-32 2z"/>
<path fill="#0d3c18" d="M3573 2496l32 25 21 1-31-22z"/>
<path fill="#0f4e1f" d="M3595 2521l31 12 22-9-32-2z"/>
<path fill="#16642a" d="M3616 2533l27 4 27 9 22-14-27-13-27 5z"/>
<path fill="#0f5625" d="M3660 2546l27 18 22 11 27 3 22-11-27-5-22-14-27-16z"/>
<path fill="#10662b" d="M3726 2578l27-2 27-2 22-15-27 7-27 1z"/>
<path fill="#166e2e" d="M3770 2574l27-1 26 4 22-20-27-4-26 6z"/>
<path fill="#15632a" d="M3813 2577l32 8 22-17-32-11z"/>
<path fill="#0f5d27" d="M3835 2585l27 10 22 7 27 2 22-13-27-2-22-8-27-13z"/>
<path fill="#136d2d" d="M3901 2604l32-5 22-16-32 8z"/>
<path fill="#1a7731" d="M3923 2599l32-4 22-23-32 11z"/>
<path fill="#238137" d="M3945 2595l27 3 22-2 27-8 21-17-27-4-21 2-27 3z"/>
<path fill="#20762e" d="M4011 2588l31-5 22-15-32 3z"/>
<path fill="#1d6929" d="M4032 2583l32 1 22-5-32-11z"/>
<path fill="#216e2b" d="M4098 2584l27 5 27 4 22-15-27-1-27 8z"/>
<path fill="#1d6728" d="M4142 2593l27 17 27-1 22-12-27 3-27-22z"/>
<path fill="#174f1e" d="M4208 2601l31 15 22-1-32-20z"/>
<path fill="#0c3b18" d="M4229 2616l27 26 22 24 27 15 22-3-27-9-22-36-27-18z"/>
<path fill="#156c2b" d="M4317 2680l27-7 27 1 22-15-27-1-27 9z"/>
<path fill="#15642a" d="M4361 2674l27 11 22 8 22 5 21 3 22 13 22 9 27 3 22-17-27-9-22-10-22-2-22-7-22-12-21-4-27-6z"/>
<path fill="#135723" d="M4602 2711l27 17 26 15 22-17-27-23-27 1z"/>
<path fill="#0c4c20" d="M4645 2743l27 14 27 12 22-10-27-18-27-15z"/>
<path fill="#094b21" d="M4733 2771l27 10 22 1 22 22 27 13 21-19-26-12-22-11-22-4-27-5z"/>
<path fill="#135c25" d="M4996 2797l27 2 27 4 21-2-27-7-26-2z"/>
<path fill="#105321" d="M5061 2810l27 6 22 5 27 5 22-6-27-4-22-4-27-4z"/>
<path fill="#115522" d="M5149 2829l27 6 27 6 22-7-27-5-27-7z"/>
<path fill="#146127" d="M5193 2841l27 2 22 2 26 5 22-16-27-3-21 3-27 0z"/>
<path fill="#0f5222" d="M5258 2850l27 12 22 14 27 10 22-12-27-8-22-18-27-14z"/>
<path fill="#11632a" d="M5324 2886l32 4 22-19-32 3z"/>
<path fill="#187133" d="M5346 2890l27 6 22 7 22 1 27-7 21-20-26 1-22-3-22-4-27 0z"/>
<path fill="#207a31" d="M5434 2897l26-2 22-5 22-6 22-2 22 5 22 2 27 1 22-18-27 2-22-2-22-8-22-4-22 4-22 7-27 6z"/>
<path fill="#277e34" d="M5587 2890l27 2 22 8 22 5 21 0 27-5 22-11-27-2-22-6-22-6-21-6-27 3z"/>
<path fill="#1f692a" d="M5696 2900l27 7 22 10 22 5 27 19 22-23-27-10-22-4-22-9-27-6z"/>
<path fill="#175c25" d="M5784 2941l27 9 27 12 22-16-27-11-27-17z"/>
<path fill="#0f5322" d="M5828 2962l27 15 21 12 27 5 22-9-27-9-22-16-26-14z"/>
<path fill="#0d5222" d="M5915 2992l27 5 22 6 22 11 27 9 22-15-27-4-22-5-22-7-27-4z"/>
<path fill="#0d5a26" d="M6003 3023l27 3 22 3 22 6 21 6 22 2 22 2 27 3 22-9-27-4-22-3-22-5-22-7-22-5-21-3-27-4z"/>
<path fill="#095224" d="M6156 3048l27 13 22 12 22 4 22 1 22 5 21 10 22 6 22 3 22 2 22 5 22 11 22 7 27 8 22-15-27-8-22-8-22-6-22-4-22-4-22-4-22-5-22-5-22-5-21-6-22-7-22-11-27-8z"/>
<path fill="#064923" d="M6441 3135l27 14 26 23 22-30-27-10-26-12z"/>
<path fill="#0e642b" d="M3376 2528l27-5 26-6 22-13-27 5-26 5z"/>
<path fill="#21722c" d="M3507 2490l32-9 22-12-32 4z"/>
<path fill="#185220" d="M3529 2481l32 8 22-1-32-19z"/>
<path fill="#0f4019" d="M3551 2489l27 23 27 14 21-1-26-12-27-25z"/>
<path fill="#115121" d="M3595 2526l32 23 21-20-32-4z"/>
<path fill="#176530" d="M3617 2549l26 22 22 12 22 6 27 2 22-21-27-3-22-11-22-18-27-9z"/>
<path fill="#146c2f" d="M3704 2591l27-2 22-4 22 1 22 4 27 5 21-18-27-8-21-4-22 1-22 2-27 2z"/>
<path fill="#0f5c26" d="M3814 2595l26 5 22 7 27 3 22-14-27-2-22-7-27-10z"/>
<path fill="#12682b" d="M3879 2610l32 0 22-19-32 5z"/>
<path fill="#1b7633" d="M3901 2610l27 0 27 3 22-23-27-3-27 4z"/>
<path fill="#207d33" d="M3945 2613l27-3 22-9 22-9 26-8 22-8-27-1-21 5-22 8-27 2z"/>
<path fill="#216d2a" d="M4054 2584l27 4 22 5 22 8 22 7 22 4 27-2 22-17-27 8-22 1-22-17-22-4-22-5-27 1z"/>
<path fill="#1e6226" d="M4186 2610l32 11 21-13-31-15z"/>
<path fill="#13471c" d="M4208 2621l32 19 21-6-32-26z"/>
<path fill="#0c3b18" d="M4230 2640l26 19 27 9 22 5-27-15-27-24z"/>
<path fill="#0e4d1f" d="M4273 2668l32 10 22-6-32 1z"/>
<path fill="#146227" d="M4295 2678l27 2 22-3 27 9 22-9-27-11-22-1-27 7z"/>
<path fill="#125e27" d="M4361 2686l27 12 22 8 22 2 21 16 27 9 22-18-27-9-22-13-21-3-22-5-27-8z"/>
<path fill="#12682d" d="M4470 2733l27 4 27 4 22-25-27 2-27-3z"/>
<path fill="#1b702f" d="M4558 2724l32 3 22-24-32 0z"/>
<path fill="#18642a" d="M4580 2727l32 11 22-18-32-17z"/>
<path fill="#09471f" d="M4711 2760l27 15 22 18 22 10 27 9 22-3-27-13-22-22-22-1-27-10z"/>
<path fill="#0e5a25" d="M4864 2797l32 2 22-4-32-2z"/>
<path fill="#156529" d="M4930 2796l27 10 27 5 22-22-27 1-27 0z"/>
<path fill="#176a2b" d="M4974 2811l27 2 27-3 22-15-27-4-27-2z"/>
<path fill="#125422" d="M5040 2804l26 1 22 10 22 7 22 4 22 5 22 11 27 7 22-14-27-2-22-6-22-6-22-3-22-5-22-5-27-6z"/>
<path fill="#156328" d="M5193 2849l27 3 22 2 27 11 21-11-27-12-21-5-27-2z"/>
<path fill="#0f5524" d="M5259 2865l26 18 27 13 22-18-27-10-27-14z"/>
<path fill="#11612b" d="M5302 2896l27 5 27 10 22-23-27-6-27-4z"/>
<path fill="#156e32" d="M5346 2911l27 5 22 2 27-6 22-23-27 7-22-1-27-7z"/>
<path fill="#197831" d="M5412 2912l27-6 22-6 26-5 22-19-27 6-22 5-26 2z"/>
<path fill="#1f7830" d="M5477 2895l27-2 27-2 22-12-27-5-27 2z"/>
<path fill="#20722e" d="M5521 2891l27 0 22 4 22 10 27 8 22-21-27-8-22-2-22-1-27-2z"/>
<path fill="#267f35" d="M5609 2913l27 3 22 0 21 1 27 3 22-21-27-7-22 5-21 0-27-5z"/>
<path fill="#22702e" d="M5696 2920l27 3 27 15 22-24-27-5-27-10z"/>
<path fill="#1c662b" d="M5740 2938l27 16 27 7 22-19-27-9-27-19z"/>
<path fill="#145c26" d="M5784 2961l27 12 27 10 22-14-27-15-27-12z"/>
<path fill="#0f5523" d="M5828 2983l32 5 21-7-31-12z"/>
<path fill="#0d4c1f" d="M5915 2990l27 9 22 19 27 11 22-14-27-9-22-11-27-6z"/>
<path fill="#0d5a26" d="M5981 3029l27 2 22 1 22 8 22 7 21 2 22 0 22 5 27 10 22-11-27-13-22-3-22-2-22-2-21-6-22-6-22-3-27-3z"/>
<path fill="#095022" d="M6156 3064l27 8 22 3 22 3 22 9 22 11 26 9 22-16-27-6-21-10-22-5-22-1-22-4-27-12z"/>
<path fill="#095525" d="M6287 3107l27 1 22 0 27 6 22-13-27-5-22-2-27-3z"/>
<path fill="#074d23" d="M6353 3114l27 11 22 10 22 10 27 7 22-11-27-14-22-8-22-7-27-11z"/>
<path fill="#247f31" d="M3485 2498l32-8 22-17-32 9z"/>
<path fill="#1f6728" d="M3507 2490l32 1 22-10-32-8z"/>
<path fill="#11491e" d="M3529 2491l27 26 22 14 22 32 27 25 21-25-26-22-22-23-22-14-27-23z"/>
<path fill="#155e30" d="M3617 2588l31 12 22-25-32-12z"/>
<path fill="#146e35" d="M3638 2600l27 10 22 2 22-4 22-5 27-3 22-22-27-1-22 4-22 2-22-2-27-6z"/>
<path fill="#11652b" d="M3748 2600l27 0 27 1 22-14-27-5-27-4z"/>
<path fill="#0e5c26" d="M3792 2601l27 4 21 5 22 5 27 5 22-18-27 0-22-3-22-7-26-5z"/>
<path fill="#146c2e" d="M3879 2620l27 4 27 1 22-20-27-3-27 0z"/>
<path fill="#187630" d="M3923 2625l27-5 27-8 22-19-27 9-27 3z"/>
<path fill="#228133" d="M3967 2612l27-9 27-4 21-23-26 8-27 9z"/>
<path fill="#2a8236" d="M4011 2599l27-1 26 0 22-18-27-4-27 0z"/>
<path fill="#25762f" d="M4054 2598l27 3 27 6 22-14-27-8-27-5z"/>
<path fill="#206d2a" d="M4098 2607l27 6 22 2 22 4 27 9 22-15-27-11-22 2-22-4-27-7z"/>
<path fill="#175621" d="M4186 2628l32 13 22-9-32-19z"/>
<path fill="#10481c" d="M4208 2641l27 9 21 9 27 17 22-6-27-10-22-9-26-19z"/>
<path fill="#115924" d="M4273 2676l32 8 22-12-32-2z"/>
<path fill="#146127" d="M4295 2684l27 0 27-2 22-4-27-9-27 3z"/>
<path fill="#0f5322" d="M4339 2682l27 19 27 14 22-17-27-8-27-12z"/>
<path fill="#13622b" d="M4383 2715l27 7 27 5 21-11-26-16-27-2z"/>
<path fill="#0e5b28" d="M4427 2727l27 12 26 10 22-20-27-4-27-9z"/>
<path fill="#0f471c" d="M4667 2745l32 8 22-1-32-9z"/>
<path fill="#0a3e1a" d="M4689 2753l27 20 27 25 22-13-27-18-27-15z"/>
<path fill="#084b21" d="M4733 2798l27 14 27-1 22-7-27-9-27-10z"/>
<path fill="#0c5e28" d="M4799 2808l32 0 22-13-32 9z"/>
<path fill="#14692d" d="M4821 2808l27-4 21 0 27 7 22-22-27 2-22-2-26 6z"/>
<path fill="#1d7234" d="M4886 2811l27 3 27 1 22-17-27-10-27 1z"/>
<path fill="#16692c" d="M4930 2815l32 7 22-19-32-5z"/>
<path fill="#196829" d="M4996 2812l27-3 27-5 21-7-26-1-27 6z"/>
<path fill="#145923" d="M5040 2804l27 8 21 7 22 3 22 6 22 13 22 12 27 9 22-18-27-3-22-7-22-11-22-5-22-4-22-7-27-10z"/>
<path fill="#156229" d="M5193 2862l27 10 27 12 22-27-27-11-27-2z"/>
<path fill="#0d5827" d="M5237 2884l27 13 21 9 22 4 22 13 27 7 22-22-27-5-22-10-22-5-22-13-26-18z"/>
<path fill="#0e652c" d="M5346 2930l27-2 27-3 22-21-27 6-27-2z"/>
<path fill="#15722f" d="M5390 2925l27-8 22-9 27-3 21-18-26 5-22 6-27 6z"/>
<path fill="#1f7931" d="M5456 2905l26-2 22-4 27-2 22-14-27 0-22 2-27 2z"/>
<path fill="#1e6f2e" d="M5521 2897l27 6 22 13 22 7 27 9 22-24-27-3-22-8-22-10-27-4z"/>
<path fill="#247c34" d="M5609 2932l27 4 22-3 22 0 26 9 22-27-27-3-22-3-21-1-27 0z"/>
<path fill="#1e6b2e" d="M5696 2942l27 13 27 9 22-18-27-16-27-15z"/>
<path fill="#166329" d="M5740 2964l27 8 27 6 22-13-27-12-27-7z"/>
<path fill="#115924" d="M5784 2978l27 6 27 1 22-5-27-5-27-10z"/>
<path fill="#135823" d="M5872 2982l31 5 22-5-32-5z"/>
<path fill="#0d4b1f" d="M5893 2987l27 14 22 20 27 11 22-11-27-11-22-19-27-9z"/>
<path fill="#0d5925" d="M5959 3032l27 3 22 2 22 7 22 8 27 6 21-17-26-2-22-7-22-8-22-1-27-2z"/>
<path fill="#0f6029" d="M6069 3058l27 4 21 2 27 3 22-11-27-10-22-5-27 0z"/>
<path fill="#0b5223" d="M6134 3067l27 4 22 3 22 6 27 11 22-12-27-9-22-3-22-3-27-8z"/>
<path fill="#084c21" d="M6222 3091l27 12 27 9 21-13-26-9-27-11z"/>
<path fill="#095425" d="M6266 3112l27 2 21-2 27 4 22-10-27-6-22 0-27-1z"/>
<path fill="#064822" d="M6331 3116l27 12 22 12 22 14 27 22 22-32-27-7-22-10-22-10-27-11z"/>
<path fill="#065b2a" d="M3266 2554l27-5 22-5 27-6 22-13-27 5-22 5-27 6z"/>
<path fill="#237f32" d="M3463 2507l32-9 22-16-32 8z"/>
<path fill="#216f2b" d="M3485 2498l32-5 22-10-32-1z"/>
<path fill="#175120" d="M3507 2493l32 28 22-12-32-26z"/>
<path fill="#0c441d" d="M3529 2521l27 19 22 32 22 25 27 16 21-21-26-12-22-25-22-32-27-14z"/>
<path fill="#0f5b2f" d="M3617 2613l32 12 21-23-32-10z"/>
<path fill="#0e6730" d="M3639 2625l26 1 22-5 22-3 22-8 27-9 22-9-27 0-22 3-22 5-22 4-27-2z"/>
<path fill="#0e5c26" d="M3748 2601l27 4 22 5 22 2 27 3 21-8-27-5-21-5-22-4-27-1z"/>
<path fill="#0e5925" d="M3836 2615l26 7 27 9 22-15-27-4-27-5z"/>
<path fill="#0f622a" d="M3879 2631l32 2 22-16-32-1z"/>
<path fill="#126c2d" d="M3901 2633l32-3 22-18-32 5z"/>
<path fill="#1a7931" d="M3923 2630l27-7 27-7 22-21-27 9-27 8z"/>
<path fill="#29883b" d="M3967 2616l27 2 27 1 22-29-27 1-27 4z"/>
<path fill="#2d8a3c" d="M4011 2619l27-1 26-1 22-24-27-3-26 0z"/>
<path fill="#247930" d="M4054 2617l27 0 27 1 22-13-27-6-27-6z"/>
<path fill="#216f2b" d="M4098 2618l27 0 27 4 22-11-27-4-27-2z"/>
<path fill="#1c6226" d="M4142 2622l27 9 27 11 22-9-27-13-27-9z"/>
<path fill="#165722" d="M4186 2642l27 9 27 10 21-10-26-9-27-9z"/>
<path fill="#115220" d="M4230 2661l27 16 26 8 22-9-27-8-27-17z"/>
<path fill="#146026" d="M4273 2685l27 1 27 2 22-14-27 2-27 0z"/>
<path fill="#105323" d="M4317 2688l27 16 22 19 27 15 22-24-27-7-22-14-27-19z"/>
<path fill="#166732" d="M4383 2738l27 11 27 5 22-23-27-12-27-5z"/>
<path fill="#0d5e2a" d="M4427 2754l32 1 21-14-31-10z"/>
<path fill="#114c1e" d="M4646 2739l31 16 22-10-32-8z"/>
<path fill="#0a3e1a" d="M4667 2755l27 19 22 18 27 15 22-3-27-14-22-25-27-20z"/>
<path fill="#084c21" d="M4733 2807l32 6 22-10-32 1z"/>
<path fill="#0b5926" d="M4755 2813l32 2 22-15-32 3z"/>
<path fill="#0f632b" d="M4777 2815l32 5 22-20-32 0z"/>
<path fill="#187135" d="M4799 2820l27 2 27 3 21-29-26 0-27 4z"/>
<path fill="#237d40" d="M4843 2825l27 9 21 4 27-5 22-26-27-1-22-3-27-7z"/>
<path fill="#156f2f" d="M4908 2833l32-9 22-10-32-7z"/>
<path fill="#1b692a" d="M4996 2810l27 2 22 6 27 4 21-11-26-7-22-8-27 5z"/>
<path fill="#176026" d="M5062 2822l26 5 22 11 27 10 22-15-27-13-22-6-27-3z"/>
<path fill="#115824" d="M5127 2848l27 12 22 9 22 8 27 10 22-11-27-12-22-10-22-9-27-12z"/>
<path fill="#0a5123" d="M5215 2887l27 10 22 11 22 8 21 8 27 5 22-7-27-7-22-13-22-4-21-9-27-13z"/>
<path fill="#116b2d" d="M5368 2926l27-4 27-2 22-20-27 9-27 8z"/>
<path fill="#1a7732" d="M5412 2920l27-2 27 2 21-25-26 2-27 3z"/>
<path fill="#258038" d="M5456 2920l27-4 21-3 27 6 22-24-27-6-22 2-27 4z"/>
<path fill="#1c6f2e" d="M5521 2919l27 9 22 6 22 8 22 3 22-6 22 4 27 10 21-19-26-9-22 0-22 3-22-4-22-9-22-7-27-13z"/>
<path fill="#156128" d="M5675 2953l26 11 22 8 22 7 22 5 27-2 22-6-27-6-22-6-22-8-22-9-27-13z"/>
<path fill="#166228" d="M5806 2983l27 3 22 4 22 7 27 11 21-15-27-14-21-5-22 0-27 3z"/>
<path fill="#0d5021" d="M5894 3008l26 15 22 9 27 5 22-10-27-3-22-11-27-20z"/>
<path fill="#0d5a27" d="M5959 3037l27 5 22 6 22 7 22 10 22 7 22 2 21 0 22 4 22 2 27 5 22-13-27-6-22-3-22-4-22-3-21-2-22-4-22-6-22-8-22-7-27-2z"/>
<path fill="#094b20" d="M6178 3085l27 9 22 8 27 7 22-5-27-9-22-12-27-11z"/>
<path fill="#084c21" d="M6288 3111l26 6 27 12 22-9-27-12-27-4z"/>
<path fill="#04401e" d="M6331 3129l27 14 22 16 27 21 22-12-27-22-22-14-27-12z"/>
<path fill="#055a2a" d="M3244 2560l27-4 27-4 22-16-27 5-27 5z"/>
<path fill="#0c642c" d="M3288 2552l27-6 22-7 27-6 22-13-27 5-22 5-27 6z"/>
<path fill="#23742e" d="M3463 2507l32-9 22-13-32 5z"/>
<path fill="#195723" d="M3485 2498l32 29 22-14-32-28z"/>
<path fill="#0f461d" d="M3507 2527l27 26 27 27 22-16-27-32-27-19z"/>
<path fill="#063e1c" d="M3551 2580l27 20 27 20 22-15-27-16-27-25z"/>
<path fill="#075e2d" d="M3617 2643l27-9 21 0 27-7 22-17-27 3-22 5-26-1z"/>
<path fill="#0e662c" d="M3682 2627l27-6 22-7 22-3 27 2 22-11-27-5-22-4-22 9-27 8z"/>
<path fill="#0e5b26" d="M3770 2613l27 2 22 2 22 6 21 7 22 6 27 4 22-18-27 3-22-2-22-9-21-7-22-3-27-2z"/>
<path fill="#146f2e" d="M3901 2640l32-2 22-23-32 7z"/>
<path fill="#207d37" d="M3923 2638l27-6 27 3 22-25-27-2-27 7z"/>
<path fill="#268339" d="M3967 2635l27 3 22-1 22-4 27-4 21-20-27 0-21 1-22 1-27-1z"/>
<path fill="#23792f" d="M4055 2629l26-5 27-2 22-12-27 0-27-1z"/>
<path fill="#206b2a" d="M4098 2622l27 4 27 12 22-15-27-9-27-4z"/>
<path fill="#1a6126" d="M4142 2638l27 11 22 11 27 7 22-14-27-10-22-9-27-11z"/>
<path fill="#145923" d="M4208 2667l27 12 27 5 21-7-26-8-27-16z"/>
<path fill="#155f26" d="M4273 2685l32 9 22-14-32-2z"/>
<path fill="#115422" d="M4295 2694l32 18 22-16-32-16z"/>
<path fill="#0c4b20" d="M4317 2712l27 17 27 21 22-20-27-15-27-19z"/>
<path fill="#145020" d="M4580 2711l27 19 22 17 22 13 27 16 21-10-27-19-21-16-22-13-27 1z"/>
<path fill="#0a421b" d="M4668 2776l26 10 22 11 27 16 22-8-27-6-22-15-27-18z"/>
<path fill="#0b5224" d="M4733 2813l32 14 22-20-32-2z"/>
<path fill="#0f5f2c" d="M4755 2827l32 10 22-25-32-5z"/>
<path fill="#176c36" d="M4777 2837l27 3 27 7 22-30-27-3-27-2z"/>
<path fill="#1c733d" d="M4821 2847l27 8 27 3 21-28-26-4-27-9z"/>
<path fill="#147236" d="M4865 2858l31-8 22-25-32 5z"/>
<path fill="#16702d" d="M4908 2837l27-11 27-8 22-13-27 4-27 7z"/>
<path fill="#1c6d2c" d="M4974 2809l27 12 22 10 22 0 27 3 21-15-26-5-22-4-22-6-27-2z"/>
<path fill="#145e26" d="M5062 2834l27 14 21 11 22 7 22 4 27 5 22-6-27-8-22-9-22-12-22-10-27-11z"/>
<path fill="#0e5021" d="M5171 2875l27 8 27 10 22-4-27-10-27-10z"/>
<path fill="#0a4d21" d="M5215 2893l27 13 22 14 27 10 21-14-26-8-22-8-27-11z"/>
<path fill="#095425" d="M5281 2930l31 3 22-12-32-5z"/>
<path fill="#0d5e28" d="M5324 2930l27-1 27 3 22-18-27 4-27 4z"/>
<path fill="#156f2f" d="M5368 2932l27 0 22-3 27 8 22-25-27-2-22 2-27 2z"/>
<path fill="#217e3a" d="M5434 2937l32 1 22-30-32 4z"/>
<path fill="#2b8841" d="M5456 2938l27-2 26 2 22-27-27-6-26 3z"/>
<path fill="#247b39" d="M5499 2938l32 4 22-22-32-9z"/>
<path fill="#196c2c" d="M5521 2942l27 3 22 3 22-1 22-5 27 5 22-12-27-4-22 6-22-3-22-8-27-6z"/>
<path fill="#135a24" d="M5631 2947l27 11 22 8 22 8 26 7 22-10-27-7-22-8-21-11-27-10z"/>
<path fill="#145c25" d="M5762 2978l27 5 27 11 22-16-27-3-27-1z"/>
<path fill="#16652a" d="M5806 2994l27 10 22 8 27 8 22-20-27-11-22-7-27-4z"/>
<path fill="#0d5a26" d="M5872 3020l27 7 21 7 22 11 22 7 22 2 22 4 22 11 22 10 22 4 22 0 22 3 21 1 27 3 22-13-27-5-22-2-22-4-21 0-22-2-22-7-22-10-22-7-22-6-22-5-22-5-22-9-26-15z"/>
<path fill="#0b5122" d="M6156 3090l27 4 27 4 22-4-27-8-27-9z"/>
<path fill="#094b21" d="M6200 3098l27 5 22 4 22 3 22 12 22 12 26 14 22-13-27-14-22-12-21-6-22 1-22-3-27-7z"/>
<path fill="#043e1d" d="M6331 3148l32 16 22-13-32-16z"/>
<path fill="#04592a" d="M3223 2567l27-2 26-3 22-18-27 4-27 4z"/>
<path fill="#0a642d" d="M3266 2562l27-4 27-6 22-21-27 7-27 6z"/>
<path fill="#126d2e" d="M3310 2552l27-9 22-9 27-6 22-13-27 5-22 5-27 6z"/>
<path fill="#237931" d="M3420 2518l27-5 26-1 22-22-27 9-26 6z"/>
<path fill="#1f602a" d="M3463 2512l32 36 22-29-32-29z"/>
<path fill="#124e24" d="M3485 2548l27 28 27 17 22-21-27-27-27-26z"/>
<path fill="#084420" d="M3529 2593l27 18 27 12 22-11-27-20-27-20z"/>
<path fill="#07602e" d="M3617 2651l27-10 22 0 26-7 22-21-27 6-22 7-26 0z"/>
<path fill="#0f6a2e" d="M3682 2634l27-5 22-6 27-6 22-12-27-2-22 3-27 7z"/>
<path fill="#106129" d="M3748 2617l27 3 22 4 22 6 22 6 22 4 21 4 27 3 22-17-27 2-22-4-22-6-21-7-22-6-22-2-27-2z"/>
<path fill="#1a7532" d="M3901 2647l27 4 22-1 22 0 22-4 27-4 22-17-27 4-22 1-22-3-22-3-27 6z"/>
<path fill="#237b31" d="M4011 2642l27-3 22-5 21-2 27 5 22-19-27-4-22 2-21 5-27 4z"/>
<path fill="#1e692a" d="M4098 2637l27 10 27 11 22-17-27-11-27-12z"/>
<path fill="#166127" d="M4142 2658l27 9 22 6 22 8 22 10 22 3 27 11 21-19-27-9-21-1-22-5-22-12-22-7-27-11z"/>
<path fill="#105123" d="M4274 2705l26 18 27 18 22-20-27-17-27-18z"/>
<path fill="#0a4920" d="M4317 2741l32 12 22-11-32-21z"/>
<path fill="#105c25" d="M4427 2743l32 1 22-8-32 2z"/>
<path fill="#216d2b" d="M4536 2717l32 0 22-14-32 7z"/>
<path fill="#175823" d="M4558 2717l27 23 22 15 27 8 22-11-27-13-22-17-27-19z"/>
<path fill="#0f4d1f" d="M4624 2763l27 14 22 10 26 9 22-7-27-11-21-10-27-16z"/>
<path fill="#09431d" d="M4689 2796l27 21 27 19 22-17-27-14-27-16z"/>
<path fill="#0a5628" d="M4733 2836l27 11 27 3 22-18-27-3-27-10z"/>
<path fill="#0c5b2c" d="M4777 2850l27 9 27 6 22-18-27-8-27-7z"/>
<path fill="#1c7630" d="M4908 2833l27-10 27 1 22-23-27 9-27 8z"/>
<path fill="#1e7230" d="M4952 2824l27 8 22 9 22 2 27-3 22-14-27-3-22 0-22-10-27-12z"/>
<path fill="#176328" d="M5040 2840l32 12 22-12-32-14z"/>
<path fill="#135d26" d="M5062 2852l27 11 21 9 27 8 22-18-27-4-22-7-26-11z"/>
<path fill="#14612a" d="M5127 2880l27 7 22 7 27 11 22-20-27-10-22-8-27-5z"/>
<path fill="#0c5725" d="M5193 2905l27 8 22 13 22 9 22 2 22-4 21-1 27 8 22-16-27-3-22 1-22 3-21-3-22-10-22-14-27-13z"/>
<path fill="#13682d" d="M5346 2940l27 3 22-4 22 8 27 8 22-25-27-1-22-8-22 3-27 0z"/>
<path fill="#1f7a39" d="M5434 2955l27 2 22 1 22 1 26-1 22-21-27-3-22-4-21-2-27 2z"/>
<path fill="#186d2c" d="M5521 2958l27-3 22-4 22-1 27 5 22-16-27-5-22 5-22 1-27-3z"/>
<path fill="#155f26" d="M5609 2955l27 6 27 4 22-7-27-8-27-11z"/>
<path fill="#125722" d="M5653 2965l32 5 22-4-32-8z"/>
<path fill="#0f5a26" d="M5740 2974l27 10 22 14 22 12 22 9 22 10 22 7 22 7 22 10 21 7 22 1 22 3 27 10 22-13-27-11-22-4-22-2-22-7-22-11-21-7-22-7-22-8-22-8-22-10-22-11-27-5z"/>
<path fill="#0a5425" d="M6003 3074l27 11 27 6 22-16-27-4-27-10z"/>
<path fill="#0c5d28" d="M6047 3091l27 2 22 2 22 1 21 1 22 0 27 2 22-9-27-4-22-4-22-3-21-1-22-3-27 0z"/>
<path fill="#0a4e22" d="M6178 3099l27 4 22 3 22 8 22 16 22 15 27 15 21-20-26-14-22-12-22-12-22-3-22-4-27-5z"/>
<path fill="#064622" d="M6310 3160l31 10 22-14-32-16z"/>
<path fill="#04572a" d="M3201 2575l27-1 27-1 21-19-26 3-27 2z"/>
<path fill="#08622d" d="M3245 2573l26-3 27-6 22-20-27 6-27 4z"/>
<path fill="#0f6e30" d="M3288 2564l27-6 27-8 22-24-27 9-27 9z"/>
<path fill="#187630" d="M3332 2550l27-11 22-10 27-6 22-13-27 5-22 5-27 6z"/>
<path fill="#267935" d="M3398 2523l27 0 27 19 21-38-26 1-27 5z"/>
<path fill="#216230" d="M3442 2542l32 30 21-32-32-36z"/>
<path fill="#105228" d="M3464 2572l26 19 22 20 27 11 22-19-27-18-22-17-27-28z"/>
<path fill="#094b27" d="M3529 2622l32 25 22-32-32-12z"/>
<path fill="#08612f" d="M3617 2660l27-10 22-1 26-6 22-22-27 5-21 7-27 0z"/>
<path fill="#10692e" d="M3682 2643l27-9 22-8 27 7 22-21-27-3-22 6-27 6z"/>
<path fill="#156b2f" d="M3748 2633l27 8 22 7 22 6 22 1 22-3 21 0 22 5 22 5 22-1 27-9 22-14-27 4-22 0-22 1-22-4-22-3-21-4-22-4-22-6-22-6-27-4z"/>
<path fill="#1a752f" d="M3967 2652l27-5 27 0 22-16-27 3-27 4z"/>
<path fill="#268136" d="M4011 2647l27 0 22 2 27 3 21-23-27-5-21 2-27 5z"/>
<path fill="#227431" d="M4077 2652l31 6 22-19-32-10z"/>
<path fill="#196428" d="M4098 2658l27 6 22 6 27 5 22-10-27-6-22-9-27-11z"/>
<path fill="#145b25" d="M4164 2675l27 8 22 14 22 8 22 14 27 12 21-16-26-18-22-11-22-3-22-10-27-8z"/>
<path fill="#0b4d22" d="M4274 2731l26 22 27 9 22-17-27-12-27-18z"/>
<path fill="#125e26" d="M4427 2742l32 4 22-8-32-2z"/>
<path fill="#247d32" d="M4493 2737l26-4 27 0 22-24-27 0-27 13z"/>
<path fill="#1e6529" d="M4536 2733l32 11 22-12-32-23z"/>
<path fill="#125321" d="M4558 2744l27 13 22 9 22 13 22 15 27 9 21-15-26-9-22-10-22-14-22-8-27-15z"/>
<path fill="#07441e" d="M4668 2803l27 12 21 22 22 13 27 5 22-13-27-3-22-11-22-19-27-21z"/>
<path fill="#065024" d="M4755 2855l27 5 27 4 22-7-27-6-27-9z"/>
<path fill="#1c7632" d="M4887 2838l31-5 22-18-32 10z"/>
<path fill="#2e8543" d="M4908 2833l27 15 27 5 22-29-27-8-27-1z"/>
<path fill="#217937" d="M4952 2853l27 1 22 3 22 2 27 2 22-17-27-12-22 3-22-2-27-9z"/>
<path fill="#166329" d="M5040 2861l32 2 22-8-32-11z"/>
<path fill="#125a25" d="M5062 2863l27 14 27 14 21-19-27-8-26-9z"/>
<path fill="#12612c" d="M5106 2891l26 12 22 9 22 9 22 10 27 3 22-16-27-13-22-8-22-11-22-7-27-7z"/>
<path fill="#0a5726" d="M5215 2934l32 1 22-8-32-9z"/>
<path fill="#0e5e28" d="M5281 2934l27 4 21 9 22 2 22-3 22 7 22 11 27 7 22-22-27-2-22-8-22-8-22 4-22-3-22-8-26 1z"/>
<path fill="#166c2d" d="M5434 2971l27 0 22 1 22-4 21-5 22-6 22 0 22 6 27 2 22-12-27-6-22-5-22 1-22 4-22 3-21 1-22-1-27-1z"/>
<path fill="#166126" d="M5609 2965l27 3 27 2 22-8-27-5-27-4z"/>
<path fill="#155823" d="M5675 2969l27 4 22 1 21 12 27 11 22-7-27-14-22-10-22 5-26-3z"/>
<path fill="#0f4f20" d="M5762 2997l27 10 22 12 27 15 22-13-27-10-22-9-27-12z"/>
<path fill="#0c5927" d="M5828 3034l27 13 22 7 22 3 22 7 21 6 22 5 22 7 22 9 22 7 22 3 22 2 22 1 27 0 21-15-26-1-22-1-22-2-22-2-22-6-22-11-22-10-22-3-22-1-21-7-22-10-22-7-27-7z"/>
<path fill="#0d5b26" d="M6113 3104l27-2 21 2 22 3 27 3 22-12-27-3-22-4-22-2-27 0z"/>
<path fill="#0a4d21" d="M6200 3110l27 9 27 17 22-14-27-16-27-8z"/>
<path fill="#064621" d="M6244 3136l27 18 22 16 27 19 21-27-26-10-22-15-27-15z"/>
<path fill="#035329" d="M3179 2581l27 3 27 0 22-19-27 1-27 1z"/>
<path fill="#065e2d" d="M3223 2584l27-3 27-5 21-20-27 6-26 3z"/>
<path fill="#0d6b31" d="M3267 2576l26-3 27-9 22-22-27 8-27 6z"/>
<path fill="#167833" d="M3310 2564l27-7 27-10 22-26-27 10-27 11z"/>
<path fill="#217c36" d="M3354 2547l27-12 27 12 22-32-27 0-27 6z"/>
<path fill="#277038" d="M3398 2547l32 21 22-34-32-19z"/>
<path fill="#1c5e2f" d="M3420 2568l32 20 22-24-32-30z"/>
<path fill="#0f512a" d="M3442 2588l27 22 21 13 27 24 22-33-27-11-22-20-26-19z"/>
<path fill="#07602d" d="M3617 2669l27-10 22-8 27-7 21-18-27 9-21 6-27 1z"/>
<path fill="#156d34" d="M3683 2644l26-1 22 8 22 8 22 8 22 6 22 2 22-5 22-8 27 1 21-14-27-5-21 0-22 3-22-1-22-6-22-7-22-8-22-7-27 8z"/>
<path fill="#10642a" d="M3880 2663l26 6 27 0 22-16-27 1-27-5z"/>
<path fill="#177330" d="M3923 2669l27-5 27-5 22-20-27 5-27 9z"/>
<path fill="#227d37" d="M3967 2659l27 2 27 5 22-27-27 0-27 0z"/>
<path fill="#28833b" d="M4011 2666l27 2 27 0 22-24-27-3-27-2z"/>
<path fill="#217832" d="M4055 2668l32 0 21-18-31-6z"/>
<path fill="#1b6c2b" d="M4077 2668l26 1 27 3 22-10-27-6-27-6z"/>
<path fill="#186126" d="M4120 2672l27 6 27 8 22-11-27-8-27-5z"/>
<path fill="#105422" d="M4164 2686l27 14 22 13 22 15 27 7 22-12-27-12-22-14-22-8-27-14z"/>
<path fill="#09451e" d="M4252 2735l32 22 21-12-31-22z"/>
<path fill="#146328" d="M4383 2741l27 2 22 6 27 1 22-13-27 1-22-4-27 0z"/>
<path fill="#1e7730" d="M4449 2750l27-3 22-2 26-2 22-18-27 0-21 4-27 8z"/>
<path fill="#1d682a" d="M4514 2743l32 1 22-8-32-11z"/>
<path fill="#125221" d="M4536 2744l27 12 22 12 22 14 22 19 27 8 22-14-27-9-22-15-22-13-22-9-27-13z"/>
<path fill="#0c4d20" d="M4646 2809l32 5 22-7-32-12z"/>
<path fill="#063e1b" d="M4668 2814l27 18 21 13 27 9 22-7-27-5-22-13-26-22z"/>
<path fill="#054a22" d="M4733 2854l27 11 27 7 22-16-27-4-27-5z"/>
<path fill="#075727" d="M4777 2872l32-2 22-15-32 1z"/>
<path fill="#10672c" d="M4821 2857l27-8 27-1 22-18-27 9-27 9z"/>
<path fill="#217739" d="M4865 2848l32 13 21-36-31 5z"/>
<path fill="#2e8548" d="M4887 2861l27 13 26 1 22-30-27-5-27-15z"/>
<path fill="#258140" d="M4930 2875l27 0 22 1 22 6 27 0 22-29-27-2-22-2-22-3-27-1z"/>
<path fill="#1b7333" d="M5018 2882l32-2 22-25-32-2z"/>
<path fill="#15622a" d="M5040 2880l32 7 22-18-32-14z"/>
<path fill="#0c5927" d="M5062 2887l27 17 22 12 21 2 22 10 22 12 22 6 22 1 22-3 22-5 22 5 22 6 27 2 21-11-27-2-21-9-22-4-22 3-22-2-22-1-22-3-22-10-22-9-22-9-21-12-27-14z"/>
<path fill="#0e5e28" d="M5325 2952l26 1 27 5 22-13-27-7-27 3z"/>
<path fill="#0b5525" d="M5368 2958l27 8 22 10 27 1 22-14-27 0-22-7-27-11z"/>
<path fill="#0e632a" d="M5434 2977l27-1 27-3 22-13-27 4-27-1z"/>
<path fill="#176729" d="M5500 2967l27-6 21 1 22 5 22 2 22 3 22 0 27-2 22-9-27 1-22-2-22-3-22-2-22-6-22 0-27 6z"/>
<path fill="#186126" d="M5653 2970l27 3 22 5 27 11 21-11-26-12-22-1-27-4z"/>
<path fill="#135421" d="M5719 2989l26 8 27 7 22-5-27-10-27-11z"/>
<path fill="#0d4a1f" d="M5762 3004l27 16 22 18 27 18 22-17-27-13-22-15-27-12z"/>
<path fill="#0a5626" d="M5828 3056l27 7 22-1 22 8 22 8 22 6 21 5 22 6 22 7 22 3 27 2 22-12-27-2-22-3-22-7-22-9-22-7-22-5-21-6-22-7-22-3-27-7z"/>
<path fill="#0d5624" d="M6135 3106l26 2 27 4 22-10-27-3-27-3z"/>
<path fill="#0a491f" d="M6178 3112l27 11 27 19 22-14-27-17-27-9z"/>
<path fill="#04401e" d="M6222 3142l27 18 22 16 27 17 22-12-27-19-22-16-27-18z"/>
<path fill="#03542a" d="M3179 2591l27 5 27-6 22-17-27 3-27 0z"/>
<path fill="#096130" d="M3223 2590l27 1 27-4 21-22-26 3-27 5z"/>
<path fill="#0f6d33" d="M3267 2587l26-7 27-4 22-27-27 7-27 9z"/>
<path fill="#157835" d="M3310 2576l32-11 22-26-32 10z"/>
<path fill="#227d3b" d="M3332 2565l27-9 27 9 22-26-27-12-27 12z"/>
<path fill="#1e6533" d="M3376 2565l32 21 22-26-32-21z"/>
<path fill="#12552b" d="M3398 2586l27 22 27 14 22-20-27-22-27-20z"/>
<path fill="#0d4f2a" d="M3442 2622l32 25 21-32-31-13z"/>
<path fill="#04592b" d="M3595 2673l27-9 27-2 22-19-27 8-27 10z"/>
<path fill="#0d6530" d="M3639 2662l27-6 27 5 21-26-26 1-27 7z"/>
<path fill="#126834" d="M3683 2661l26 7 22 6 22 7 22 7 22 2 22-3 22-7 27-8 22-17-27-1-22 8-22 5-22-2-22-6-22-8-22-8-27-8z"/>
<path fill="#10662b" d="M3858 2672l27 2 21 2 27 0 22-20-27 5-22 0-26-6z"/>
<path fill="#1e7a37" d="M3923 2676l27 2 27 3 22-28-27-2-27 5z"/>
<path fill="#227e39" d="M3967 2681l27 4 22-2 27-3 22-20-27 0-22-2-27-5z"/>
<path fill="#1c732f" d="M4033 2680l27-3 22 2 27 5 21-20-27-3-21-1-27 0z"/>
<path fill="#1a692a" d="M4099 2684l26 4 27 6 22-16-27-8-27-6z"/>
<path fill="#125522" d="M4142 2694l27 8 27 13 22-10-27-13-27-14z"/>
<path fill="#0d4d20" d="M4186 2715l27 14 27 6 22-8-27-7-27-15z"/>
<path fill="#09421c" d="M4230 2735l32 19 22-5-32-22z"/>
<path fill="#156729" d="M4339 2750l27-3 22 3 22 5 27 1 22-14-27-1-22-6-22-2-27 5z"/>
<path fill="#19702d" d="M4427 2756l32-4 22-13-32 3z"/>
<path fill="#1c6628" d="M4493 2742l32 1 21-7-32-1z"/>
<path fill="#155320" d="M4515 2743l26 11 27 15 22-9-27-12-27-12z"/>
<path fill="#0e4e20" d="M4558 2769l27 18 22 15 22 10 22 4 27 10 22-2-27-18-22-5-22-8-22-19-27-14z"/>
<path fill="#083c1a" d="M4668 2826l32 9 21 2-31-13z"/>
<path fill="#053f1c" d="M4712 2846l26 14 27 13 22-9-27-7-27-11z"/>
<path fill="#065225" d="M4755 2873l32 4 22-15-32 2z"/>
<path fill="#0c662d" d="M4777 2877l27-7 27-10 22-19-27 8-27 13z"/>
<path fill="#196a33" d="M4821 2860l27 5 22 14 27 11 22-24-27-13-22-13-27 1z"/>
<path fill="#1b713a" d="M4887 2890l32 5 21-28-31-1z"/>
<path fill="#227d41" d="M4909 2895l26 2 22 2 22-1 27-3 22-21-27 0-22-6-22-1-27 0z"/>
<path fill="#1b7737" d="M4996 2895l32-1 22-22-32 2z"/>
<path fill="#176a30" d="M5018 2894l32 4 22-19-32-7z"/>
<path fill="#0c5324" d="M5040 2898l27 10 22 8 27 1 21-7-26-2-22-12-27-17z"/>
<path fill="#084920" d="M5106 2917l27 8 21 15 27 7 22-9-27-6-22-12-27-10z"/>
<path fill="#0d5b27" d="M5215 2946l27-2 22 4 22 3 22 7 22 5 21 2 27 0 22-7-27-8-22-5-21-1-22-2-22-6-22-5-27 5z"/>
<path fill="#0b4f21" d="M5368 2965l32 6 22-3-32-10z"/>
<path fill="#0c5a26" d="M5412 2975l32 3 22-10-32 1z"/>
<path fill="#11672a" d="M5434 2978l27-1 27-5 22-13-27 6-27 3z"/>
<path fill="#17692a" d="M5478 2972l27-5 22-1 21 3 22 1 27 1 22-7-27-3-22-2-22-5-21-1-27 6z"/>
<path fill="#1b6a2a" d="M5609 2973l27 1 22 6 27 3 22-13-27-5-22-3-27 2z"/>
<path fill="#175e25" d="M5675 2983l27 8 27 9 21-11-26-8-27-11z"/>
<path fill="#145823" d="M5719 3000l32 7 21-11-32-7z"/>
<path fill="#0c491e" d="M5741 3007l26 15 22 19 22 17 27 7 22-10-27-7-22-18-22-18-27-16z"/>
<path fill="#095424" d="M5828 3065l27 4 22 8 22 6 22 5 22 5 21 5 27 5 22-9-27-7-22-6-21-5-22-6-22-8-22-8-27 1z"/>
<path fill="#095224" d="M6003 3104l32 2 22-7-32-2z"/>
<path fill="#0c4c1f" d="M6135 3103l27 7 26 15 22-10-27-11-27-4z"/>
<path fill="#043e1d" d="M6178 3125l27 21 22 19 22 16 27 17 22-13-27-17-22-16-22-18-27-19z"/>
<path fill="#075f2f" d="M3223 2608l32-11 22-18-32 4z"/>
<path fill="#0f6b35" d="M3245 2597l27 1 27-5 21-25-27 4-26 7z"/>
<path fill="#117235" d="M3289 2593l31-10 22-26-32 11z"/>
<path fill="#217c3e" d="M3310 2583l27-5 27 5 22-26-27-9-27 9z"/>
<path fill="#196032" d="M3354 2583l32 24 22-29-32-21z"/>
<path fill="#10522b" d="M3376 2607l27 15 27 25 22-33-27-14-27-22z"/>
<path fill="#095f2e" d="M3595 2682l27-11 22 0 27 5 22-23-27-5-22 6-27 2z"/>
<path fill="#0d6331" d="M3661 2676l27 9 22 5 21 5 22 6 22 3 22-3 22-6 22-8 27-5 22-16-27-2-22 8-22 7-22 3-22-2-22-7-22-7-22-6-26-7z"/>
<path fill="#12682e" d="M3858 2682l27 2 22 5 26 5 22-24-27-2-22 0-26-2z"/>
<path fill="#1a7433" d="M3923 2694l27 5 22 1 22-3 22-5 22-5 27 3 22-19-27-2-22 3-22 3-22 2-22-4-27-3z"/>
<path fill="#196c2c" d="M4055 2690l27 6 22 2 26 2 22-14-27-6-21-4-27-5z"/>
<path fill="#156027" d="M4120 2700l32 9 22-15-32-8z"/>
<path fill="#105422" d="M4142 2709l27 9 27 10 22-7-27-14-27-13z"/>
<path fill="#0b491e" d="M4186 2728l27 8 22 16 27 7 22-3-27-10-22-19-27-6z"/>
<path fill="#136529" d="M4296 2754l27-2 21 2 22 4 27 4 22-15-27-5-22-3-22 3-27 6z"/>
<path fill="#186f2d" d="M4383 2762l27 2 27-3 22-17-27 4-27-1z"/>
<path fill="#1d7930" d="M4427 2761l32-10 22-11-32 4z"/>
<path fill="#21702c" d="M4471 2740l32 1 22-6-32-1z"/>
<path fill="#1b5f25" d="M4493 2741l32 11 21-6-31-11z"/>
<path fill="#105121" d="M4515 2752l26 20 22 17 22 17 22 10 22 3 27 4 22-5-27-10-22-4-22-10-22-15-22-18-27-15z"/>
<path fill="#0b481e" d="M4646 2823l32 5 22-1-32-9z"/>
<path fill="#073e1b" d="M4668 2828l27 8 22 16 21 16 27 11 22-10-27-4-22-13-21-14-27-11z"/>
<path fill="#085928" d="M4755 2879l32 2 22-19-32 7z"/>
<path fill="#0f662e" d="M4777 2881l27-5 27 2 22-21-27-5-27 10z"/>
<path fill="#0f5b2a" d="M4821 2878l32 7 22-14-32-14z"/>
<path fill="#0b5528" d="M4843 2885l27 11 27 14 22-23-27-5-27-11z"/>
<path fill="#176e3a" d="M4887 2910l27 8 22 0 26 3 22-31-27 1-22-2-26-2z"/>
<path fill="#157135" d="M4952 2921l27-3 22-5 27-4 22-19-27-4-22 1-27 3z"/>
<path fill="#0d5a26" d="M5018 2909l27 2 27 3 22-6-27-8-27-10z"/>
<path fill="#0b4c20" d="M5084 2914l32 9 22-6-32-8z"/>
<path fill="#08441d" d="M5106 2923l27 12 26 7 22-3-27-7-26-15z"/>
<path fill="#084d21" d="M5149 2942l32 3 22-5-32-1z"/>
<path fill="#0c5b27" d="M5193 2946l27 3 22 4 22 5 22 8 22 6 22 2 22-4 26-5 22-2-27-6-22 0-21-2-22-5-22-7-22-3-22-4-27 2z"/>
<path fill="#0c5323" d="M5368 2965l27 9 27 10 22-14-27-3-27-4z"/>
<path fill="#0f6129" d="M5412 2984l32 4 22-19-32 1z"/>
<path fill="#186e2c" d="M5434 2988l27-6 22-6 22-4 22 3 22 3 21 1 27 2 22-16-27-2-22-1-22-1-21-3-22 1-22 5-27 5z"/>
<path fill="#1b6d2b" d="M5587 2981l27 2 22 5 27 2 22-15-27-3-22-6-27-1z"/>
<path fill="#186126" d="M5653 2990l27 3 27 10 22-11-27-9-27-8z"/>
<path fill="#155b24" d="M5697 3003l32 8 22-12-32-7z"/>
<path fill="#115020" d="M5719 3011l32 12 21-9-31-15z"/>
<path fill="#0b451c" d="M5741 3023l26 17 22 15 27 8 22-6-27-7-22-17-27-19z"/>
<path fill="#095123" d="M5806 3063l27 10 22 8 22 5 22 3 22 6 22 5 27 3 21-8-27-5-21-5-22-5-22-5-22-6-22-8-27-4z"/>
<path fill="#0a5324" d="M5981 3104l27 2 27 3 22-8-27-3-27-2z"/>
<path fill="#0f5021" d="M6113 3100l32 9 22-7-32-7z"/>
<path fill="#08421c" d="M6135 3109l27 23 21 19 27 18 22-12-27-19-22-21-26-15z"/>
<path fill="#033c1c" d="M6200 3169l32 17 22-13-32-16z"/>
<path fill="#0c6734" d="M3245 2621l32-17 22-19-32 5z"/>
<path fill="#14723a" d="M3267 2604l32 2 21-31-31 10z"/>
<path fill="#207941" d="M3289 2606l26-7 27 8 22-32-27-5-27 5z"/>
<path fill="#1b6337" d="M3332 2607l32 16 22-24-32-24z"/>
<path fill="#0f512c" d="M3354 2623l32 24 22-33-32-15z"/>
<path fill="#07592d" d="M3595 2690l27-8 22 5 22 16 22 4 22 5 21 4 22-3 22-2 27-4 22-20-27 6-22 3-22-3-22-6-21-5-22-5-22-9-22-5-27 0z"/>
<path fill="#0f662e" d="M3792 2707l27-8 22-4 22 2 22 2 22 5 21 5 22 3 27-2 22-21-27 3-22-1-22-5-21-5-22-5-22-2-22 5-27 8z"/>
<path fill="#17712f" d="M3967 2710l27-5 22-6 22-2 27 2 22-11-27-6-22-3-22 5-27 5z"/>
<path fill="#16672a" d="M4055 2699l27 4 22 5 27 8 21-15-27-9-21-2-27-2z"/>
<path fill="#125c25" d="M4121 2716l26 8 27 7 22-11-27-10-27-9z"/>
<path fill="#0d5122" d="M4164 2731l27 11 22 11 27 4 22-6-27-7-22-16-27-8z"/>
<path fill="#136428" d="M4296 2754l27 2 21 6 22 7 27 5 22-18-27-2-22-4-22-4-26-2z"/>
<path fill="#197430" d="M4383 2774l32 2 22-23-32 3z"/>
<path fill="#1f8035" d="M4405 2776l32-5 22-28-32 10z"/>
<path fill="#2c8a3c" d="M4427 2771l27-8 27-5 22-25-27-1-27 11z"/>
<path fill="#2e7d3a" d="M4471 2758l32 11 22-25-32-11z"/>
<path fill="#21682e" d="M4493 2769l32 15 21-20-31-20z"/>
<path fill="#165925" d="M4515 2784l32 8 21-11-32-17z"/>
<path fill="#0f5121" d="M4537 2792l26 13 22 10 27 7 22-11-27-3-22-10-27-17z"/>
<path fill="#0f5824" d="M4602 2822l27 4 27 2 22-8-27-5-27-4z"/>
<path fill="#0d4c1f" d="M4646 2828l32 5 22-5-32-8z"/>
<path fill="#083d1a" d="M4668 2833l27 12 22 19 27 15 21-8-27-11-21-16-27-16z"/>
<path fill="#074e23" d="M4734 2879l31 3 22-9-32-2z"/>
<path fill="#0a5a28" d="M4755 2882l27-2 22 4 27 10 22-17-27-7-22-2-27 5z"/>
<path fill="#084c23" d="M4821 2894l27 6 22 16 27 14 22-20-27-8-22-14-27-11z"/>
<path fill="#0a5f2e" d="M4887 2930l27-1 22 2 26-2 22-19-27 3-21-3-27 0z"/>
<path fill="#0e652c" d="M4952 2929l27-4 22-5 22 1 22 1 27-2 22-14-27 0-22-3-22-2-22 4-27 5z"/>
<path fill="#0e5825" d="M5062 2920l32 4 22-9-32-9z"/>
<path fill="#0a4a1f" d="M5084 2924l27 7 22 8 27 6 21-8-27-3-21-7-27-12z"/>
<path fill="#0b5725" d="M5150 2945l26 5 27 7 22-16-27-3-27-1z"/>
<path fill="#0d5b27" d="M5193 2957l27 5 22 1 22 5 22 7 22 2 22-3 22-1 21 4 22 10 27 7 22-14-27-4-22-10-22-9-21 5-22 4-22-2-22-6-22-8-22-5-27-4z"/>
<path fill="#10672b" d="M5412 2994l32-2 22-18-32 6z"/>
<path fill="#1a712f" d="M5434 2992l27 1 22-6 22 1 22-1 22 0 21 1 22 4 22 2 27-2 22-10-27-2-22-5-22-2-22-2-21-1-22-3-22-3-22 4-27 6z"/>
<path fill="#186227" d="M5631 2992l27 5 27 10 22-12-27-10-27-3z"/>
<path fill="#145722" d="M5675 3007l27 6 27 13 22-11-27-12-27-8z"/>
<path fill="#0b491f" d="M5719 3026l27 13 22 13 21 10 22 10 22 10 27 7 22-11-27-5-22-8-22-10-22-8-22-15-26-17z"/>
<path fill="#0a5525" d="M5850 3089l27 6 22 3 22 2 22 2 22 3 21 3 27 1 22-8-27-3-22-2-21-1-22-3-22-5-22-6-27-3z"/>
<path fill="#126228" d="M6047 3106l27-3 27 3 22-14-27 0-27 6z"/>
<path fill="#115623" d="M6091 3106l32 13 22-18-32-9z"/>
<path fill="#07421e" d="M6113 3119l27 22 22 19 22 17 26 13 22-12-27-17-22-18-21-19-27-23z"/>
<path fill="#19703e" d="M3267 2634l27-17 27 11 21-29-27-8-26 7z"/>
<path fill="#165d36" d="M3311 2628l31 19 22-32-32-16z"/>
<path fill="#025027" d="M3705 2714l27 4 26 0 22-15-27 2-27 3z"/>
<path fill="#065c2b" d="M3748 2718l27-2 27-5 22-20-27 8-27 4z"/>
<path fill="#0c622c" d="M3792 2711l27-2 22-1 22 0 27 2 22-14-27-5-22-2-22-2-27 4z"/>
<path fill="#0c5c28" d="M3880 2710l27 6 27 6 21-18-27-3-26-5z"/>
<path fill="#106a2e" d="M3924 2722l26 0 27-5 22-20-27 5-27 2z"/>
<path fill="#166f2e" d="M3967 2717l27-6 22-3 22 1 27 3 22-17-27-4-22-2-22 2-27 6z"/>
<path fill="#15652a" d="M4055 2712l27 6 22 8 27 7 21-17-26-8-22-8-27-5z"/>
<path fill="#115b25" d="M4121 2733l26 4 27 11 22-14-27-11-27-7z"/>
<path fill="#0d5624" d="M4164 2748l27 10 27 4 22-13-27-4-27-11z"/>
<path fill="#106228" d="M4208 2762l27-2 27 5 22-19-27 1-27 2z"/>
<path fill="#14682b" d="M4252 2765l27 1 22-2 27 2 21-12-26-6-22-2-27 0z"/>
<path fill="#136028" d="M4318 2766l27 10 26 9 22-19-27-5-27-7z"/>
<path fill="#166b2e" d="M4361 2785l32 6 22-23-32-2z"/>
<path fill="#1c7935" d="M4383 2791l32 1 22-29-32 5z"/>
<path fill="#26883e" d="M4405 2792l32-3 22-34-32 8z"/>
<path fill="#38944c" d="M4427 2789l27-1 27 7 22-34-27-11-27 5z"/>
<path fill="#277a3a" d="M4471 2795l32 7 22-26-32-15z"/>
<path fill="#19692c" d="M4493 2802l32-1 22-17-32-8z"/>
<path fill="#135b25" d="M4515 2801l32 5 21-9-31-13z"/>
<path fill="#0f5522" d="M4537 2806l26 8 22 9 27 7 22-12-27-4-22-7-27-10z"/>
<path fill="#105b25" d="M4602 2830l27 1 27 2 22-8-27-5-27-2z"/>
<path fill="#0d491e" d="M4646 2833l32 10 22-6-32-12z"/>
<path fill="#083e1a" d="M4668 2843l27 18 27 16 22-6-27-15-27-19z"/>
<path fill="#074920" d="M4712 2877l32 3 21-6-31-3z"/>
<path fill="#095325" d="M4734 2880l26 9 22 5 22 5 27 4 22-11-27-6-22-10-22-4-27 2z"/>
<path fill="#05431f" d="M4821 2903l27 15 27 15 22-11-27-14-27-16z"/>
<path fill="#055226" d="M4865 2933l27 0 22-1 27 0 21-11-26 2-22-2-27 1z"/>
<path fill="#095f2a" d="M4931 2932l27 0 26-1 22-19-27 5-27 4z"/>
<path fill="#0f662d" d="M4974 2931l27 2 22 4 22-3 27-4 22-14-27-4-22 2-22-1-27-1z"/>
<path fill="#0e5925" d="M5062 2930l32-1 22-6-32-7z"/>
<path fill="#0b5122" d="M5084 2929l27 9 22 9 22 9 26 9 22-16-27-7-21-5-22-6-27-8z"/>
<path fill="#0c5b27" d="M5171 2965l27 6 22 2 22 1 22 3 22 4 27 3 22-18-27 3-22-2-22-7-22-5-22-1-27-5z"/>
<path fill="#10652b" d="M5303 2984l27 1 27 2 21-18-26-4-27 1z"/>
<path fill="#0d5926" d="M5347 2987l27 3 21 5 27 8 22-19-27 2-22-7-27-10z"/>
<path fill="#136a2e" d="M5412 3003l32 6 22-24-32-1z"/>
<path fill="#19712f" d="M5434 3009l27-4 22 0 22-3 22-6 22-2 22 2 21 2 27-3 22-11-27 2-22-2-22-4-21-1-22 0-22 1-22-1-27 6z"/>
<path fill="#196427" d="M5609 2995l27 6 27 9 22-11-27-10-27-5z"/>
<path fill="#155923" d="M5653 3010l27 5 27 15 22-12-27-13-27-6z"/>
<path fill="#0b4d20" d="M5697 3030l27 10 22 9 22 12 21 8 22 11 22 13 22 9 27 4 22-16-27-3-22-6-22-7-22-10-22-10-21-10-22-13-27-13z"/>
<path fill="#0c5b26" d="M5872 3106l27-1 22 0 22 4 22 5 22-2 21-3 27 0 22-11-27 2-22 1-22-1-21-3-22-3-22-2-27-2z"/>
<path fill="#13652a" d="M6025 3109l27 3 27 5 22-19-27-3-27 3z"/>
<path fill="#115825" d="M6069 3117l32 12 22-18-32-13z"/>
<path fill="#09441d" d="M6091 3129l27 17 27 18 22-12-27-19-27-22z"/>
<path fill="#043f1e" d="M6135 3164l27 20 27 22 21-24-26-13-27-17z"/>
<path fill="#024f26" d="M3683 2720l27 2 22 1 26 0 22-15-27 2-21 0-27-4z"/>
<path fill="#0a5d2a" d="M3748 2723l27-2 22-2 22-3 22-2 22 2 22 8 22 7 27 2 21-19-26 0-22-6-22-6-22-2-22 0-22 1-22 2-27 5z"/>
<path fill="#146a2d" d="M3924 2733l26-4 22-6 22-4 22 0 22 4 22 7 22 5 22 6 27 4 21-16-26-4-22-7-22-8-22-6-22-3-22-1-22 3-22 6-27 5z"/>
<path fill="#0e5b26" d="M4121 2745l27 8 21 9 22 4 27 2 22-16-27 2-22-4-22-10-27-11z"/>
<path fill="#11652b" d="M4208 2768l27 6 27 3 22-19-27-1-27-5z"/>
<path fill="#156c2e" d="M4252 2777l27 1 27 1 22-21-27-2-27 2z"/>
<path fill="#126129" d="M4296 2779l27 5 22 8 21 7 27 4 22-19-27-1-22-6-21-9-27-10z"/>
<path fill="#197233" d="M4383 2803l32 2 22-24-32 3z"/>
<path fill="#247d3c" d="M4405 2805l27 3 27 2 22-23-27-7-27 1z"/>
<path fill="#186e2f" d="M4449 2810l27 0 27-4 22-13-27 1-27-7z"/>
<path fill="#146328" d="M4493 2806l32 3 22-11-32-5z"/>
<path fill="#105824" d="M4515 2809l27 5 22 11 21 8 22 0 22 2 27 9 22-9-27-10-22-2-22-1-22-7-22-9-26-8z"/>
<path fill="#09451d" d="M4646 2844l27 16 22 14 27 7 22-9-27-3-22-16-27-18z"/>
<path fill="#084f23" d="M4712 2881l27 10 22 7 21 4 22 6 27 13 22-11-27-15-22-4-22-5-22-5-26-9z"/>
<path fill="#044621" d="M4821 2921l27 11 27 3 22-10-27 0-27-15z"/>
<path fill="#065426" d="M4865 2935l27-2 22 3 27 2 22-14-27 0-22 0-27 1z"/>
<path fill="#0b5f2b" d="M4931 2938l27 4 21 3 27 3 22-19-27-4-22-2-26 1z"/>
<path fill="#0e652c" d="M4996 2948l27-2 22-6 27-5 22-14-27 1-22 4-27 3z"/>
<path fill="#0c5323" d="M5062 2935l27 4 27 11 22-11-27-9-27-9z"/>
<path fill="#0a5022" d="M5106 2950l27 9 22 8 22 7 26 3 22-12-27-2-22-6-21-9-27-9z"/>
<path fill="#0c5c28" d="M5193 2977l27 3 22 2 22 5 22 6 27 2 22-18-27-1-22-3-22-4-22-3-27-1z"/>
<path fill="#0e6129" d="M5303 2995l27-1 27-2 22-10-27-3-27-2z"/>
<path fill="#0d5624" d="M5347 2992l27 3 21 14 27 8 22-16-27-6-22-8-26-5z"/>
<path fill="#11692d" d="M5412 3017l27-3 22 0 27-3 22-17-27 3-22 0-27 4z"/>
<path fill="#196f2c" d="M5478 3011l27-5 22-2 22-1 22 0 21-2 27 6 22-14-27-6-22 3-21-2-22-2-22 2-27 6z"/>
<path fill="#186227" d="M5609 3007l27 7 27 6 22-13-27-5-27-9z"/>
<path fill="#125522" d="M5653 3020l27 12 22 10 27 8 22-9-27-9-22-10-27-15z"/>
<path fill="#0b4c20" d="M5719 3050l27 11 22 9 22 10 21 14 22 11 27 3 22-10-27-4-22-9-22-13-22-11-21-8-27-12z"/>
<path fill="#0c5926" d="M5894 3106l27 7 22 5 27-1 22-13-27 2-22-5-27-4z"/>
<path fill="#11642a" d="M5960 3117l27-2 21 2 22 5 27 5 22-18-27-5-22-3-22 0-26 3z"/>
<path fill="#105926" d="M6047 3127l32 7 22-13-32-12z"/>
<path fill="#0b4a1f" d="M6069 3134l32 15 22-11-32-17z"/>
<path fill="#043b1b" d="M6091 3149l27 17 22 21 27 23 22-12-27-22-22-20-27-18z"/>
<path fill="#024c25" d="M3639 2722l27 2 22 2 22 2 27 1 21-14-26 0-22-1-22-2-27 0z"/>
<path fill="#095a29" d="M3727 2729l27-2 21-3 22-3 22 1 22 5 22 7 22 6 27 3 22-18-27-2-22-7-22-8-22-2-22 2-22 3-22 2-27 2z"/>
<path fill="#0e682e" d="M3902 2743l27-3 27-5 21-20-27 6-26 4z"/>
<path fill="#146b2d" d="M3946 2735l26-4 22-1 22 4 27 7 22-19-27-7-22-4-22 0-27 4z"/>
<path fill="#116229" d="M4033 2741l27 6 22 3 22 3 27 6 22-14-27-8-22-4-22-6-27-5z"/>
<path fill="#0f5c27" d="M4121 2759l27 7 21 6 27 5 22-17-27-2-22-4-26-9z"/>
<path fill="#11642b" d="M4186 2777l27 4 22 5 22 2 22 1 22 3 27 4 22-12-27-8-22-5-22-1-22-1-22-3-27-6z"/>
<path fill="#0e5a25" d="M4318 2796l27 3 22 4 26 6 22-12-27-2-22-4-26-7z"/>
<path fill="#12642a" d="M4383 2809l27 4 27-1 22-10-27-2-27-3z"/>
<path fill="#146328" d="M4449 2810l27 0 22 4 27 5 22-13-27-5-22-3-27 4z"/>
<path fill="#115924" d="M4515 2819l27 9 27 3 21-6-26-8-27-11z"/>
<path fill="#115a24" d="M4580 2832l27 8 27 9 22-13-27-9-27-2z"/>
<path fill="#094f23" d="M4624 2849l27 14 22 13 22 9 22 11 22 6 22 6 21 9 22 9 27 8 22-10-27-11-22-13-22-6-21-4-22-7-22-10-22-7-22-14-27-16z"/>
<path fill="#055025" d="M4821 2934l27 6 27 2 22-17-27 2-27-3z"/>
<path fill="#085929" d="M4865 2942l27 3 22 2 22 3 22 3 27 2 21-15-27-3-21-3-22-4-22-2-27-3z"/>
<path fill="#0f6128" d="M5018 2946l27-6 27 2 22-11-27-4-27 5z"/>
<path fill="#0b4e21" d="M5062 2942l27 9 22 6 27 5 22-3-27-8-22-9-27-11z"/>
<path fill="#094b20" d="M5128 2962l27 7 27 7 21-7-26-3-27-7z"/>
<path fill="#0b5926" d="M5172 2976l26 7 22 6 22 6 22 4 27 1 22-13-27-2-22-6-22-5-22-2-27-3z"/>
<path fill="#0d5f29" d="M5281 3000l32-2 22-12-32 1z"/>
<path fill="#0c5423" d="M5325 2994l27 4 22 12 27 5 21-6-27-8-21-14-27-3z"/>
<path fill="#156b2c" d="M5456 3013l27 1 27 0 22-18-27 2-27 5z"/>
<path fill="#1a6f2c" d="M5500 3014l27-3 22-3 22 0 27 6 21-15-27-6-21 2-22 0-27 1z"/>
<path fill="#196528" d="M5588 3014l26 4 27 8 22-14-27-6-27-7z"/>
<path fill="#125823" d="M5631 3026l27 9 22 10 22 9 27 9 22-10-27-11-22-8-22-10-27-12z"/>
<path fill="#0d4f21" d="M5719 3063l27 8 27 11 22-10-27-10-27-9z"/>
<path fill="#094b20" d="M5763 3082l27 12 21 9 27 4 22-7-27-3-22-11-26-14z"/>
<path fill="#0c5725" d="M5850 3107l27 2 22 5 22 5 27 3 22-13-27 1-22-5-22-7-27 1z"/>
<path fill="#10622a" d="M5938 3122l27 3 22 4 22 2 21 4 27 7 22-16-27-7-22-5-22-5-21-2-27 2z"/>
<path fill="#0c5123" d="M6047 3142l32 11 22-12-32-15z"/>
<path fill="#08441e" d="M6069 3153l32 16 22-11-32-17z"/>
<path fill="#03381a" d="M6091 3169l27 22 27 24 22-13-27-23-27-21z"/>
<path fill="#014924" d="M3595 2725l27 1 27 1 22-11-27-2-27-2z"/>
<path fill="#024c25" d="M3661 2727l27 4 27 4 22-14-27-1-27-2z"/>
<path fill="#085a2a" d="M3705 2735l27-1 22-6 21-1 22 4 22 8 22 6 22 5 27 2 22-17-27-3-22-6-22-7-22-5-22-1-22 3-21 3-27 2z"/>
<path fill="#0c652e" d="M3880 2752l27 0 27-4 22-21-27 5-27 3z"/>
<path fill="#116a2e" d="M3924 2748l27-5 21-2 27 2 22-17-27-4-22 1-26 4z"/>
<path fill="#10612a" d="M3989 2743l27 6 22 5 22 4 22 3 22 6 22 8 22 8 22 6 21 4 22 2 22 2 22 0 27 2 22-15-27-3-22-1-22-2-22-5-22-4-22-5-21-6-22-7-22-6-22-3-22-3-22-6-27-7z"/>
<path fill="#105f27" d="M4274 2799l27 0 27 0 22-8-27-3-27-4z"/>
<path fill="#0f5724" d="M4318 2799l27 2 22 8 26 7 22-11-27-4-21-6-27-4z"/>
<path fill="#136128" d="M4405 2815l27-3 22 1 22 7 22 9 22 3 22-2 22 3 27 13 21-14-27-8-21-1-22-3-22-9-22-5-22-4-22 0-27 2z"/>
<path fill="#0e5524" d="M4581 2846l26 13 22 15 27 11 22-17-27-13-22-14-27-9z"/>
<path fill="#085326" d="M4646 2885l27 5 22 15 22 8 22 11 22 6 22 6 21 6 22 6 22 4 22 3 27 3 22-19-27-2-22-3-22-2-22-6-22-8-22-9-21-9-22-6-22-6-22-11-27-9z"/>
<path fill="#085a29" d="M4887 2958l27 0 22 1 22 1 27-4 21-13-26 4-22-2-22-3-27-3z"/>
<path fill="#0e6029" d="M4975 2956l26-6 22-4 22 1 27 6 22-10-27-9-22-2-22 6-27 5z"/>
<path fill="#0c5222" d="M5062 2953l27 2 27 2 22-3-27-5-27-6z"/>
<path fill="#0a4b20" d="M5106 2957l27 9 22 13 27 11 21-15-26-7-22-7-27-7z"/>
<path fill="#0a5826" d="M5172 2990l27 6 21 4 22 2 27-1 22-9-27-1-22-4-22-6-27-6z"/>
<path fill="#0e5c27" d="M5259 3001l27-2 22-2 22 8 22 9 27 3 22-10-27-5-22-12-22-4-22 4-27 2z"/>
<path fill="#116228" d="M5391 3017l26-3 22 0 27 4 22-12-27-1-22 1-27 1z"/>
<path fill="#186c2b" d="M5456 3018l27 2 22-1 22-4 22 1 22 6 22 5 26 5 22-14-27-8-21-4-22-6-22 0-22 3-22 3-27 0z"/>
<path fill="#125924" d="M5609 3032l27 7 22 10 22 10 22 9 27 7 22-12-27-8-22-9-22-9-22-10-27-9z"/>
<path fill="#0b5122" d="M5719 3075l27 9 22 10 22 9 22 6 26 3 22-13-27 0-22-4-21-9-22-12-27-11z"/>
<path fill="#0e5b27" d="M5828 3112l27 2 22 2 22 4 22 6 22 8 22 3 22-1 22 9 21 10 27 12 22-22-27-11-22-7-21-4-22-2-22-4-22-3-22-3-22-5-22-5-27-2z"/>
<path fill="#0c5026" d="M6047 3167l32 17 22-23-32-16z"/>
<path fill="#074421" d="M6069 3184l32 12 22-13-32-22z"/>
<path fill="#024a24" d="M3573 2726l27 4 22-1 22 0 22 4 27 7 22-13-27-4-22-4-22 0-22-1-27-1z"/>
<path fill="#045528" d="M3683 2740l27 1 27-3 22-18-27 6-27 1z"/>
<path fill="#095c2c" d="M3727 2738l27 0 22 5 21 8 22 7 22 4 22 2 22-1 27-3 22-20-27 4-22 0-22-2-22-5-22-6-22-8-22-4-26 1z"/>
<path fill="#0f682d" d="M3902 2760l27-4 22-5 27-1 21-15-27-2-21 2-27 5z"/>
<path fill="#0e5f2a" d="M3968 2750l26 2 22 5 22 6 22 6 22 7 22 8 22 10 22 10 22 4 21-1 22 0 22 0 27 1 22-17-27-2-22 0-22-2-22-2-21-4-22-6-22-8-22-8-22-6-22-3-22-4-22-5-27-6z"/>
<path fill="#116429" d="M4252 2808l27-1 22-5 27 2 22-11-27-2-22 0-27 0z"/>
<path fill="#0f5824" d="M4318 2804l27 6 27 5 21-7-26-7-27-8z"/>
<path fill="#15662b" d="M4405 2813l27 8 22 11 22 8 22 0 22 1 22 6 27 13 22-22-27-13-22-3-22 2-22-3-22-9-22-7-27-1z"/>
<path fill="#0e5725" d="M4559 2860l27 11 21 9 27 6 22-9-27-11-22-15-26-13z"/>
<path fill="#065126" d="M4624 2886l27 7 22 10 22 12 22 14 22 11 22 9 22 6 21 3 22 1 22 4 22 1 22 2 27 4 22-19-27-1-22 0-22-3-22-3-22-4-22-6-21-6-22-6-22-6-22-11-22-8-22-15-27-5z"/>
<path fill="#09602b" d="M4909 2970l27 0 22-7 27-5 21-16-26 6-22 4-27-1z"/>
<path fill="#0f6329" d="M4975 2958l27-3 21 0 22 3 27-1 22-10-27-2-22-6-22-1-27 4z"/>
<path fill="#0f5a25" d="M5062 2957l32 1 22-9-32-2z"/>
<path fill="#0a4c20" d="M5084 2958l27 7 22 14 22 12 22 7 27 9 21-15-26-4-22-6-22-11-22-13-27-9z"/>
<path fill="#0c5f29" d="M5194 3007l26 1 22-4 27 1 22-14-27 2-22 1-27-2z"/>
<path fill="#11652b" d="M5259 3005l27 4 22 10 22 7 22 1 22-1 22-3 22-2 21 5 27 6 22-20-27-2-22-4-22 0-21 3-22 0-22-3-22-9-22-8-27 2z"/>
<path fill="#186d2c" d="M5456 3032l27-3 22-5 22-2 22 5 27 5 22-13-27-5-22-6-22-1-22 4-27 1z"/>
<path fill="#176327" d="M5566 3032l27 5 27 6 21-12-27-7-26-5z"/>
<path fill="#115823" d="M5610 3043l26 10 22 10 22 8 22 8 27 8 22-11-27-9-22-7-22-9-22-10-27-10z"/>
<path fill="#0c5323" d="M5719 3087l27 9 22 10 22 7 27 4 21-13-26-3-22-6-22-9-27-10z"/>
<path fill="#0d5926" d="M5807 3117l26 3 22 2 22 2 22 7 22 5 22 1 22 3 27 13 22-16-27-9-22 1-22-3-22-8-22-6-22-4-22-2-27-2z"/>
<path fill="#0e5429" d="M5982 3153l27 16 22 17 21 11 27 22 22-31-27-12-22-17-22-12-26-10z"/>
<path fill="#024c25" d="M3552 2730l27 3 21-1 22 0 22 5 22 7 27 4 22-15-27-1-22-7-22-4-22 0-22 1-27-4z"/>
<path fill="#07572a" d="M3683 2748l27 1 22 1 22 5 22 8 21 6 22 4 22 2 27-1 22-19-27 1-22-2-22-4-22-7-21-8-22-5-22 0-27 3z"/>
<path fill="#0c5c29" d="M3858 2774l27-4 22-5 22-5 22-4 22-1 21 5 22 8 22 9 22 8 22 8 22 10 22 9 27 6 22-18-27-4-22-10-22-10-22-8-22-7-22-6-22-6-22-5-21-2-22 1-22 5-22 4-27 3z"/>
<path fill="#0e652e" d="M4143 2818l27 2 22-1 26 0 22-20-27 0-22 0-26 1z"/>
<path fill="#12692d" d="M4208 2819l27 1 22-3 22-6 22 0 27 2 22-11-27-6-22-2-22 5-22 1-27-1z"/>
<path fill="#14642a" d="M4318 2813l27 3 22 5 22 5 21 8 22 10 27 7 22-19-27-8-22-11-22-8-21 1-22 1-27-5z"/>
<path fill="#14682c" d="M4449 2851l27 0 22 1 27 8 22-21-27-6-22-1-27 0z"/>
<path fill="#0e5a27" d="M4515 2860l27 12 22 8 22 6 22 8 26 4 22-13-27-7-22-6-21-9-22-11-27-13z"/>
<path fill="#054d25" d="M4624 2898l27 10 22 14 22 10 22 14 22 11 22 6 22 2 22 4 21 2 22-1 22 2 27 7 22-17-27-4-22-2-22-1-22-4-22-1-21-3-22-6-22-9-22-11-22-14-22-12-27-10z"/>
<path fill="#075b2a" d="M4887 2979l27 2 27-9 22-17-27 7-27 0z"/>
<path fill="#0e632a" d="M4931 2972l27-7 22-3 22 2 21 7 22-5 27-6 22-10-27-1-22 1-22-3-21 0-22 3-27 5z"/>
<path fill="#0f5623" d="M5062 2960l32 4 22-7-32-7z"/>
<path fill="#0a481f" d="M5084 2964l27 12 22 11 22 11 27 13 22-12-27-9-22-7-22-12-27-14z"/>
<path fill="#095525" d="M5172 3011l32 6 21-17-31-1z"/>
<path fill="#0e632c" d="M5194 3017l27 2 21 2 22 2 22 9 22 7 22 2 27-4 22-19-27 1-22-1-22-7-22-10-22-4-22-1-27 4z"/>
<path fill="#13692b" d="M5347 3037l27-4 22-5 22 8 21 4 22-2 27-6 22-16-27 5-22 3-22-6-21-5-22 2-27 3z"/>
<path fill="#196f2d" d="M5478 3032l27-2 27 3 22-14-27-5-27 2z"/>
<path fill="#166328" d="M5522 3033l27 2 22 8 22 7 27 7 21-12-26-10-22-6-22-5-27-5z"/>
<path fill="#0d5724" d="M5610 3057l26 8 22 10 22 8 22 8 22 9 22 10 22 8 22 5 22 3 22 3 21 2 22 4 27 2 22-9-27-5-22-7-22-2-22-2-21-3-22-4-22-7-22-10-22-9-22-8-22-8-22-8-27-10z"/>
<path fill="#0d5725" d="M5894 3137l27 2 22 7 27 14 22-15-27-13-22-3-27-1z"/>
<path fill="#0a4a24" d="M5960 3160l27 19 22 20 27 20 21-30-26-11-22-17-27-16z"/>
<path fill="#034f26" d="M3530 2738l27-1 22-1 21 1 22 5 22 7 22 4 22 2 22 4 22 7 22 6 22 5 22 3 26 2 22-15-27-2-22-4-21-6-22-8-22-5-22-1-22-1-22-4-22-7-22-5-22 0-21 1-27-3z"/>
<path fill="#0d5d29" d="M3880 2771l27-6 22-3 22 1 22 5 22 8 21 10 22 10 27 8 22-19-27-8-22-8-22-9-22-8-21-5-22 1-22 4-27 5z"/>
<path fill="#095627" d="M4055 2804l27 9 22 7 22 6 27 4 22-18-27-2-22-6-22-9-27-10z"/>
<path fill="#0e6430" d="M4143 2830l27 4 27 3 21-26-26 0-27 1z"/>
<path fill="#146c2f" d="M4187 2837l26-1 22-5 22-6 22-3 22 2 22 3 22 4 22 5 27 9 21-19-26-8-22-5-22-5-22-3-22-2-22 0-22 6-22 3-27-1z"/>
<path fill="#11622a" d="M4384 2845l27 10 21 6 22 0 22-3 27 7 22-13-27-8-22-1-22 0-22-7-27-10z"/>
<path fill="#0d5625" d="M4493 2865l27 12 22 8 22 13 27 9 22-21-27-8-22-6-22-8-27-12z"/>
<path fill="#0c5d2a" d="M4581 2907l32 0 21-17-31-4z"/>
<path fill="#0a5224" d="M4603 2907l31 3 22-10-32-10z"/>
<path fill="#034722" d="M4624 2910l27 17 22 10 22 12 22 12 22 5 22 4 22 5 27 3 21-15-26-2-22-4-22-2-22-6-22-11-22-14-22-10-27-14z"/>
<path fill="#045026" d="M4800 2978l26-1 22 1 27 4 22-11-27-7-22-2-27 1z"/>
<path fill="#0c5f29" d="M4931 2968l27-2 27 3 22-13-27-2-27 3z"/>
<path fill="#115f27" d="M5019 2967l26-6 27 5 22-10-27-4-27 6z"/>
<path fill="#0c4b1f" d="M5062 2966l27 9 22 12 27 11 22-8-27-11-22-11-27-12z"/>
<path fill="#08481f" d="M5128 2998l27 11 27 9 22-9-27-6-27-13z"/>
<path fill="#0a5827" d="M5172 3018l27 7 22 4 21 1 22 8 22 8 27 4 22-17-27-2-22-7-22-9-22-2-21-2-27-2z"/>
<path fill="#106228" d="M5347 3038l27-5 27 5 22-10-27-8-27 5z"/>
<path fill="#105f27" d="M5391 3038l27 4 27 2 21-14-27 2-26-4z"/>
<path fill="#186d2c" d="M5435 3044l26 0 22-3 22-1 22 3 27 8 22-16-27-8-22-2-22-3-22 2-27 6z"/>
<path fill="#166428" d="M5544 3051l27 7 27 3 22-12-27-7-27-7z"/>
<path fill="#105522" d="M5588 3061l27 5 22 10 21 9 27 8 22-10-27-8-22-8-22-10-26-8z"/>
<path fill="#0c5223" d="M5675 3093l27 9 22 9 22 7 22 7 22 4 27 4 22-12-27-3-22-3-22-5-22-8-22-10-27-9z"/>
<path fill="#0e5c28" d="M5807 3133l27 5 21 3 22 3 22 6 22 10 27 13 22-21-27-14-22-7-22-2-22-2-22-4-26-2z"/>
<path fill="#084822" d="M5938 3173l27 19 27 12 22-13-27-20-27-19z"/>
<path fill="#024d25" d="M3530 2741l27 2 22 2 22 4 21 5 22 3 22 3 22 5 22 7 22 6 22 4 22 3 27 1 21-12-26-2-22-3-22-5-22-6-22-7-22-4-22-2-22-4-22-7-22-5-21-1-27 1z"/>
<path fill="#0c5c29" d="M3858 2773l27-4 22 0 22 5 22 7 22 8 22 8 21 10 22 8 27 7 22-17-27-9-22-8-22-10-21-10-22-8-22-5-22-1-22 3-27 6z"/>
<path fill="#075427" d="M4055 2822l27 5 22 6 22 7 27 6 22-20-27-4-22-4-22-6-27-7z"/>
<path fill="#0c6130" d="M4143 2846l27 5 27 2 21-25-26 1-27-3z"/>
<path fill="#116f35" d="M4187 2853l27-1 26-6 22-29-27 6-27 5z"/>
<path fill="#1a7638" d="M4230 2846l27-5 22-1 27 3 22-24-27-3-22-2-27 3z"/>
<path fill="#156a2f" d="M4296 2843l27 2 27 2 22-19-27-5-27-4z"/>
<path fill="#0f5f28" d="M4340 2847l27 7 22 8 22 5 21 1 22-2 27 0 22-9-27-7-22 3-22 0-21-6-22-10-27-9z"/>
<path fill="#0b5023" d="M4471 2866l27 10 22 14 22 17 27 11 22-19-27-9-22-13-22-8-27-12z"/>
<path fill="#0a5b29" d="M4559 2918l27-1 27-4 21-11-26-3-27 0z"/>
<path fill="#05451f" d="M4603 2913l27 13 21 13 27 11 22-9-27-12-22-10-27-17z"/>
<path fill="#024220" d="M4668 2950l27 9 22 6 27 8 22-11-27-4-22-5-27-12z"/>
<path fill="#0b5e29" d="M4887 2977l27-1 22-2 27-2 22-11-27-3-22 2-27 9z"/>
<path fill="#115a24" d="M5019 2964l26 4 27 12 22-13-27-9-27-5z"/>
<path fill="#0c4e20" d="M5062 2980l27 11 22 7 27 6 22-3-27-11-22-11-27-12z"/>
<path fill="#08481f" d="M5128 3004l27 11 27 10 22-8-27-7-27-9z"/>
<path fill="#095023" d="M5172 3025l32 4 22-8-32-4z"/>
<path fill="#084f22" d="M5216 3029l27 9 21 9 27 6 22-11-27-4-22-8-27-8z"/>
<path fill="#106228" d="M5325 3040l27-3 27 1 22-8-27-5-27 5z"/>
<path fill="#105c26" d="M5369 3038l27 3 27 8 22-13-27-2-27-4z"/>
<path fill="#13662a" d="M5413 3049l32 5 21-18-31 0z"/>
<path fill="#176d2d" d="M5435 3054l26-2 22-3 22 5 27 6 22-17-27-8-22-3-22 1-27 3z"/>
<path fill="#156428" d="M5522 3060l27 5 22 1 27 2 22-10-27-5-22-3-27-7z"/>
<path fill="#105322" d="M5588 3068l27 7 22 10 21 9 27 8 22-8-27-9-22-8-21-9-27-10z"/>
<path fill="#0b4f21" d="M5675 3102l27 6 22 7 22 7 22 6 22 7 27 6 22-11-27-5-22-4-22-4-22-7-22-7-27-9z"/>
<path fill="#0e5c29" d="M5807 3141l27 5 22 11 26 9 22-24-27-6-22-3-26-3z"/>
<path fill="#125d2e" d="M5872 3166l27 8 27 16 22-25-27-13-27-10z"/>
<path fill="#0a4d27" d="M5916 3190l27 12 27 21 22-27-27-12-27-19z"/>
<path fill="#024c25" d="M3508 2750l27 0 22 2 22 4 22 4 21 3 22 2 22 4 22 8 22 5 22 4 22 3 27-1 22-10-27-1-22-3-22-4-22-6-22-7-22-5-22-3-22-3-21-5-22-4-22-2-27-2z"/>
<path fill="#055527" d="M3793 2786l32-5 21-10-32 5z"/>
<path fill="#0c5b28" d="M3836 2776l27-2 22 3 22 7 22 8 22 8 22 8 27 7 21-16-26-10-22-8-22-8-22-7-22-5-22 0-27 4z"/>
<path fill="#065126" d="M3990 2815l27 7 21 6 22 5 22 7 22 7 22 8 22 5 27 4 22-19-27-2-22-5-22-6-22-7-22-6-22-5-22-7-27-8z"/>
<path fill="#0a5f2f" d="M4165 2864l32 2 22-22-32 1z"/>
<path fill="#106a35" d="M4187 2866l32 0 21-28-31 6z"/>
<path fill="#167339" d="M4209 2866l26-1 22-4 27-4 22-22-27-3-22 1-27 5z"/>
<path fill="#12692f" d="M4274 2857l27-1 27 2 22-19-27-2-27-2z"/>
<path fill="#0e5e28" d="M4318 2858l27 5 22 6 22 3 22-1 22 1 26 1 22-15-27 0-22 2-21-1-22-5-22-8-27-7z"/>
<path fill="#0e5624" d="M4449 2873l32 9 22-14-32-10z"/>
<path fill="#094b21" d="M4471 2882l27 14 22 15 27 11 22-12-27-11-22-17-27-14z"/>
<path fill="#095626" d="M4537 2922l27 2 22 1 27 8 22-15-27-13-22 4-27 1z"/>
<path fill="#04431f" d="M4603 2933l27 9 21 8 22 7 22 6 27 14 22-12-27-8-22-6-22-9-22-11-26-13z"/>
<path fill="#095626" d="M4865 2976l32 4 22-12-32 1z"/>
<path fill="#126027" d="M4975 2966l27 3 22 8 27 8 21-13-27-12-21-4-27 0z"/>
<path fill="#0d5523" d="M5041 2985l26 11 22 5 27 4 22-9-27-6-22-7-27-11z"/>
<path fill="#0a4c20" d="M5106 3005l27 9 22 9 27 5 22-7-27-4-22-10-27-11z"/>
<path fill="#094d21" d="M5194 3029l27 9 22 9 26 6 22-8-27-6-21-9-27-9z"/>
<path fill="#0a5927" d="M5259 3053l32-1 22-11-32 4z"/>
<path fill="#116329" d="M5281 3052l27-8 22-1 22 3 22 3 22 5 22 6 27 0 21-16-26 2-22-5-22-8-22-3-22-1-22 3-27 9z"/>
<path fill="#15682a" d="M5435 3060l27 1 21 3 22 4 22 3 22 0 27 2 22-13-27-2-22-1-22-5-22-6-22-5-27 3z"/>
<path fill="#135b25" d="M5566 3073l27 5 27 10 22-11-27-10-27-7z"/>
<path fill="#0d5122" d="M5610 3088l27 8 22 6 21 4 22 6 22 6 22 8 22 8 22 8 22 10 22 15 27 13 21-22-26-9-22-11-22-5-22-6-22-7-22-6-22-7-22-7-22-6-22-8-26-9z"/>
<path fill="#105a2e" d="M5851 3180l26 13 27 9 22-20-27-16-27-8z"/>
<path fill="#0b502a" d="M5894 3202l32 21 22-29-32-12z"/>
<path fill="#024c25" d="M3508 2755l27 4 22 4 22 3 22 3 22 2 21 4 22 5 22 5 22 4 22 3 27 0 22-12-27 1-22-3-22-4-22-5-22-8-22-4-22-2-21-3-22-4-22-4-27-2z"/>
<path fill="#0a5928" d="M3793 2785l27-4 21-1 22 5 22 8 22 9 22 7 27 5 22-14-27-8-22-8-22-8-22-7-22-3-22 2-26 5z"/>
<path fill="#054d24" d="M3946 2814l27 5 22 5 22 6 21 8 22 8 22 6 22 6 22 6 22 6 27 6 22-18-27-2-22-4-22-5-22-8-22-7-22-7-22-5-21-6-22-7-27-7z"/>
<path fill="#0a5f30" d="M4165 2876l27 4 27-1 21-22-26 1-27 0z"/>
<path fill="#0e662e" d="M4209 2879l27-5 21-5 22-1 22 2 27 2 22-17-27-5-22-2-22 1-22 4-27 4z"/>
<path fill="#0c5c28" d="M4318 2872l27 1 27 0 22-9-27-3-27-6z"/>
<path fill="#0e5a26" d="M4384 2872l27 3 22 3 26 11 22-15-27-9-21-1-27-1z"/>
<path fill="#074b22" d="M4449 2889l27 13 22 17 22 8 22-2 22 7 22 7 22 5 22 6 22 8 26 11 22-14-27-6-22-7-21-8-22-9-22-8-22-1-22-2-22-11-22-15-27-14z"/>
<path fill="#034320" d="M4668 2969l32 14 22-14-32-14z"/>
<path fill="#0a5525" d="M4844 2976l26 6 27 1 22-11-27 0-27-4z"/>
<path fill="#106028" d="M4887 2983l27-6 22-3 22-1 22 6 22 9 22 7 22 5 21 7 27 4 22-14-27-4-22-5-21-11-22-8-22-8-22-3-22 5-22 3-27 6z"/>
<path fill="#0b5223" d="M5084 3011l27 7 22 6 22 4 22 3 27 10 22-11-27-9-22-1-22-5-22-9-27-9z"/>
<path fill="#094e21" d="M5194 3041l27 8 27 5 21-9-26-6-27-9z"/>
<path fill="#0a5725" d="M5238 3054l32 1 21-11-32 1z"/>
<path fill="#126529" d="M5260 3055l26-2 22-1 22 2 22 1 22 3 22 3 22 4 22 4 22 3 21 2 22 1 22 1 27 3 22-14-27-2-22 0-22-3-22-4-21-3-22-1-22 0-22-6-22-5-22-3-22-3-22 1-27 8z"/>
<path fill="#125c25" d="M5544 3079l27 6 22 9 22 6 22 4 27 3 21-9-26-4-22-6-22-8-22-10-27-5z"/>
<path fill="#0e5322" d="M5654 3107l26 5 22 7 22 7 27 7 22-7-27-8-22-8-22-6-27-6z"/>
<path fill="#0a4b21" d="M5741 3133l27 7 22 18 22 16 22 15 27 16 21-20-26-13-22-13-22-15-22-10-27-8z"/>
<path fill="#094e29" d="M5851 3205l32 18 21-29-32-9z"/>
<path fill="#024c25" d="M3486 2763l27 2 22 3 22 4 22 3 22 2 22 3 21 3 22 4 22 5 22 4 22 1 27-3 22-13-27 3-22 0-22-3-22-4-22-5-22-5-21-4-22-2-22-3-22-3-22-4-27-4z"/>
<path fill="#095828" d="M3749 2794l27-4 22-2 22 2 22 6 21 7 22 8 22 5 22 3 27 1 22-9-27-5-22-5-22-7-22-9-22-8-22-5-21 1-22 4-27 4z"/>
<path fill="#044b23" d="M3946 2820l27 4 22 9 22 10 22 8 21 5 22 5 22 7 22 7 22 8 27 5 22-16-27-4-22-6-22-6-22-6-22-6-22-6-22-8-21-8-22-6-27-5z"/>
<path fill="#055a2b" d="M4165 2888l27 1 27-7 22-16-27 5-27 1z"/>
<path fill="#0c602a" d="M4209 2882l27-5 21 1 22 5 22 0 22-4 22-3 22 0 22 3 27 5 22-14-27-3-22-3-22 1-22 0-22-1-22-2-22-2-22 1-26 5z"/>
<path fill="#0d5423" d="M4406 2884l32 10 21-13-31-11z"/>
<path fill="#074920" d="M4428 2894l27 12 21 15 22 9 22-2 22 5 22 7 22 3 22 5 27 12 22-10-27-8-22-6-22-5-22-7-22-7-22 2-22-8-22-17-27-13z"/>
<path fill="#04411e" d="M4625 2960l32 15 21-14-31-11z"/>
<path fill="#0a5323" d="M4822 2976l27 5 26 3 22-9-27-1-26-6z"/>
<path fill="#0f5e28" d="M4865 2984l27-2 22-1 22 2 22 6 22 8 22 5 22 3 22 7 22 6 21 4 27 4 22-10-27-6-22-7-22-4-21-7-22-5-22-7-22-9-22-6-22 1-22 3-27 6z"/>
<path fill="#0b5424" d="M5106 3026l27 3 22 7 22 8 22 5 22 4 22 5 27 3 21-16-26 2-22-1-22-5-22-8-22-10-22-3-27-4z"/>
<path fill="#126429" d="M5260 3061l26 0 22 0 22-1 22 4 22 4 22 5 22 5 22 3 22 0 22-3 21 2 22 4 27 6 22-13-27-6-22-3-22-1-22-1-21-2-22-3-22-4-22-4-22-3-22-3-22-1-22-2-27 1z"/>
<path fill="#115c25" d="M5544 3090l27 7 22 6 22 5 22 3 22 5 22 5 26 5 22-8-27-7-22-7-21-5-22-3-22-4-22-6-27-9z"/>
<path fill="#0e5021" d="M5697 3126l27 6 27 12 22-12-27-7-27-7z"/>
<path fill="#07451f" d="M5741 3144l27 20 22 19 22 17 27 11 22-14-27-16-22-15-22-16-27-18z"/>
<path fill="#024c25" d="M3486 2769l27 4 22 4 22 3 22 3 22 2 22 3 22 4 21 5 22 4 27 1 22-13-27-1-22-4-22-5-22-4-21-3-22-3-22-2-22-3-22-4-27-3z"/>
<path fill="#065929" d="M3705 2802l27-3 22-2 27 1 22-18-27 2-22 4-27 3z"/>
<path fill="#0b5b2b" d="M3771 2798l27 4 22 7 22 7 21 5 27 1 22-14-27-5-22-8-21-7-22-6-27-2z"/>
<path fill="#075325" d="M3880 2822l27 0 22 1 27 4 22-11-27-4-22-1-27-3z"/>
<path fill="#044b23" d="M3946 2827l27 8 22 10 22 10 22 8 21 6 22 6 22 6 22 6 22 5 27 3 22-14-27-1-22-5-22-8-22-7-22-7-22-5-21-5-22-8-22-10-27-9z"/>
<path fill="#085d2b" d="M4165 2895l27-2 22-4 22-1 22 1 21 0 27-1 22-17-27 4-22 0-22-5-21-1-22 5-27 7z"/>
<path fill="#0e6129" d="M4296 2888l27-3 22-2 22 2 27 4 22-13-27-5-22-3-22 0-27 3z"/>
<path fill="#0c5022" d="M4384 2889l27 7 27 9 22-7-27-12-27-10z"/>
<path fill="#07441e" d="M4428 2905l27 11 26 8 22-2-27-9-26-15z"/>
<path fill="#084c21" d="M4493 2927l27 3 27 5 22-3-27-7-27-5z"/>
<path fill="#06411d" d="M4559 2938l27 6 27 14 22-6-27-12-27-5z"/>
<path fill="#043b1b" d="M4603 2958l32 14 22-5-32-15z"/>
<path fill="#0b5122" d="M4778 2970l27 3 22 8 27 4 21-9-26-3-22-5-27-3z"/>
<path fill="#0e5f28" d="M4844 2985l27 3 26 2 22-17-27 1-27 2z"/>
<path fill="#106229" d="M4887 2990l27 4 22 6 22 4 22 1 27 4 22-12-27-3-22-5-22-8-22-6-27-2z"/>
<path fill="#0d5825" d="M4997 3009l27 6 22 6 22 4 21 3 22 4 22 8 22 6 22 1 22 3 22 8 22 10 27 4 21-19-26 0-22-3-22-5-22-4-22-5-22-8-22-7-22-3-22-4-21-4-22-6-27-7z"/>
<path fill="#13672b" d="M5260 3072l27-1 21 0 22 3 22 4 22 6 22 5 22 3 22-4 22-5 22-2 26 5 22-10-27-4-21-2-22 3-22 0-22-3-22-5-22-5-22-4-22-4-22 1-27 0z"/>
<path fill="#125c25" d="M5500 3086l27 5 22 7 22 7 22 7 22 6 22 3 22 2 22 5 26 6 22-10-27-6-21-5-22-5-22-5-22-3-22-5-22-6-22-7-27-6z"/>
<path fill="#0d4d20" d="M5697 3134l32 14 22-12-32-12z"/>
<path fill="#06411e" d="M5719 3148l27 21 22 20 22 20 27 19 22-25-27-11-22-17-22-19-27-20z"/>
<path fill="#024c25" d="M3464 2776l27 2 22 3 22 4 22 3 22 2 22 4 22 4 22 5 21 3 27 2 22-14-27-1-22-4-21-5-22-4-22-3-22-2-22-3-22-3-22-4-27-4z"/>
<path fill="#085729" d="M3683 2808l27-1 22 0 22 3 22 6 22 7 22 6 22 1 22-3 21-2 22 2 22 6 27 7 22-13-27-8-22-4-22-1-22 0-22-1-21-5-22-7-22-7-22-4-22-1-22 2-27 3z"/>
<path fill="#034b24" d="M3946 2840l27 8 22 11 22 12 22 8 22 4 21 3 22 4 22 4 22 5 27 3 22-17-27 2-22-3-22-5-22-6-22-6-22-6-21-6-22-8-22-10-27-10z"/>
<path fill="#075b2a" d="M4165 2902l27 0 22-3 22-5 27-3 21-10-26 0-22-1-22 1-27 4z"/>
<path fill="#0d5e28" d="M4274 2890l27 1 22 0 22 1 22 2 27 6 22-12-27-7-22-4-22-2-22 2-27 3z"/>
<path fill="#0b4e21" d="M4384 2900l27 7 27 6 22-5-27-11-27-9z"/>
<path fill="#094a20" d="M4428 2913l27 6 22 5 21 6 22 3 22 2 22 6 27 11 22-2-27-14-22-6-22-3-22-5-22-3-22-3-26-8z"/>
<path fill="#0d5624" d="M4756 2970l27 3 22 7 22 7 22 5 27 6 21-16-26-2-22-3-22-4-22-8-27-3z"/>
<path fill="#10622b" d="M4866 2998l26 7 22 5 22 4 22 1 22 3 22 4 22 8 22 7 22 6 22 4 21 1 22 3 27 0 22-12-27-1-22-6-22-8-22-4-21-3-22-4-22-6-22-6-22-4-22-1-22-4-22-6-27-4z"/>
<path fill="#0d5a27" d="M5150 3051l27 3 22 11 22 13 27 6 22-20-27-4-22-10-22-8-27-3z"/>
<path fill="#13672c" d="M5238 3084l27-1 22 0 21 3 22 5 22 6 22 5 22-1 22-6 22-7 22-2 22 3 22 5 26 6 22-10-27-7-22-5-21-5-22 2-22 5-22 4-22-3-22-5-22-6-22-4-22-3-21 0-27 1z"/>
<path fill="#125e26" d="M5522 3100l27 7 22 9 22 7 22 3 22 1 22 4 27 8 21-13-26-6-22-5-22-2-22-3-22-6-22-7-27-7z"/>
<path fill="#0e4e20" d="M5676 3139l32 14 21-13-32-14z"/>
<path fill="#083f1b" d="M5698 3153l26 20 27 19 22-11-27-20-27-21z"/>
<path fill="#033a1c" d="M5741 3192l27 20 27 20 22-12-27-19-27-20z"/>
<path fill="#024c25" d="M3464 2782l27 4 22 3 22 3 22 2 22 5 22 4 22 5 22 4 22 3 26 2 22-18-27 1-22-2-21-3-22-5-22-4-22-4-22-2-22-3-22-4-27-3z"/>
<path fill="#065528" d="M3683 2817l27 1 22 4 22 6 22 6 22 4 22-1 22-5 22-3 21 3 22 7 27 7 22-14-27-7-22-6-22-2-21 2-22 3-22-1-22-6-22-7-22-6-22-3-27 0z"/>
<path fill="#034b24" d="M3924 2846l27 9 22 12 22 11 22 7 22 3 22 2 21 2 22 5 22 6 22 6 27 2 22-17-27 0-22-3-22-5-22-4-22-4-21-3-22-4-22-8-22-12-22-11-27-8z"/>
<path fill="#0b5a27" d="M4231 2894l27-1 27 1 21-11-27-1-26 1z"/>
<path fill="#0d5925" d="M4296 2894l27 1 22 4 22 6 27 5 22-11-27-7-22-6-22-2-27-1z"/>
<path fill="#0b5122" d="M4384 2910l27 4 22 4 22 6 22 6 21 4 22 3 27 3 22-7-27-6-22-2-22-3-21-6-22-5-22-6-27-6z"/>
<path fill="#09471e" d="M4537 2940l32 6 22-2-32-11z"/>
<path fill="#07411c" d="M4603 2959l32 7 22-1-32-4z"/>
<path fill="#0d5926" d="M4712 2972l27 1 22 1 22 7 22 8 22 8 22 8 22 8 22 7 26 5 22-19-27-4-22-5-21-7-22-6-22-5-22-7-22-7-22-3-27 2z"/>
<path fill="#136730" d="M4909 3025l27 3 22 4 22 5 22 8 22 9 22 6 22 2 22-2 21 2 22 3 22 5 27 9 22-22-27-11-22-3-22 0-22-3-21-1-22-4-22-6-22-7-22-8-22-4-22-3-27-1z"/>
<path fill="#0d5e2b" d="M5172 3079l27 9 22 5 27 2 22-20-27 1-22-6-27-13z"/>
<path fill="#11682f" d="M5238 3095l27 2 22 3 22 4 21 5 22 4 22-1 22-7 27-7 22-18-27 7-22 6-22 1-22-5-22-6-22-5-21-3-27 0z"/>
<path fill="#186e2d" d="M5413 3098l27-1 22 3 27 4 22-18-27-5-22-3-27 2z"/>
<path fill="#156529" d="M5479 3104l27 4 26 6 22-15-27-7-26-6z"/>
<path fill="#126027" d="M5522 3114l27 7 22 6 22 4 22 3 22 5 27 6 22-14-27-8-22-4-22-1-22-3-22-7-27-9z"/>
<path fill="#0e4f21" d="M5654 3145l32 13 22-13-32-14z"/>
<path fill="#083e1b" d="M5676 3158l27 18 26 18 22-10-27-19-26-20z"/>
<path fill="#023519" d="M5719 3194l27 20 27 22 22-12-27-20-27-20z"/>
<path fill="#024c25" d="M3443 2789l27 2 21 2 22 2 22 3 22 4 22 6 22 5 22 4 22 4 22 3 21 4 22 3 27 5 22-16-27-6-22-4-22-1-21-2-22-3-22-4-22-5-22-4-22-5-22-2-22-3-22-3-27-4z"/>
<path fill="#045227" d="M3727 2836l27 4 22 3 22-1 27-5 22-13-27 5-22 1-22-4-27-6z"/>
<path fill="#075626" d="M3815 2837l27-2 22 2 27 7 21-13-27-7-21-3-27 3z"/>
<path fill="#034a24" d="M3881 2844l26 9 22 12 22 11 22 8 22 5 22 3 22 2 22 2 22 5 21 7 22 5 27 2 22-12-27-2-22-6-22-6-22-5-21-2-22-2-22-3-22-7-22-11-22-12-22-9-27-7z"/>
<path fill="#0c5925" d="M4187 2904l27-5 22-2 22-1 22-1 21 0 22 5 22 6 22 6 22 4 22 4 22 6 22 6 27 4 21-10-26-4-22-6-22-6-22-4-22-4-22-5-22-6-22-4-22-1-21 0-22-1-22 1-27 5z"/>
<path fill="#0d5724" d="M4472 2936l27 3 26 1 22-8-27-3-27-3z"/>
<path fill="#0a461e" d="M4559 2944l27 8 22 11 27 6 22-7-27-4-22-7-27-7z"/>
<path fill="#0d5926" d="M4691 2969l26 7 22 5 22 6 22 8 22 9 22 8 22 9 22 9 27 7 21-20-26-5-22-7-22-8-22-8-22-8-22-8-22-7-22-1-27-1z"/>
<path fill="#146733" d="M4888 3037l26 9 27 7 22-29-27-4-27-3z"/>
<path fill="#146935" d="M4931 3053l27 3 27 1 22-20-27-8-27-5z"/>
<path fill="#0c5f2d" d="M4975 3057l27 7 22 6 22 2 22 0 27 4 21-22-26-2-22 2-22-2-22-6-27-9z"/>
<path fill="#186c38" d="M5085 3076l27 8 21 8 22 6 27 4 22-22-27-9-22-9-22-5-27-3z"/>
<path fill="#0d622e" d="M5172 3102l27 3 22 2 22 4 22 3 22 4 22 4 21 1 27-1 22-18-27 1-22-4-21-5-22-4-22-3-22-2-22-2-27-5z"/>
<path fill="#136f2f" d="M5347 3122l27-6 22-5 27-1 22-21-27 1-22 7-27 7z"/>
<path fill="#176d2e" d="M5413 3110l27 3 22 4 22 3 27 3 21-17-26-6-22-4-22-4-27-3z"/>
<path fill="#126128" d="M5501 3123l27 3 21 4 22 6 22 6 22 6 27 3 22-14-27-6-22-5-22-3-22-4-22-6-27-7z"/>
<path fill="#0e5121" d="M5632 3151l32 8 22-9-32-13z"/>
<path fill="#083d1a" d="M5654 3159l27 17 27 17 21-7-26-18-27-18z"/>
<path fill="#033317" d="M5698 3193l27 17 26 12 22 6-27-22-27-20z"/>
<path fill="#024b24" d="M3443 2795l27 3 21 1 22 2 22 5 22 5 22 6 22 4 22 5 22 3 22 4 22 4 21 5 27 3 22-13-27-4-22-5-22-3-21-4-22-3-22-4-22-4-22-5-22-6-22-4-22-3-22-2-26-2z"/>
<path fill="#035227" d="M3727 2845l27 3 22-2 27-3 22-14-27 5-22 1-27-3z"/>
<path fill="#075727" d="M3793 2843l27-1 22 2 27 7 22-15-27-7-22-2-27 2z"/>
<path fill="#034923" d="M3859 2851l27 9 21 11 22 10 22 7 22 5 22 2 22 2 22 2 22 5 22 5 26 4 22-8-27-5-21-7-22-5-22-2-22-2-22-3-22-5-22-8-22-11-22-12-26-9z"/>
<path fill="#0d5b27" d="M4165 2908l27-4 22-3 22-2 22-2 22 1 22 5 21 7 22 7 22 5 22 5 22 5 27 4 22-12-27-6-22-6-22-4-22-4-22-6-22-6-22-5-21 0-22 1-22 1-22 2-27 5z"/>
<path fill="#0c4a1f" d="M4537 2941l27 9 22 11 27 6 22-6-27-6-22-11-27-8z"/>
<path fill="#0d5827" d="M4647 2966l27 3 22 9 22 8 21 9 22 10 22 10 22 9 22 5 22 11 22 11 27 9 21-22-26-9-22-7-22-9-22-9-22-8-22-9-22-8-22-6-22-5-21-7-27 0z"/>
<path fill="#0b5d2d" d="M4888 3060l27 7 21 2 22-1 27 2 22-14-27-7-22-1-22-3-27-7z"/>
<path fill="#075628" d="M4975 3070l27 6 27 5 22-17-27-2-27-6z"/>
<path fill="#0e612f" d="M5019 3081l27 4 27 7 22-24-27-4-27 0z"/>
<path fill="#136536" d="M5063 3092l27 11 22 9 21 3 27 1 22-22-27-4-22-6-21-8-27-8z"/>
<path fill="#0b5f2d" d="M5150 3116l27 2 22 4 22 3 22 2 22 2 22 2 22 0 22-1 26-3 22-19-27 6-22 1-21-1-22-4-22-4-22-3-22-4-22-2-27-3z"/>
<path fill="#136a2d" d="M5347 3127l27-3 22 0 22 1 22 3 22 2 22 2 22 2 27 3 21-15-26-4-22-3-22-3-22-3-22-4-22-3-22 1-27 5z"/>
<path fill="#116128" d="M5523 3137l26 6 22 7 22 4 27 0 22-11-27-3-22-6-22-6-27-6z"/>
<path fill="#0f5422" d="M5610 3154l32 1 22-4-32-8z"/>
<path fill="#093f1a" d="M5632 3155l27 17 27 16 22-3-27-17-27-17z"/>
<path fill="#043618" d="M5676 3188l27 17 27 20 21-11-26-12-27-17z"/>
<path fill="#024a24" d="M3421 2802l27 0 22 2 22 2 21 3 22 6 22 5 22 5 22 5 22 3 22 4 22 5 22 5 26 4 22-14-27-3-21-5-22-4-22-4-22-3-22-5-22-4-22-6-22-5-22-5-22-2-21-1-27-3z"/>
<path fill="#035227" d="M3705 2851l27 2 22-2 27-2 22-14-27 3-22 2-27-3z"/>
<path fill="#075527" d="M3771 2849l27 1 22 4 22 7 27 6 22-15-27-9-22-7-22-2-27 1z"/>
<path fill="#034722" d="M3859 2867l27 6 22 8 21 10 22 6 22 3 22 0 22-1 22 3 22 4 27 5 21-6-26-4-22-5-22-5-22-2-22-2-22-2-22-5-22-7-22-10-26-11z"/>
<path fill="#0d5d28" d="M4143 2911l27-4 22-2 22-2 22 0 22 1 22 5 22 7 21 8 22 8 22 5 22 2 27 0 22-11-27-4-22-5-22-5-22-5-22-7-21-7-22-5-22-1-22 2-22 2-22 3-27 4z"/>
<path fill="#105522" d="M4494 2938l27 4 26 6 22-6-27-9-27-3z"/>
<path fill="#0d4a1e" d="M4537 2948l32 7 22-2-32-11z"/>
<path fill="#0c5525" d="M4581 2962l27 5 22 2 22 3 22 7 22 9 22 14 21 13 22 10 22 10 22 7 22 8 22 11 27 8 22-17-27-9-22-11-22-11-22-5-22-9-22-10-22-10-21-9-22-8-22-9-22-3-22 1-27 0z"/>
<path fill="#075428" d="M4866 3069l27 5 22 0 21 0 22 4 22 7 22 8 27 8 22-24-27-4-22-5-22-6-22-2-22 1-21-2-27-7z"/>
<path fill="#08582b" d="M5019 3101l27 9 22 6 22 5 22 4 22 3 21 3 22 3 22 2 22 1 22 0 22 0 22-1 27-1 22-13-27 1-22 0-22-2-22-2-22-2-22-3-22-4-22-2-22-1-21-3-22-9-22-11-27-7z"/>
<path fill="#10642a" d="M5304 3135l27 0 21 0 22-1 22-1 22 1 22 3 22 3 22 3 22 5 22 4 22 4 21 1 27-2 22-9-27 0-22-4-22-7-21-6-22-3-22-2-22-2-22-2-22-3-22-1-22 0-22 3-26 3z"/>
<path fill="#0d4a1e" d="M5610 3156l32 14 22-6-32-17z"/>
<path fill="#073c1a" d="M5632 3170l27 21 22 19 27 20 22-13-27-20-22-17-27-16z"/>
<path fill="#024a24" d="M3421 2811l27-1 22 0 22 3 21 5 22 6 22 5 22 4 22 3 22 4 22 6 22 5 22 5 27 2 21-13-27-2-21-4-22-5-22-5-22-4-22-3-22-5-22-5-22-5-22-6-21-3-22-2-27-2z"/>
<path fill="#055327" d="M3706 2858l26 0 22-2 22 3 22 5 22 7 22 1 27 1 22-8-27-6-22-6-22-7-22-4-22-1-22 2-27 2z"/>
<path fill="#034420" d="M3859 2873l27 6 22 12 21 8 27 3 22-10-27-3-22-6-21-10-27-8z"/>
<path fill="#054a22" d="M4012 2900l27 3 22 6 22 5 27 1 21-10-26 0-22-2-22-5-27-4z"/>
<path fill="#0e5e28" d="M4143 2912l27-2 22 0 22 1 22 2 22 3 22 6 27 8 21-14-26-8-22-7-22-5-22-1-22 0-22 2-27 2z"/>
<path fill="#0c5625" d="M4297 2930l27 8 26 6 22-15-27-5-27-8z"/>
<path fill="#125823" d="M4450 2933l27 4 22 4 27 4 21-5-26-6-22-4-27-2z"/>
<path fill="#0f4e1f" d="M4537 2949l27 8 27 10 22-8-27-5-27-7z"/>
<path fill="#105924" d="M4581 2967l27 6 22 3 22 5 27 11 22-12-27-9-22-7-22-3-27-2z"/>
<path fill="#074f24" d="M4669 2992l27 16 22 15 22 9 21 11 22 10 22 8 22 7 22 6 22 2 22 2 22 1 22 4 26 8 22-14-27-7-22-4-21 0-22 0-22-5-22-8-22-11-22-8-22-7-22-10-22-10-21-13-27-14z"/>
<path fill="#044f27" d="M4953 3091l27 12 22 9 22 6 22 4 22 4 22 5 22 4 22 4 21 3 22 1 27 0 22-14-27-1-22-2-22-3-21-3-22-3-22-4-22-5-22-6-22-9-22-8-27-8z"/>
<path fill="#075929" d="M5194 3143l27 0 22 1 22-2 22-1 27 2 22-16-27 0-22 1-22 1-22 0-27 0z"/>
<path fill="#106229" d="M5304 3143l27-1 22-2 21-1 22 0 22 3 22 4 22 7 22 6 22 3 22 0 22-2 21-2 27 2 22-12-27-1-22 2-21-1-22-4-22-4-22-5-22-3-22-3-22-3-22-1-22 1-22 1-26 0z"/>
<path fill="#0f5021" d="M5588 3160l32 15 22-13-32-14z"/>
<path fill="#073f1c" d="M5610 3175l27 23 22 20 27 18 22-14-27-20-22-19-27-21z"/>
<path fill="#024a24" d="M3399 2815l27-1 22 3 22 2 22 4 22 4 21 4 22 5 22 4 22 4 22 6 22 5 22 5 27 3 22-13-27-2-22-5-22-5-22-6-22-4-22-3-22-4-22-5-22-6-21-5-22-3-22 0-27 1z"/>
<path fill="#055227" d="M3684 2863l27 2 21 0 22 3 22 6 22 5 22 0 22-1 27 4 22-11-27-6-22-1-22-1-22-7-22-5-22-3-22 2-26 0z"/>
<path fill="#03431f" d="M3859 2882l27 9 27 8 21-8-26-8-27-12z"/>
<path fill="#064f24" d="M3968 2900l27 1 22 5 22 5 22 4 22 2 27 0 21-12-26 2-22-1-22-5-22-6-22-3-27-1z"/>
<path fill="#0b5d29" d="M4100 2917l27 0 21 1 27 1 22-17-27 0-22 2-27 1z"/>
<path fill="#0e6029" d="M4165 2919l27 1 22 0 22 2 27 3 22-11-27-6-22-3-22-2-27-1z"/>
<path fill="#0c5222" d="M4253 2925l27 6 27 7 22-8-27-8-27-8z"/>
<path fill="#146127" d="M4384 2938l27-2 22-1 22 1 27 3 22-6-27-4-22-4-22 0-27 3z"/>
<path fill="#115221" d="M4494 2941l27 4 22 9 21 12 27 10 22-11-27-6-22-10-22-8-26-4z"/>
<path fill="#115c26" d="M4581 2976l27 6 22 5 27 10 22-13-27-11-22-5-27-3z"/>
<path fill="#064c22" d="M4647 2997l27 14 22 14 22 10 22 10 21 12 22 10 22 7 22 3 22 2 22 1 22 3 22 5 27 6 21-11-26-8-22-4-22-1-22-2-22-2-22-6-22-7-22-8-22-10-21-11-22-9-22-15-27-16z"/>
<path fill="#024924" d="M4932 3094l26 12 22 11 22 6 22 4 22 5 22 4 22 4 22 4 27 3 21-13-26-3-22-4-22-4-22-5-22-4-22-4-22-6-22-9-27-12z"/>
<path fill="#045127" d="M5129 3147l27-1 21 1 22 3 27 2 22-16-27-1-22 0-22 0-27-1z"/>
<path fill="#0c5f29" d="M5216 3152l27 1 22 0 22-3 22-3 22-1 22-1 21 1 22 2 22 6 22 7 22 8 27 3 22-18-27-3-22-6-22-7-22-4-22-3-22 0-21 1-22 2-22 1-22-2-22 1-27 2z"/>
<path fill="#13692c" d="M5479 3172l27-1 22-2 22-2 27 2 21-17-27-2-21 2-22 2-27 0z"/>
<path fill="#105524" d="M5567 3169l31 15 22-17-32-15z"/>
<path fill="#07411d" d="M5588 3184l27 23 22 19 27 17 22-15-27-18-22-20-27-23z"/>
<path fill="#024b24" d="M3399 2824l27-1 22 4 22 2 22 2 22 3 21 5 22 6 22 5 22 4 22 4 22 5 22 4 27 4 22-14-27-2-22-3-22-5-22-5-22-6-22-4-22-4-22-5-21-4-22-4-22-4-22-2-27-3z"/>
<path fill="#045227" d="M3684 2871l27 4 22 3 21 4 22 3 22 1 22 0 22 2 27 4 22-9-27-9-22-4-22 1-22 0-22-5-22-6-22-3-26 0z"/>
<path fill="#044721" d="M3859 2892l27 4 27 2 22-5-27-2-27-8z"/>
<path fill="#065225" d="M3925 2899l26 3 22 4 22 5 22 5 22 3 22 1 27 0 22-11-27 0-22-2-22-4-22-5-22-5-22-1-27 0z"/>
<path fill="#0c5c28" d="M4078 2920l27 2 22 4 21 2 22-1 22-1 22 0 22 1 27 2 22-6-27-6-22-3-22-2-22 0-22-1-22-1-21-1-27 0z"/>
<path fill="#126228" d="M4341 2939l26 2 27 1 22-14-27 2-27 3z"/>
<path fill="#15682a" d="M4384 2942l32-2 22-13-32 1z"/>
<path fill="#155823" d="M4450 2935l27 3 22 7 27 10 22-9-27-9-22-4-27-2z"/>
<path fill="#105322" d="M4516 2955l27 12 21 12 27 11 22-16-27-6-22-10-26-12z"/>
<path fill="#115d28" d="M4581 2990l27 11 22 9 27 8 22-15-27-14-22-10-27-5z"/>
<path fill="#094b21" d="M4647 3018l27 8 22 9 27 11 22-9-27-10-22-10-27-14z"/>
<path fill="#044821" d="M4713 3046l27 12 22 12 21 7 27 3 22-11-27-3-22-7-22-10-26-12z"/>
<path fill="#054d24" d="M4800 3080l27 1 22 2 22 4 22 5 22 7 27 9 21-10-26-12-22-6-22-5-22-3-22-1-27-2z"/>
<path fill="#024723" d="M4932 3108l27 9 21 8 22 6 22 5 22 5 22 4 27 4 22-13-27-4-22-4-22-4-22-5-22-4-22-6-27-11z"/>
<path fill="#034e25" d="M5085 3149l27 2 22-1 22 1 21 5 27 5 22-17-27-2-22-3-21-1-22 1-27-3z"/>
<path fill="#095c29" d="M5194 3161l27 4 22-3 22-6 22-4 22-2 27 2 22-15-27 1-22 1-22 3-22 3-22 0-27-1z"/>
<path fill="#0e5e28" d="M5326 3152l27 1 22 3 21 5 22 7 22 8 22 5 27 2 22-20-27 1-22-3-22-8-22-7-22-6-22-2-26-1z"/>
<path fill="#156e30" d="M5479 3183l27-1 22-1 27 2 22-22-27-2-22 2-27 2z"/>
<path fill="#145e2a" d="M5545 3183l32 13 21-20-31-15z"/>
<path fill="#094720" d="M5567 3196l26 20 27 18 22-16-27-19-27-23z"/>
<path fill="#043f1e" d="M5610 3234l32 16 22-15-32-17z"/>
<path fill="#024b25" d="M3399 2832l27 1 22 2 22 2 22 1 22 5 22 7 21 5 22 4 22 2 22 5 22 6 22 5 27 5 22-15-27-4-22-4-22-4-22-5-22-4-22-4-22-5-22-6-21-5-22-3-22-2-22-2-27-4z"/>
<path fill="#055126" d="M3684 2882l27 4 22 3 21 3 22 2 22 1 22 1 22 0 22 1 22 2 22 3 22 5 22 6 26 5 22-15-27-5-22-4-21-3-22-1-22-2-22-4-22-4-22-2-22 0-22-1-22-3-21-4-27-3z"/>
<path fill="#085727" d="M3968 2918l27 4 22 3 22 1 22 0 22 1 22 3 22 2 27 0 21-13-27 1-21-2-22-4-22-2-22 0-22-1-22-3-27-5z"/>
<path fill="#0e5f28" d="M4144 2932l26-1 22-1 22-2 27 0 22-7-27-2-22-1-22 0-27 1z"/>
<path fill="#105924" d="M4253 2929l27 3 22 4 22 4 27 3 21-10-26-2-22-2-22-2-27-3z"/>
<path fill="#186026" d="M4428 2935l27 3 27 8 22-9-27-7-27-3z"/>
<path fill="#115422" d="M4472 2946l27 11 22 12 22 14 22 16 26 14 22-20-27-11-22-11-21-12-22-12-27-10z"/>
<path fill="#105f2b" d="M4581 3013l27 11 22 6 27 6 22-18-27-8-22-8-27-9z"/>
<path fill="#0a5225" d="M4647 3036l27 7 27 9 22-14-27-11-27-9z"/>
<path fill="#044b23" d="M4691 3052l27 11 22 11 22 6 21 3 22 1 22 3 22 5 22 8 22 8 22 7 22 6 22 7 26 7 22-12-27-6-21-8-22-9-22-9-22-7-22-5-22-4-22-2-22-1-22-3-21-7-22-12-27-12z"/>
<path fill="#024c24" d="M4975 3135l27 5 22 5 22 4 22 4 22 3 22-1 22 0 22 4 22 6 26 2 22-10-27-4-22-5-21-5-22-1-22 1-22-2-22-4-22-4-22-5-27-5z"/>
<path fill="#0c5a27" d="M5260 3156l27-2 22 1 22 2 22 3 22 6 21 8 22 8 22 8 27 4 22-19-27-2-22-5-22-8-22-7-21-5-22-3-22-1-22-2-27 2z"/>
<path fill="#136c31" d="M5457 3194l27 2 27 1 22-24-27 1-27 1z"/>
<path fill="#1c7338" d="M5501 3197l32 4 22-26-32-2z"/>
<path fill="#1a6835" d="M5523 3201l32 13 22-26-32-13z"/>
<path fill="#105429" d="M5545 3214l32 15 21-21-31-20z"/>
<path fill="#064521" d="M5567 3229l27 14 26 13 22-14-27-16-27-18z"/>
<path fill="#013f1f" d="M5610 3256l32 15 22-13-32-16z"/>
<path fill="#024b25" d="M3377 2837l27 1 22 4 22 1 22 0 22 5 22 7 22 5 21 4 22 2 22 4 22 6 22 6 27 5 22-13-27-5-22-5-22-6-22-5-22-2-22-4-21-5-22-7-22-5-22-1-22-2-22-2-27-1z"/>
<path fill="#024e26" d="M3662 2887l27 4 22 4 22 3 22 3 26 3 22-17-27-1-22-2-21-3-22-3-27-4z"/>
<path fill="#065628" d="M3771 2904l27 2 22-2 22-1 22 3 22 5 22 5 22 5 22 4 21 3 22 2 22 2 22 1 27-1 22-13-27-1-22 0-22-1-22-3-22-4-21-5-22-6-22-5-22-3-22-2-22-1-22 0-27-1z"/>
<path fill="#0a5926" d="M4056 2932l27-1 22 0 22 4 27 3 21-15-26 1-22 0-22-2-27-3z"/>
<path fill="#116128" d="M4144 2938l26-2 22-4 22-1 22 2 22 4 22 3 22 3 27 1 22-9-27-3-22-4-22-4-22-3-22-1-22 0-22 2-27 1z"/>
<path fill="#1c6d2b" d="M4384 2940l27 0 27 3 22-13-27-3-27 3z"/>
<path fill="#186026" d="M4428 2943l27 7 27 9 22-10-27-11-27-8z"/>
<path fill="#125221" d="M4472 2959l27 13 27 16 22-13-27-14-27-12z"/>
<path fill="#0d4d20" d="M4516 2988l27 18 27 17 21-18-26-14-27-16z"/>
<path fill="#0e5929" d="M4560 3023l26 13 27 8 22-22-27-6-27-11z"/>
<path fill="#0e5e2c" d="M4603 3044l27 6 27 5 22-20-27-7-27-6z"/>
<path fill="#085226" d="M4647 3055l27 6 27 9 22-15-27-11-27-9z"/>
<path fill="#044b23" d="M4691 3070l27 8 22 3 22 1 22 1 21 5 22 8 22 11 22 10 22 6 22 5 22 5 22 6 27 5 21-12-27-5-21-7-22-7-22-6-22-7-22-8-22-8-22-5-22-3-22-1-21-3-22-6-27-11z"/>
<path fill="#024b24" d="M4976 3144l26 5 22 5 22 3 22 3 27 1 22-14-27 1-22-3-22-4-22-4-27-5z"/>
<path fill="#044e25" d="M5085 3161l27-1 22 2 22 1 27 2 21-6-26-2-22-6-22-4-27 0z"/>
<path fill="#0b5c28" d="M5216 3163l27-3 22-3 27-2 22-8-27-1-22 2-27 5z"/>
<path fill="#0b5625" d="M5304 3157l27 5 22 8 22 10 22 9 21 9 27 7 22-19-27-4-22-8-22-8-21-8-22-6-27-3z"/>
<path fill="#0f642f" d="M5435 3205l32 5 22-22-32-2z"/>
<path fill="#1a6d39" d="M5457 3210l27 5 22 7 27 11 22-27-27-13-22-4-27-1z"/>
<path fill="#115b2f" d="M5523 3233l32 10 22-22-32-15z"/>
<path fill="#064b25" d="M5545 3243l27 11 27 7 21-13-26-13-27-14z"/>
<path fill="#024221" d="M5589 3261l31 14 22-12-32-15z"/>
<path fill="#024b25" d="M3377 2845l27 2 22 2 22 2 22 4 22 6 22 4 22 4 22 2 21 4 22 6 22 6 22 5 27 4 22-13-27-4-22-5-22-6-22-6-22-4-22-2-21-4-22-5-22-7-22-5-22 0-22-1-27-4z"/>
<path fill="#024d26" d="M3662 2896l27 4 22 3 22 4 22 4 26 4 22-17-27-2-21-3-22-3-22-3-27-4z"/>
<path fill="#065629" d="M3771 2915l27 0 22-1 22 2 22 6 22 5 22 4 22 2 22 1 22 2 21 1 27 1 22-13-27-1-22-2-22-2-21-3-22-4-22-5-22-5-22-5-22-3-22 1-27 2z"/>
<path fill="#0b5a27" d="M4034 2936l27-4 22 1 22 8 27 7 22-18-27-3-22-4-22 0-27 1z"/>
<path fill="#13672a" d="M4122 2948l27-1 22-6 21-3 22 2 22 5 22 3 22 0 22-2 22-2 27-1 22-10-27 2-22 1-22-1-22-3-22-3-22-4-22-2-22 1-22 4-26 2z"/>
<path fill="#1b6c2b" d="M4341 2943l27 3 21 4 22 3 22 5 27 8 22-15-27-9-22-7-22-3-22 0-26 1z"/>
<path fill="#155a24" d="M4450 2966l32 12 22-14-32-13z"/>
<path fill="#0e4d1f" d="M4472 2978l27 16 27 18 22-14-27-18-27-16z"/>
<path fill="#094920" d="M4516 3012l27 17 27 16 21-17-26-13-27-17z"/>
<path fill="#075226" d="M4560 3045l27 11 21 6 22 4 22 5 22 5 22 6 22 2 22 0 22 2 22 7 26 9 22-14-27-8-21-5-22-1-22-1-22-3-22-8-22-9-22-6-22-5-22-6-27-8z"/>
<path fill="#024823" d="M4800 3102l27 10 22 9 22 7 22 4 22 5 22 5 22 5 22 6 21 5 22 4 22 3 27 2 22-14-27-1-22-3-22-3-22-5-21-5-22-5-22-6-22-5-22-5-22-6-22-10-27-11z"/>
<path fill="#045227" d="M5063 3167l27 1 22-2 22 0 27 0 22-9-27-2-22-1-22-2-27 1z"/>
<path fill="#085a28" d="M5173 3167l27 0 26-1 22-14-27 3-27 2z"/>
<path fill="#0d5e28" d="M5216 3166l27-4 22-3 22 2 27 6 22-13-27-5-22-2-22 2-27 3z"/>
<path fill="#0b5426" d="M5304 3167l27 9 22 9 22 10 22 10 21 11 27 11 22-25-27-5-22-7-21-9-22-9-22-10-27-8z"/>
<path fill="#146536" d="M5435 3227l27 7 22 6 27 7 22-22-27-11-22-7-27-5z"/>
<path fill="#09532b" d="M5501 3247l27 9 27 7 22-17-27-11-27-10z"/>
<path fill="#034925" d="M5545 3263l27 12 27 4 21-12-26-14-27-7z"/>
<path fill="#014a25" d="M3377 2852l27 3 22 3 22 4 22 4 22 4 22 3 22 3 22 4 21 6 22 5 22 5 22 4 27 4 22-12-27-4-22-4-22-5-22-6-22-6-21-4-22-2-22-4-22-4-22-6-22-4-22-2-27-2z"/>
<path fill="#024c25" d="M3662 2904l27 4 22 5 22 4 22 4 27 3 21-17-27 0-21-4-22-4-22-4-27-3z"/>
<path fill="#065628" d="M3772 2924l26 2 22 1 22 3 22 6 22 6 22 2 22-1 22-2 22 0 21 0 22-1 22-1 27 4 22-18-27-1-22 4-22 2-22-1-21-1-22-2-22-1-22-2-22-4-22-5-22-6-22-2-27 1z"/>
<path fill="#0e5e2b" d="M4056 2943l27 10 27 9 22-22-27-7-27-8z"/>
<path fill="#136a2d" d="M4100 2962l27-1 22-7 22-5 21 1 22 3 22 2 22-1 22-2 27-1 22-15-27 2-22 2-22 0-22-3-22-5-22-2-21 3-22 6-27 1z"/>
<path fill="#1c6f2e" d="M4297 2951l27 0 22 5 22 6 22 4 21 4 27 7 22-19-27-8-22-5-22-3-21-4-22-3-27 1z"/>
<path fill="#166028" d="M4428 2977l32 11 22-18-32-12z"/>
<path fill="#115423" d="M4450 2988l32 13 22-15-32-16z"/>
<path fill="#074d23" d="M4472 3001l27 15 22 16 22 17 22 13 22 9 21 3 22 3 22 4 22 4 22 4 27 3 22-16-27 0-22-2-22-6-22-5-22-5-22-4-21-6-22-11-22-16-22-17-27-18z"/>
<path fill="#075427" d="M4713 3092l27 5 22 7 27 6 21-16-26-9-22-7-27-2z"/>
<path fill="#024722" d="M4779 3110l27 6 21 5 22 5 22 6 22 6 22 4 22 5 22 7 22 6 22 5 21 4 22 4 27 2 22-15-27-1-22-2-22-3-22-4-21-5-22-6-22-5-22-5-22-5-22-4-22-7-22-9-27-10z"/>
<path fill="#065829" d="M5063 3175l27 0 22 0 22 1 22 0 27-1 22-16-27 0-22-1-22 0-22 0-27 2z"/>
<path fill="#0d5f29" d="M5173 3175l27-2 21-2 22-2 22 3 22 6 22 7 27 6 22-14-27-9-22-9-22-6-22-2-22 3-22 4-26 1z"/>
<path fill="#095025" d="M5326 3191l27 9 22 13 22 15 27 12 21-21-27-11-21-11-22-10-27-10z"/>
<path fill="#09562d" d="M5414 3240l26 8 22 6 22 6 27 5 22-17-27-9-22-7-22-6-27-7z"/>
<path fill="#044c27" d="M5501 3265l32 10 22-20-32-7z"/>
<path fill="#014a24" d="M3356 2858l26 2 22 4 22 4 22 3 22 3 22 4 22 4 22 4 22 5 22 5 21 4 22 4 27 5 22-13-27-4-22-4-22-5-22-5-21-6-22-4-22-3-22-3-22-4-22-4-22-4-22-3-27-3z"/>
<path fill="#024d26" d="M3640 2909l27 4 22 4 22 5 22 4 22 4 22 4 21 2 22 2 22 5 22 6 27 3 22-16-27-2-22-6-22-6-22-3-22-1-21-2-22-3-22-4-22-4-22-5-27-4z"/>
<path fill="#075728" d="M3881 2952l27-1 22-4 22-3 22 0 22 1 26 3 22-17-27 1-22 1-21 0-22 0-22 2-27 1z"/>
<path fill="#0e5d2d" d="M4034 2956l27 12 27 9 22-23-27-9-27-10z"/>
<path fill="#116a2e" d="M4078 2977l27-1 22-7 22-6 22-1 22 0 21 0 22-1 27-1 22-16-27 2-22 1-22-2-22-3-21-1-22 5-22 7-27 1z"/>
<path fill="#196e2d" d="M4253 2960l27 0 22 2 22 5 22 6 22 5 22 5 26 6 22-20-27-7-21-4-22-4-22-6-22-5-22 0-27 1z"/>
<path fill="#166329" d="M4406 2989l32 9 22-18-32-11z"/>
<path fill="#115925" d="M4428 2998l32 11 22-16-32-13z"/>
<path fill="#0b4b20" d="M4450 3009l27 12 27 14 22-11-27-16-27-15z"/>
<path fill="#05431e" d="M4494 3035l27 16 22 13 27 10 22-11-27-9-22-13-27-17z"/>
<path fill="#054f25" d="M4560 3074l27 5 22 3 21 4 22 4 22 5 22 7 22 7 22 6 22 5 22 0 22 0 21 4 27 7 22-7-27-6-22-5-21-5-22-6-22-6-22-7-22-5-22-3-22-4-22-4-22-4-22-3-26-3z"/>
<path fill="#024722" d="M4844 3131l27 6 22 4 22 5 22 7 22 8 22 7 22 5 21 4 27 4 22-14-27-2-22-4-21-4-22-5-22-6-22-7-22-5-22-4-27-6z"/>
<path fill="#045429" d="M5041 3181l27 3 22 2 27 1 22-19-27-1-22 0-27 0z"/>
<path fill="#085c2a" d="M5107 3187l27-1 22-3 22-2 27-1 21-17-26 2-22 2-22 1-27 0z"/>
<path fill="#0e622c" d="M5195 3180l27 1 21 4 22 5 27 4 22-17-27-7-22-6-22-3-27 2z"/>
<path fill="#0b5727" d="M5282 3194l27 6 27 11 22-19-27-9-27-6z"/>
<path fill="#054d26" d="M5326 3211l27 13 22 13 22 12 22 9 21 5 22 4 27 8 22-18-27-5-22-6-22-6-21-8-22-12-22-15-27-13z"/>
<path fill="#014924" d="M3356 2867l27 2 21 3 22 4 22 3 22 3 22 5 22 4 22 5 22 4 22 4 21 5 22 4 27 4 22-12-27-4-22-5-22-4-21-4-22-5-22-5-22-4-22-4-22-4-22-3-22-3-22-4-27-4z"/>
<path fill="#024b25" d="M3640 2917l27 5 22 4 22 4 22 5 22 4 22 3 22 3 21 3 22 5 22 3 27-1 22-12-27 1-22-3-22-6-22-5-22-2-21-2-22-4-22-4-22-4-22-5-27-4z"/>
<path fill="#085828" d="M3881 2955l27-4 22-3 22 0 22 4 22 7 26 11 22-22-27-8-21-3-22-1-22 0-22 3-27 4z"/>
<path fill="#085f2c" d="M4056 2989l27-1 27-7 22-20-27 7-27 1z"/>
<path fill="#10692d" d="M4100 2981l27-5 22-3 22-1 22-1 21-1 27-1 22-17-27 1-22 1-21 0-22 0-22 1-27 6z"/>
<path fill="#16692b" d="M4231 2969l27 0 22 2 22 5 22 6 22 5 22 6 27 6 21-18-26-6-22-5-22-5-22-6-22-5-22-2-27 0z"/>
<path fill="#125d27" d="M4385 2999l27 7 26 10 22-15-27-11-27-9z"/>
<path fill="#0c5022" d="M4428 3016l27 13 27 13 22-15-27-14-27-12z"/>
<path fill="#054b23" d="M4472 3042l27 11 22 11 22 9 22 8 22 6 22 5 21 4 22 5 22 6 22 8 22 7 27 4 22-14-27-5-22-6-22-7-22-7-22-5-22-4-21-4-22-3-22-5-22-10-22-13-27-16z"/>
<path fill="#044e25" d="M4735 3126l27 1 22-1 22 3 22 6 21 7 22 5 22 5 27 6 22-13-27-7-22-5-22-4-22-6-22-7-21-4-22 0-27 0z"/>
<path fill="#024a24" d="M4910 3158l27 7 22 6 22 6 22 5 22 4 21 3 27 2 22-13-27-2-22-3-22-4-21-4-22-5-22-7-27-8z"/>
<path fill="#055527" d="M5063 3191l27 1 22-1 22-2 27-2 22-14-27 2-22 3-22 1-27-1z"/>
<path fill="#0b5c2a" d="M5151 3187l27 1 22 4 22 4 21 3 22 5 22 8 27 11 22-20-27-11-22-6-22-4-22-5-21-4-22-1-27 1z"/>
<path fill="#074e25" d="M5304 3223l27 11 27 10 22-15-27-13-27-13z"/>
<path fill="#024723" d="M5348 3244l27 11 22 7 27 9 21-16-26-5-22-9-27-12z"/>
<path fill="#014924" d="M3334 2871l27 2 22 4 21 4 22 3 22 3 22 4 22 5 22 4 22 5 22 4 22 4 22 4 26 5 22-13-27-4-22-4-21-5-22-4-22-4-22-5-22-4-22-5-22-3-22-3-22-4-21-3-27-2z"/>
<path fill="#014a24" d="M3618 2922l27 4 22 4 22 4 22 5 22 4 22 4 22 3 22 2 21 3 27 2 22-9-27-3-22-5-21-3-22-3-22-3-22-4-22-5-22-4-22-4-27-5z"/>
<path fill="#085728" d="M3859 2957l27-2 22 0 22 2 22 5 22 9 27 10 21-19-26-11-22-7-22-4-22 0-22 3-27 4z"/>
<path fill="#085224" d="M4078 2978l32 4 22-14-32 5z"/>
<path fill="#0d622b" d="M4100 2982l27 2 27-3 22-17-27 1-27 3z"/>
<path fill="#13662a" d="M4144 2981l27-1 22-1 22-1 21-1 22 1 22 4 22 6 22 6 22 6 27 6 22-15-27-6-22-6-22-5-22-6-22-5-22-2-22 0-22 1-21 1-27 1z"/>
<path fill="#105b26" d="M4363 3006l27 7 27 11 21-16-26-10-27-7z"/>
<path fill="#0b5123" d="M4407 3024l26 14 22 13 27 7 22-13-27-11-22-13-27-13z"/>
<path fill="#044a22" d="M4472 3058l27 4 22 7 22 11 22 11 22 7 22 4 22 4 21 5 22 7 22 7 22 6 27 4 22-16-27-1-22-4-22-7-22-8-22-6-22-5-21-4-22-5-22-6-22-8-22-9-27-11z"/>
<path fill="#044f26" d="M4735 3135l27 1 22 3 22 4 22 6 21 7 22 6 22 5 27 4 22-14-27-7-22-6-22-5-22-5-21-7-22-6-22-3-27 1z"/>
<path fill="#024923" d="M4910 3171l27 5 22 5 22 5 27 3 22-11-27-4-22-5-22-6-27-6z"/>
<path fill="#085527" d="M5107 3190l27 1 22 4 22 4 22 3 22 5 22 8 21 10 22 10 22 10 27 8 22-17-27-10-22-11-22-11-22-8-22-5-21-3-22-4-22-4-22-1-27 2z"/>
<path fill="#034824" d="M5326 3253l27 6 27 12 22-17-27-7-27-11z"/>
<path fill="#014924" d="M3334 2880l27 2 22 3 22 3 21 4 22 3 22 5 22 5 22 4 22 4 22 5 22 4 22 4 26 4 22-12-27-4-21-5-22-4-22-4-22-4-22-5-22-4-22-5-22-4-22-3-22-3-21-4-27-4z"/>
<path fill="#024b24" d="M3618 2930l27 4 22 5 22 4 22 4 22 4 22 4 22 2 22 2 22 1 26 1 22-12-27 0-22-2-21-3-22-2-22-3-22-4-22-4-22-5-22-4-27-4z"/>
<path fill="#075529" d="M3837 2961l27 2 22 2 22 4 22 6 22 7 22 7 27 4 22-11-27-9-22-10-22-9-22-5-22-2-22 0-27 2z"/>
<path fill="#094a20" d="M4078 2971l32 21 22-16-32-2z"/>
<path fill="#0e652c" d="M4100 2992l27-1 22-1 27-1 22-18-27 1-22 1-27 3z"/>
<path fill="#13672b" d="M4166 2989l27-1 22-2 21 1 22 3 22 6 27 5 22-15-27-6-22-6-22-4-22-1-21 1-27 1z"/>
<path fill="#115e27" d="M4297 3001l27 5 22 7 27 9 22-17-27-7-22-6-27-6z"/>
<path fill="#0b5224" d="M4363 3022l27 12 22 13 22 10 21 4 27 2 22-9-27-4-22-7-22-13-21-14-27-11z"/>
<path fill="#06461f" d="M4472 3063l27 5 27 10 22-6-27-11-27-7z"/>
<path fill="#04421e" d="M4516 3078l27 12 27 10 22-10-27-7-27-11z"/>
<path fill="#034c24" d="M4560 3100l27 7 22 6 22 5 21 6 22 6 22 6 22 4 22 3 22 3 22 3 22 5 22 7 27 7 21-14-27-6-21-7-22-6-22-4-22-3-22-1-22-4-22-6-22-7-22-7-21-5-22-4-27-4z"/>
<path fill="#024b24" d="M4845 3168l26 5 22 4 22 4 27 4 22-12-27-5-22-5-22-4-27-5z"/>
<path fill="#075025" d="M5063 3187l27 2 22 4 22 5 22 5 22 5 22 8 22 10 22 10 21 10 22 8 27 13 22-22-27-8-22-10-22-10-21-10-22-8-22-5-22-3-22-4-22-4-22-1-27 0z"/>
<path fill="#014924" d="M3334 2885l27 4 22 4 22 3 21 4 22 4 22 5 22 4 22 5 22 4 22 4 22 4 22 5 27 4 21-13-27-4-21-4-22-4-22-4-22-5-22-4-22-4-22-5-22-5-22-3-21-4-22-3-27-3z"/>
<path fill="#024a24" d="M3619 2939l26 4 22 4 22 4 22 4 22 4 22 4 22 3 27 3 22-17-27-1-22-2-22-2-22-4-22-4-22-4-22-4-27-5z"/>
<path fill="#065429" d="M3794 2969l27 2 21 1 22 5 22 6 22 5 22 3 22 2 27 2 22-10-27-4-22-7-22-7-22-6-22-4-22-2-22-2-26-1z"/>
<path fill="#0a3a18" d="M4035 2918l26 42 27 40 22-16-27-21-27-25z"/>
<path fill="#0a5526" d="M4078 3000l32 2 22-19-32 1z"/>
<path fill="#11652b" d="M4100 3002l27-1 22-1 22-3 22-2 22 1 22 4 21 5 22 4 22 5 27 8 22-17-27-7-22-5-22-5-22-6-22-3-21-1-22 2-22 1-22 1-27 1z"/>
<path fill="#0e5726" d="M4319 3022l27 10 22 12 27 10 22-15-27-13-22-12-27-9z"/>
<path fill="#095224" d="M4385 3054l27 6 22 4 21 2 27 3 22-9-27-5-22-2-21-4-27-10z"/>
<path fill="#06441e" d="M4472 3069l27 7 27 10 22-4-27-12-27-10z"/>
<path fill="#04401d" d="M4516 3086l27 12 27 13 22-12-27-7-27-10z"/>
<path fill="#034923" d="M4560 3111l27 10 22 7 22 5 22 4 21 3 22 2 22 2 22 2 22 3 22 4 22 7 22 8 27 8 21-11-26-5-22-7-22-7-22-5-22-3-22-3-22-3-22-4-22-6-22-6-21-6-22-5-27-6z"/>
<path fill="#024924" d="M4845 3176l26 6 27 4 22-13-27-4-27-4z"/>
<path fill="#074e24" d="M5042 3185l26 4 22 5 22 5 22 7 22 10 22 10 22 10 22 10 22 8 27 13 21-21-27-8-21-10-22-10-22-10-22-8-22-5-22-5-22-5-22-4-27-2z"/>
<path fill="#014924" d="M3312 2892l27 2 22 3 22 3 22 4 22 4 21 5 22 5 22 4 22 4 22 4 22 5 22 4 27 4 22-12-27-4-22-5-22-4-22-4-22-4-22-5-22-4-22-5-22-4-21-4-22-3-22-4-27-4z"/>
<path fill="#024c25" d="M3597 2943l27 4 21 4 22 3 22 4 22 5 22 4 22 5 22 4 22 2 22 3 22 6 21 6 27 4 22-17-27-5-22-6-22-5-21-1-22-2-22-3-22-3-22-4-22-4-22-4-22-4-22-4-26-4z"/>
<path fill="#045227" d="M3881 2997l27 1 22-1 22 2 27 1 22-12-27-1-22-2-22-2-27-3z"/>
<path fill="#1f612f" d="M4013 2942l32 34 21-24-31-42z"/>
<path fill="#093b1a" d="M4035 2976l31 33 22-17-32-40z"/>
<path fill="#085024" d="M4056 3009l32 4 22-19-32-2z"/>
<path fill="#0f622a" d="M4078 3013l27-1 22-3 22-2 22-2 22 1 22 3 22 4 21 3 22 6 22 9 27 12 22-19-27-10-22-8-22-5-22-4-21-5-22-4-22-1-22 2-22 3-22 1-27 1z"/>
<path fill="#0a5626" d="M4319 3043l27 11 22 7 22 4 22 3 22 3 22 2 26 3 22-8-27-7-22-3-21-2-22-4-22-6-22-10-27-12z"/>
<path fill="#06431d" d="M4472 3076l27 7 27 12 22-5-27-12-27-10z"/>
<path fill="#033d1d" d="M4516 3095l27 16 27 15 22-13-27-10-27-13z"/>
<path fill="#024924" d="M4560 3126l27 8 22 5 27 3 22-13-27-4-22-5-27-7z"/>
<path fill="#034320" d="M4735 3146l27 4 22 6 22 9 22 12 22 8 27 4 21-11-27-4-21-6-22-8-22-8-22-7-27-4z"/>
<path fill="#074e24" d="M5020 3185l27 5 22 6 21 7 22 9 22 12 22 11 22 12 22 8 27 12 22-21-27-8-22-10-22-10-22-10-22-10-22-7-22-5-22-5-26-4z"/>
<path fill="#014924" d="M3290 2897l27 1 22 4 22 4 22 3 22 4 22 4 21 5 22 4 22 4 22 4 22 4 22 5 27 4 22-12-27-4-22-4-22-5-22-4-22-4-22-4-22-5-21-5-22-4-22-4-22-3-22-3-27-2z"/>
<path fill="#024a24" d="M3575 2947l27 5 22 3 22 4 21 3 22 5 22 5 22 4 22 4 22 3 22 3 22 6 22 6 26 4 22-13-27-4-21-6-22-6-22-3-22-2-22-4-22-5-22-4-22-5-22-4-22-3-21-4-27-4z"/>
<path fill="#035227" d="M3859 3002l27 2 22 0 22 3 27 3 22-18-27-1-22-2-22 1-27-1z"/>
<path fill="#08632e" d="M3947 3010l32-6 22-28-32 16z"/>
<path fill="#2c8c4c" d="M3969 3004l32-16 22-54-32 42z"/>
<path fill="#32814b" d="M3991 2988l32 14 22-34-32-34z"/>
<path fill="#0b5127" d="M4013 3002l27 16 27 4 21-17-27-4-26-33z"/>
<path fill="#0b622b" d="M4057 3022l26-1 22-3 22-2 27 0 22-19-27 2-22 2-22 3-27 1z"/>
<path fill="#0f632a" d="M4144 3016l27-1 22-1 27 1 22-10-27-4-22-3-27-1z"/>
<path fill="#0b5826" d="M4210 3015l27 5 22 9 21 11 22 12 22 11 22 7 22 4 22 3 22 1 22 0 27 2 21-12-26-3-22-2-22-3-22-3-22-4-22-7-22-11-22-12-22-9-22-6-26-3z"/>
<path fill="#095123" d="M4451 3080l31 5 22-10-32-7z"/>
<path fill="#07461f" d="M4472 3085l32 10 22-8-32-12z"/>
<path fill="#033b1b" d="M4494 3095l27 14 22 14 27 12 22-9-27-8-22-15-27-16z"/>
<path fill="#04421e" d="M4713 3143l27 3 22 9 22 11 22 11 27 7 22-7-27-8-22-12-22-9-22-6-27-4z"/>
<path fill="#074f24" d="M4976 3182l27 4 22 8 22 10 22 8 21 9 22 10 22 14 22 9 27 13 22-20-27-8-22-12-22-11-22-12-22-9-21-7-22-6-22-5-27 0z"/>
<path fill="#014824" d="M3290 2905l27 2 22 4 22 3 22 3 22 4 22 4 22 5 21 4 22 4 22 3 22 5 22 5 27 5 22-12-27-5-22-4-22-5-22-4-22-4-22-4-22-4-21-5-22-4-22-4-22-3-22-4-27-4z"/>
<path fill="#024a24" d="M3575 2956l27 4 22 4 22 4 21 4 22 4 22 4 22 4 22 3 22 3 22 6 22 6 22 4 27 3 21-13-27-2-21-4-22-6-22-6-22-3-22-3-22-4-22-4-22-5-22-5-21-3-22-4-27-3z"/>
<path fill="#035127" d="M3860 3009l26 3 22 4 27 4 22-18-27-3-22-3-27 0z"/>
<path fill="#065c2d" d="M3925 3020l32 0 22-24-32 6z"/>
<path fill="#207944" d="M3947 3020l27-4 27 4 22-26-27-14-27 16z"/>
<path fill="#0a5d2b" d="M3991 3020l27 6 22 4 22-1 21-3 22-1 27 1 22-18-27 0-22 2-22 3-21 1-22-4-27-16z"/>
<path fill="#0f642a" d="M4122 3026l27-2 22-5 27-2 22-10-27-1-22 1-27 1z"/>
<path fill="#0e5724" d="M4188 3017l27 6 27 12 22-14-27-9-27-5z"/>
<path fill="#095224" d="M4232 3035l27 13 21 12 22 11 22 8 27 5 22-18-27-4-22-7-22-11-22-12-26-11z"/>
<path fill="#0a5b29" d="M4341 3084l27 2 22-1 22 0 22 3 27 5 21-16-26-5-22-2-22 0-22-1-27-3z"/>
<path fill="#095124" d="M4451 3093l32 6 21-12-32-10z"/>
<path fill="#06451f" d="M4473 3099l31 8 22-6-32-14z"/>
<path fill="#043a1b" d="M4494 3107l27 10 27 10 22 0-27-12-27-14z"/>
<path fill="#07451e" d="M4691 3140l27 2 27 11 22-6-27-9-27-3z"/>
<path fill="#04401e" d="M4735 3153l27 14 22 9 22 4 27 3 22-3-27-4-22-7-22-11-27-11z"/>
<path fill="#044c23" d="M4823 3183l27 4 27 1 21-10-26 2-27 0z"/>
<path fill="#095125" d="M4932 3177l27 4 22 9 22 12 22 13 22 9 22 7 22 12 26 9 22-15-27-14-22-10-21-9-22-8-22-10-22-8-22-4-27-1z"/>
<path fill="#044824" d="M5107 3252l32 15 22-21-32-9z"/>
<path fill="#014823" d="M3268 2910l27 1 22 3 22 4 22 3 22 2 22 4 22 5 22 5 21 4 22 4 22 5 22 5 27 5 22-12-27-5-22-5-22-5-22-3-22-4-21-4-22-5-22-4-22-4-22-3-22-3-22-4-27-2z"/>
<path fill="#024924" d="M3553 2960l27 4 22 5 22 4 22 3 22 5 21 4 22 4 22 3 22 3 22 5 22 5 22 4 27 4 22-12-27-3-22-4-22-6-22-6-22-3-22-3-22-4-22-4-22-4-21-4-22-4-22-4-27-4z"/>
<path fill="#034e26" d="M3838 3013l27 4 21 4 22 4 27 3 22-16-27 0-22-4-22-4-26-3z"/>
<path fill="#095b2d" d="M3925 3028l27 0 22 2 27 4 22-16-27-6-22-4-27 4z"/>
<path fill="#065628" d="M3991 3034l27 3 27 1 22-17-27 1-27-4z"/>
<path fill="#0a612b" d="M4035 3038l27-2 22-1 21 0 27-3 22-16-27 2-22-1-22 1-26 3z"/>
<path fill="#10652a" d="M4122 3032l27-5 22-2 27 6 22-16-27-6-22 2-27 5z"/>
<path fill="#0c5323" d="M4188 3031l27 10 27 12 22-13-27-13-27-12z"/>
<path fill="#074e23" d="M4232 3053l27 12 22 11 21 9 27 5 22-14-27-5-22-8-22-11-26-12z"/>
<path fill="#095928" d="M4319 3090l27 2 22 0 22 2 22 5 22 4 22 3 27 2 21-9-26-8-22-6-22-5-22-3-22 0-22 1-27-2z"/>
<path fill="#06441e" d="M4473 3108l26 5 27 7 22-1-27-10-27-10z"/>
<path fill="#05431e" d="M4516 3120l27 6 22 5 27 5 22-7-27-2-22-2-27-6z"/>
<path fill="#064b22" d="M4582 3136l32 5 22-8-32-4z"/>
<path fill="#094c21" d="M4670 3137l32 1 21-4-32-2z"/>
<path fill="#05421d" d="M4692 3138l26 10 22 13 22 10 22 4 22 6 27 7 22-9-27-4-22-3-22-4-22-9-22-14-27-11z"/>
<path fill="#065426" d="M4823 3188l27 4 27-3 22-13-27 4-27-1z"/>
<path fill="#0b5a27" d="M4867 3189l27-5 21-1 22 5 27 9 22-15-27-9-22-4-22 2-26 5z"/>
<path fill="#074f26" d="M4954 3197l27 16 22 12 22 9 22 9 22 9 27 15 21-23-26-9-22-12-22-7-22-9-22-13-27-12z"/>
<path fill="#014823" d="M3269 2913l26 3 22 5 27 2 22-10-27-3-22-4-27-3z"/>
<path fill="#024723" d="M3356 2923l27 1 22 6 22 8 22 7 22 6 21 4 22 4 22 5 22 4 22 5 22 4 22 4 27 5 22-13-27-5-22-3-22-4-22-5-22-4-22-5-22-5-22-5-22-4-21-4-22-5-22-5-27-4z"/>
<path fill="#024923" d="M3641 2986l27 4 21 4 22 4 22 3 22 1 22 3 22 4 22 6 22 5 22 4 22 4 21 3 27 4 22-15-27 0-22-3-22-4-21-4-22-4-22-4-22-4-22-5-22-5-22-3-22-3-22-4-26-4z"/>
<path fill="#055528" d="M3925 3035l27 4 22 3 22 3 22 2 27 0 22-19-27 2-22-1-22-3-22-4-27-2z"/>
<path fill="#0a622c" d="M4035 3047l27-1 22-3 21-3 27-2 22-19-27 5-22 3-21 0-27 1z"/>
<path fill="#12682d" d="M4122 3038l27 1 27 4 22-20-27-6-27 2z"/>
<path fill="#0f5d29" d="M4166 3043l32 7 22-17-32-10z"/>
<path fill="#085426" d="M4188 3050l27 10 22 10 22 9 22 9 21 5 22 4 22 3 22 4 22 6 22 4 22 1 22-1 27 1 21-10-26-5-22-2-22-3-22-4-22-5-22-2-22 0-22-2-22-5-21-9-22-11-22-12-27-12z"/>
<path fill="#074920" d="M4473 3115l27 3 21 5 22 7 22 7 27 6 22-10-27-5-22-5-22-5-22-6-27-7z"/>
<path fill="#0b5323" d="M4648 3136l32-1 22-5-32-1z"/>
<path fill="#0a471e" d="M4670 3135l32 7 21-2-31-10z"/>
<path fill="#06411c" d="M4692 3142l26 12 22 11 22 8 27 9 22-9-27-6-22-4-22-10-27-13z"/>
<path fill="#064b22" d="M4779 3182l27 9 27 5 22-12-27-4-27-7z"/>
<path fill="#085b29" d="M4823 3196l27 1 27-2 22-19-27 5-27 3z"/>
<path fill="#0d602b" d="M4867 3195l27 1 27 4 21-20-27-5-26 1z"/>
<path fill="#0c5828" d="M4911 3200l31 8 22-19-32-9z"/>
<path fill="#064c25" d="M4932 3208l27 12 22 12 22 12 22 8 27 15 22-23-27-9-22-9-22-9-22-12-27-16z"/>
<path fill="#024a24" d="M3247 2923l27-3 21 2 22 2 22 1 22-1 27 4 22-6-27-6-22-1-22 0-22-2-22-5-26-3z"/>
<path fill="#014723" d="M3378 2928l27 8 22 12 22 7 22 4 21 4 22 4 22 5 22 5 22 4 22 5 22 4 22 5 27 4 21-13-26-4-22-4-22-5-22-4-22-4-22-5-22-4-22-5-22-4-21-4-22-6-22-7-27-8z"/>
<path fill="#024521" d="M3750 3000l27 5 22 8 22 8 22 4 22 3 22 5 26 6 22-12-27-4-21-3-22-4-22-4-22-5-22-6-27-4z"/>
<path fill="#034f26" d="M3903 3039l27 6 22 4 22 4 27 3 22-17-27-2-22-3-22-3-27-4z"/>
<path fill="#065a2a" d="M3991 3056l27 1 22-2 27-4 22-16-27 3-22 1-27 0z"/>
<path fill="#0e622c" d="M4057 3051l27-2 22 0 21 3 22 5 22 6 27 6 22-17-27-10-22-7-22-4-22-1-22 2-26 3z"/>
<path fill="#085426" d="M4188 3069l27 7 22 7 22 8 22 7 22 6 21 5 22 5 22 4 22 2 22 1 22-1 22-1 27 1 22-10-27-3-22-1-22 1-22-1-22-4-22-6-22-4-22-3-22-4-21-5-22-9-22-9-27-10z"/>
<path fill="#084d22" d="M4473 3120l27 4 21 7 22 7 27 6 22-9-27-6-22-7-22-7-26-5z"/>
<path fill="#0c5021" d="M4648 3134l32 6 22-6-32-7z"/>
<path fill="#07461f" d="M4670 3140l27 11 22 11 21 10 22 10 22 10 27 7 22-11-27-5-22-9-22-9-22-8-22-11-26-12z"/>
<path fill="#095627" d="M4801 3199l27 3 22 1 22 3 22 4 22 9 26 8 22-15-27-12-21-8-22-4-22-1-22 2-27-1z"/>
<path fill="#044722" d="M4932 3227l27 10 22 14 27 16 22-23-27-8-22-12-27-12z"/>
<path fill="#034e25" d="M3247 2924l27 3 22 2 21 2 22-2 27 0 22-9-27-4-22 1-22-1-22-2-26-2z"/>
<path fill="#024622" d="M3356 2929l27 7 22 12 22 9 22 5 22 3 22 4 21 7 22 5 22 5 22 4 22 5 27 4 22-12-27-5-22-4-22-5-22-4-22-5-22-5-22-4-21-4-22-4-22-7-22-12-27-8z"/>
<path fill="#034621" d="M3728 2996l27 5 22 11 22 9 22 4 22 3 22 5 22 8 22 8 26 6 22-14-27-4-22-6-21-6-22-5-22-3-22-4-22-8-22-8-27-5z"/>
<path fill="#035027" d="M3925 3055l27 5 22 3 27 1 22-15-27-1-22-3-27-4z"/>
<path fill="#095d2b" d="M3991 3064l27-2 22-3 22-2 22 1 22 4 26 7 22-20-27-5-21-3-22 0-22 2-22 4-27 2z"/>
<path fill="#0d5d2c" d="M4122 3069l27 8 22 5 27 3 22-17-27-7-22-6-27-6z"/>
<path fill="#075527" d="M4188 3085l27 4 22 8 22 10 22 8 22 5 21 2 22 0 22 0 22 1 22 2 22 0 22 1 27 2 22-12-27-4-22-1-22 1-22 1-22-1-22-2-22-4-22-5-21-5-22-6-22-7-22-8-27-7z"/>
<path fill="#095023" d="M4473 3128l27 4 22 6 21 6 27 3 22-10-27-1-22-6-22-7-26-7z"/>
<path fill="#0d5322" d="M4626 3135l27 8 27 12 22-12-27-11-27-6z"/>
<path fill="#08491f" d="M4670 3155l27 10 22 7 21 9 22 11 27 8 22-9-27-7-22-10-22-10-21-10-27-11z"/>
<path fill="#074e23" d="M4823 3203l27 4 22 9 22 10 22 9 27 10 21-16-27-10-21-8-22-9-22-4-27-3z"/>
<path fill="#034421" d="M4933 3245l26 9 27 17 22-12-27-16-27-14z"/>
<path fill="#034f26" d="M3225 2936l27-3 22 1 22 1 21 0 22-2 27 5 22-10-27-7-22 0-22 2-21-2-22-2-27-3z"/>
<path fill="#024522" d="M3356 2938l27 8 22 9 22 7 22 4 22 6 22 7 21 6 22 5 22 5 27 4 22-12-27-5-22-4-22-5-22-5-21-7-22-4-22-3-22-5-22-9-27-12z"/>
<path fill="#034922" d="M3707 2995l26 6 22 10 22 10 22 6 22 4 22 5 22 6 22 9 22 9 21 5 22 4 27 1 22-14-27-1-22-3-22-5-21-6-22-8-22-8-22-5-22-3-22-4-22-9-22-11-27-5z"/>
<path fill="#06592a" d="M3969 3070l27-1 22-1 27-1 22-18-27 2-22 3-27 2z"/>
<path fill="#0a5b2b" d="M4035 3067l27 1 22 4 22 9 22 9 21 4 22 0 27 2 22-15-27-4-22-3-22-5-22-8-21-7-22-4-27-1z"/>
<path fill="#065327" d="M4188 3096l27 9 22 12 22 9 22 4 22 1 22-3 21-3 22 2 27 4 22-14-27-2-22-1-22 0-22 0-21-2-22-5-22-8-22-10-27-8z"/>
<path fill="#0a5b28" d="M4385 3131l27 4 22 1 22 0 22-1 27 2 22-7-27-6-22-4-22-2-22-1-27 0z"/>
<path fill="#095022" d="M4495 3137l27 6 26 5 22-9-27-3-26-6z"/>
<path fill="#0e5b26" d="M4538 3148l27-1 22-7 22 0 22 9 22 13 27 7 22-12-27-10-22-12-22-8-22 2-22 6-27 4z"/>
<path fill="#0a4e21" d="M4670 3169l27 4 27 8 21-8-26-9-27-7z"/>
<path fill="#074a20" d="M4714 3181l27 11 21 8 27 1 22-7-27-2-22-8-27-11z"/>
<path fill="#064821" d="M4801 3200l27 6 22 12 22 11 22 10 22 14 27 18 21-25-26-9-22-10-22-9-22-10-22-9-27-4z"/>
<path fill="#044f25" d="M3225 2937l27 2 22 0 22-1 22 1 21 4 27 6 22-11-27-8-22-5-22 2-21 0-22-1-27-1z"/>
<path fill="#024622" d="M3356 2949l27 6 22 6 22 7 22 7 22 7 22 7 22 5 21 5 27 4 22-12-27-4-22-5-22-5-21-6-22-7-22-6-22-4-22-7-27-9z"/>
<path fill="#074b21" d="M3685 2997l27 6 26 9 22-9-27-10-26-6z"/>
<path fill="#044821" d="M3728 3012l27 10 22 9 27 8 22-16-27-4-22-6-27-10z"/>
<path fill="#044c24" d="M3794 3039l27 4 22 4 27 7 22-11-27-9-22-6-27-5z"/>
<path fill="#024823" d="M3860 3054l27 9 22 7 27 4 21-13-27-4-21-5-27-9z"/>
<path fill="#035127" d="M3926 3074l26 3 27 1 22-17-27 1-27-1z"/>
<path fill="#08592b" d="M3969 3078l27 1 22 1 22 1 22 5 22 7 22 7 22 3 21-1 27 2 22-16-27-2-22 0-21-4-22-9-22-9-22-4-22-1-22 1-27 1z"/>
<path fill="#044e25" d="M4166 3104l27 9 22 11 22 9 22 5 27 2 22-17-27-1-22-4-22-9-22-12-27-9z"/>
<path fill="#085b2b" d="M4276 3140l27-4 22-2 21 3 22 6 22 5 27 2 22-22-27-1-22-4-22-4-22-2-21 3-27 3z"/>
<path fill="#0b5f2a" d="M4407 3150l27-3 22-6 27-3 22-9-27-2-22 1-27 0z"/>
<path fill="#0b5524" d="M4473 3138l27 5 22 7 27 2 21-13-27 1-21-5-27-6z"/>
<path fill="#10632a" d="M4539 3152l26-3 22 0 27 8 22-16-27-9-22 0-27 7z"/>
<path fill="#0c5424" d="M4604 3157l27 11 22 5 22 4 27 6 22-10-27-8-22-4-22-7-27-13z"/>
<path fill="#084c22" d="M4692 3183l27 10 22 7 21 1 22 0 22 10 22 12 22 10 22 13 27 9 22-10-27-14-22-10-22-11-22-12-22-6-22 1-22-1-21-8-27-11z"/>
<path fill="#025027" d="M3203 2948l27-4 27-4 22-9-27 0-27-2z"/>
<path fill="#054e25" d="M3269 2940l27 5 22 6 21 4 22 3 27 7 22-12-27-6-22-6-22-6-21-4-27-1z"/>
<path fill="#024722" d="M3378 2965l27 8 22 7 22 5 22 7 27 7 22-13-27-5-22-7-22-7-22-7-27-7z"/>
<path fill="#074f23" d="M3619 2993l27 2 22 6 22 7 27 6 21-10-26-9-22-6-22-3-27 2z"/>
<path fill="#044822" d="M3707 3014l27 9 21 13 22 11 27 4 22-16-27-4-22-8-22-9-27-10z"/>
<path fill="#044d24" d="M3794 3051l27 2 27 4 22-11-27-7-27-4z"/>
<path fill="#024823" d="M3838 3057l27 9 22 8 22 5 27 4 21-14-26-3-22-4-22-7-27-9z"/>
<path fill="#045328" d="M3926 3083l26 3 22 3 27 3 22-20-27-1-22-1-27-1z"/>
<path fill="#06562a" d="M3991 3092l27 3 22 4 22 5 22 4 22 2 22 0 27 3 21-17-27-2-21 1-22-3-22-7-22-7-22-5-27-1z"/>
<path fill="#034c25" d="M4145 3113l26 6 22 10 22 8 22 6 22 4 27 1 22-20-27 4-22-2-22-5-22-9-22-11-27-9z"/>
<path fill="#0a5c2a" d="M4276 3148l27-1 22 4 22 5 21 5 22 0 22-5 22-8 22-5 22 3 22 8 27 5 22-15-27-2-22-7-22-5-22 3-22 6-22 3-22-2-22-5-22-6-21-3-27 2z"/>
<path fill="#10642b" d="M4517 3159l27 1 21 1 27 5 22-17-27-8-22 0-26 3z"/>
<path fill="#0b5424" d="M4582 3166l27 6 22 5 22 4 22 7 22 8 22 6 22 3 22 3 26 9 22-14-27-10-22 0-21-1-22-7-22-10-22-6-22-4-22-5-27-11z"/>
<path fill="#074a23" d="M4779 3217l27 12 22 14 22 10 27 22 22-28-27-9-22-13-22-10-27-12z"/>
<path fill="#044f25" d="M3181 2953l27-6 22 0 22 0 22 6 22 6 22 1 22 3 21 6 22 9 22 7 27 5 22-13-27-5-22-7-22-8-22-7-22-3-21-4-22-6-22-5-22 0-22 4-27 4z"/>
<path fill="#024723" d="M3422 2990l27 7 27 6 22-12-27-7-27-7z"/>
<path fill="#084f23" d="M3597 2994l27 3 22 7 22 6 27 6 22-10-27-6-22-7-22-6-27-2z"/>
<path fill="#034822" d="M3685 3016l27 8 22 14 21 12 22 5 22 2 22 4 22 8 22 8 22 5 22 5 22 4 22 4 26 4 22-15-27-3-22-3-21-3-22-4-22-5-22-8-22-9-22-4-22-2-22-4-22-11-21-13-27-9z"/>
<path fill="#045027" d="M3969 3099l27 4 22 4 22 4 22 4 22 3 22 1 22 1 22 5 26 8 22-12-27-10-21-6-22-3-22 0-22-2-22-4-22-5-22-4-27-3z"/>
<path fill="#024823" d="M4166 3133l27 8 22 6 27 5 22-13-27-4-22-6-27-8z"/>
<path fill="#055429" d="M4232 3152l27 4 22 3 22 4 22 4 27 2 21-16-26-5-22-5-22-4-22 1-27-1z"/>
<path fill="#0d5f2a" d="M4385 3161l27-6 22-3 22 3 22 7 22 6 22 3 22 2 22 2 21 2 27 3 22-11-27-5-22-6-22-5-21-1-22-1-22-5-22-8-22-3-22 5-27 8z"/>
<path fill="#0a5424" d="M4604 3180l27 4 22 8 22 8 22 7 22 3 22 3 27 9 21-13-26-9-22-3-22-3-22-6-22-8-22-7-27-4z"/>
<path fill="#064721" d="M4758 3222l26 12 22 18 27 23 22-30-27-10-22-14-27-12z"/>
<path fill="#045227" d="M3181 2961l27-5 22 2 22 3 22 3 22 1 27 3 22-13-27-3-22-1-22-6-22-6-22 0-27 0z"/>
<path fill="#024923" d="M3313 2968l27 6 21 9 22 8 22 5 22 6 27 5 22-12-27-6-22-7-22-5-22-7-22-9-26-6z"/>
<path fill="#095324" d="M3553 2998l27-2 22 3 27 6 22-9-27-7-22-3-27 2z"/>
<path fill="#074b21" d="M3619 3005l27 6 22 5 27 8 22-8-27-8-22-6-27-6z"/>
<path fill="#034420" d="M3685 3024l27 11 22 11 22 7 21 5 22 5 22 7 22 8 22 5 22 5 22 5 27 5 22-11-27-4-22-4-22-5-22-5-22-8-22-8-22-4-22-2-22-5-21-12-27-14z"/>
<path fill="#024c25" d="M3926 3098l27 5 21 3 22 4 22 6 22 5 22 4 27 3 22-17-27-1-22-3-22-4-22-4-22-4-22-4-26-4z"/>
<path fill="#044f26" d="M4079 3128l27 1 22 3 27 6 21-13-26-8-22-5-27-1z"/>
<path fill="#024b24" d="M4145 3138l27 7 21 6 22 6 22 5 22 4 22 4 27 2 22-13-27-4-22-4-22-3-22-4-22-5-22-6-27-8z"/>
<path fill="#0a5f2b" d="M4364 3163l26 0 27 3 22-22-27 3-27 6z"/>
<path fill="#0d602b" d="M4407 3166l27 3 22 4 22 4 22 3 22 2 22 0 27 0 21-13-26-2-22-2-22-2-22-3-22-6-22-7-27-3z"/>
<path fill="#0c5926" d="M4561 3182l26 1 27 3 22-10-27-4-27-3z"/>
<path fill="#0a5324" d="M4604 3186l27 8 22 12 22 8 22 1 22 6 22 7 27 11 21-13-26-12-22-9-22-3-22-3-22-7-22-8-27-8z"/>
<path fill="#043f1e" d="M4758 3239l27 18 26 23 22-13-27-23-27-18z"/>
<path fill="#045026" d="M3181 2970l27-4 22 1 22 2 22 1 22 2 27 6 22-12-27-6-22-3-22-1-22-3-22-3-27-2z"/>
<path fill="#024722" d="M3313 2978l27 9 22 8 21 6 27 4 22-11-27-6-22-5-22-8-26-9z"/>
<path fill="#095324" d="M3532 3000l27-2 21 3 22 4 27 6 22-8-27-6-22-6-22-3-27 2z"/>
<path fill="#084b21" d="M3619 3011l27 5 27 7 22-7-27-8-27-5z"/>
<path fill="#03431f" d="M3663 3023l27 8 22 10 22 7 22 7 21 8 22 7 22 7 22 6 22 5 22 6 22 6 22 4 27 4 21-10-26-3-22-5-22-5-22-5-22-5-22-5-22-8-22-7-22-5-21-5-22-7-22-11-27-11z"/>
<path fill="#024a24" d="M3948 3108l27 5 21 6 22 6 22 5 22 4 22 2 22 3 22 3 22 6 22 7 21 6 22 5 27 4 22-12-27-4-22-5-22-6-21-6-22-7-22-6-22-3-22-1-22-3-22-4-22-5-22-6-27-4z"/>
<path fill="#024c25" d="M4232 3170l27 4 22 1 27-4 22-8-27 1-22-2-27-4z"/>
<path fill="#095929" d="M4320 3167l27 0 22 6 26 6 22-21-27-3-21 0-27 3z"/>
<path fill="#0b5e2a" d="M4385 3179l27 4 22 1 22 2 22 2 22 1 22 0 22-1 22-1 27 2 21-11-27-3-21-1-22 0-22 0-22-2-22-3-22-4-22-4-27-3z"/>
<path fill="#0a5224" d="M4583 3189l26 8 22 12 22 9 22 5 22 7 22 10 27 13 22-22-27-11-22-7-22-6-22-1-22-8-22-12-27-8z"/>
<path fill="#074823" d="M4736 3253l32 10 22-14-32-18z"/>
<path fill="#034f26" d="M3160 2974l26-2 22 3 22 1 22 0 22 2 22 5 27 8 22-12-27-9-22-6-22-2-22-1-22-2-22-1-27 4z"/>
<path fill="#024722" d="M3313 2991l32 7 22-11-32-8z"/>
<path fill="#0a5223" d="M3532 2997l27 4 21 6 22 6 22 4 27 4 22-6-27-7-22-5-22-6-22-4-26-3z"/>
<path fill="#04431f" d="M3641 3021l27 7 22 8 22 8 22 8 22 8 22 8 21 7 22 7 22 6 22 6 22 4 22 6 27 6 22-10-27-4-22-4-22-6-22-6-22-5-22-6-22-7-22-7-21-8-22-7-22-7-22-10-27-8z"/>
<path fill="#024823" d="M3926 3110l27 6 22 5 21 6 22 6 22 5 22 5 22 2 22 1 22 5 22 7 22 7 22 5 26 4 22-12-27-4-22-5-21-6-22-7-22-6-22-3-22-3-22-2-22-4-22-5-22-6-21-6-27-5z"/>
<path fill="#014924" d="M4210 3174l32 3 22-11-32-4z"/>
<path fill="#085929" d="M4276 3173l27 0 22 4 22 7 22 6 22 2 21 1 22 0 22 1 22 1 27 1 22-15-27 0-22-1-22-2-22-2-22-1-22-4-21-6-22-6-22 0-27 4z"/>
<path fill="#0d5f29" d="M4495 3196l27-1 22-2 27 1 22-13-27-2-22 1-27 1z"/>
<path fill="#0c5624" d="M4561 3194l32 5 21-10-31-8z"/>
<path fill="#084d23" d="M4583 3199l26 10 22 9 22 9 22 11 22 12 22 15 27 19 22-29-27-10-22-13-22-10-22-7-22-5-22-9-27-12z"/>
<path fill="#034f26" d="M3160 2983l26-2 22 2 22-1 22 3 22 4 22 7 27 3 22-9-27-7-22-8-22-5-22-2-22 0-22-1-27-3z"/>
<path fill="#0b5524" d="M3510 2996l27 7 22 10 22 6 21 1 22 2 27 5 22-7-27-7-22-4-22-4-22-6-21-6-27-4z"/>
<path fill="#07461e" d="M3641 3027l27 8 22 6 22 7 27 6 22-2-27-8-22-8-22-8-27-8z"/>
<path fill="#04431f" d="M3751 3062l27 7 21 8 22 9 22 6 22 4 22 7 22 9 27 7 22-11-27-6-22-6-22-6-22-4-22-6-22-6-22-7-26-7z"/>
<path fill="#024823" d="M3926 3119l27 3 22 2 22 8 21 10 22 6 22 3 22 0 22 4 22 7 22 6 22 4 22 3 26 1 22-7-27-3-21-4-22-5-22-7-22-7-22-5-22-1-22-2-22-5-22-5-22-6-21-6-27-5z"/>
<path fill="#065427" d="M4232 3175l27 2 22 6 22 6 22 5 22 4 22 1 22-1 21 0 22 1 27 1 22-13-27-1-22-1-22 0-21-1-22-2-22-6-22-7-22-4-22 0-27 2z"/>
<path fill="#0c5c27" d="M4451 3200l27 1 22 1 22-1 22 0 22 3 27 6 21-9-26-10-22-5-22-1-22 2-22 1-27-1z"/>
<path fill="#074a21" d="M4583 3210l27 9 21 14 22 13 22 12 27 13 22-14-27-15-22-12-22-11-22-9-27-9z"/>
<path fill="#034221" d="M4692 3271l32 17 22-12-32-19z"/>
<path fill="#035127" d="M3160 2991l27-4 21 5 22 2 22 3 22 4 27 0 22-10-27-3-22-7-22-4-22-3-22 1-27-2z"/>
<path fill="#0c5a27" d="M3444 3003l27-3 22 1 22 10 22 12 22 7 22-1 21-1 22 2 27 5 22-8-27-8-22-5-22-2-21-1-22-6-22-10-22-7-22 1-27 4z"/>
<path fill="#094c20" d="M3641 3035l27 5 22 5 27 5 22-4-27-6-22-7-27-6z"/>
<path fill="#05441f" d="M3707 3050l27 5 22 5 22 9 22 12 21 9 22 8 22 7 22 8 22 6 22 2 22 3 22 9 27 12 21-11-26-10-22-8-22-2-22-3-22-7-22-9-22-7-22-4-22-6-22-9-21-8-22-7-27-8z"/>
<path fill="#024923" d="M3992 3145l26 7 22 4 22 1 22 3 22 5 22 4 27 2 22-7-27-4-22-6-22-7-22-4-22 0-22-3-27-6z"/>
<path fill="#044d25" d="M4167 3173l27 3 22 3 21 4 22 6 22 6 22 5 27 3 22-13-27-4-22-5-22-6-22-6-22-2-22 1-26-1z"/>
<path fill="#095726" d="M4408 3200l26 2 22 3 27 2 22-13-27-1-22-1-27-1z"/>
<path fill="#0d5e28" d="M4473 3207l27 0 22 1 22 4 27 5 22-15-27-6-22-3-22 0-27 1z"/>
<path fill="#0a4f23" d="M4561 3217l27 10 27 14 21-16-26-14-27-9z"/>
<path fill="#064922" d="M4605 3241l26 15 22 12 27 9 22-14-27-13-22-12-27-13z"/>
<path fill="#035228" d="M3160 3000l27 4 21-3 22 5 22 1 27-3 22-11-27 0-22-4-22-3-22-2-26-5z"/>
<path fill="#095827" d="M3291 3000l27-4 22-4 27-3 22-4-27-5-22 1-27 6z"/>
<path fill="#094e21" d="M3357 2989l27 3 22 8 26 5 22-10-27-1-22-4-26-5z"/>
<path fill="#0c5927" d="M3422 3005l27 1 22 4 22 12 22 14 22 6 22-1 22-4 22 0 21 2 22 3 22 4 22 4 27 2 22-5-27-5-22-5-22-5-22-5-22-5-22-2-21 1-22 1-22-7-22-12-22-10-22-1-27 3z"/>
<path fill="#064a22" d="M3707 3052l27 8 22 11 22 13 22 12 21 8 22 6 22 5 22 3 22 3 27 6 22-11-27-3-22-2-22-6-22-8-22-7-22-8-21-9-22-12-22-9-27-5z"/>
<path fill="#024822" d="M3926 3127l27 10 22 11 22 7 22 4 21 4 22 2 22 3 27 1 22-8-27-4-22-5-22-3-22-1-22-4-21-7-22-12-27-9z"/>
<path fill="#044b23" d="M4123 3170l27 3 22 6 22 7 22 3 21 2 22 4 22 7 27 5 22-12-27-3-22-5-22-6-22-6-21-4-22-3-22-3-27-2z"/>
<path fill="#095625" d="M4364 3199l27 2 22 3 21 4 22 3 27 3 22-15-27 0-22-2-22-3-21-2-27-1z"/>
<path fill="#0d5c29" d="M4473 3214l27 3 22 5 22 6 27 9 22-18-27-10-22-5-22-4-27-1z"/>
<path fill="#084b22" d="M4561 3237l27 12 27 13 21-14-26-15-27-14z"/>
<path fill="#044622" d="M4605 3262l27 15 26 15 22-23-27-9-27-12z"/>
<path fill="#035429" d="M3182 3013l27 4 21-4 22-1 27-4 22-16-27 4-22 3-22-1-27-5z"/>
<path fill="#0a602a" d="M3269 3008l27-1 22-7 22-3 27 0 22-13-27-3-22 3-22 4-27 4z"/>
<path fill="#0a5626" d="M3357 2997l27 4 22 5 21 6 22 8 22 12 22 12 22 5 27-1 22-15-27 1-22-6-22-14-22-12-22-4-22-1-21-5-27-8z"/>
<path fill="#0e5e29" d="M3532 3048l27-3 22-2 22 0 21 4 22 5 22 6 22 8 22 9 27 10 22-22-27-11-22-8-22-2-22-4-22-4-22-3-21-2-22 0-27 4z"/>
<path fill="#075025" d="M3729 3085l27 12 22 10 22 7 22 2 21 0 27 1 22-7-27-3-22-5-22-6-21-8-22-12-27-13z"/>
<path fill="#044620" d="M3860 3117l27 5 22 9 22 9 22 9 27 6 22-8-27-7-22-11-22-10-22-6-27-3z"/>
<path fill="#034b24" d="M3992 3160l27 4 21 3 22 3 22 2 22 2 22 4 22 6 22 5 27 2 22-10-27-3-22-7-22-6-22-3-22-1-22-1-22-3-22-2-26-4z"/>
<path fill="#044721" d="M4211 3191l27 3 26 7 22-7-27-7-27-4z"/>
<path fill="#0a5827" d="M4320 3201l27-1 22 4 22 5 22 4 22 4 21 4 22 5 22 6 22 8 22 10 27 7 22-16-27-12-22-9-22-6-22-5-22-3-22-3-22-3-21-4-22-3-22-2-27 2z"/>
<path fill="#054621" d="M4561 3257l27 9 27 15 22-12-27-15-27-13z"/>
<path fill="#024120" d="M4605 3281l32 16 21-13-31-15z"/>
<path fill="#05592c" d="M3204 3026l26-8 27 3 22-21-27 4-27 1z"/>
<path fill="#0c5f2b" d="M3247 3021l27-3 22-6 22-1 22-4 22 2 22 4 22 7 27 11 21-19-27-8-21-6-22-5-22-4-22 0-22 3-22 7-27 1z"/>
<path fill="#085125" d="M3423 3031l26 8 22 7 27 3 22-8-27-5-22-12-27-12z"/>
<path fill="#0d5f2a" d="M3510 3050l27-1 22-1 22 4 22 5 27 10 21-23-27-5-21-4-22 0-22 2-27 3z"/>
<path fill="#126130" d="M3620 3067l26 8 22 7 22 10 22 9 27 8 22-20-27-12-22-10-22-9-22-8-27-6z"/>
<path fill="#065126" d="M3729 3109l27 7 22 4 22 1 22-4 21 1 27 6 22-10-27-5-22-1-21 0-22-2-22-7-27-10z"/>
<path fill="#044620" d="M3860 3124l27 9 22 9 22 7 27 4 22-6-27-6-22-9-22-9-27-9z"/>
<path fill="#034721" d="M3970 3156l27 3 22 6 22 7 26 6 22-14-27-2-22-3-21-3-27-4z"/>
<path fill="#044f25" d="M4057 3178l27 4 22 3 22 2 27 1 22-7-27-5-22-6-22-4-27-2z"/>
<path fill="#054821" d="M4189 3190l27 3 27 6 21-6-26-7-27-3z"/>
<path fill="#095627" d="M4298 3203l27 2 22 5 22 6 22 5 22 4 22 4 21 5 22 7 22 9 22 11 22 7 27 9 22-19-27-9-22-7-22-10-22-8-22-6-22-5-21-4-22-4-22-4-22-5-22-4-27 1z"/>
<path fill="#044722" d="M4561 3277l32 9 22-13-32-15z"/>
<path fill="#096231" d="M3226 3039l26-13 27 3 22-25-27 6-27 3z"/>
<path fill="#0e6730" d="M3269 3029l27-3 22-5 22 1 27 0 22-17-27-4-22-2-22 4-27 1z"/>
<path fill="#0a5828" d="M3357 3022l27 10 22 11 22 4 21 2 22 3 22 2 22 3 27 4 22-21-27 1-22 1-22-1-22-3-22-7-21-8-22-11-27-7z"/>
<path fill="#106030" d="M3532 3061l27 6 22 6 22 7 22 11 21 7 22 10 22 8 27 6 22-21-27-8-22-9-22-10-22-7-21-8-22-10-22-5-27-4z"/>
<path fill="#065327" d="M3707 3122l27 2 22 0 22 0 22-3 22 0 27 6 21-11-27-6-21-1-22 4-22-1-22-4-27-7z"/>
<path fill="#054821" d="M3839 3127l26 8 22 9 22 6 27 3 22-8-27-4-22-7-22-9-27-9z"/>
<path fill="#044721" d="M3948 3154l27 2 22 7 22 11 22 10 26 6 22-16-27-4-21-6-22-7-22-6-27-3z"/>
<path fill="#045126" d="M4057 3190l27 1 27-2 22-10-27-2-27-3z"/>
<path fill="#064b21" d="M4145 3186l27 3 22 3 27 4 22-5-27-6-22-3-27-1z"/>
<path fill="#074e22" d="M4233 3199l27 3 26 4 22-11-27 1-27-1z"/>
<path fill="#095526" d="M4276 3206l27 5 22 6 22 6 22 6 22 5 22 3 22 4 22 6 26 9 22-14-27-9-22-7-21-5-22-4-22-4-22-5-22-6-22-5-27-2z"/>
<path fill="#054a23" d="M4473 3256l27 10 22 9 22 11 27 15 22-23-27-9-22-9-22-7-27-11z"/>
<path fill="#0a6233" d="M3226 3047l26 5 27-15 22-19-27 3-27-3z"/>
<path fill="#116a35" d="M3269 3037l27 3 22-2 27-2 22-22-27 0-22-1-27 5z"/>
<path fill="#0d5c2c" d="M3335 3036l27 9 27 7 22-17-27-11-27-10z"/>
<path fill="#095929" d="M3379 3052l27 2 22 3 22 5 21 3 27 5 22-21-27-3-22-2-22-3-21-2-27-4z"/>
<path fill="#0e5e2f" d="M3488 3070l27 5 22 8 22 6 22 5 22 10 22 9 27 4 21-17-27-10-21-7-22-11-22-7-22-6-22-6-27-4z"/>
<path fill="#065428" d="M3642 3117l26 16 22 5 22-8 22-2 22-1 22-2 22 1 27 5 22-12-27-6-22 0-22 3-22 0-22 0-22-2-22-6-27-8z"/>
<path fill="#054a22" d="M3817 3131l27 7 21 8 22 7 22 4 22 0 22 1 22 7 22 11 22 10 22 6 27 1 21-10-27-1-21-6-22-10-22-11-22-7-22-2-22-1-22-3-22-6-22-9-26-8z"/>
<path fill="#085124" d="M4123 3187l32 1 22-7-32-3z"/>
<path fill="#085023" d="M4167 3190l27 2 22 4 22 6 22 8 21 7 22 5 22 6 22 7 27 6 22-15-27-5-22-6-22-6-22-6-22-5-21-4-22-3-22-3-27-4z"/>
<path fill="#085426" d="M4364 3241l27 3 22 3 27 3 22-11-27-6-22-4-27-3z"/>
<path fill="#054821" d="M4430 3250l27 10 21 10 22 9 27 11 22-12-27-11-22-9-22-10-26-9z"/>
<path fill="#024221" d="M4517 3290l32 15 22-12-32-15z"/>
<path fill="#106635" d="M3248 3060l26 5 22-16 22 5 22 5 27 1 22-16-27-7-22-9-22 2-22 2-27-3z"/>
<path fill="#0a5a2c" d="M3357 3060l27 1 22 7 22 6 22 3 21 7 22 4 22 9 27 7 22-23-27-6-22-8-22-5-22-5-21-3-22-5-22-3-27-2z"/>
<path fill="#0c5b2f" d="M3532 3104l27 4 27 4 22-16-27-10-27-5z"/>
<path fill="#08512a" d="M3576 3112l32 17 22-24-32-9z"/>
<path fill="#055125" d="M3663 3142l27-8 22-2 22 0 22-1 22 1 22 4 22 6 22 7 22 8 21 4 22 1 22 1 27 6 22-12-27-7-22-1-22 0-22-4-22-7-21-8-22-7-22-5-22-1-22 2-22 1-22 2-27 8z"/>
<path fill="#044821" d="M3948 3169l27 9 22 9 22 5 27 3 22-10-27-1-22-6-22-10-27-11z"/>
<path fill="#075727" d="M4036 3195l27-1 21-2 22-1 27-1 22-10-27-1-22 1-22 3-26 2z"/>
<path fill="#085224" d="M4145 3190l27 1 22 5 22 8 22 10 22 8 22 5 21 6 22 8 22 6 22 3 22 1 22 4 27 10 22-13-27-10-22-3-22-3-22-3-22-6-22-7-22-6-22-5-21-7-22-8-22-6-22-4-27-2z"/>
<path fill="#044822" d="M4430 3265l27 11 22 11 26 7 22-12-27-11-22-9-26-10z"/>
<path fill="#0c5f31" d="M3291 3078l27 4 22-15 22 7 22 7 27 5 22-20-27-6-22-7-22-1-22-1-27-5z"/>
<path fill="#08562c" d="M3401 3086l27 1 22 8 22 6 21 4 22 16 27 4 22-25-27-4-22-7-22-9-22-4-21-7-27-3z"/>
<path fill="#055226" d="M3642 3146l27-7 21-1 22 0 22-1 22 0 22 5 22 6 22 6 22 4 27 2 21-7-26-4-22-8-22-7-22-6-22-4-22-1-22 1-22 0-22 2-27 8z"/>
<path fill="#054c23" d="M3882 3162l27 4 22 6 22 9 22 8 22 6 22 3 27 3 22-15-27 1-22-3-22-5-22-9-22-9-22-6-27-1z"/>
<path fill="#0b5e2a" d="M4036 3201l27 1 22-1 21-2 22 0 22 2 22 4 27 4 22-13-27-8-22-5-22-1-22 0-22 1-22 1-26 2z"/>
<path fill="#075225" d="M4189 3209l27 8 22 8 22 7 22 8 21 8 22 6 22 3 22 2 22 5 22 8 27 11 22-15-27-11-22-10-22-4-22-1-22-3-22-6-22-8-21-6-22-5-22-8-27-10z"/>
<path fill="#044723" d="M4430 3283l27 12 27 15 21-24-26-7-27-11z"/>
<path fill="#07552c" d="M3357 3099l27 4 22-9 22 18 27 4 22-23-27-6-22-8-22-1-27-5z"/>
<path fill="#055427" d="M3620 3151l27-6 22 0 21 1 22-2 22 0 22 5 22 6 22 3 27 0 22-8-27-4-22-6-22-6-22-5-22 0-22 1-22 0-21 1-27 7z"/>
<path fill="#064d23" d="M3839 3158l27 2 22 5 21 8 22 12 22 9 22 7 22 6 27 5 22-19-27-3-22-3-22-6-22-8-22-9-22-6-22-4-26-2z"/>
<path fill="#075b2b" d="M4014 3212l27 2 27 0 22-21-27 1-27-1z"/>
<path fill="#0e632e" d="M4058 3214l27-1 21 1 22 4 22 3 22 1 27 0 22-13-27-8-22-4-22-4-22-2-22 0-26 2z"/>
<path fill="#075226" d="M4189 3222l27 6 22 10 22 10 22 9 22 6 21 4 22 4 22 4 22 8 27 10 22-18-27-11-22-8-22-5-22-2-22-3-22-6-21-8-22-8-22-7-27-8z"/>
<path fill="#044823" d="M4408 3293l32 7 22-13-32-12z"/>
<path fill="#065426" d="M3620 3151l27 0 22 2 22-1 21 0 22 5 22 5 22 1 22-2 22-1 22 4 22 6 22 10 26 11 22-14-27-12-21-8-22-5-22-2-22 0-22 0-22-3-22-6-22-5-22 0-22 2-21-1-27 0z"/>
<path fill="#044d24" d="M3904 3191l27 9 22 7 22 6 27 6 22-15-27-5-22-6-22-7-27-9z"/>
<path fill="#055629" d="M3992 3219l27 3 27 1 22-17-27 0-27-2z"/>
<path fill="#0b602e" d="M4036 3223l27 3 22 2 22 4 21 2 22-1 22-2 27 4 22-15-27-6-22 0-22-1-22-3-22-4-21-1-27 1z"/>
<path fill="#065127" d="M4189 3235l27 11 22 11 22 9 22 5 22 5 21 6 22 5 22 5 22 10 27 12 22-22-27-7-22-10-22-8-22-4-22-4-21-4-22-6-22-9-22-10-27-10z"/>
<path fill="#055428" d="M3598 3156l27 0 22 3 22 2 22 2 21 3 22 3 27 2 22-16-27-1-22-5-22-5-21 0-22 1-22-2-27 0z"/>
<path fill="#0a5b2a" d="M3751 3171l27 0 22 3 22 4 22 5 27 5 22-16-27-10-22-6-22-4-22 1-27 2z"/>
<path fill="#054f26" d="M3861 3188l27 10 22 9 21 6 22 5 22 6 22 6 27 3 22-18-27-1-22-3-22-6-22-6-22-7-22-9-26-11z"/>
<path fill="#0a5c2d" d="M4014 3233l27 5 22 4 22 3 22 0 21-3 22 1 22 6 27 8 22-19-27-11-22-4-22 2-22 1-21-2-22-4-22-2-27-3z"/>
<path fill="#055027" d="M4189 3257l27 7 22 8 22 6 22 5 22 9 22 6 21 5 27 3 22-12-27-10-22-5-22-5-21-6-22-5-22-5-22-9-27-11z"/>
<path fill="#024623" d="M4364 3306l32 12 22-12-32-12z"/>
<path fill="#045328" d="M3576 3160l27 4 22 0 22 4 22 5 22 3 22 3 26 2 22-18-27-2-22-3-21-3-22-2-22-2-22-3-27 0z"/>
<path fill="#095a2c" d="M3729 3181l27 2 22 3 22 6 22 5 22 2 27 9 22-18-27-10-22-5-22-5-22-4-22-3-27 0z"/>
<path fill="#055028" d="M3861 3208l27 9 22 5 21 5 22 2 22 16 27 5 22-25-27-3-22-6-22-6-22-5-21-6-27-9z"/>
<path fill="#08592c" d="M4036 3258l27 4 22-9 22 1 22 2 21 5 22 7 27 5 22-17-27-7-22-8-22-6-22-1-21 3-22 0-27-3z"/>
<path fill="#044e27" d="M4189 3273l27 8 22 7 22 5 22 5 22 12 27 4 21-19-26-5-22-6-22-9-22-5-22-6-27-8z"/>
<path fill="#014421" d="M2919 3039l27 5 22 4 27 4 22-4-27-12-22 3-27-4z"/>
<path fill="#035027" d="M3554 3164l27 4 22 5 22 2 22 5 22 5 22 3 27 3 21-18-26-2-22-3-22-3-22-5-22-4-22 0-27-4z"/>
<path fill="#06542a" d="M3708 3191l26 1 22 3 22 8 22 7 22 4 22 3 22 15 22 5 27 4 21-22-26-5-22-5-22-9-22-9-22-2-22-5-22-6-22-3-27-2z"/>
<path fill="#07572b" d="M4058 3271l27-8 22 6 22 2 21 9 27 5 22-20-27-5-22-7-21-5-22-2-27-1z"/>
<path fill="#044e27" d="M4167 3285l27 4 22 12 27 4 22-20-27-5-22-7-27-8z"/>
<path fill="#024823" d="M2854 3035l27 4 22 5 21 4 22 4 27 5 22-13-27-4-22-4-22-5-21-4-27-4z"/>
<path fill="#014120" d="M2963 3057l32 12 22-12-32-13z"/>
<path fill="#034f27" d="M3511 3172l27-4 21 5 22 4 22 3 22 6 22 6 22 5 22 3 22 2 22 2 21 5 22 15 27 4 22-22-27-4-22-7-22-8-22-3-21-1-22-3-22-3-22-5-22-5-22-2-22-5-22-4-27 4z"/>
<path fill="#045129" d="M4080 3284l27-6 22 15 27 4 21-20-27-5-21-9-27-2z"/>
<path fill="#024b24" d="M2832 3047l27-3 22 4 22 4 22 5 26 4 22-12-27-5-22-4-21-4-22-5-27-4z"/>
<path fill="#014321" d="M2941 3061l32 4 22-4-32-12z"/>
<path fill="#024d26" d="M3489 3176l27 5 22-4 21 6 22 5 22 6 22 5 22 4 22 8 27 4 22-21-27-2-22-3-22-5-22-6-22-6-22-3-22-4-21-5-27 4z"/>
<path fill="#024a24" d="M2810 3052l27-4 22 4 22 5 22 4 22 4 26 5 22-13-27-4-21-4-22-5-22-4-22-4-27 3z"/>
<path fill="#024a24" d="M2788 3056l27-4 22 5 22 4 22 4 22 5 27 4 21-12-26-5-22-4-22-4-22-5-22-4-27 4z"/>
<path fill="#014321" d="M2920 3074l32 4 21-4-32-12z"/>
<path fill="#024924" d="M2788 3057l27 4 22 4 22 5 22 4 22 4 27 4 22-12-27-4-22-4-22-5-22-4-22-4-27-5z"/>
<path fill="#024a24" d="M2767 3069l26-4 22 5 22 4 22 4 22 4 27 5 22-13-27-4-22-4-22-4-22-5-22-4-27-4z"/>
<path fill="#014522" d="M2898 3087l32 12 22-12-32-13z"/>
<path fill="#024b25" d="M2745 3073l27-3 21 4 22 4 22 4 22 5 27 12 22-20-27-5-22-4-22-4-22-4-22-5-26 4z"/>
<path fill="#024c25" d="M2745 3074l27 4 22 4 26 13 22-21-27-4-22-4-26-4z"/>
<path fill="#045129" d="M2723 3086l27 4 27 5 22-21-27-4-27-4z"/>
</g>
<path d="M502 278.3L509.2 285.5M502 285.5L509.2 278.3" stroke="#4dbeee" stroke-width="3.2" fill="none"/>
<path d="M479.4 277.0C477.8 275.6 478.8 274.4 482 273.8C488 273.0 500 272.8 512.6 274.3C518 275.2 523 276.8 529.4 278.7C535 280.2 541 279.4 547.0 277.4C541 279.8 535 281.2 529 282.2C523 283.2 515 283.6 507.3 283.0C500 282.4 493 281.0 486 279.4C483 278.6 480.8 278.0 479.4 277.0Z" stroke="#d95319" stroke-width="3.7" fill="none" stroke-linejoin="round"/>
<path d="M409.5 106L504.3 280.3" stroke="#808080" stroke-width="3.6" fill="none"/>
<path d="M525.4 100L504.7 280.3" stroke="#808080" stroke-width="3.4" fill="none"/>
<path d="M399.85 110.83L418.95 110.83L409.4 94.53ZM407.1 106.8L409.4 102.9L411.7 106.8Z" fill="#d95319" fill-rule="evenodd"/><path d="M515.85 91.97L534.95 91.97L525.4 108.27ZM523.1 96L525.4 99.9L527.7 96Z" fill="#d95319" fill-rule="evenodd"/><circle cx="525.4" cy="98" r="0.9" fill="#000"/>
<defs><linearGradient id="cb" x1="0" y1="0" x2="0" y2="1"><stop offset="0.00" stop-color="#662b00"/><stop offset="0.05" stop-color="#754209"/><stop offset="0.10" stop-color="#855c15"/><stop offset="0.15" stop-color="#947723"/><stop offset="0.20" stop-color="#a39334"/><stop offset="0.25" stop-color="#b2ae47"/><stop offset="0.30" stop-color="#bbc25d"/><stop offset="0.35" stop-color="#c1d175"/><stop offset="0.40" stop-color="#cae090"/><stop offset="0.45" stop-color="#d5f0ad"/><stop offset="0.50" stop-color="#e6ffcc"/><stop offset="0.55" stop-color="#c7f0ad"/><stop offset="0.60" stop-color="#a8e090"/><stop offset="0.65" stop-color="#87d175"/><stop offset="0.70" stop-color="#67c25d"/><stop offset="0.75" stop-color="#47b247"/><stop offset="0.80" stop-color="#34a33f"/><stop offset="0.85" stop-color="#23943a"/><stop offset="0.90" stop-color="#158537"/><stop offset="0.95" stop-color="#097535"/><stop offset="1.00" stop-color="#006633"/></linearGradient></defs>
<rect x="962.5" y="32.5" width="20" height="348" fill="url(#cb)" stroke="#262626" stroke-width="1"/>
<g stroke="#262626" stroke-width="1">
<path d="M982.5 337h-3.5"/>
<path d="M982.5 292.32h-3.5"/>
<path d="M982.5 247.64h-3.5"/>
<path d="M982.5 202.96h-3.5"/>
<path d="M982.5 158.28h-3.5"/>
<path d="M982.5 113.6h-3.5"/>
<path d="M982.5 68.92h-3.5"/>
</g>
<g font-size="12" fill="#262626">
<text x="988.5" y="342.3">100</text>
<text x="988.5" y="297.62">150</text>
<text x="988.5" y="252.94">200</text>
<text x="988.5" y="208.26">250</text>
<text x="988.5" y="163.58">300</text>
<text x="988.5" y="118.9">350</text>
<text x="988.5" y="74.22">400</text>
</g>
<text transform="translate(1024.5 206) rotate(-90)" font-size="12" fill="#262626" text-anchor="middle">Height (m)</text>
<rect x="751.5" y="43.5" width="162" height="89" fill="#fff" stroke="#262626" stroke-width="1"/>
<rect x="755" y="46.8" width="39.5" height="10.2" fill="#229142"/>
<path d="M765.53 71.96L783.67 71.96L774.6 56.48ZM772.42 68.13L774.6 64.43L776.78 68.13Z" fill="#d95319" fill-rule="evenodd"/>
<path d="M755 80.8h39.5" stroke="#000" stroke-width="2"/>
<path d="M765.53 89.14L783.67 89.14L774.6 104.62ZM772.42 92.97L774.6 96.67L776.78 92.97Z" fill="#d95319" fill-rule="evenodd"/>
<path d="M770.9 105.3L778.3 112.7M770.9 112.7L778.3 105.3" stroke="#4dbeee" stroke-width="3.6" fill="none"/>
<path d="M755 123.4h39.5" stroke="#d95319" stroke-width="4"/>
<g font-size="12" fill="#262626">
<text x="798.3" y="56">Ground</text>
<text x="798.3" y="70.33">Transmitter</text>
<text x="798.3" y="84.66">Receiver Path</text>
<text x="798.3" y="98.99">Receiver Start</text>
<text x="798.3" y="113.32">Scene Center</text>
<text x="798.3" y="127.65">Transmitter Footprint</text>
</g>
</svg>
</body></html>
